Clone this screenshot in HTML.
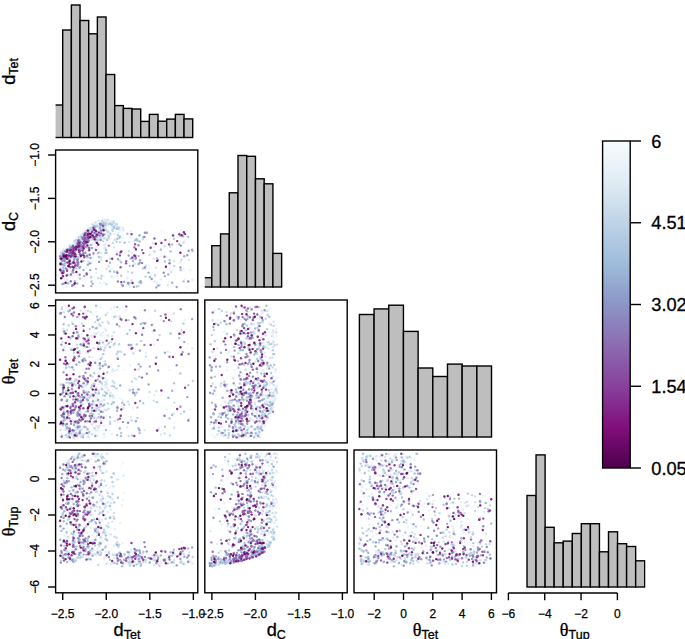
<!DOCTYPE html>
<html><head><meta charset="utf-8"><title>corner plot</title>
<style>html,body{margin:0;padding:0;background:#fff;}svg{display:block;}</style></head>
<body>
<svg width="685" height="639" viewBox="0 0 685 639" font-family="Liberation Sans, sans-serif">
<defs>
<linearGradient id="cb" x1="0" y1="1" x2="0" y2="0">
<stop offset="0.0000" stop-color="#4d004b"/>
<stop offset="0.1250" stop-color="#810f7c"/>
<stop offset="0.2500" stop-color="#88419d"/>
<stop offset="0.3750" stop-color="#8c6bb1"/>
<stop offset="0.5000" stop-color="#8c96c6"/>
<stop offset="0.6250" stop-color="#9ebcda"/>
<stop offset="0.7500" stop-color="#bfd3e6"/>
<stop offset="0.8750" stop-color="#e0ecf4"/>
<stop offset="1.0000" stop-color="#f7fcfd"/>
</linearGradient>
<clipPath id="c00"><rect x="55.60" y="0.00" width="142.20" height="142.90"/></clipPath>
<clipPath id="c10"><rect x="55.60" y="150.00" width="142.20" height="142.90"/></clipPath>
<clipPath id="c20"><rect x="55.60" y="300.00" width="142.20" height="142.90"/></clipPath>
<clipPath id="c30"><rect x="55.60" y="450.00" width="142.20" height="142.80"/></clipPath>
<clipPath id="c01"><rect x="204.80" y="0.00" width="142.40" height="142.90"/></clipPath>
<clipPath id="c11"><rect x="204.80" y="150.00" width="142.40" height="142.90"/></clipPath>
<clipPath id="c21"><rect x="204.80" y="300.00" width="142.40" height="142.90"/></clipPath>
<clipPath id="c31"><rect x="204.80" y="450.00" width="142.40" height="142.80"/></clipPath>
<clipPath id="c02"><rect x="354.00" y="0.00" width="142.50" height="142.90"/></clipPath>
<clipPath id="c12"><rect x="354.00" y="150.00" width="142.50" height="142.90"/></clipPath>
<clipPath id="c22"><rect x="354.00" y="300.00" width="142.50" height="142.90"/></clipPath>
<clipPath id="c32"><rect x="354.00" y="450.00" width="142.50" height="142.80"/></clipPath>
<clipPath id="c03"><rect x="503.20" y="0.00" width="142.40" height="142.90"/></clipPath>
<clipPath id="c13"><rect x="503.20" y="150.00" width="142.40" height="142.90"/></clipPath>
<clipPath id="c23"><rect x="503.20" y="300.00" width="142.40" height="142.90"/></clipPath>
<clipPath id="c33"><rect x="503.20" y="450.00" width="142.40" height="142.80"/></clipPath>
</defs>
<rect width="685" height="639" fill="#fff"/>
<g clip-path="url(#c00)" fill="#bebebe" stroke="#000" stroke-width="1.40" stroke-linejoin="miter">
<rect x="54.03" y="105.00" width="8.67" height="32.50"/>
<rect x="62.70" y="30.00" width="8.67" height="107.50"/>
<rect x="71.37" y="5.00" width="8.67" height="132.50"/>
<rect x="80.03" y="20.50" width="8.67" height="117.00"/>
<rect x="88.70" y="33.80" width="8.67" height="103.70"/>
<rect x="97.37" y="17.00" width="8.67" height="120.50"/>
<rect x="106.03" y="74.50" width="8.67" height="63.00"/>
<rect x="114.70" y="105.60" width="8.67" height="31.90"/>
<rect x="123.37" y="108.40" width="8.67" height="29.10"/>
<rect x="132.04" y="109.00" width="8.67" height="28.50"/>
<rect x="140.70" y="121.40" width="8.67" height="16.10"/>
<rect x="149.37" y="114.40" width="8.67" height="23.10"/>
<rect x="158.04" y="121.20" width="8.67" height="16.30"/>
<rect x="166.70" y="119.10" width="8.67" height="18.40"/>
<rect x="175.37" y="114.40" width="8.67" height="23.10"/>
<rect x="184.04" y="118.90" width="8.67" height="18.60"/>
</g>
<g clip-path="url(#c11)" fill="#bebebe" stroke="#000" stroke-width="1.40" stroke-linejoin="miter">
<rect x="203.07" y="277.70" width="8.73" height="9.30"/>
<rect x="211.80" y="245.70" width="8.73" height="41.30"/>
<rect x="220.53" y="233.90" width="8.73" height="53.10"/>
<rect x="229.26" y="192.80" width="8.73" height="94.20"/>
<rect x="237.99" y="155.50" width="8.73" height="131.50"/>
<rect x="246.72" y="156.30" width="8.73" height="130.70"/>
<rect x="255.45" y="178.80" width="8.73" height="108.20"/>
<rect x="264.18" y="183.80" width="8.73" height="103.20"/>
<rect x="272.91" y="253.40" width="8.73" height="33.60"/>
</g>
<g clip-path="url(#c22)" fill="#bebebe" stroke="#000" stroke-width="1.40" stroke-linejoin="miter">
<rect x="359.40" y="314.50" width="14.68" height="122.50"/>
<rect x="374.08" y="308.90" width="14.68" height="128.10"/>
<rect x="388.76" y="305.20" width="14.68" height="131.80"/>
<rect x="403.44" y="331.40" width="14.68" height="105.60"/>
<rect x="418.12" y="368.00" width="14.68" height="69.00"/>
<rect x="432.80" y="376.50" width="14.68" height="60.50"/>
<rect x="447.48" y="364.10" width="14.68" height="72.90"/>
<rect x="462.16" y="366.00" width="14.68" height="71.00"/>
<rect x="476.84" y="366.00" width="14.68" height="71.00"/>
</g>
<g clip-path="url(#c33)" fill="#bebebe" stroke="#000" stroke-width="1.40" stroke-linejoin="miter">
<rect x="527.00" y="495.50" width="9.05" height="91.50"/>
<rect x="536.05" y="454.90" width="9.06" height="132.10"/>
<rect x="545.11" y="527.30" width="9.05" height="59.70"/>
<rect x="554.16" y="542.80" width="9.06" height="44.20"/>
<rect x="563.22" y="541.10" width="9.05" height="45.90"/>
<rect x="572.27" y="533.50" width="9.06" height="53.50"/>
<rect x="581.33" y="523.70" width="9.05" height="63.30"/>
<rect x="590.38" y="523.70" width="9.06" height="63.30"/>
<rect x="599.44" y="551.80" width="9.05" height="35.20"/>
<rect x="608.50" y="531.80" width="9.05" height="55.20"/>
<rect x="617.55" y="543.70" width="9.06" height="43.30"/>
<rect x="626.61" y="546.50" width="9.05" height="40.50"/>
<rect x="635.66" y="560.80" width="9.06" height="26.20"/>
</g>
<g clip-path="url(#c10)" fill-opacity="0.92">
<circle cx="103.3" cy="253.0" r="1.18" fill="#f2f9fb"/>
<circle cx="77.1" cy="269.5" r="1.18" fill="#e8f1f7"/>
<circle cx="81.4" cy="236.4" r="1.18" fill="#eef6f9"/>
<circle cx="104.3" cy="226.3" r="1.18" fill="#f4fafc"/>
<circle cx="123.0" cy="231.2" r="1.18" fill="#eef6f9"/>
<circle cx="75.7" cy="242.2" r="1.18" fill="#edf5f9"/>
<circle cx="145.5" cy="276.6" r="1.18" fill="#bacfe4"/>
<circle cx="67.6" cy="249.0" r="1.18" fill="#f2f8fb"/>
<circle cx="92.8" cy="229.9" r="1.18" fill="#ecf4f9"/>
<circle cx="114.5" cy="222.4" r="1.18" fill="#f1f8fb"/>
<circle cx="71.9" cy="262.1" r="1.18" fill="#e9f2f7"/>
<circle cx="111.6" cy="225.8" r="1.18" fill="#f2f9fb"/>
<circle cx="106.9" cy="221.6" r="1.18" fill="#f4fafc"/>
<circle cx="189.3" cy="268.7" r="1.18" fill="#f5fafc"/>
<circle cx="87.1" cy="237.5" r="1.18" fill="#edf5f9"/>
<circle cx="102.5" cy="222.7" r="1.18" fill="#e5eff6"/>
<circle cx="93.7" cy="223.4" r="1.18" fill="#f1f8fb"/>
<circle cx="96.3" cy="231.2" r="1.18" fill="#d6e4f0"/>
<circle cx="93.0" cy="234.7" r="1.18" fill="#e9f3f8"/>
<circle cx="102.7" cy="222.1" r="1.18" fill="#eaf3f8"/>
<circle cx="76.6" cy="254.4" r="1.18" fill="#f0f7fa"/>
<circle cx="169.6" cy="270.0" r="1.18" fill="#eaf3f8"/>
<circle cx="121.6" cy="231.9" r="1.18" fill="#f6fbfd"/>
<circle cx="60.3" cy="255.9" r="1.18" fill="#f4fafc"/>
<circle cx="93.7" cy="275.7" r="1.18" fill="#f1f8fb"/>
<circle cx="107.2" cy="220.2" r="1.18" fill="#dae8f1"/>
<circle cx="108.7" cy="224.1" r="1.18" fill="#f1f8fb"/>
<circle cx="187.5" cy="287.8" r="1.18" fill="#edf5f9"/>
<circle cx="99.4" cy="260.7" r="1.18" fill="#f0f7fa"/>
<circle cx="108.4" cy="222.8" r="1.18" fill="#d8e6f1"/>
<circle cx="115.9" cy="228.7" r="1.18" fill="#cedeec"/>
<circle cx="101.3" cy="285.1" r="1.18" fill="#f6fbfd"/>
<circle cx="68.0" cy="258.3" r="1.18" fill="#e3eef5"/>
<circle cx="75.0" cy="259.6" r="1.18" fill="#d7e5f0"/>
<circle cx="74.2" cy="249.4" r="1.18" fill="#e6f0f6"/>
<circle cx="89.0" cy="231.1" r="1.18" fill="#cedeec"/>
<circle cx="104.0" cy="276.5" r="1.18" fill="#edf5f9"/>
<circle cx="76.9" cy="240.7" r="1.18" fill="#d0e0ed"/>
<circle cx="96.8" cy="225.4" r="1.18" fill="#e1edf5"/>
<circle cx="130.9" cy="231.6" r="1.18" fill="#e5eff6"/>
<circle cx="76.4" cy="240.2" r="1.18" fill="#e1edf4"/>
<circle cx="86.1" cy="268.1" r="1.18" fill="#e7f1f7"/>
<circle cx="122.5" cy="238.0" r="1.18" fill="#e4eff6"/>
<circle cx="74.1" cy="269.1" r="1.18" fill="#c2d5e7"/>
<circle cx="93.6" cy="224.6" r="1.18" fill="#f0f7fa"/>
<circle cx="99.9" cy="230.6" r="1.18" fill="#e9f3f8"/>
<circle cx="79.1" cy="236.2" r="1.18" fill="#f1f8fb"/>
<circle cx="96.7" cy="233.3" r="1.18" fill="#e7f1f7"/>
<circle cx="91.8" cy="233.6" r="1.18" fill="#e2edf5"/>
<circle cx="65.5" cy="262.8" r="1.18" fill="#e8f2f7"/>
<circle cx="122.0" cy="227.8" r="1.18" fill="#e6f0f7"/>
<circle cx="71.4" cy="247.6" r="1.18" fill="#e5f0f6"/>
<circle cx="66.7" cy="248.5" r="1.18" fill="#e3eef5"/>
<circle cx="107.5" cy="232.7" r="1.18" fill="#e5f0f6"/>
<circle cx="174.0" cy="285.9" r="1.18" fill="#edf5f9"/>
<circle cx="80.0" cy="236.7" r="1.18" fill="#f3fafc"/>
<circle cx="69.9" cy="275.3" r="1.18" fill="#e3eef5"/>
<circle cx="101.9" cy="236.4" r="1.18" fill="#f3f9fb"/>
<circle cx="160.8" cy="256.1" r="1.18" fill="#e8f1f7"/>
<circle cx="84.1" cy="239.6" r="1.18" fill="#dae7f1"/>
<circle cx="74.1" cy="241.2" r="1.18" fill="#c3d6e8"/>
<circle cx="100.9" cy="259.0" r="1.18" fill="#e8f1f7"/>
<circle cx="60.6" cy="252.8" r="1.18" fill="#f0f7fa"/>
<circle cx="118.1" cy="232.6" r="1.18" fill="#e6f0f6"/>
<circle cx="97.6" cy="254.2" r="1.18" fill="#e1edf4"/>
<circle cx="93.9" cy="235.1" r="1.18" fill="#e7f1f7"/>
<circle cx="88.1" cy="246.6" r="1.18" fill="#cedeec"/>
<circle cx="101.3" cy="231.4" r="1.18" fill="#f4fafc"/>
<circle cx="97.7" cy="224.0" r="1.18" fill="#e0ecf4"/>
<circle cx="77.0" cy="240.2" r="1.18" fill="#eef6f9"/>
<circle cx="111.6" cy="221.3" r="1.18" fill="#f1f8fb"/>
<circle cx="114.1" cy="234.0" r="1.18" fill="#dce9f2"/>
<circle cx="98.6" cy="228.4" r="1.18" fill="#eaf3f8"/>
<circle cx="108.8" cy="236.7" r="1.18" fill="#f2f8fb"/>
<circle cx="114.8" cy="277.3" r="1.18" fill="#f0f7fa"/>
<circle cx="73.4" cy="253.9" r="1.18" fill="#d2e1ee"/>
<circle cx="183.7" cy="269.0" r="1.18" fill="#edf5f9"/>
<circle cx="69.3" cy="247.0" r="1.18" fill="#f0f7fa"/>
<circle cx="62.6" cy="255.8" r="1.18" fill="#f0f7fa"/>
<circle cx="79.0" cy="237.4" r="1.18" fill="#eaf3f8"/>
<circle cx="100.2" cy="226.6" r="1.18" fill="#f7fcfd"/>
<circle cx="69.5" cy="245.5" r="1.18" fill="#e7f1f7"/>
<circle cx="106.1" cy="252.0" r="1.18" fill="#e7f1f7"/>
<circle cx="92.6" cy="257.9" r="1.18" fill="#ecf5f9"/>
<circle cx="104.1" cy="233.7" r="1.18" fill="#f0f7fa"/>
<circle cx="100.7" cy="232.8" r="1.18" fill="#f6fbfd"/>
<circle cx="81.9" cy="235.8" r="1.18" fill="#d1e1ee"/>
<circle cx="69.6" cy="254.7" r="1.18" fill="#f5fbfc"/>
<circle cx="122.5" cy="239.3" r="1.18" fill="#f6fcfd"/>
<circle cx="76.4" cy="253.8" r="1.18" fill="#f7fcfd"/>
<circle cx="71.8" cy="254.2" r="1.18" fill="#d5e4ef"/>
<circle cx="69.2" cy="262.5" r="1.18" fill="#e3eef5"/>
<circle cx="72.4" cy="246.0" r="1.18" fill="#e7f1f7"/>
<circle cx="88.7" cy="246.5" r="1.18" fill="#ddeaf3"/>
<circle cx="108.0" cy="221.7" r="1.18" fill="#f3f9fb"/>
<circle cx="71.4" cy="275.9" r="1.18" fill="#d9e7f1"/>
<circle cx="79.8" cy="236.6" r="1.18" fill="#f5fafc"/>
<circle cx="107.7" cy="220.0" r="1.18" fill="#c9daea"/>
<circle cx="150.2" cy="274.6" r="1.18" fill="#f0f7fa"/>
<circle cx="91.8" cy="226.7" r="1.18" fill="#f0f7fa"/>
<circle cx="92.4" cy="231.4" r="1.18" fill="#e3eef5"/>
<circle cx="105.2" cy="247.9" r="1.18" fill="#d4e3ef"/>
<circle cx="94.2" cy="225.5" r="1.18" fill="#e4eff6"/>
<circle cx="110.8" cy="221.6" r="1.18" fill="#ebf3f8"/>
<circle cx="82.6" cy="237.4" r="1.18" fill="#dde9f3"/>
<circle cx="73.3" cy="244.6" r="1.18" fill="#ebf4f8"/>
<circle cx="96.1" cy="232.0" r="1.18" fill="#e6f0f6"/>
<circle cx="100.4" cy="286.5" r="1.18" fill="#f5fbfc"/>
<circle cx="105.9" cy="235.7" r="1.18" fill="#e5f0f6"/>
<circle cx="113.3" cy="277.8" r="1.18" fill="#f4fafc"/>
<circle cx="88.6" cy="228.6" r="1.18" fill="#dae7f1"/>
<circle cx="127.3" cy="278.2" r="1.18" fill="#deeaf3"/>
<circle cx="72.4" cy="257.4" r="1.18" fill="#e5f0f6"/>
<circle cx="80.3" cy="238.6" r="1.18" fill="#dce9f2"/>
<circle cx="85.4" cy="233.7" r="1.18" fill="#cfdfed"/>
<circle cx="100.8" cy="225.3" r="1.18" fill="#cbdceb"/>
<circle cx="94.8" cy="232.0" r="1.18" fill="#deeaf3"/>
<circle cx="92.3" cy="261.2" r="1.18" fill="#f6fcfd"/>
<circle cx="103.0" cy="231.1" r="1.18" fill="#f7fcfd"/>
<circle cx="78.3" cy="251.6" r="1.18" fill="#e8f1f7"/>
<circle cx="90.8" cy="256.2" r="1.18" fill="#f0f7fa"/>
<circle cx="173.8" cy="266.1" r="1.18" fill="#c6d8e9"/>
<circle cx="112.2" cy="225.3" r="1.18" fill="#d5e3ef"/>
<circle cx="91.7" cy="286.5" r="1.18" fill="#f7fcfd"/>
<circle cx="130.1" cy="286.9" r="1.18" fill="#e6f0f6"/>
<circle cx="91.2" cy="231.5" r="1.18" fill="#e3eef5"/>
<circle cx="98.9" cy="223.1" r="1.18" fill="#f4fafc"/>
<circle cx="105.7" cy="220.9" r="1.18" fill="#f7fcfd"/>
<circle cx="79.4" cy="241.6" r="1.18" fill="#b4cbe2"/>
<circle cx="60.8" cy="259.4" r="1.18" fill="#f2f8fb"/>
<circle cx="70.7" cy="256.1" r="1.18" fill="#eff6fa"/>
<circle cx="114.8" cy="222.0" r="1.18" fill="#f5fbfc"/>
<circle cx="107.2" cy="238.2" r="1.18" fill="#e3eef5"/>
<circle cx="95.0" cy="224.4" r="1.18" fill="#e2edf5"/>
<circle cx="88.4" cy="241.9" r="1.18" fill="#e3eef5"/>
<circle cx="191.0" cy="269.9" r="1.18" fill="#f7fcfd"/>
<circle cx="99.2" cy="232.5" r="1.18" fill="#b7cde3"/>
<circle cx="81.0" cy="241.5" r="1.18" fill="#c5d7e8"/>
<circle cx="75.8" cy="249.3" r="1.18" fill="#dbe8f2"/>
<circle cx="64.7" cy="262.5" r="1.18" fill="#d8e6f0"/>
<circle cx="106.1" cy="250.2" r="1.18" fill="#e9f2f8"/>
<circle cx="94.4" cy="227.2" r="1.18" fill="#eff6fa"/>
<circle cx="73.3" cy="260.7" r="1.18" fill="#d7e5f0"/>
<circle cx="94.9" cy="247.7" r="1.18" fill="#cadbeb"/>
<circle cx="73.6" cy="272.9" r="1.18" fill="#e2edf5"/>
<circle cx="109.0" cy="231.1" r="1.18" fill="#e8f2f7"/>
<circle cx="101.9" cy="225.6" r="1.18" fill="#e3eef5"/>
<circle cx="78.1" cy="275.9" r="1.18" fill="#f0f7fa"/>
<circle cx="107.8" cy="223.6" r="1.18" fill="#d4e3ef"/>
<circle cx="100.7" cy="224.6" r="1.18" fill="#e4eff5"/>
<circle cx="113.7" cy="230.9" r="1.18" fill="#f7fcfd"/>
<circle cx="190.2" cy="270.2" r="1.18" fill="#e8f2f7"/>
<circle cx="103.6" cy="221.2" r="1.18" fill="#e3eef5"/>
<circle cx="119.4" cy="238.1" r="1.18" fill="#b3cae1"/>
<circle cx="98.8" cy="230.2" r="1.18" fill="#e4eff5"/>
<circle cx="67.1" cy="284.5" r="1.18" fill="#f7fcfd"/>
<circle cx="189.1" cy="260.0" r="1.18" fill="#d6e5f0"/>
<circle cx="99.2" cy="249.4" r="1.18" fill="#edf5f9"/>
<circle cx="67.2" cy="280.0" r="1.18" fill="#dfecf4"/>
<circle cx="111.9" cy="221.9" r="1.18" fill="#e6f0f6"/>
<circle cx="105.9" cy="242.2" r="1.18" fill="#ebf4f8"/>
<circle cx="92.9" cy="233.1" r="1.18" fill="#f5fafc"/>
<circle cx="92.7" cy="262.1" r="1.18" fill="#ebf3f8"/>
<circle cx="166.8" cy="257.3" r="1.18" fill="#e4eff5"/>
<circle cx="97.3" cy="236.9" r="1.18" fill="#e7f1f7"/>
<circle cx="73.3" cy="251.7" r="1.18" fill="#d8e6f1"/>
<circle cx="95.1" cy="247.2" r="1.18" fill="#f2f9fb"/>
<circle cx="69.2" cy="261.7" r="1.18" fill="#abc5df"/>
<circle cx="123.6" cy="238.4" r="1.18" fill="#eff6fa"/>
<circle cx="100.1" cy="225.2" r="1.18" fill="#cfdfed"/>
<circle cx="110.0" cy="221.2" r="1.18" fill="#e8f2f7"/>
<circle cx="81.6" cy="234.8" r="1.18" fill="#e6f0f6"/>
<circle cx="128.8" cy="284.6" r="1.18" fill="#bbd0e5"/>
<circle cx="102.7" cy="220.0" r="1.18" fill="#e7f1f7"/>
<circle cx="81.2" cy="247.2" r="1.18" fill="#e1edf5"/>
<circle cx="70.1" cy="245.6" r="1.18" fill="#f3f9fb"/>
<circle cx="111.3" cy="229.4" r="1.18" fill="#f0f7fa"/>
<circle cx="102.4" cy="277.5" r="1.18" fill="#f3fafc"/>
<circle cx="77.4" cy="272.2" r="1.18" fill="#e0ecf4"/>
<circle cx="104.7" cy="244.5" r="1.18" fill="#d0e0ed"/>
<circle cx="97.7" cy="222.7" r="1.18" fill="#eef5f9"/>
<circle cx="93.6" cy="223.8" r="1.18" fill="#f3f9fb"/>
<circle cx="108.3" cy="224.4" r="1.18" fill="#c6d8e9"/>
<circle cx="94.0" cy="225.1" r="1.18" fill="#e5eff6"/>
<circle cx="93.0" cy="232.5" r="1.18" fill="#e1edf5"/>
<circle cx="98.2" cy="228.1" r="1.18" fill="#e3eef5"/>
<circle cx="156.0" cy="267.7" r="1.18" fill="#d3e2ee"/>
<circle cx="156.5" cy="282.5" r="1.18" fill="#dbe9f2"/>
<circle cx="66.3" cy="286.6" r="1.18" fill="#deeaf3"/>
<circle cx="83.2" cy="232.7" r="1.18" fill="#eef6f9"/>
<circle cx="80.6" cy="237.8" r="1.18" fill="#e6f0f6"/>
<circle cx="94.7" cy="241.3" r="1.18" fill="#e2edf5"/>
<circle cx="105.4" cy="220.5" r="1.18" fill="#f3fafc"/>
<circle cx="93.7" cy="229.2" r="1.18" fill="#f5fbfc"/>
<circle cx="64.4" cy="249.8" r="1.18" fill="#f5fafc"/>
<circle cx="98.7" cy="221.1" r="1.18" fill="#c3d6e8"/>
<circle cx="100.3" cy="244.8" r="1.18" fill="#f5fbfc"/>
<circle cx="67.4" cy="268.6" r="1.18" fill="#ccddec"/>
<circle cx="89.6" cy="228.8" r="1.18" fill="#f7fcfd"/>
<circle cx="79.0" cy="277.4" r="1.18" fill="#e5f0f6"/>
<circle cx="92.3" cy="244.9" r="1.18" fill="#e8f1f7"/>
<circle cx="181.8" cy="234.4" r="1.18" fill="#eff6fa"/>
<circle cx="97.4" cy="222.0" r="1.18" fill="#eef5f9"/>
<circle cx="104.3" cy="282.5" r="1.18" fill="#e8f2f7"/>
<circle cx="67.2" cy="251.1" r="1.18" fill="#d1e1ee"/>
<circle cx="96.8" cy="222.3" r="1.18" fill="#e5eff6"/>
<circle cx="184.6" cy="279.1" r="1.18" fill="#e8f1f7"/>
<circle cx="72.5" cy="247.2" r="1.18" fill="#f0f7fa"/>
<circle cx="105.6" cy="228.3" r="1.18" fill="#e5f0f6"/>
<circle cx="78.7" cy="239.8" r="1.18" fill="#c9daea"/>
<circle cx="110.7" cy="223.8" r="1.18" fill="#d5e4ef"/>
<circle cx="63.7" cy="253.0" r="1.18" fill="#ecf4f9"/>
<circle cx="148.8" cy="269.0" r="1.18" fill="#f2f9fb"/>
<circle cx="61.0" cy="252.4" r="1.18" fill="#d7e5f0"/>
<circle cx="76.0" cy="281.1" r="1.18" fill="#f1f8fb"/>
<circle cx="101.1" cy="252.6" r="1.18" fill="#d7e6f0"/>
<circle cx="133.1" cy="234.5" r="1.18" fill="#e5f0f6"/>
<circle cx="184.7" cy="240.7" r="1.18" fill="#eef6fa"/>
<circle cx="101.6" cy="238.1" r="1.18" fill="#eaf3f8"/>
<circle cx="138.8" cy="285.8" r="1.18" fill="#cdddec"/>
<circle cx="154.3" cy="281.5" r="1.18" fill="#dfebf4"/>
<circle cx="110.6" cy="234.9" r="1.18" fill="#dbe8f2"/>
<circle cx="105.6" cy="222.5" r="1.18" fill="#e1edf4"/>
<circle cx="96.6" cy="234.2" r="1.18" fill="#f4fafc"/>
<circle cx="97.8" cy="234.8" r="1.18" fill="#cfdfed"/>
<circle cx="121.3" cy="284.2" r="1.18" fill="#d1e0ee"/>
<circle cx="100.6" cy="240.0" r="1.18" fill="#a4c0dc"/>
<circle cx="107.6" cy="234.9" r="1.18" fill="#dae8f2"/>
<circle cx="73.6" cy="251.7" r="1.18" fill="#b3cbe2"/>
<circle cx="95.7" cy="223.4" r="1.18" fill="#f5fbfc"/>
<circle cx="152.9" cy="243.1" r="1.18" fill="#dbe8f2"/>
<circle cx="117.3" cy="275.7" r="1.18" fill="#e0ecf4"/>
<circle cx="82.9" cy="234.7" r="1.18" fill="#ebf4f8"/>
<circle cx="76.3" cy="261.6" r="1.18" fill="#d8e6f1"/>
<circle cx="106.1" cy="264.6" r="1.18" fill="#f1f8fb"/>
<circle cx="61.1" cy="253.8" r="1.18" fill="#c8daea"/>
<circle cx="64.3" cy="264.1" r="1.18" fill="#99b1d4"/>
<circle cx="83.3" cy="241.7" r="1.18" fill="#d3e2ef"/>
<circle cx="161.2" cy="231.8" r="1.18" fill="#f1f8fb"/>
<circle cx="84.9" cy="231.8" r="1.18" fill="#edf5f9"/>
<circle cx="69.2" cy="258.2" r="1.18" fill="#c5d8e9"/>
<circle cx="74.4" cy="251.5" r="1.18" fill="#bfd3e6"/>
<circle cx="114.7" cy="223.5" r="1.18" fill="#e2edf5"/>
<circle cx="62.1" cy="275.8" r="1.18" fill="#e7f1f7"/>
<circle cx="110.2" cy="233.5" r="1.18" fill="#aec7e0"/>
<circle cx="100.6" cy="230.6" r="1.18" fill="#e0ecf4"/>
<circle cx="83.3" cy="238.5" r="1.18" fill="#d5e3ef"/>
<circle cx="82.4" cy="244.0" r="1.18" fill="#cadbeb"/>
<circle cx="117.9" cy="235.1" r="1.18" fill="#aec7e0"/>
<circle cx="99.1" cy="235.0" r="1.18" fill="#c8daea"/>
<circle cx="99.2" cy="227.7" r="1.18" fill="#dce9f2"/>
<circle cx="102.7" cy="238.2" r="1.18" fill="#deeaf3"/>
<circle cx="60.6" cy="274.4" r="1.18" fill="#edf5f9"/>
<circle cx="75.4" cy="241.3" r="1.18" fill="#e1ecf4"/>
<circle cx="112.5" cy="229.5" r="1.18" fill="#b6cde3"/>
<circle cx="96.2" cy="225.0" r="1.18" fill="#e1edf4"/>
<circle cx="99.6" cy="226.0" r="1.18" fill="#bfd3e6"/>
<circle cx="131.7" cy="280.5" r="1.18" fill="#c0d4e7"/>
<circle cx="97.8" cy="249.2" r="1.18" fill="#f6fbfd"/>
<circle cx="84.2" cy="237.6" r="1.18" fill="#ccddec"/>
<circle cx="66.1" cy="258.8" r="1.18" fill="#a4c0dc"/>
<circle cx="128.0" cy="271.7" r="1.18" fill="#d0e0ed"/>
<circle cx="92.5" cy="244.1" r="1.18" fill="#ddeaf3"/>
<circle cx="79.3" cy="267.9" r="1.18" fill="#cfdfed"/>
<circle cx="131.9" cy="252.9" r="1.18" fill="#e1ecf4"/>
<circle cx="117.6" cy="226.6" r="1.18" fill="#cadceb"/>
<circle cx="98.5" cy="222.2" r="1.18" fill="#f5fafc"/>
<circle cx="87.4" cy="228.9" r="1.18" fill="#e8f2f7"/>
<circle cx="63.5" cy="251.3" r="1.18" fill="#bed2e6"/>
<circle cx="82.6" cy="234.3" r="1.18" fill="#bdd1e5"/>
<circle cx="68.6" cy="246.4" r="1.18" fill="#eef6fa"/>
<circle cx="103.3" cy="228.3" r="1.18" fill="#e7f1f7"/>
<circle cx="99.6" cy="226.5" r="1.18" fill="#e0ecf4"/>
<circle cx="113.8" cy="221.1" r="1.18" fill="#ccddeb"/>
<circle cx="63.2" cy="255.1" r="1.18" fill="#cadbeb"/>
<circle cx="173.3" cy="235.9" r="1.18" fill="#eaf3f8"/>
<circle cx="78.0" cy="257.0" r="1.18" fill="#afc8e0"/>
<circle cx="91.7" cy="244.8" r="1.18" fill="#cedeec"/>
<circle cx="67.3" cy="249.8" r="1.18" fill="#c0d4e7"/>
<circle cx="105.0" cy="233.9" r="1.18" fill="#d0e0ed"/>
<circle cx="112.8" cy="243.1" r="1.18" fill="#bbd0e5"/>
<circle cx="105.0" cy="219.6" r="1.18" fill="#e9f2f7"/>
<circle cx="164.6" cy="246.0" r="1.18" fill="#c8daea"/>
<circle cx="106.8" cy="225.7" r="1.18" fill="#f0f7fa"/>
<circle cx="111.7" cy="268.8" r="1.18" fill="#e8f1f7"/>
<circle cx="98.2" cy="278.3" r="1.18" fill="#c6d8e9"/>
<circle cx="81.7" cy="238.8" r="1.18" fill="#cadbeb"/>
<circle cx="103.3" cy="232.3" r="1.18" fill="#edf5f9"/>
<circle cx="88.3" cy="261.3" r="1.18" fill="#cadbea"/>
<circle cx="104.0" cy="224.3" r="1.18" fill="#b7cee3"/>
<circle cx="106.1" cy="225.6" r="1.18" fill="#d2e1ee"/>
<circle cx="107.9" cy="231.6" r="1.18" fill="#d3e2ee"/>
<circle cx="102.6" cy="225.7" r="1.18" fill="#f2f9fb"/>
<circle cx="103.5" cy="244.3" r="1.18" fill="#eaf3f8"/>
<circle cx="120.2" cy="230.2" r="1.18" fill="#e5f0f6"/>
<circle cx="74.8" cy="243.4" r="1.18" fill="#ddeaf3"/>
<circle cx="105.4" cy="237.2" r="1.18" fill="#f5fafc"/>
<circle cx="102.5" cy="235.7" r="1.18" fill="#d0e0ed"/>
<circle cx="62.0" cy="272.9" r="1.18" fill="#c7d9e9"/>
<circle cx="64.4" cy="254.3" r="1.18" fill="#adc7e0"/>
<circle cx="101.4" cy="230.7" r="1.18" fill="#dbe8f2"/>
<circle cx="95.4" cy="222.6" r="1.18" fill="#c9daea"/>
<circle cx="77.3" cy="238.2" r="1.18" fill="#dfebf4"/>
<circle cx="106.5" cy="284.3" r="1.18" fill="#c8daea"/>
<circle cx="114.2" cy="247.4" r="1.18" fill="#dae7f1"/>
<circle cx="68.3" cy="258.1" r="1.18" fill="#adc7e0"/>
<circle cx="77.9" cy="241.7" r="1.18" fill="#b7cde3"/>
<circle cx="66.0" cy="249.5" r="1.18" fill="#cfdfed"/>
<circle cx="106.1" cy="230.7" r="1.18" fill="#f4fafc"/>
<circle cx="79.0" cy="268.8" r="1.18" fill="#eff6fa"/>
<circle cx="111.5" cy="276.5" r="1.18" fill="#d6e4f0"/>
<circle cx="167.8" cy="285.2" r="1.18" fill="#d6e4f0"/>
<circle cx="102.9" cy="228.8" r="1.18" fill="#a9c3de"/>
<circle cx="88.5" cy="254.9" r="1.18" fill="#bbd0e4"/>
<circle cx="125.5" cy="282.3" r="1.18" fill="#e5f0f6"/>
<circle cx="87.4" cy="232.4" r="1.18" fill="#eaf3f8"/>
<circle cx="77.2" cy="242.6" r="1.18" fill="#d9e7f1"/>
<circle cx="153.7" cy="258.4" r="1.18" fill="#cddeec"/>
<circle cx="142.8" cy="239.2" r="1.18" fill="#c9daea"/>
<circle cx="154.4" cy="251.5" r="1.18" fill="#b4cce2"/>
<circle cx="92.1" cy="232.3" r="1.18" fill="#aec7e0"/>
<circle cx="92.5" cy="232.6" r="1.18" fill="#b2cae1"/>
<circle cx="90.8" cy="239.6" r="1.18" fill="#dce9f2"/>
<circle cx="65.9" cy="268.2" r="1.18" fill="#abc5df"/>
<circle cx="180.6" cy="262.4" r="1.18" fill="#d9e7f1"/>
<circle cx="114.2" cy="227.9" r="1.18" fill="#abc5df"/>
<circle cx="111.1" cy="223.9" r="1.18" fill="#ccddeb"/>
<circle cx="67.8" cy="274.8" r="1.18" fill="#b0c8e0"/>
<circle cx="110.1" cy="258.6" r="1.18" fill="#bfd3e6"/>
<circle cx="74.2" cy="247.1" r="1.18" fill="#e3eef5"/>
<circle cx="127.4" cy="233.8" r="1.18" fill="#9fbdda"/>
<circle cx="76.7" cy="244.3" r="1.18" fill="#aec7e0"/>
<circle cx="117.1" cy="228.5" r="1.18" fill="#97add2"/>
<circle cx="100.1" cy="229.2" r="1.18" fill="#b8cee3"/>
<circle cx="112.8" cy="223.2" r="1.18" fill="#e3eef5"/>
<circle cx="77.9" cy="239.3" r="1.18" fill="#cadceb"/>
<circle cx="96.6" cy="233.4" r="1.18" fill="#d3e2ee"/>
<circle cx="118.5" cy="229.0" r="1.18" fill="#b6cde3"/>
<circle cx="108.7" cy="238.3" r="1.18" fill="#bcd1e5"/>
<circle cx="92.3" cy="234.8" r="1.18" fill="#d1e1ee"/>
<circle cx="144.7" cy="268.2" r="1.18" fill="#d9e7f1"/>
<circle cx="106.2" cy="236.8" r="1.18" fill="#f3f9fb"/>
<circle cx="117.3" cy="227.2" r="1.18" fill="#c8daea"/>
<circle cx="96.1" cy="230.8" r="1.18" fill="#9cb7d8"/>
<circle cx="158.8" cy="285.0" r="1.18" fill="#d7e5f0"/>
<circle cx="82.5" cy="239.3" r="1.18" fill="#b4cce2"/>
<circle cx="89.2" cy="231.8" r="1.18" fill="#b7cde3"/>
<circle cx="67.0" cy="261.7" r="1.18" fill="#eff7fa"/>
<circle cx="88.9" cy="229.9" r="1.18" fill="#e3eef5"/>
<circle cx="83.1" cy="245.4" r="1.18" fill="#c0d4e6"/>
<circle cx="114.3" cy="225.9" r="1.18" fill="#aac4de"/>
<circle cx="85.5" cy="231.4" r="1.18" fill="#dae7f1"/>
<circle cx="159.4" cy="240.7" r="1.18" fill="#f0f7fa"/>
<circle cx="67.0" cy="278.8" r="1.18" fill="#ecf4f9"/>
<circle cx="62.1" cy="261.2" r="1.18" fill="#a7c3dd"/>
<circle cx="100.2" cy="256.6" r="1.18" fill="#d5e4ef"/>
<circle cx="85.2" cy="235.0" r="1.18" fill="#9ab5d6"/>
<circle cx="164.9" cy="276.1" r="1.18" fill="#93a5ce"/>
<circle cx="111.3" cy="227.8" r="1.18" fill="#e6f0f6"/>
<circle cx="81.9" cy="238.6" r="1.18" fill="#dbe8f2"/>
<circle cx="105.8" cy="229.6" r="1.18" fill="#b9cfe4"/>
<circle cx="86.7" cy="245.2" r="1.18" fill="#b0c8e0"/>
<circle cx="183.5" cy="242.5" r="1.18" fill="#c7d9e9"/>
<circle cx="104.5" cy="226.7" r="1.18" fill="#dae7f1"/>
<circle cx="87.8" cy="233.2" r="1.18" fill="#d2e2ee"/>
<circle cx="101.1" cy="237.8" r="1.18" fill="#d6e4f0"/>
<circle cx="87.4" cy="232.5" r="1.18" fill="#dce9f2"/>
<circle cx="104.9" cy="220.8" r="1.18" fill="#e7f1f7"/>
<circle cx="89.4" cy="237.7" r="1.18" fill="#d0e0ed"/>
<circle cx="192.3" cy="279.8" r="1.18" fill="#dae8f1"/>
<circle cx="137.5" cy="240.6" r="1.18" fill="#a4c0dc"/>
<circle cx="129.8" cy="283.0" r="1.18" fill="#b7cde3"/>
<circle cx="133.4" cy="258.7" r="1.18" fill="#c2d5e7"/>
<circle cx="192.8" cy="251.2" r="1.18" fill="#b8cee3"/>
<circle cx="113.3" cy="224.0" r="1.18" fill="#c4d7e8"/>
<circle cx="102.0" cy="226.8" r="1.18" fill="#e2eef5"/>
<circle cx="64.4" cy="251.7" r="1.18" fill="#dbe9f2"/>
<circle cx="63.8" cy="270.7" r="1.18" fill="#c6d8e9"/>
<circle cx="62.4" cy="253.7" r="1.18" fill="#d3e2ee"/>
<circle cx="98.0" cy="232.4" r="1.18" fill="#ccddeb"/>
<circle cx="61.3" cy="253.2" r="1.18" fill="#bed2e5"/>
<circle cx="159.6" cy="285.1" r="1.18" fill="#b8cee3"/>
<circle cx="114.8" cy="239.8" r="1.18" fill="#cbdceb"/>
<circle cx="171.2" cy="272.0" r="1.18" fill="#c7d9e9"/>
<circle cx="104.1" cy="229.6" r="1.18" fill="#9bb6d7"/>
<circle cx="79.3" cy="251.8" r="1.18" fill="#9ebcda"/>
<circle cx="95.0" cy="228.4" r="1.18" fill="#b0c9e1"/>
<circle cx="93.6" cy="227.2" r="1.18" fill="#c1d5e7"/>
<circle cx="154.0" cy="247.2" r="1.18" fill="#e1edf4"/>
<circle cx="77.5" cy="248.9" r="1.18" fill="#abc5df"/>
<circle cx="81.1" cy="246.6" r="1.18" fill="#d9e6f1"/>
<circle cx="103.9" cy="238.4" r="1.18" fill="#d6e5f0"/>
<circle cx="96.5" cy="272.8" r="1.18" fill="#dce9f2"/>
<circle cx="181.5" cy="259.9" r="1.18" fill="#c5d7e8"/>
<circle cx="131.1" cy="236.1" r="1.18" fill="#e1edf4"/>
<circle cx="82.5" cy="246.7" r="1.18" fill="#d5e4ef"/>
<circle cx="69.1" cy="253.8" r="1.18" fill="#f1f8fa"/>
<circle cx="108.5" cy="266.3" r="1.18" fill="#c6d8e9"/>
<circle cx="145.9" cy="269.0" r="1.18" fill="#e2eef5"/>
<circle cx="62.9" cy="251.4" r="1.18" fill="#c2d5e7"/>
<circle cx="87.8" cy="228.5" r="1.18" fill="#ebf3f8"/>
<circle cx="174.1" cy="261.1" r="1.18" fill="#ccddeb"/>
<circle cx="105.4" cy="223.6" r="1.18" fill="#cadceb"/>
<circle cx="116.7" cy="224.2" r="1.18" fill="#bbd0e5"/>
<circle cx="114.4" cy="225.6" r="1.18" fill="#c5d8e9"/>
<circle cx="117.1" cy="251.5" r="1.18" fill="#deebf3"/>
<circle cx="81.9" cy="239.5" r="1.18" fill="#cedfed"/>
<circle cx="168.3" cy="274.5" r="1.18" fill="#97add2"/>
<circle cx="76.2" cy="239.9" r="1.18" fill="#bbd0e4"/>
<circle cx="101.4" cy="257.9" r="1.18" fill="#d2e1ee"/>
<circle cx="85.9" cy="256.4" r="1.18" fill="#c2d5e7"/>
<circle cx="87.9" cy="230.0" r="1.18" fill="#c7d9ea"/>
<circle cx="90.6" cy="245.0" r="1.18" fill="#99b0d4"/>
<circle cx="73.1" cy="244.5" r="1.18" fill="#d5e4ef"/>
<circle cx="94.1" cy="225.6" r="1.18" fill="#d9e7f1"/>
<circle cx="67.0" cy="250.3" r="1.18" fill="#b4cbe2"/>
<circle cx="101.0" cy="260.7" r="1.18" fill="#e6f0f6"/>
<circle cx="78.5" cy="262.2" r="1.18" fill="#e3eef5"/>
<circle cx="136.3" cy="239.1" r="1.18" fill="#d4e3ef"/>
<circle cx="96.8" cy="246.5" r="1.18" fill="#d5e4ef"/>
<circle cx="91.5" cy="258.0" r="1.18" fill="#e3eef5"/>
<circle cx="86.6" cy="232.8" r="1.18" fill="#e5eff6"/>
<circle cx="77.2" cy="264.4" r="1.18" fill="#b3cbe2"/>
<circle cx="168.9" cy="282.0" r="1.18" fill="#f1f8fb"/>
<circle cx="89.4" cy="229.5" r="1.18" fill="#bacfe4"/>
<circle cx="75.7" cy="241.4" r="1.18" fill="#c4d7e8"/>
<circle cx="68.8" cy="249.3" r="1.18" fill="#ccdceb"/>
<circle cx="129.2" cy="242.1" r="1.18" fill="#d1e0ee"/>
<circle cx="104.8" cy="230.4" r="1.18" fill="#bcd1e5"/>
<circle cx="130.4" cy="237.6" r="1.18" fill="#e2edf5"/>
<circle cx="102.1" cy="226.4" r="1.18" fill="#d5e4ef"/>
<circle cx="96.3" cy="243.0" r="1.18" fill="#cfdfed"/>
<circle cx="149.5" cy="255.0" r="1.18" fill="#c6d8e9"/>
<circle cx="61.8" cy="278.1" r="1.18" fill="#b0c9e1"/>
<circle cx="173.5" cy="235.2" r="1.18" fill="#c9dbea"/>
<circle cx="86.0" cy="235.5" r="1.18" fill="#aec7e0"/>
<circle cx="80.9" cy="236.4" r="1.18" fill="#d9e7f1"/>
<circle cx="170.0" cy="246.5" r="1.18" fill="#c2d5e7"/>
<circle cx="81.0" cy="237.8" r="1.18" fill="#cedeec"/>
<circle cx="90.7" cy="228.0" r="1.18" fill="#bacfe4"/>
<circle cx="93.6" cy="225.5" r="1.18" fill="#d0e0ed"/>
<circle cx="70.4" cy="255.9" r="1.18" fill="#b6cde3"/>
<circle cx="153.0" cy="243.4" r="1.18" fill="#dbe8f2"/>
<circle cx="94.0" cy="228.9" r="1.18" fill="#cfdfed"/>
<circle cx="80.8" cy="235.7" r="1.18" fill="#cfdfed"/>
<circle cx="101.2" cy="278.5" r="1.18" fill="#b9cfe4"/>
<circle cx="160.8" cy="279.4" r="1.18" fill="#dde9f3"/>
<circle cx="90.8" cy="263.1" r="1.18" fill="#bcd1e5"/>
<circle cx="69.5" cy="245.4" r="1.18" fill="#bbd0e5"/>
<circle cx="128.8" cy="251.0" r="1.18" fill="#c8daea"/>
<circle cx="113.7" cy="224.4" r="1.18" fill="#ddeaf3"/>
<circle cx="89.7" cy="230.1" r="1.18" fill="#abc5df"/>
<circle cx="180.7" cy="269.1" r="1.18" fill="#cfdfed"/>
<circle cx="64.7" cy="265.7" r="1.18" fill="#a5c1dd"/>
<circle cx="68.7" cy="268.7" r="1.18" fill="#eaf3f8"/>
<circle cx="63.4" cy="257.2" r="1.18" fill="#dae7f1"/>
<circle cx="137.5" cy="240.1" r="1.18" fill="#a8c3dd"/>
<circle cx="104.9" cy="238.2" r="1.18" fill="#c7d9e9"/>
<circle cx="113.6" cy="227.1" r="1.18" fill="#a1bedb"/>
<circle cx="103.3" cy="223.2" r="1.18" fill="#a3bfdc"/>
<circle cx="65.9" cy="259.3" r="1.18" fill="#c8daea"/>
<circle cx="73.6" cy="257.7" r="1.18" fill="#c8daea"/>
<circle cx="62.1" cy="255.7" r="1.18" fill="#b0c8e0"/>
<circle cx="116.6" cy="241.8" r="1.18" fill="#b4cce2"/>
<circle cx="106.5" cy="268.9" r="1.18" fill="#cddeec"/>
<circle cx="68.1" cy="249.0" r="1.18" fill="#b6cde3"/>
<circle cx="123.5" cy="229.7" r="1.18" fill="#d9e7f1"/>
<circle cx="69.7" cy="255.1" r="1.18" fill="#ebf3f8"/>
<circle cx="75.7" cy="246.9" r="1.18" fill="#9dbad9"/>
<circle cx="112.6" cy="221.5" r="1.18" fill="#d6e5f0"/>
<circle cx="106.7" cy="220.7" r="1.18" fill="#dfebf4"/>
<circle cx="86.6" cy="247.6" r="1.18" fill="#eaf3f8"/>
<circle cx="105.9" cy="230.1" r="1.18" fill="#c0d4e6"/>
<circle cx="129.8" cy="266.0" r="1.18" fill="#afc8e0"/>
<circle cx="73.8" cy="257.5" r="1.18" fill="#adc7df"/>
<circle cx="102.1" cy="224.7" r="1.18" fill="#ccddec"/>
<circle cx="100.2" cy="282.9" r="1.18" fill="#deeaf3"/>
<circle cx="75.5" cy="240.4" r="1.18" fill="#c1d4e7"/>
<circle cx="91.5" cy="281.5" r="1.18" fill="#a1bedb"/>
<circle cx="70.5" cy="249.1" r="1.18" fill="#dbe8f2"/>
<circle cx="70.3" cy="247.4" r="1.18" fill="#9bb6d7"/>
<circle cx="74.7" cy="281.3" r="1.18" fill="#9dbad9"/>
<circle cx="180.8" cy="270.2" r="1.18" fill="#b2cae1"/>
<circle cx="183.5" cy="281.5" r="1.18" fill="#a6c2dd"/>
<circle cx="63.1" cy="260.6" r="1.18" fill="#8c90c3"/>
<circle cx="70.9" cy="249.3" r="1.18" fill="#a8c3de"/>
<circle cx="106.4" cy="224.0" r="1.18" fill="#d0e0ed"/>
<circle cx="104.8" cy="220.2" r="1.18" fill="#c3d6e8"/>
<circle cx="104.5" cy="247.8" r="1.18" fill="#d9e7f1"/>
<circle cx="76.3" cy="248.0" r="1.18" fill="#dae7f1"/>
<circle cx="100.6" cy="223.6" r="1.18" fill="#c2d5e7"/>
<circle cx="69.4" cy="250.0" r="1.18" fill="#b7cde3"/>
<circle cx="100.2" cy="228.1" r="1.18" fill="#92a3cd"/>
<circle cx="121.2" cy="275.8" r="1.18" fill="#acc6df"/>
<circle cx="65.1" cy="250.7" r="1.18" fill="#b9cfe4"/>
<circle cx="97.1" cy="239.6" r="1.18" fill="#b1cae1"/>
<circle cx="87.7" cy="257.3" r="1.18" fill="#a8c3de"/>
<circle cx="62.0" cy="255.0" r="1.18" fill="#c6d9e9"/>
<circle cx="92.4" cy="224.4" r="1.18" fill="#c3d6e8"/>
<circle cx="79.1" cy="237.2" r="1.18" fill="#bcd1e5"/>
<circle cx="120.7" cy="227.4" r="1.18" fill="#f2f9fb"/>
<circle cx="89.3" cy="237.9" r="1.18" fill="#a3c0dc"/>
<circle cx="71.6" cy="246.8" r="1.18" fill="#b4cbe2"/>
<circle cx="78.2" cy="239.6" r="1.18" fill="#f0f7fa"/>
<circle cx="76.9" cy="247.5" r="1.18" fill="#c3d6e8"/>
<circle cx="74.8" cy="246.9" r="1.18" fill="#cadbea"/>
<circle cx="92.3" cy="235.9" r="1.18" fill="#9dbad9"/>
<circle cx="80.1" cy="278.6" r="1.18" fill="#a8c3de"/>
<circle cx="107.2" cy="240.0" r="1.18" fill="#adc6df"/>
<circle cx="140.1" cy="260.3" r="1.18" fill="#91a0cb"/>
<circle cx="99.1" cy="237.5" r="1.18" fill="#c1d5e7"/>
<circle cx="95.8" cy="246.3" r="1.18" fill="#e9f2f7"/>
<circle cx="130.8" cy="258.6" r="1.18" fill="#94a7cf"/>
<circle cx="100.5" cy="224.2" r="1.18" fill="#d0e0ed"/>
<circle cx="80.6" cy="242.0" r="1.18" fill="#94a7cf"/>
<circle cx="67.3" cy="258.5" r="1.18" fill="#a4c0dc"/>
<circle cx="102.0" cy="221.2" r="1.18" fill="#b2cae1"/>
<circle cx="60.6" cy="268.8" r="1.18" fill="#cadceb"/>
<circle cx="80.0" cy="257.8" r="1.18" fill="#d4e3ef"/>
<circle cx="169.6" cy="260.2" r="1.18" fill="#a2bfdb"/>
<circle cx="66.3" cy="268.0" r="1.18" fill="#eef5f9"/>
<circle cx="83.0" cy="243.0" r="1.18" fill="#9ebbda"/>
<circle cx="69.9" cy="266.8" r="1.18" fill="#cadceb"/>
<circle cx="139.3" cy="282.2" r="1.18" fill="#abc5df"/>
<circle cx="68.8" cy="255.1" r="1.18" fill="#a7c2dd"/>
<circle cx="98.8" cy="257.1" r="1.18" fill="#9fbcda"/>
<circle cx="100.1" cy="239.5" r="1.18" fill="#d7e5f0"/>
<circle cx="155.1" cy="275.3" r="1.18" fill="#b9cfe4"/>
<circle cx="68.7" cy="250.1" r="1.18" fill="#b6cde3"/>
<circle cx="84.6" cy="239.5" r="1.18" fill="#91a1cc"/>
<circle cx="72.2" cy="272.0" r="1.18" fill="#a9c4de"/>
<circle cx="96.1" cy="226.3" r="1.18" fill="#b6cde3"/>
<circle cx="117.3" cy="238.8" r="1.18" fill="#9ebbda"/>
<circle cx="63.6" cy="283.7" r="1.18" fill="#8c8fc3"/>
<circle cx="77.3" cy="283.5" r="1.18" fill="#9ebcda"/>
<circle cx="91.2" cy="234.7" r="1.18" fill="#ccddec"/>
<circle cx="95.8" cy="238.1" r="1.18" fill="#d2e2ee"/>
<circle cx="119.7" cy="260.4" r="1.18" fill="#c5d7e8"/>
<circle cx="107.7" cy="231.8" r="1.18" fill="#bbd0e5"/>
<circle cx="76.0" cy="268.2" r="1.18" fill="#b4cbe2"/>
<circle cx="103.0" cy="241.1" r="1.18" fill="#bcd1e5"/>
<circle cx="91.1" cy="277.2" r="1.18" fill="#b0c9e1"/>
<circle cx="63.0" cy="258.3" r="1.18" fill="#8c80bb"/>
<circle cx="184.3" cy="256.3" r="1.18" fill="#94a7cf"/>
<circle cx="83.9" cy="233.6" r="1.18" fill="#eff7fa"/>
<circle cx="119.9" cy="242.3" r="1.18" fill="#c3d6e8"/>
<circle cx="187.3" cy="255.2" r="1.18" fill="#8c96c6"/>
<circle cx="63.4" cy="249.6" r="1.18" fill="#d1e0ed"/>
<circle cx="99.9" cy="223.7" r="1.18" fill="#8c96c6"/>
<circle cx="75.5" cy="258.6" r="1.18" fill="#c2d5e7"/>
<circle cx="71.5" cy="263.5" r="1.18" fill="#909eca"/>
<circle cx="106.0" cy="224.0" r="1.18" fill="#cfdfed"/>
<circle cx="76.8" cy="245.2" r="1.18" fill="#c3d6e8"/>
<circle cx="113.6" cy="222.7" r="1.18" fill="#c3d6e8"/>
<circle cx="90.2" cy="229.4" r="1.18" fill="#c1d5e7"/>
<circle cx="103.0" cy="227.6" r="1.18" fill="#9dbad9"/>
<circle cx="140.8" cy="282.9" r="1.18" fill="#99b1d4"/>
<circle cx="66.4" cy="252.3" r="1.18" fill="#b0c8e0"/>
<circle cx="101.7" cy="275.8" r="1.18" fill="#b8cee3"/>
<circle cx="86.7" cy="233.3" r="1.18" fill="#a3c0dc"/>
<circle cx="146.1" cy="265.8" r="1.18" fill="#c6d9e9"/>
<circle cx="120.2" cy="252.7" r="1.18" fill="#93a4ce"/>
<circle cx="96.9" cy="226.0" r="1.18" fill="#b8cee3"/>
<circle cx="86.4" cy="240.1" r="1.18" fill="#99b2d5"/>
<circle cx="98.5" cy="236.2" r="1.18" fill="#d2e2ee"/>
<circle cx="174.0" cy="238.7" r="1.18" fill="#a9c4de"/>
<circle cx="105.0" cy="225.3" r="1.18" fill="#abc5df"/>
<circle cx="80.4" cy="250.1" r="1.18" fill="#9cb8d8"/>
<circle cx="109.9" cy="223.8" r="1.18" fill="#a5c1dd"/>
<circle cx="123.1" cy="227.7" r="1.18" fill="#e4eff5"/>
<circle cx="164.9" cy="261.5" r="1.18" fill="#a5c1dc"/>
<circle cx="68.2" cy="250.9" r="1.18" fill="#c6d8e9"/>
<circle cx="65.3" cy="262.5" r="1.18" fill="#a1bedb"/>
<circle cx="74.5" cy="258.4" r="1.18" fill="#aec7e0"/>
<circle cx="148.6" cy="272.6" r="1.18" fill="#8f9cc9"/>
<circle cx="180.3" cy="235.9" r="1.18" fill="#a8c3dd"/>
<circle cx="160.8" cy="249.6" r="1.18" fill="#96abd1"/>
<circle cx="86.4" cy="231.0" r="1.18" fill="#b6cde3"/>
<circle cx="119.1" cy="227.7" r="1.18" fill="#b6cde3"/>
<circle cx="85.9" cy="235.8" r="1.18" fill="#afc8e0"/>
<circle cx="105.4" cy="252.9" r="1.18" fill="#b2cae1"/>
<circle cx="66.5" cy="249.7" r="1.18" fill="#c1d4e7"/>
<circle cx="121.0" cy="262.3" r="1.18" fill="#a0bedb"/>
<circle cx="87.6" cy="237.7" r="1.18" fill="#95a9d0"/>
<circle cx="91.9" cy="239.7" r="1.18" fill="#cedeec"/>
<circle cx="136.4" cy="239.2" r="1.18" fill="#9cb8d8"/>
<circle cx="105.9" cy="249.9" r="1.18" fill="#a0bddb"/>
<circle cx="90.4" cy="258.0" r="1.18" fill="#909fcb"/>
<circle cx="146.8" cy="232.7" r="1.18" fill="#8c90c3"/>
<circle cx="72.6" cy="252.6" r="1.18" fill="#a4c0dc"/>
<circle cx="132.0" cy="272.7" r="1.18" fill="#b6cde3"/>
<circle cx="80.3" cy="241.7" r="1.18" fill="#d6e5f0"/>
<circle cx="87.5" cy="242.5" r="1.18" fill="#9bb6d7"/>
<circle cx="143.2" cy="268.4" r="1.18" fill="#b0c8e0"/>
<circle cx="98.6" cy="252.4" r="1.18" fill="#b0c8e0"/>
<circle cx="73.3" cy="245.6" r="1.18" fill="#aec7e0"/>
<circle cx="111.6" cy="224.7" r="1.18" fill="#a8c3de"/>
<circle cx="61.7" cy="255.7" r="1.18" fill="#acc6df"/>
<circle cx="143.3" cy="237.2" r="1.18" fill="#a9c4de"/>
<circle cx="79.5" cy="240.5" r="1.18" fill="#a8c3de"/>
<circle cx="132.1" cy="258.0" r="1.18" fill="#a8c3de"/>
<circle cx="172.2" cy="282.7" r="1.18" fill="#98afd3"/>
<circle cx="104.9" cy="220.1" r="1.18" fill="#e4eff5"/>
<circle cx="179.2" cy="244.2" r="1.18" fill="#9ebbda"/>
<circle cx="95.2" cy="234.2" r="1.18" fill="#c3d6e8"/>
<circle cx="66.9" cy="250.1" r="1.18" fill="#909eca"/>
<circle cx="101.0" cy="225.1" r="1.18" fill="#909eca"/>
<circle cx="92.4" cy="229.6" r="1.18" fill="#97add2"/>
<circle cx="60.8" cy="270.1" r="1.18" fill="#b9cfe4"/>
<circle cx="73.7" cy="254.4" r="1.18" fill="#9ab4d6"/>
<circle cx="72.2" cy="285.4" r="1.18" fill="#8c93c4"/>
<circle cx="77.9" cy="245.8" r="1.18" fill="#a3c0dc"/>
<circle cx="87.8" cy="264.7" r="1.18" fill="#909eca"/>
<circle cx="188.3" cy="237.0" r="1.18" fill="#9ebbda"/>
<circle cx="108.9" cy="236.4" r="1.18" fill="#b4cbe2"/>
<circle cx="99.1" cy="261.9" r="1.18" fill="#8c88bf"/>
<circle cx="67.2" cy="283.1" r="1.18" fill="#99b2d5"/>
<circle cx="139.7" cy="241.4" r="1.18" fill="#9ebbda"/>
<circle cx="122.2" cy="285.0" r="1.18" fill="#a0bddb"/>
<circle cx="105.6" cy="223.1" r="1.18" fill="#aec7e0"/>
<circle cx="78.3" cy="245.2" r="1.18" fill="#8c82bc"/>
<circle cx="74.0" cy="254.7" r="1.18" fill="#909eca"/>
<circle cx="97.8" cy="234.6" r="1.18" fill="#8d99c8"/>
<circle cx="102.7" cy="234.6" r="1.18" fill="#a7c3dd"/>
<circle cx="97.0" cy="237.0" r="1.18" fill="#a8c3de"/>
<circle cx="71.5" cy="246.8" r="1.18" fill="#9dbbd9"/>
<circle cx="184.2" cy="234.1" r="1.18" fill="#a6c2dd"/>
<circle cx="87.8" cy="231.0" r="1.18" fill="#a4c0dc"/>
<circle cx="84.6" cy="233.7" r="1.18" fill="#9db9d8"/>
<circle cx="144.9" cy="232.7" r="1.18" fill="#8c88bf"/>
<circle cx="83.5" cy="270.0" r="1.18" fill="#95a9d0"/>
<circle cx="80.7" cy="246.2" r="1.18" fill="#8c7eba"/>
<circle cx="96.2" cy="242.1" r="1.18" fill="#9bb6d7"/>
<circle cx="69.9" cy="251.0" r="1.18" fill="#96abd1"/>
<circle cx="170.6" cy="251.4" r="1.18" fill="#9ebcda"/>
<circle cx="84.3" cy="236.3" r="1.18" fill="#91a0cb"/>
<circle cx="110.0" cy="262.8" r="1.18" fill="#9db9d8"/>
<circle cx="88.6" cy="250.6" r="1.18" fill="#acc6df"/>
<circle cx="156.9" cy="257.9" r="1.18" fill="#b0c9e1"/>
<circle cx="84.2" cy="276.0" r="1.18" fill="#96acd2"/>
<circle cx="63.6" cy="270.7" r="1.18" fill="#9fbcda"/>
<circle cx="134.7" cy="263.8" r="1.18" fill="#d2e1ee"/>
<circle cx="92.2" cy="237.1" r="1.18" fill="#8c8bc1"/>
<circle cx="80.9" cy="248.4" r="1.18" fill="#8c94c5"/>
<circle cx="99.9" cy="231.5" r="1.18" fill="#c0d4e7"/>
<circle cx="135.9" cy="258.0" r="1.18" fill="#8c8ec2"/>
<circle cx="78.9" cy="249.9" r="1.18" fill="#8c89c0"/>
<circle cx="119.8" cy="236.6" r="1.18" fill="#94a7cf"/>
<circle cx="62.3" cy="284.1" r="1.18" fill="#91a0cb"/>
<circle cx="91.1" cy="234.7" r="1.18" fill="#d0e0ed"/>
<circle cx="141.2" cy="282.3" r="1.18" fill="#a8c3de"/>
<circle cx="124.1" cy="281.8" r="1.18" fill="#94a7cf"/>
<circle cx="135.6" cy="258.8" r="1.18" fill="#8c93c4"/>
<circle cx="102.7" cy="235.7" r="1.18" fill="#8c95c6"/>
<circle cx="99.7" cy="226.6" r="1.18" fill="#9cb7d8"/>
<circle cx="136.8" cy="286.5" r="1.18" fill="#a8c3dd"/>
<circle cx="88.6" cy="235.3" r="1.18" fill="#98aed3"/>
<circle cx="73.2" cy="272.5" r="1.18" fill="#93a4ce"/>
<circle cx="98.4" cy="253.1" r="1.18" fill="#a5c1dc"/>
<circle cx="77.4" cy="259.1" r="1.18" fill="#bcd1e5"/>
<circle cx="114.3" cy="271.7" r="1.18" fill="#a2bfdc"/>
<circle cx="149.8" cy="277.1" r="1.18" fill="#95a8d0"/>
<circle cx="77.6" cy="246.5" r="1.18" fill="#abc5df"/>
<circle cx="106.5" cy="252.8" r="1.18" fill="#9db9d8"/>
<circle cx="94.1" cy="237.1" r="1.18" fill="#b2cae1"/>
<circle cx="92.7" cy="283.8" r="1.18" fill="#96abd1"/>
<circle cx="156.3" cy="287.4" r="1.18" fill="#91a0cb"/>
<circle cx="68.9" cy="249.7" r="1.18" fill="#8e9ac8"/>
<circle cx="112.6" cy="231.1" r="1.18" fill="#bbd0e5"/>
<circle cx="94.6" cy="239.0" r="1.18" fill="#b4cbe2"/>
<circle cx="65.7" cy="259.2" r="1.18" fill="#aec7e0"/>
<circle cx="63.0" cy="268.0" r="1.18" fill="#abc5df"/>
<circle cx="77.6" cy="248.4" r="1.18" fill="#93a5ce"/>
<circle cx="63.5" cy="256.7" r="1.18" fill="#92a3cd"/>
<circle cx="135.1" cy="240.2" r="1.18" fill="#a5c1dd"/>
<circle cx="138.7" cy="256.1" r="1.18" fill="#9db9d9"/>
<circle cx="63.6" cy="254.5" r="1.18" fill="#8e99c8"/>
<circle cx="83.4" cy="260.9" r="1.18" fill="#a1bedb"/>
<circle cx="68.4" cy="283.4" r="1.18" fill="#9ab4d6"/>
<circle cx="67.0" cy="251.4" r="1.18" fill="#93a4cd"/>
<circle cx="68.6" cy="250.1" r="1.18" fill="#97add2"/>
<circle cx="132.9" cy="261.1" r="1.18" fill="#94a7cf"/>
<circle cx="67.2" cy="256.8" r="1.18" fill="#95a9d0"/>
<circle cx="80.3" cy="266.9" r="1.18" fill="#98b0d4"/>
<circle cx="66.8" cy="269.1" r="1.18" fill="#98afd3"/>
<circle cx="96.0" cy="268.9" r="1.18" fill="#acc6df"/>
<circle cx="68.2" cy="251.7" r="1.18" fill="#92a3cd"/>
<circle cx="85.4" cy="234.9" r="1.18" fill="#8f9cc9"/>
<circle cx="70.3" cy="258.4" r="1.18" fill="#b1c9e1"/>
<circle cx="73.3" cy="254.1" r="1.18" fill="#93a5ce"/>
<circle cx="94.3" cy="230.4" r="1.18" fill="#9fbdda"/>
<circle cx="135.9" cy="250.1" r="1.18" fill="#a0bedb"/>
<circle cx="85.5" cy="247.0" r="1.18" fill="#8c91c4"/>
<circle cx="138.5" cy="245.3" r="1.18" fill="#8c87bf"/>
<circle cx="110.0" cy="271.3" r="1.18" fill="#9db9d8"/>
<circle cx="188.3" cy="281.4" r="1.18" fill="#8c70b4"/>
<circle cx="128.7" cy="255.6" r="1.18" fill="#8c96c6"/>
<circle cx="77.7" cy="259.3" r="1.18" fill="#8c7fbb"/>
<circle cx="94.2" cy="226.1" r="1.18" fill="#a5c1dd"/>
<circle cx="182.7" cy="236.3" r="1.18" fill="#8e9bc9"/>
<circle cx="84.2" cy="240.6" r="1.18" fill="#aac5df"/>
<circle cx="133.0" cy="265.8" r="1.18" fill="#8c8bc0"/>
<circle cx="71.2" cy="256.6" r="1.18" fill="#98b0d4"/>
<circle cx="66.9" cy="254.9" r="1.18" fill="#8c78b7"/>
<circle cx="79.3" cy="241.7" r="1.18" fill="#91a1cc"/>
<circle cx="82.7" cy="239.0" r="1.18" fill="#8c73b5"/>
<circle cx="133.9" cy="286.9" r="1.18" fill="#8c90c3"/>
<circle cx="117.2" cy="271.7" r="1.18" fill="#9bb5d6"/>
<circle cx="77.7" cy="246.2" r="1.18" fill="#909eca"/>
<circle cx="86.8" cy="274.5" r="1.18" fill="#8c6db2"/>
<circle cx="89.7" cy="254.7" r="1.18" fill="#8b63ad"/>
<circle cx="78.5" cy="245.3" r="1.18" fill="#8c8fc2"/>
<circle cx="87.3" cy="247.2" r="1.18" fill="#a0bddb"/>
<circle cx="138.6" cy="264.0" r="1.18" fill="#8e9bc8"/>
<circle cx="64.4" cy="256.8" r="1.18" fill="#8c82bc"/>
<circle cx="139.9" cy="262.6" r="1.18" fill="#8c96c6"/>
<circle cx="72.3" cy="285.8" r="1.18" fill="#8c84bd"/>
<circle cx="100.6" cy="239.8" r="1.18" fill="#8c89c0"/>
<circle cx="101.2" cy="230.6" r="1.18" fill="#8c76b6"/>
<circle cx="98.1" cy="234.9" r="1.18" fill="#8d98c7"/>
<circle cx="83.5" cy="248.1" r="1.18" fill="#8c7fbb"/>
<circle cx="77.3" cy="243.3" r="1.18" fill="#8c93c4"/>
<circle cx="95.2" cy="229.9" r="1.18" fill="#8c83bd"/>
<circle cx="75.9" cy="249.6" r="1.18" fill="#8c7dba"/>
<circle cx="174.4" cy="265.9" r="1.18" fill="#cadbeb"/>
<circle cx="95.3" cy="239.2" r="1.18" fill="#8f9dc9"/>
<circle cx="79.2" cy="248.0" r="1.18" fill="#94a7cf"/>
<circle cx="128.1" cy="283.0" r="1.18" fill="#8c7dba"/>
<circle cx="93.0" cy="238.4" r="1.18" fill="#93a6ce"/>
<circle cx="92.0" cy="248.0" r="1.18" fill="#8d98c7"/>
<circle cx="80.6" cy="242.0" r="1.18" fill="#8c80bb"/>
<circle cx="82.6" cy="247.6" r="1.18" fill="#8c74b6"/>
<circle cx="84.1" cy="238.5" r="1.18" fill="#8a59a9"/>
<circle cx="77.6" cy="259.9" r="1.18" fill="#8c96c6"/>
<circle cx="60.2" cy="258.3" r="1.18" fill="#99b2d5"/>
<circle cx="74.0" cy="259.8" r="1.18" fill="#8c92c4"/>
<circle cx="83.7" cy="242.6" r="1.18" fill="#8c85be"/>
<circle cx="60.2" cy="256.2" r="1.18" fill="#8c76b6"/>
<circle cx="76.4" cy="246.2" r="1.18" fill="#8c91c4"/>
<circle cx="72.6" cy="249.2" r="1.18" fill="#8b62ad"/>
<circle cx="71.9" cy="248.1" r="1.18" fill="#8c90c3"/>
<circle cx="126.3" cy="261.1" r="1.18" fill="#8a56a7"/>
<circle cx="79.9" cy="254.2" r="1.18" fill="#8a5aa9"/>
<circle cx="73.3" cy="248.5" r="1.18" fill="#93a5ce"/>
<circle cx="142.1" cy="263.1" r="1.18" fill="#8c6db2"/>
<circle cx="79.6" cy="267.8" r="1.18" fill="#909fcb"/>
<circle cx="89.7" cy="263.4" r="1.18" fill="#8c8bc1"/>
<circle cx="122.9" cy="285.8" r="1.18" fill="#8c8cc1"/>
<circle cx="154.4" cy="238.5" r="1.18" fill="#894ea3"/>
<circle cx="70.4" cy="267.3" r="1.18" fill="#8a58a8"/>
<circle cx="163.7" cy="272.7" r="1.18" fill="#8c79b8"/>
<circle cx="69.8" cy="260.4" r="1.18" fill="#883f9c"/>
<circle cx="63.7" cy="255.0" r="1.18" fill="#9ab3d5"/>
<circle cx="66.6" cy="250.9" r="1.18" fill="#a1bedb"/>
<circle cx="172.1" cy="244.5" r="1.18" fill="#9fbcda"/>
<circle cx="176.7" cy="287.1" r="1.18" fill="#8c8dc2"/>
<circle cx="68.0" cy="249.4" r="1.18" fill="#92a3cd"/>
<circle cx="97.6" cy="240.1" r="1.18" fill="#9dbbd9"/>
<circle cx="85.4" cy="252.7" r="1.18" fill="#8c94c5"/>
<circle cx="90.3" cy="236.5" r="1.18" fill="#8c73b5"/>
<circle cx="70.1" cy="248.0" r="1.18" fill="#91a0cb"/>
<circle cx="81.8" cy="237.1" r="1.18" fill="#8c96c6"/>
<circle cx="63.0" cy="253.8" r="1.18" fill="#8c7bb9"/>
<circle cx="71.1" cy="250.0" r="1.18" fill="#8c8cc1"/>
<circle cx="73.0" cy="270.3" r="1.18" fill="#8b5fab"/>
<circle cx="117.9" cy="259.1" r="1.18" fill="#8c96c6"/>
<circle cx="96.0" cy="250.0" r="1.18" fill="#88459f"/>
<circle cx="169.5" cy="263.2" r="1.18" fill="#8c66af"/>
<circle cx="158.2" cy="285.6" r="1.18" fill="#8d99c7"/>
<circle cx="71.2" cy="251.4" r="1.18" fill="#8c8cc1"/>
<circle cx="140.5" cy="281.1" r="1.18" fill="#91a1cc"/>
<circle cx="157.7" cy="260.0" r="1.18" fill="#8c7bb9"/>
<circle cx="70.9" cy="274.4" r="1.18" fill="#8a5ba9"/>
<circle cx="124.6" cy="242.6" r="1.18" fill="#9ab4d6"/>
<circle cx="64.0" cy="254.8" r="1.18" fill="#894da2"/>
<circle cx="81.9" cy="254.7" r="1.18" fill="#8c70b4"/>
<circle cx="90.2" cy="270.1" r="1.18" fill="#91a0cb"/>
<circle cx="62.1" cy="260.2" r="1.18" fill="#8c95c6"/>
<circle cx="86.9" cy="255.8" r="1.18" fill="#8c79b8"/>
<circle cx="90.8" cy="235.4" r="1.18" fill="#8b66ae"/>
<circle cx="95.5" cy="227.0" r="1.18" fill="#9ebcda"/>
<circle cx="69.4" cy="250.3" r="1.18" fill="#8c77b7"/>
<circle cx="65.4" cy="251.6" r="1.18" fill="#8b5daa"/>
<circle cx="81.3" cy="244.7" r="1.18" fill="#8c7ab8"/>
<circle cx="88.6" cy="234.0" r="1.18" fill="#8947a0"/>
<circle cx="68.1" cy="256.5" r="1.18" fill="#8c89c0"/>
<circle cx="117.4" cy="272.9" r="1.18" fill="#8c69b0"/>
<circle cx="63.3" cy="271.0" r="1.18" fill="#8c68af"/>
<circle cx="144.9" cy="267.4" r="1.18" fill="#8c81bc"/>
<circle cx="87.4" cy="236.4" r="1.18" fill="#8951a4"/>
<circle cx="61.6" cy="257.6" r="1.18" fill="#8c71b4"/>
<circle cx="188.6" cy="250.7" r="1.18" fill="#8c7fbb"/>
<circle cx="64.6" cy="260.9" r="1.18" fill="#8c83bd"/>
<circle cx="73.0" cy="245.9" r="1.18" fill="#894aa1"/>
<circle cx="92.1" cy="231.7" r="1.18" fill="#88409c"/>
<circle cx="75.8" cy="254.8" r="1.18" fill="#8c74b6"/>
<circle cx="84.6" cy="241.9" r="1.18" fill="#8c83bd"/>
<circle cx="79.4" cy="251.8" r="1.18" fill="#8c8ec2"/>
<circle cx="83.3" cy="243.1" r="1.18" fill="#88409c"/>
<circle cx="144.4" cy="236.9" r="1.18" fill="#8c80bb"/>
<circle cx="78.4" cy="246.7" r="1.18" fill="#873897"/>
<circle cx="84.0" cy="243.8" r="1.18" fill="#8a5aa9"/>
<circle cx="77.3" cy="246.5" r="1.18" fill="#8c96c6"/>
<circle cx="85.4" cy="240.7" r="1.18" fill="#883f9c"/>
<circle cx="192.1" cy="249.8" r="1.18" fill="#8e9bc9"/>
<circle cx="134.5" cy="247.4" r="1.18" fill="#8b61ac"/>
<circle cx="79.7" cy="274.7" r="1.18" fill="#8c7cb9"/>
<circle cx="79.8" cy="245.9" r="1.18" fill="#8c74b5"/>
<circle cx="79.5" cy="244.3" r="1.18" fill="#8c6bb1"/>
<circle cx="94.6" cy="232.9" r="1.18" fill="#8c66af"/>
<circle cx="78.4" cy="262.7" r="1.18" fill="#92a4cd"/>
<circle cx="78.1" cy="264.2" r="1.18" fill="#8c7dba"/>
<circle cx="83.6" cy="245.9" r="1.18" fill="#8b66ae"/>
<circle cx="83.6" cy="253.0" r="1.18" fill="#8c7cb9"/>
<circle cx="101.2" cy="233.4" r="1.18" fill="#863394"/>
<circle cx="87.9" cy="239.2" r="1.18" fill="#8c75b6"/>
<circle cx="85.6" cy="238.1" r="1.18" fill="#88429e"/>
<circle cx="63.5" cy="272.5" r="1.18" fill="#8a51a5"/>
<circle cx="83.4" cy="246.0" r="1.18" fill="#873796"/>
<circle cx="78.6" cy="242.0" r="1.18" fill="#883f9c"/>
<circle cx="64.1" cy="257.0" r="1.18" fill="#8c80bb"/>
<circle cx="66.7" cy="256.6" r="1.18" fill="#8b65ae"/>
<circle cx="139.5" cy="235.2" r="1.18" fill="#92a2cc"/>
<circle cx="77.4" cy="247.4" r="1.18" fill="#8a52a5"/>
<circle cx="63.5" cy="258.2" r="1.18" fill="#8c6eb3"/>
<circle cx="88.0" cy="237.0" r="1.18" fill="#8c7eba"/>
<circle cx="91.2" cy="286.1" r="1.18" fill="#94a6ce"/>
<circle cx="69.2" cy="253.1" r="1.18" fill="#8c71b4"/>
<circle cx="117.9" cy="281.5" r="1.18" fill="#8c7bb9"/>
<circle cx="103.1" cy="225.7" r="1.18" fill="#88419d"/>
<circle cx="76.4" cy="246.4" r="1.18" fill="#8b5caa"/>
<circle cx="82.7" cy="246.1" r="1.18" fill="#8d98c7"/>
<circle cx="135.1" cy="244.3" r="1.18" fill="#894ea3"/>
<circle cx="73.9" cy="266.9" r="1.18" fill="#8c71b4"/>
<circle cx="98.9" cy="232.6" r="1.18" fill="#84258b"/>
<circle cx="103.6" cy="234.8" r="1.18" fill="#88419d"/>
<circle cx="151.7" cy="279.0" r="1.18" fill="#8c8dc1"/>
<circle cx="83.8" cy="242.2" r="1.18" fill="#8c78b7"/>
<circle cx="180.4" cy="267.4" r="1.18" fill="#8c97c6"/>
<circle cx="86.6" cy="273.4" r="1.18" fill="#883f9b"/>
<circle cx="165.4" cy="239.9" r="1.18" fill="#8a53a5"/>
<circle cx="177.2" cy="241.1" r="1.18" fill="#821a83"/>
<circle cx="60.4" cy="263.3" r="1.18" fill="#8c7fbb"/>
<circle cx="121.5" cy="251.3" r="1.18" fill="#8c7fbb"/>
<circle cx="116.9" cy="254.3" r="1.18" fill="#8c74b6"/>
<circle cx="65.7" cy="268.4" r="1.18" fill="#8c8ac0"/>
<circle cx="61.0" cy="264.1" r="1.18" fill="#894ea3"/>
<circle cx="83.2" cy="285.7" r="1.18" fill="#8c7fbb"/>
<circle cx="88.1" cy="241.7" r="1.18" fill="#852d8f"/>
<circle cx="143.3" cy="253.1" r="1.18" fill="#852f91"/>
<circle cx="70.8" cy="256.5" r="1.18" fill="#81127e"/>
<circle cx="68.6" cy="266.3" r="1.18" fill="#780c73"/>
<circle cx="93.5" cy="253.5" r="1.18" fill="#8c7ab8"/>
<circle cx="77.5" cy="262.4" r="1.18" fill="#8b61ac"/>
<circle cx="75.5" cy="250.4" r="1.18" fill="#8c6eb2"/>
<circle cx="61.7" cy="270.9" r="1.18" fill="#8c7dba"/>
<circle cx="88.8" cy="240.5" r="1.18" fill="#8c7bb9"/>
<circle cx="61.1" cy="271.1" r="1.18" fill="#8b64ae"/>
<circle cx="73.3" cy="262.9" r="1.18" fill="#8947a0"/>
<circle cx="84.6" cy="241.3" r="1.18" fill="#810f7c"/>
<circle cx="72.7" cy="255.6" r="1.18" fill="#8a59a9"/>
<circle cx="72.4" cy="266.8" r="1.18" fill="#873a99"/>
<circle cx="65.9" cy="257.7" r="1.18" fill="#88469f"/>
<circle cx="84.4" cy="257.3" r="1.18" fill="#8a52a5"/>
<circle cx="121.3" cy="282.1" r="1.18" fill="#852a8e"/>
<circle cx="60.9" cy="263.3" r="1.18" fill="#8c80bb"/>
<circle cx="173.0" cy="235.4" r="1.18" fill="#84268b"/>
<circle cx="69.9" cy="253.2" r="1.18" fill="#8c6fb3"/>
<circle cx="85.2" cy="243.6" r="1.18" fill="#8a59a9"/>
<circle cx="61.7" cy="264.2" r="1.18" fill="#8b65ae"/>
<circle cx="64.8" cy="258.5" r="1.18" fill="#8c75b6"/>
<circle cx="79.8" cy="242.8" r="1.18" fill="#8a52a5"/>
<circle cx="70.8" cy="281.2" r="1.18" fill="#8c68af"/>
<circle cx="77.6" cy="265.7" r="1.18" fill="#8c6cb1"/>
<circle cx="82.9" cy="246.7" r="1.18" fill="#863293"/>
<circle cx="93.4" cy="227.8" r="1.18" fill="#863192"/>
<circle cx="84.9" cy="240.3" r="1.18" fill="#894ea3"/>
<circle cx="77.4" cy="261.0" r="1.18" fill="#8c79b8"/>
<circle cx="85.7" cy="233.0" r="1.18" fill="#8c76b6"/>
<circle cx="67.4" cy="262.6" r="1.18" fill="#832188"/>
<circle cx="108.8" cy="245.6" r="1.18" fill="#8c68b0"/>
<circle cx="70.1" cy="250.6" r="1.18" fill="#832087"/>
<circle cx="126.1" cy="263.3" r="1.18" fill="#894aa1"/>
<circle cx="86.5" cy="240.3" r="1.18" fill="#8c6ab1"/>
<circle cx="142.0" cy="250.1" r="1.18" fill="#8b61ac"/>
<circle cx="73.9" cy="284.4" r="1.18" fill="#8b62ad"/>
<circle cx="88.6" cy="237.3" r="1.18" fill="#88429d"/>
<circle cx="67.1" cy="270.8" r="1.18" fill="#863092"/>
<circle cx="79.4" cy="250.2" r="1.18" fill="#8949a1"/>
<circle cx="83.0" cy="254.7" r="1.18" fill="#8c67af"/>
<circle cx="74.4" cy="249.5" r="1.18" fill="#8c8bc1"/>
<circle cx="135.9" cy="249.1" r="1.18" fill="#821882"/>
<circle cx="72.8" cy="251.1" r="1.18" fill="#85288d"/>
<circle cx="63.5" cy="265.5" r="1.18" fill="#96acd1"/>
<circle cx="74.5" cy="256.2" r="1.18" fill="#863192"/>
<circle cx="74.5" cy="263.3" r="1.18" fill="#88409c"/>
<circle cx="169.1" cy="244.4" r="1.18" fill="#873796"/>
<circle cx="65.6" cy="282.7" r="1.18" fill="#62065f"/>
<circle cx="185.0" cy="233.9" r="1.18" fill="#863293"/>
<circle cx="180.8" cy="245.6" r="1.18" fill="#8c7ab8"/>
<circle cx="101.0" cy="224.2" r="1.18" fill="#8c77b7"/>
<circle cx="77.7" cy="246.6" r="1.18" fill="#7d0e78"/>
<circle cx="60.9" cy="258.8" r="1.18" fill="#84248a"/>
<circle cx="61.4" cy="271.7" r="1.18" fill="#8c88bf"/>
<circle cx="89.2" cy="248.0" r="1.18" fill="#8950a4"/>
<circle cx="81.4" cy="261.5" r="1.18" fill="#650761"/>
<circle cx="65.8" cy="255.8" r="1.18" fill="#84288c"/>
<circle cx="73.6" cy="262.1" r="1.18" fill="#710a6d"/>
<circle cx="179.3" cy="234.2" r="1.18" fill="#85298d"/>
<circle cx="106.7" cy="260.9" r="1.18" fill="#852c8f"/>
<circle cx="120.8" cy="251.9" r="1.18" fill="#84268b"/>
<circle cx="132.5" cy="283.0" r="1.18" fill="#710a6d"/>
<circle cx="78.9" cy="243.5" r="1.18" fill="#831d85"/>
<circle cx="88.3" cy="233.6" r="1.18" fill="#7c0e77"/>
<circle cx="99.8" cy="235.6" r="1.18" fill="#8c78b7"/>
<circle cx="95.7" cy="236.4" r="1.18" fill="#88409c"/>
<circle cx="78.4" cy="240.3" r="1.18" fill="#894ea3"/>
<circle cx="78.0" cy="244.0" r="1.18" fill="#88419d"/>
<circle cx="132.4" cy="257.5" r="1.18" fill="#88439e"/>
<circle cx="131.5" cy="234.1" r="1.18" fill="#85298d"/>
<circle cx="120.6" cy="267.3" r="1.18" fill="#894fa4"/>
<circle cx="73.5" cy="267.5" r="1.18" fill="#770c72"/>
<circle cx="84.6" cy="235.3" r="1.18" fill="#84278c"/>
<circle cx="96.1" cy="231.2" r="1.18" fill="#81117e"/>
<circle cx="119.9" cy="255.4" r="1.18" fill="#8948a0"/>
<circle cx="89.3" cy="250.0" r="1.18" fill="#831b84"/>
<circle cx="80.8" cy="256.0" r="1.18" fill="#61065e"/>
<circle cx="60.4" cy="264.1" r="1.18" fill="#580356"/>
<circle cx="89.8" cy="233.9" r="1.18" fill="#800f7b"/>
<circle cx="76.1" cy="249.1" r="1.18" fill="#7a0d76"/>
<circle cx="87.4" cy="245.4" r="1.18" fill="#7c0e77"/>
<circle cx="82.6" cy="250.5" r="1.18" fill="#7d0e78"/>
<circle cx="63.5" cy="255.5" r="1.18" fill="#852f91"/>
<circle cx="73.5" cy="250.0" r="1.18" fill="#7f0f7b"/>
<circle cx="68.9" cy="255.6" r="1.18" fill="#800f7b"/>
<circle cx="83.6" cy="237.7" r="1.18" fill="#8a59a9"/>
<circle cx="66.9" cy="251.6" r="1.18" fill="#7c0e78"/>
<circle cx="75.4" cy="265.5" r="1.18" fill="#821982"/>
<circle cx="97.1" cy="242.9" r="1.18" fill="#60065d"/>
<circle cx="73.6" cy="253.3" r="1.18" fill="#84288c"/>
<circle cx="161.4" cy="242.9" r="1.18" fill="#831a83"/>
<circle cx="90.2" cy="237.2" r="1.18" fill="#6c0968"/>
<circle cx="73.7" cy="247.6" r="1.18" fill="#5d045a"/>
<circle cx="74.8" cy="253.8" r="1.18" fill="#6e0a6a"/>
<circle cx="150.7" cy="247.7" r="1.18" fill="#831e86"/>
<circle cx="79.1" cy="250.6" r="1.18" fill="#7b0d76"/>
<circle cx="66.7" cy="275.5" r="1.18" fill="#81107d"/>
<circle cx="94.7" cy="239.4" r="1.18" fill="#81107d"/>
<circle cx="72.4" cy="252.8" r="1.18" fill="#821680"/>
<circle cx="157.2" cy="260.9" r="1.18" fill="#670864"/>
<circle cx="79.2" cy="251.8" r="1.18" fill="#750b70"/>
<circle cx="83.7" cy="255.6" r="1.18" fill="#750c71"/>
<circle cx="61.3" cy="258.6" r="1.18" fill="#700a6c"/>
<circle cx="112.2" cy="258.7" r="1.18" fill="#821983"/>
<circle cx="87.7" cy="234.7" r="1.18" fill="#800f7b"/>
<circle cx="66.2" cy="255.5" r="1.18" fill="#50014e"/>
<circle cx="61.1" cy="278.2" r="1.18" fill="#4e004c"/>
<circle cx="69.6" cy="264.0" r="1.18" fill="#5d055a"/>
<circle cx="84.8" cy="233.8" r="1.18" fill="#863696"/>
<circle cx="72.6" cy="249.3" r="1.18" fill="#8a57a8"/>
<circle cx="70.8" cy="252.7" r="1.18" fill="#88409c"/>
<circle cx="164.5" cy="256.7" r="1.18" fill="#8b62ad"/>
<circle cx="63.0" cy="276.2" r="1.18" fill="#821580"/>
<circle cx="134.3" cy="255.5" r="1.18" fill="#852b8e"/>
<circle cx="98.3" cy="244.6" r="1.18" fill="#660762"/>
<circle cx="94.2" cy="229.8" r="1.18" fill="#6d0969"/>
<circle cx="70.6" cy="249.9" r="1.18" fill="#81107d"/>
<circle cx="71.6" cy="255.0" r="1.18" fill="#863494"/>
<circle cx="94.1" cy="237.3" r="1.18" fill="#852b8f"/>
<circle cx="165.9" cy="266.8" r="1.18" fill="#720b6e"/>
<circle cx="68.4" cy="265.7" r="1.18" fill="#5c0459"/>
<circle cx="72.6" cy="247.0" r="1.18" fill="#8b62ad"/>
<circle cx="181.6" cy="235.1" r="1.18" fill="#720b6e"/>
<circle cx="90.8" cy="233.6" r="1.18" fill="#640761"/>
<circle cx="75.0" cy="283.2" r="1.18" fill="#650762"/>
<circle cx="86.6" cy="242.3" r="1.18" fill="#670763"/>
<circle cx="79.1" cy="246.2" r="1.18" fill="#81117e"/>
<circle cx="74.0" cy="252.6" r="1.18" fill="#852c8f"/>
<circle cx="79.6" cy="251.2" r="1.18" fill="#894fa4"/>
<circle cx="75.8" cy="247.1" r="1.18" fill="#690865"/>
<circle cx="69.4" cy="261.5" r="1.18" fill="#540252"/>
<circle cx="83.7" cy="248.5" r="1.18" fill="#7a0d75"/>
<circle cx="75.0" cy="247.9" r="1.18" fill="#852e90"/>
<circle cx="76.3" cy="272.0" r="1.18" fill="#670864"/>
<circle cx="183.9" cy="232.3" r="1.18" fill="#831a83"/>
<circle cx="67.3" cy="250.1" r="1.18" fill="#5d055a"/>
<circle cx="92.8" cy="235.4" r="1.18" fill="#6c0969"/>
<circle cx="67.3" cy="258.7" r="1.18" fill="#62065f"/>
<circle cx="96.8" cy="234.7" r="1.18" fill="#720b6e"/>
<circle cx="87.9" cy="230.6" r="1.18" fill="#50014d"/>
<circle cx="60.1" cy="269.8" r="1.18" fill="#670864"/>
<circle cx="88.4" cy="237.7" r="1.18" fill="#832087"/>
<circle cx="180.4" cy="252.7" r="1.18" fill="#6d0969"/>
<circle cx="135.3" cy="256.0" r="1.18" fill="#831c85"/>
<circle cx="155.8" cy="243.8" r="1.18" fill="#520250"/>
<circle cx="75.7" cy="256.6" r="1.18" fill="#5c0459"/>
<circle cx="62.5" cy="273.3" r="1.18" fill="#740b70"/>
<circle cx="65.7" cy="256.7" r="1.18" fill="#580355"/>
<circle cx="103.5" cy="230.3" r="1.18" fill="#51014f"/>
<circle cx="63.9" cy="256.3" r="1.18" fill="#530251"/>
</g>
<rect x="55.60" y="150.00" width="142.20" height="142.90" fill="none" stroke="#000" stroke-width="1.40"/>
<g clip-path="url(#c20)" fill-opacity="0.92">
<circle cx="103.3" cy="437.3" r="1.18" fill="#f2f9fb"/>
<circle cx="77.1" cy="424.6" r="1.18" fill="#e8f1f7"/>
<circle cx="81.4" cy="375.6" r="1.18" fill="#eef6f9"/>
<circle cx="104.3" cy="347.2" r="1.18" fill="#f4fafc"/>
<circle cx="123.0" cy="408.2" r="1.18" fill="#eef6f9"/>
<circle cx="75.7" cy="399.1" r="1.18" fill="#edf5f9"/>
<circle cx="145.5" cy="322.6" r="1.18" fill="#bacfe4"/>
<circle cx="67.6" cy="360.4" r="1.18" fill="#f2f8fb"/>
<circle cx="92.8" cy="314.4" r="1.18" fill="#ecf4f9"/>
<circle cx="114.5" cy="399.1" r="1.18" fill="#f1f8fb"/>
<circle cx="71.9" cy="321.8" r="1.18" fill="#e9f2f7"/>
<circle cx="111.6" cy="401.3" r="1.18" fill="#f2f9fb"/>
<circle cx="106.9" cy="336.1" r="1.18" fill="#f4fafc"/>
<circle cx="189.3" cy="317.0" r="1.18" fill="#f5fafc"/>
<circle cx="87.1" cy="428.0" r="1.18" fill="#edf5f9"/>
<circle cx="102.5" cy="399.7" r="1.18" fill="#e5eff6"/>
<circle cx="93.7" cy="337.4" r="1.18" fill="#f1f8fb"/>
<circle cx="96.3" cy="420.2" r="1.18" fill="#d6e4f0"/>
<circle cx="93.0" cy="422.9" r="1.18" fill="#e9f3f8"/>
<circle cx="102.7" cy="386.2" r="1.18" fill="#eaf3f8"/>
<circle cx="76.6" cy="436.8" r="1.18" fill="#f0f7fa"/>
<circle cx="169.6" cy="370.3" r="1.18" fill="#eaf3f8"/>
<circle cx="121.6" cy="327.4" r="1.18" fill="#f6fbfd"/>
<circle cx="60.3" cy="433.1" r="1.18" fill="#f4fafc"/>
<circle cx="93.7" cy="432.9" r="1.18" fill="#f1f8fb"/>
<circle cx="107.2" cy="393.3" r="1.18" fill="#dae8f1"/>
<circle cx="108.7" cy="385.6" r="1.18" fill="#f1f8fb"/>
<circle cx="187.5" cy="343.4" r="1.18" fill="#edf5f9"/>
<circle cx="99.4" cy="374.6" r="1.18" fill="#f0f7fa"/>
<circle cx="108.4" cy="390.4" r="1.18" fill="#d8e6f1"/>
<circle cx="115.9" cy="316.6" r="1.18" fill="#cedeec"/>
<circle cx="101.3" cy="435.3" r="1.18" fill="#f6fbfd"/>
<circle cx="68.0" cy="405.7" r="1.18" fill="#e3eef5"/>
<circle cx="75.0" cy="403.2" r="1.18" fill="#d7e5f0"/>
<circle cx="74.2" cy="316.6" r="1.18" fill="#e6f0f6"/>
<circle cx="89.0" cy="346.8" r="1.18" fill="#cedeec"/>
<circle cx="104.0" cy="426.2" r="1.18" fill="#edf5f9"/>
<circle cx="76.9" cy="428.2" r="1.18" fill="#d0e0ed"/>
<circle cx="96.8" cy="397.3" r="1.18" fill="#e1edf5"/>
<circle cx="130.9" cy="346.2" r="1.18" fill="#e5eff6"/>
<circle cx="76.4" cy="413.9" r="1.18" fill="#e1edf4"/>
<circle cx="86.1" cy="352.1" r="1.18" fill="#e7f1f7"/>
<circle cx="122.5" cy="318.5" r="1.18" fill="#e4eff6"/>
<circle cx="74.1" cy="437.6" r="1.18" fill="#c2d5e7"/>
<circle cx="93.6" cy="399.8" r="1.18" fill="#f0f7fa"/>
<circle cx="99.9" cy="344.9" r="1.18" fill="#e9f3f8"/>
<circle cx="79.1" cy="388.8" r="1.18" fill="#f1f8fb"/>
<circle cx="96.7" cy="404.4" r="1.18" fill="#e7f1f7"/>
<circle cx="91.8" cy="418.4" r="1.18" fill="#e2edf5"/>
<circle cx="65.5" cy="369.6" r="1.18" fill="#e8f2f7"/>
<circle cx="122.0" cy="406.7" r="1.18" fill="#e6f0f7"/>
<circle cx="71.4" cy="347.9" r="1.18" fill="#e5f0f6"/>
<circle cx="66.7" cy="437.4" r="1.18" fill="#e3eef5"/>
<circle cx="107.5" cy="388.6" r="1.18" fill="#e5f0f6"/>
<circle cx="174.0" cy="422.4" r="1.18" fill="#edf5f9"/>
<circle cx="80.0" cy="434.8" r="1.18" fill="#f3fafc"/>
<circle cx="69.9" cy="427.2" r="1.18" fill="#e3eef5"/>
<circle cx="101.9" cy="401.9" r="1.18" fill="#f3f9fb"/>
<circle cx="160.8" cy="319.7" r="1.18" fill="#e8f1f7"/>
<circle cx="84.1" cy="434.0" r="1.18" fill="#dae7f1"/>
<circle cx="74.1" cy="352.9" r="1.18" fill="#c3d6e8"/>
<circle cx="100.9" cy="387.4" r="1.18" fill="#e8f1f7"/>
<circle cx="60.6" cy="313.4" r="1.18" fill="#f0f7fa"/>
<circle cx="118.1" cy="356.4" r="1.18" fill="#e6f0f6"/>
<circle cx="97.6" cy="435.7" r="1.18" fill="#e1edf4"/>
<circle cx="93.9" cy="421.9" r="1.18" fill="#e7f1f7"/>
<circle cx="88.1" cy="351.7" r="1.18" fill="#cedeec"/>
<circle cx="101.3" cy="397.2" r="1.18" fill="#f4fafc"/>
<circle cx="97.7" cy="332.4" r="1.18" fill="#e0ecf4"/>
<circle cx="77.0" cy="345.2" r="1.18" fill="#eef6f9"/>
<circle cx="111.6" cy="324.9" r="1.18" fill="#f1f8fb"/>
<circle cx="114.1" cy="370.9" r="1.18" fill="#dce9f2"/>
<circle cx="98.6" cy="384.2" r="1.18" fill="#eaf3f8"/>
<circle cx="108.8" cy="405.2" r="1.18" fill="#f2f8fb"/>
<circle cx="114.8" cy="312.6" r="1.18" fill="#f0f7fa"/>
<circle cx="73.4" cy="437.0" r="1.18" fill="#d2e1ee"/>
<circle cx="183.7" cy="367.1" r="1.18" fill="#edf5f9"/>
<circle cx="69.3" cy="346.8" r="1.18" fill="#f0f7fa"/>
<circle cx="62.6" cy="426.2" r="1.18" fill="#f0f7fa"/>
<circle cx="79.0" cy="427.5" r="1.18" fill="#eaf3f8"/>
<circle cx="100.2" cy="415.9" r="1.18" fill="#f7fcfd"/>
<circle cx="69.5" cy="363.2" r="1.18" fill="#e7f1f7"/>
<circle cx="106.1" cy="345.4" r="1.18" fill="#e7f1f7"/>
<circle cx="92.6" cy="348.0" r="1.18" fill="#ecf5f9"/>
<circle cx="104.1" cy="386.4" r="1.18" fill="#f0f7fa"/>
<circle cx="100.7" cy="398.3" r="1.18" fill="#f6fbfd"/>
<circle cx="81.9" cy="394.9" r="1.18" fill="#d1e1ee"/>
<circle cx="69.6" cy="434.6" r="1.18" fill="#f5fbfc"/>
<circle cx="122.5" cy="418.8" r="1.18" fill="#f6fcfd"/>
<circle cx="76.4" cy="415.7" r="1.18" fill="#f7fcfd"/>
<circle cx="71.8" cy="387.2" r="1.18" fill="#d5e4ef"/>
<circle cx="69.2" cy="435.0" r="1.18" fill="#e3eef5"/>
<circle cx="72.4" cy="382.0" r="1.18" fill="#e7f1f7"/>
<circle cx="88.7" cy="395.3" r="1.18" fill="#ddeaf3"/>
<circle cx="108.0" cy="336.8" r="1.18" fill="#f3f9fb"/>
<circle cx="71.4" cy="434.7" r="1.18" fill="#d9e7f1"/>
<circle cx="79.8" cy="328.3" r="1.18" fill="#f5fafc"/>
<circle cx="107.7" cy="344.5" r="1.18" fill="#c9daea"/>
<circle cx="150.2" cy="319.4" r="1.18" fill="#f0f7fa"/>
<circle cx="91.8" cy="410.3" r="1.18" fill="#f0f7fa"/>
<circle cx="92.4" cy="357.1" r="1.18" fill="#e3eef5"/>
<circle cx="105.2" cy="382.0" r="1.18" fill="#d4e3ef"/>
<circle cx="94.2" cy="333.1" r="1.18" fill="#e4eff6"/>
<circle cx="110.8" cy="396.9" r="1.18" fill="#ebf3f8"/>
<circle cx="82.6" cy="426.6" r="1.18" fill="#dde9f3"/>
<circle cx="73.3" cy="317.6" r="1.18" fill="#ebf4f8"/>
<circle cx="96.1" cy="426.2" r="1.18" fill="#e6f0f6"/>
<circle cx="100.4" cy="377.1" r="1.18" fill="#f5fbfc"/>
<circle cx="105.9" cy="416.1" r="1.18" fill="#e5f0f6"/>
<circle cx="113.3" cy="385.1" r="1.18" fill="#f4fafc"/>
<circle cx="88.6" cy="401.8" r="1.18" fill="#dae7f1"/>
<circle cx="127.3" cy="427.2" r="1.18" fill="#deeaf3"/>
<circle cx="72.4" cy="420.4" r="1.18" fill="#e5f0f6"/>
<circle cx="80.3" cy="396.5" r="1.18" fill="#dce9f2"/>
<circle cx="85.4" cy="385.4" r="1.18" fill="#cfdfed"/>
<circle cx="100.8" cy="406.2" r="1.18" fill="#cbdceb"/>
<circle cx="94.8" cy="416.7" r="1.18" fill="#deeaf3"/>
<circle cx="92.3" cy="320.2" r="1.18" fill="#f6fcfd"/>
<circle cx="103.0" cy="386.5" r="1.18" fill="#f7fcfd"/>
<circle cx="78.3" cy="325.2" r="1.18" fill="#e8f1f7"/>
<circle cx="90.8" cy="390.4" r="1.18" fill="#f0f7fa"/>
<circle cx="173.8" cy="313.5" r="1.18" fill="#c6d8e9"/>
<circle cx="112.2" cy="336.0" r="1.18" fill="#d5e3ef"/>
<circle cx="91.7" cy="436.2" r="1.18" fill="#f7fcfd"/>
<circle cx="130.1" cy="365.2" r="1.18" fill="#e6f0f6"/>
<circle cx="91.2" cy="388.5" r="1.18" fill="#e3eef5"/>
<circle cx="98.9" cy="401.7" r="1.18" fill="#f4fafc"/>
<circle cx="105.7" cy="394.9" r="1.18" fill="#f7fcfd"/>
<circle cx="79.4" cy="351.3" r="1.18" fill="#b4cbe2"/>
<circle cx="60.8" cy="353.6" r="1.18" fill="#f2f8fb"/>
<circle cx="70.7" cy="350.1" r="1.18" fill="#eff6fa"/>
<circle cx="114.8" cy="381.1" r="1.18" fill="#f5fbfc"/>
<circle cx="107.2" cy="380.2" r="1.18" fill="#e3eef5"/>
<circle cx="95.0" cy="408.0" r="1.18" fill="#e2edf5"/>
<circle cx="88.4" cy="401.9" r="1.18" fill="#e3eef5"/>
<circle cx="191.0" cy="319.5" r="1.18" fill="#f7fcfd"/>
<circle cx="99.2" cy="410.3" r="1.18" fill="#b7cde3"/>
<circle cx="81.0" cy="434.8" r="1.18" fill="#c5d7e8"/>
<circle cx="75.8" cy="427.5" r="1.18" fill="#dbe8f2"/>
<circle cx="64.7" cy="419.4" r="1.18" fill="#d8e6f0"/>
<circle cx="106.1" cy="393.5" r="1.18" fill="#e9f2f8"/>
<circle cx="94.4" cy="386.3" r="1.18" fill="#eff6fa"/>
<circle cx="73.3" cy="421.4" r="1.18" fill="#d7e5f0"/>
<circle cx="94.9" cy="328.1" r="1.18" fill="#cadbeb"/>
<circle cx="73.6" cy="331.9" r="1.18" fill="#e2edf5"/>
<circle cx="109.0" cy="342.1" r="1.18" fill="#e8f2f7"/>
<circle cx="101.9" cy="389.4" r="1.18" fill="#e3eef5"/>
<circle cx="78.1" cy="415.8" r="1.18" fill="#f0f7fa"/>
<circle cx="107.8" cy="321.7" r="1.18" fill="#d4e3ef"/>
<circle cx="100.7" cy="333.8" r="1.18" fill="#e4eff5"/>
<circle cx="113.7" cy="403.9" r="1.18" fill="#f7fcfd"/>
<circle cx="190.2" cy="409.5" r="1.18" fill="#e8f2f7"/>
<circle cx="103.6" cy="389.1" r="1.18" fill="#e3eef5"/>
<circle cx="119.4" cy="326.3" r="1.18" fill="#b3cae1"/>
<circle cx="98.8" cy="368.2" r="1.18" fill="#e4eff5"/>
<circle cx="67.1" cy="427.9" r="1.18" fill="#f7fcfd"/>
<circle cx="189.1" cy="419.0" r="1.18" fill="#d6e5f0"/>
<circle cx="99.2" cy="431.3" r="1.18" fill="#edf5f9"/>
<circle cx="67.2" cy="434.3" r="1.18" fill="#dfecf4"/>
<circle cx="111.9" cy="371.8" r="1.18" fill="#e6f0f6"/>
<circle cx="105.9" cy="347.3" r="1.18" fill="#ebf4f8"/>
<circle cx="92.9" cy="344.5" r="1.18" fill="#f5fafc"/>
<circle cx="92.7" cy="394.1" r="1.18" fill="#ebf3f8"/>
<circle cx="166.8" cy="409.4" r="1.18" fill="#e4eff5"/>
<circle cx="97.3" cy="360.0" r="1.18" fill="#e7f1f7"/>
<circle cx="73.3" cy="431.8" r="1.18" fill="#d8e6f1"/>
<circle cx="95.1" cy="421.1" r="1.18" fill="#f2f9fb"/>
<circle cx="69.2" cy="431.0" r="1.18" fill="#abc5df"/>
<circle cx="123.6" cy="369.8" r="1.18" fill="#eff6fa"/>
<circle cx="100.1" cy="404.8" r="1.18" fill="#cfdfed"/>
<circle cx="110.0" cy="398.8" r="1.18" fill="#e8f2f7"/>
<circle cx="81.6" cy="334.5" r="1.18" fill="#e6f0f6"/>
<circle cx="128.8" cy="320.1" r="1.18" fill="#bbd0e5"/>
<circle cx="102.7" cy="335.6" r="1.18" fill="#e7f1f7"/>
<circle cx="81.2" cy="420.0" r="1.18" fill="#e1edf5"/>
<circle cx="70.1" cy="404.5" r="1.18" fill="#f3f9fb"/>
<circle cx="111.3" cy="418.1" r="1.18" fill="#f0f7fa"/>
<circle cx="102.4" cy="430.3" r="1.18" fill="#f3fafc"/>
<circle cx="77.4" cy="432.9" r="1.18" fill="#e0ecf4"/>
<circle cx="104.7" cy="410.0" r="1.18" fill="#d0e0ed"/>
<circle cx="97.7" cy="395.7" r="1.18" fill="#eef5f9"/>
<circle cx="93.6" cy="362.3" r="1.18" fill="#f3f9fb"/>
<circle cx="108.3" cy="367.4" r="1.18" fill="#c6d8e9"/>
<circle cx="94.0" cy="404.4" r="1.18" fill="#e5eff6"/>
<circle cx="93.0" cy="402.0" r="1.18" fill="#e1edf5"/>
<circle cx="98.2" cy="407.8" r="1.18" fill="#e3eef5"/>
<circle cx="156.0" cy="391.3" r="1.18" fill="#d3e2ee"/>
<circle cx="156.5" cy="390.9" r="1.18" fill="#dbe9f2"/>
<circle cx="66.3" cy="424.3" r="1.18" fill="#deeaf3"/>
<circle cx="83.2" cy="387.8" r="1.18" fill="#eef6f9"/>
<circle cx="80.6" cy="434.7" r="1.18" fill="#e6f0f6"/>
<circle cx="94.7" cy="429.3" r="1.18" fill="#e2edf5"/>
<circle cx="105.4" cy="335.2" r="1.18" fill="#f3fafc"/>
<circle cx="93.7" cy="395.9" r="1.18" fill="#f5fbfc"/>
<circle cx="64.4" cy="429.1" r="1.18" fill="#f5fafc"/>
<circle cx="98.7" cy="390.6" r="1.18" fill="#c3d6e8"/>
<circle cx="100.3" cy="343.8" r="1.18" fill="#f5fbfc"/>
<circle cx="67.4" cy="437.2" r="1.18" fill="#ccddec"/>
<circle cx="89.6" cy="389.2" r="1.18" fill="#f7fcfd"/>
<circle cx="79.0" cy="431.2" r="1.18" fill="#e5f0f6"/>
<circle cx="92.3" cy="398.4" r="1.18" fill="#e8f1f7"/>
<circle cx="181.8" cy="341.5" r="1.18" fill="#eff6fa"/>
<circle cx="97.4" cy="393.9" r="1.18" fill="#eef5f9"/>
<circle cx="104.3" cy="437.0" r="1.18" fill="#e8f2f7"/>
<circle cx="67.2" cy="399.3" r="1.18" fill="#d1e1ee"/>
<circle cx="96.8" cy="400.5" r="1.18" fill="#e5eff6"/>
<circle cx="184.6" cy="320.0" r="1.18" fill="#e8f1f7"/>
<circle cx="72.5" cy="391.9" r="1.18" fill="#f0f7fa"/>
<circle cx="105.6" cy="341.6" r="1.18" fill="#e5f0f6"/>
<circle cx="78.7" cy="410.5" r="1.18" fill="#c9daea"/>
<circle cx="110.7" cy="392.7" r="1.18" fill="#d5e4ef"/>
<circle cx="63.7" cy="436.0" r="1.18" fill="#ecf4f9"/>
<circle cx="148.8" cy="397.2" r="1.18" fill="#f2f9fb"/>
<circle cx="61.0" cy="406.9" r="1.18" fill="#d7e5f0"/>
<circle cx="76.0" cy="428.8" r="1.18" fill="#f1f8fb"/>
<circle cx="101.1" cy="347.1" r="1.18" fill="#d7e6f0"/>
<circle cx="133.1" cy="407.7" r="1.18" fill="#e5f0f6"/>
<circle cx="184.7" cy="318.9" r="1.18" fill="#eef6fa"/>
<circle cx="101.6" cy="386.1" r="1.18" fill="#eaf3f8"/>
<circle cx="138.8" cy="369.2" r="1.18" fill="#cdddec"/>
<circle cx="154.3" cy="395.1" r="1.18" fill="#dfebf4"/>
<circle cx="110.6" cy="393.4" r="1.18" fill="#dbe8f2"/>
<circle cx="105.6" cy="345.4" r="1.18" fill="#e1edf4"/>
<circle cx="96.6" cy="318.2" r="1.18" fill="#f4fafc"/>
<circle cx="97.8" cy="343.1" r="1.18" fill="#cfdfed"/>
<circle cx="121.3" cy="351.8" r="1.18" fill="#d1e0ee"/>
<circle cx="100.6" cy="359.0" r="1.18" fill="#a4c0dc"/>
<circle cx="107.6" cy="312.8" r="1.18" fill="#dae8f2"/>
<circle cx="73.6" cy="369.6" r="1.18" fill="#b3cbe2"/>
<circle cx="95.7" cy="343.3" r="1.18" fill="#f5fbfc"/>
<circle cx="152.9" cy="331.3" r="1.18" fill="#dbe8f2"/>
<circle cx="117.3" cy="405.8" r="1.18" fill="#e0ecf4"/>
<circle cx="82.9" cy="369.9" r="1.18" fill="#ebf4f8"/>
<circle cx="76.3" cy="430.0" r="1.18" fill="#d8e6f1"/>
<circle cx="106.1" cy="409.7" r="1.18" fill="#f1f8fb"/>
<circle cx="61.1" cy="424.6" r="1.18" fill="#c8daea"/>
<circle cx="64.3" cy="414.4" r="1.18" fill="#99b1d4"/>
<circle cx="83.3" cy="361.6" r="1.18" fill="#d3e2ef"/>
<circle cx="161.2" cy="395.2" r="1.18" fill="#f1f8fb"/>
<circle cx="84.9" cy="424.0" r="1.18" fill="#edf5f9"/>
<circle cx="69.2" cy="428.0" r="1.18" fill="#c5d8e9"/>
<circle cx="74.4" cy="433.9" r="1.18" fill="#bfd3e6"/>
<circle cx="114.7" cy="343.5" r="1.18" fill="#e2edf5"/>
<circle cx="62.1" cy="435.5" r="1.18" fill="#e7f1f7"/>
<circle cx="110.2" cy="423.7" r="1.18" fill="#aec7e0"/>
<circle cx="100.6" cy="335.1" r="1.18" fill="#e0ecf4"/>
<circle cx="83.3" cy="329.2" r="1.18" fill="#d5e3ef"/>
<circle cx="82.4" cy="408.6" r="1.18" fill="#cadbeb"/>
<circle cx="117.9" cy="351.7" r="1.18" fill="#aec7e0"/>
<circle cx="99.1" cy="414.3" r="1.18" fill="#c8daea"/>
<circle cx="99.2" cy="323.7" r="1.18" fill="#dce9f2"/>
<circle cx="102.7" cy="332.4" r="1.18" fill="#deeaf3"/>
<circle cx="60.6" cy="436.3" r="1.18" fill="#edf5f9"/>
<circle cx="75.4" cy="412.8" r="1.18" fill="#e1ecf4"/>
<circle cx="112.5" cy="395.7" r="1.18" fill="#b6cde3"/>
<circle cx="96.2" cy="400.8" r="1.18" fill="#e1edf4"/>
<circle cx="99.6" cy="324.8" r="1.18" fill="#bfd3e6"/>
<circle cx="131.7" cy="420.4" r="1.18" fill="#c0d4e7"/>
<circle cx="97.8" cy="432.6" r="1.18" fill="#f6fbfd"/>
<circle cx="84.2" cy="307.4" r="1.18" fill="#ccddec"/>
<circle cx="66.1" cy="367.7" r="1.18" fill="#a4c0dc"/>
<circle cx="128.0" cy="401.7" r="1.18" fill="#d0e0ed"/>
<circle cx="92.5" cy="335.5" r="1.18" fill="#ddeaf3"/>
<circle cx="79.3" cy="407.9" r="1.18" fill="#cfdfed"/>
<circle cx="131.9" cy="344.8" r="1.18" fill="#e1ecf4"/>
<circle cx="117.6" cy="408.8" r="1.18" fill="#cadceb"/>
<circle cx="98.5" cy="351.6" r="1.18" fill="#f5fafc"/>
<circle cx="87.4" cy="397.2" r="1.18" fill="#e8f2f7"/>
<circle cx="63.5" cy="409.0" r="1.18" fill="#bed2e6"/>
<circle cx="82.6" cy="404.5" r="1.18" fill="#bdd1e5"/>
<circle cx="68.6" cy="385.0" r="1.18" fill="#eef6fa"/>
<circle cx="103.3" cy="412.2" r="1.18" fill="#e7f1f7"/>
<circle cx="99.6" cy="402.7" r="1.18" fill="#e0ecf4"/>
<circle cx="113.8" cy="332.3" r="1.18" fill="#ccddeb"/>
<circle cx="63.2" cy="331.1" r="1.18" fill="#cadbeb"/>
<circle cx="173.3" cy="356.1" r="1.18" fill="#eaf3f8"/>
<circle cx="78.0" cy="428.5" r="1.18" fill="#afc8e0"/>
<circle cx="91.7" cy="413.4" r="1.18" fill="#cedeec"/>
<circle cx="67.3" cy="330.1" r="1.18" fill="#c0d4e7"/>
<circle cx="105.0" cy="361.3" r="1.18" fill="#d0e0ed"/>
<circle cx="112.8" cy="381.4" r="1.18" fill="#bbd0e5"/>
<circle cx="105.0" cy="378.0" r="1.18" fill="#e9f2f7"/>
<circle cx="164.6" cy="433.5" r="1.18" fill="#c8daea"/>
<circle cx="106.8" cy="382.6" r="1.18" fill="#f0f7fa"/>
<circle cx="111.7" cy="434.2" r="1.18" fill="#e8f1f7"/>
<circle cx="98.2" cy="427.8" r="1.18" fill="#c6d8e9"/>
<circle cx="81.7" cy="429.5" r="1.18" fill="#cadbeb"/>
<circle cx="103.3" cy="399.6" r="1.18" fill="#edf5f9"/>
<circle cx="88.3" cy="437.0" r="1.18" fill="#cadbea"/>
<circle cx="104.0" cy="350.3" r="1.18" fill="#b7cee3"/>
<circle cx="106.1" cy="410.4" r="1.18" fill="#d2e1ee"/>
<circle cx="107.9" cy="335.5" r="1.18" fill="#d3e2ee"/>
<circle cx="102.6" cy="379.8" r="1.18" fill="#f2f9fb"/>
<circle cx="103.5" cy="406.3" r="1.18" fill="#eaf3f8"/>
<circle cx="120.2" cy="398.6" r="1.18" fill="#e5f0f6"/>
<circle cx="74.8" cy="380.7" r="1.18" fill="#ddeaf3"/>
<circle cx="105.4" cy="411.1" r="1.18" fill="#f5fafc"/>
<circle cx="102.5" cy="322.2" r="1.18" fill="#d0e0ed"/>
<circle cx="62.0" cy="435.5" r="1.18" fill="#c7d9e9"/>
<circle cx="64.4" cy="333.2" r="1.18" fill="#adc7e0"/>
<circle cx="101.4" cy="400.9" r="1.18" fill="#dbe8f2"/>
<circle cx="95.4" cy="380.8" r="1.18" fill="#c9daea"/>
<circle cx="77.3" cy="348.0" r="1.18" fill="#dfebf4"/>
<circle cx="106.5" cy="383.6" r="1.18" fill="#c8daea"/>
<circle cx="114.2" cy="307.2" r="1.18" fill="#dae7f1"/>
<circle cx="68.3" cy="394.2" r="1.18" fill="#adc7e0"/>
<circle cx="77.9" cy="416.2" r="1.18" fill="#b7cde3"/>
<circle cx="66.0" cy="382.7" r="1.18" fill="#cfdfed"/>
<circle cx="106.1" cy="375.3" r="1.18" fill="#f4fafc"/>
<circle cx="79.0" cy="429.3" r="1.18" fill="#eff6fa"/>
<circle cx="111.5" cy="386.2" r="1.18" fill="#d6e4f0"/>
<circle cx="167.8" cy="351.7" r="1.18" fill="#d6e4f0"/>
<circle cx="102.9" cy="342.5" r="1.18" fill="#a9c3de"/>
<circle cx="88.5" cy="433.2" r="1.18" fill="#bbd0e4"/>
<circle cx="125.5" cy="310.5" r="1.18" fill="#e5f0f6"/>
<circle cx="87.4" cy="403.4" r="1.18" fill="#eaf3f8"/>
<circle cx="77.2" cy="379.9" r="1.18" fill="#d9e7f1"/>
<circle cx="153.7" cy="400.6" r="1.18" fill="#cddeec"/>
<circle cx="142.8" cy="323.0" r="1.18" fill="#c9daea"/>
<circle cx="154.4" cy="330.3" r="1.18" fill="#b4cce2"/>
<circle cx="92.1" cy="385.4" r="1.18" fill="#aec7e0"/>
<circle cx="92.5" cy="413.9" r="1.18" fill="#b2cae1"/>
<circle cx="90.8" cy="336.2" r="1.18" fill="#dce9f2"/>
<circle cx="65.9" cy="435.1" r="1.18" fill="#abc5df"/>
<circle cx="180.6" cy="406.4" r="1.18" fill="#d9e7f1"/>
<circle cx="114.2" cy="316.7" r="1.18" fill="#abc5df"/>
<circle cx="111.1" cy="341.7" r="1.18" fill="#ccddeb"/>
<circle cx="67.8" cy="413.5" r="1.18" fill="#b0c8e0"/>
<circle cx="110.1" cy="421.8" r="1.18" fill="#bfd3e6"/>
<circle cx="74.2" cy="390.4" r="1.18" fill="#e3eef5"/>
<circle cx="127.4" cy="333.8" r="1.18" fill="#9fbdda"/>
<circle cx="76.7" cy="332.3" r="1.18" fill="#aec7e0"/>
<circle cx="117.1" cy="410.8" r="1.18" fill="#97add2"/>
<circle cx="100.1" cy="417.7" r="1.18" fill="#b8cee3"/>
<circle cx="112.8" cy="397.6" r="1.18" fill="#e3eef5"/>
<circle cx="77.9" cy="406.7" r="1.18" fill="#cadceb"/>
<circle cx="96.6" cy="387.9" r="1.18" fill="#d3e2ee"/>
<circle cx="118.5" cy="366.1" r="1.18" fill="#b6cde3"/>
<circle cx="108.7" cy="323.4" r="1.18" fill="#bcd1e5"/>
<circle cx="92.3" cy="424.6" r="1.18" fill="#d1e1ee"/>
<circle cx="144.7" cy="430.1" r="1.18" fill="#d9e7f1"/>
<circle cx="106.2" cy="430.4" r="1.18" fill="#f3f9fb"/>
<circle cx="117.3" cy="358.0" r="1.18" fill="#c8daea"/>
<circle cx="96.1" cy="305.8" r="1.18" fill="#9cb7d8"/>
<circle cx="158.8" cy="428.8" r="1.18" fill="#d7e5f0"/>
<circle cx="82.5" cy="387.2" r="1.18" fill="#b4cce2"/>
<circle cx="89.2" cy="404.5" r="1.18" fill="#b7cde3"/>
<circle cx="67.0" cy="340.4" r="1.18" fill="#eff7fa"/>
<circle cx="88.9" cy="402.7" r="1.18" fill="#e3eef5"/>
<circle cx="83.1" cy="435.2" r="1.18" fill="#c0d4e6"/>
<circle cx="114.3" cy="343.9" r="1.18" fill="#aac4de"/>
<circle cx="85.5" cy="395.5" r="1.18" fill="#dae7f1"/>
<circle cx="159.4" cy="338.8" r="1.18" fill="#f0f7fa"/>
<circle cx="67.0" cy="416.4" r="1.18" fill="#ecf4f9"/>
<circle cx="62.1" cy="422.6" r="1.18" fill="#a7c3dd"/>
<circle cx="100.2" cy="341.3" r="1.18" fill="#d5e4ef"/>
<circle cx="85.2" cy="415.5" r="1.18" fill="#9ab5d6"/>
<circle cx="164.9" cy="352.8" r="1.18" fill="#93a5ce"/>
<circle cx="111.3" cy="308.7" r="1.18" fill="#e6f0f6"/>
<circle cx="81.9" cy="345.8" r="1.18" fill="#dbe8f2"/>
<circle cx="105.8" cy="315.0" r="1.18" fill="#b9cfe4"/>
<circle cx="86.7" cy="433.1" r="1.18" fill="#b0c8e0"/>
<circle cx="183.5" cy="333.1" r="1.18" fill="#c7d9e9"/>
<circle cx="104.5" cy="404.1" r="1.18" fill="#dae7f1"/>
<circle cx="87.8" cy="382.3" r="1.18" fill="#d2e2ee"/>
<circle cx="101.1" cy="421.0" r="1.18" fill="#d6e4f0"/>
<circle cx="87.4" cy="353.0" r="1.18" fill="#dce9f2"/>
<circle cx="104.9" cy="329.1" r="1.18" fill="#e7f1f7"/>
<circle cx="89.4" cy="357.0" r="1.18" fill="#d0e0ed"/>
<circle cx="192.3" cy="348.4" r="1.18" fill="#dae8f1"/>
<circle cx="137.5" cy="407.5" r="1.18" fill="#a4c0dc"/>
<circle cx="129.8" cy="330.0" r="1.18" fill="#b7cde3"/>
<circle cx="133.4" cy="353.2" r="1.18" fill="#c2d5e7"/>
<circle cx="192.8" cy="381.0" r="1.18" fill="#b8cee3"/>
<circle cx="113.3" cy="402.5" r="1.18" fill="#c4d7e8"/>
<circle cx="102.0" cy="382.5" r="1.18" fill="#e2eef5"/>
<circle cx="64.4" cy="346.8" r="1.18" fill="#dbe9f2"/>
<circle cx="63.8" cy="312.1" r="1.18" fill="#c6d8e9"/>
<circle cx="62.4" cy="342.0" r="1.18" fill="#d3e2ee"/>
<circle cx="98.0" cy="347.5" r="1.18" fill="#ccddeb"/>
<circle cx="61.3" cy="400.2" r="1.18" fill="#bed2e5"/>
<circle cx="159.6" cy="335.1" r="1.18" fill="#b8cee3"/>
<circle cx="114.8" cy="421.0" r="1.18" fill="#cbdceb"/>
<circle cx="171.2" cy="321.4" r="1.18" fill="#c7d9e9"/>
<circle cx="104.1" cy="404.9" r="1.18" fill="#9bb6d7"/>
<circle cx="79.3" cy="433.8" r="1.18" fill="#9ebcda"/>
<circle cx="95.0" cy="390.1" r="1.18" fill="#b0c9e1"/>
<circle cx="93.6" cy="413.9" r="1.18" fill="#c1d5e7"/>
<circle cx="154.0" cy="344.7" r="1.18" fill="#e1edf4"/>
<circle cx="77.5" cy="348.0" r="1.18" fill="#abc5df"/>
<circle cx="81.1" cy="434.1" r="1.18" fill="#d9e6f1"/>
<circle cx="103.9" cy="434.0" r="1.18" fill="#d6e5f0"/>
<circle cx="96.5" cy="430.2" r="1.18" fill="#dce9f2"/>
<circle cx="181.5" cy="330.0" r="1.18" fill="#c5d7e8"/>
<circle cx="131.1" cy="417.2" r="1.18" fill="#e1edf4"/>
<circle cx="82.5" cy="434.0" r="1.18" fill="#d5e4ef"/>
<circle cx="69.1" cy="410.7" r="1.18" fill="#f1f8fa"/>
<circle cx="108.5" cy="408.7" r="1.18" fill="#c6d8e9"/>
<circle cx="145.9" cy="353.0" r="1.18" fill="#e2eef5"/>
<circle cx="62.9" cy="384.2" r="1.18" fill="#c2d5e7"/>
<circle cx="87.8" cy="343.9" r="1.18" fill="#ebf3f8"/>
<circle cx="174.1" cy="427.7" r="1.18" fill="#ccddeb"/>
<circle cx="105.4" cy="384.6" r="1.18" fill="#cadceb"/>
<circle cx="116.7" cy="354.0" r="1.18" fill="#bbd0e5"/>
<circle cx="114.4" cy="382.9" r="1.18" fill="#c5d8e9"/>
<circle cx="117.1" cy="369.9" r="1.18" fill="#deebf3"/>
<circle cx="81.9" cy="323.8" r="1.18" fill="#cedfed"/>
<circle cx="168.3" cy="397.8" r="1.18" fill="#97add2"/>
<circle cx="76.2" cy="380.3" r="1.18" fill="#bbd0e4"/>
<circle cx="101.4" cy="376.7" r="1.18" fill="#d2e1ee"/>
<circle cx="85.9" cy="391.7" r="1.18" fill="#c2d5e7"/>
<circle cx="87.9" cy="310.9" r="1.18" fill="#c7d9ea"/>
<circle cx="90.6" cy="396.0" r="1.18" fill="#99b0d4"/>
<circle cx="73.1" cy="420.4" r="1.18" fill="#d5e4ef"/>
<circle cx="94.1" cy="404.4" r="1.18" fill="#d9e7f1"/>
<circle cx="67.0" cy="393.6" r="1.18" fill="#b4cbe2"/>
<circle cx="101.0" cy="307.4" r="1.18" fill="#e6f0f6"/>
<circle cx="78.5" cy="385.3" r="1.18" fill="#e3eef5"/>
<circle cx="136.3" cy="379.2" r="1.18" fill="#d4e3ef"/>
<circle cx="96.8" cy="418.3" r="1.18" fill="#d5e4ef"/>
<circle cx="91.5" cy="422.7" r="1.18" fill="#e3eef5"/>
<circle cx="86.6" cy="420.7" r="1.18" fill="#e5eff6"/>
<circle cx="77.2" cy="434.9" r="1.18" fill="#b3cbe2"/>
<circle cx="168.9" cy="355.8" r="1.18" fill="#f1f8fb"/>
<circle cx="89.4" cy="397.7" r="1.18" fill="#bacfe4"/>
<circle cx="75.7" cy="385.0" r="1.18" fill="#c4d7e8"/>
<circle cx="68.8" cy="415.4" r="1.18" fill="#ccdceb"/>
<circle cx="129.2" cy="404.3" r="1.18" fill="#d1e0ee"/>
<circle cx="104.8" cy="364.2" r="1.18" fill="#bcd1e5"/>
<circle cx="130.4" cy="420.1" r="1.18" fill="#e2edf5"/>
<circle cx="102.1" cy="411.6" r="1.18" fill="#d5e4ef"/>
<circle cx="96.3" cy="333.9" r="1.18" fill="#cfdfed"/>
<circle cx="149.5" cy="392.0" r="1.18" fill="#c6d8e9"/>
<circle cx="61.8" cy="309.1" r="1.18" fill="#b0c9e1"/>
<circle cx="173.5" cy="413.6" r="1.18" fill="#c9dbea"/>
<circle cx="86.0" cy="380.8" r="1.18" fill="#aec7e0"/>
<circle cx="80.9" cy="412.4" r="1.18" fill="#d9e7f1"/>
<circle cx="170.0" cy="435.5" r="1.18" fill="#c2d5e7"/>
<circle cx="81.0" cy="437.0" r="1.18" fill="#cedeec"/>
<circle cx="90.7" cy="413.4" r="1.18" fill="#bacfe4"/>
<circle cx="93.6" cy="383.3" r="1.18" fill="#d0e0ed"/>
<circle cx="70.4" cy="379.9" r="1.18" fill="#b6cde3"/>
<circle cx="153.0" cy="324.2" r="1.18" fill="#dbe8f2"/>
<circle cx="94.0" cy="348.4" r="1.18" fill="#cfdfed"/>
<circle cx="80.8" cy="310.8" r="1.18" fill="#cfdfed"/>
<circle cx="101.2" cy="416.7" r="1.18" fill="#b9cfe4"/>
<circle cx="160.8" cy="434.5" r="1.18" fill="#dde9f3"/>
<circle cx="90.8" cy="311.9" r="1.18" fill="#bcd1e5"/>
<circle cx="69.5" cy="367.1" r="1.18" fill="#bbd0e5"/>
<circle cx="128.8" cy="435.9" r="1.18" fill="#c8daea"/>
<circle cx="113.7" cy="397.0" r="1.18" fill="#ddeaf3"/>
<circle cx="89.7" cy="329.1" r="1.18" fill="#abc5df"/>
<circle cx="180.7" cy="413.8" r="1.18" fill="#cfdfed"/>
<circle cx="64.7" cy="419.5" r="1.18" fill="#a5c1dd"/>
<circle cx="68.7" cy="425.7" r="1.18" fill="#eaf3f8"/>
<circle cx="63.4" cy="350.9" r="1.18" fill="#dae7f1"/>
<circle cx="137.5" cy="418.1" r="1.18" fill="#a8c3dd"/>
<circle cx="104.9" cy="347.9" r="1.18" fill="#c7d9e9"/>
<circle cx="113.6" cy="402.3" r="1.18" fill="#a1bedb"/>
<circle cx="103.3" cy="354.1" r="1.18" fill="#a3bfdc"/>
<circle cx="65.9" cy="429.8" r="1.18" fill="#c8daea"/>
<circle cx="73.6" cy="437.1" r="1.18" fill="#c8daea"/>
<circle cx="62.1" cy="399.5" r="1.18" fill="#b0c8e0"/>
<circle cx="116.6" cy="388.4" r="1.18" fill="#b4cce2"/>
<circle cx="106.5" cy="410.1" r="1.18" fill="#cddeec"/>
<circle cx="68.1" cy="414.9" r="1.18" fill="#b6cde3"/>
<circle cx="123.5" cy="408.3" r="1.18" fill="#d9e7f1"/>
<circle cx="69.7" cy="430.0" r="1.18" fill="#ebf3f8"/>
<circle cx="75.7" cy="396.9" r="1.18" fill="#9dbad9"/>
<circle cx="112.6" cy="369.4" r="1.18" fill="#d6e5f0"/>
<circle cx="106.7" cy="387.2" r="1.18" fill="#dfebf4"/>
<circle cx="86.6" cy="434.9" r="1.18" fill="#eaf3f8"/>
<circle cx="105.9" cy="364.8" r="1.18" fill="#c0d4e6"/>
<circle cx="129.8" cy="390.2" r="1.18" fill="#afc8e0"/>
<circle cx="73.8" cy="383.6" r="1.18" fill="#adc7df"/>
<circle cx="102.1" cy="357.4" r="1.18" fill="#ccddec"/>
<circle cx="100.2" cy="425.3" r="1.18" fill="#deeaf3"/>
<circle cx="75.5" cy="379.3" r="1.18" fill="#c1d4e7"/>
<circle cx="91.5" cy="387.4" r="1.18" fill="#a1bedb"/>
<circle cx="70.5" cy="339.1" r="1.18" fill="#dbe8f2"/>
<circle cx="70.3" cy="337.8" r="1.18" fill="#9bb6d7"/>
<circle cx="74.7" cy="422.4" r="1.18" fill="#9dbad9"/>
<circle cx="180.8" cy="333.9" r="1.18" fill="#b2cae1"/>
<circle cx="183.5" cy="323.6" r="1.18" fill="#a6c2dd"/>
<circle cx="63.1" cy="392.3" r="1.18" fill="#8c90c3"/>
<circle cx="70.9" cy="378.6" r="1.18" fill="#a8c3de"/>
<circle cx="106.4" cy="392.8" r="1.18" fill="#d0e0ed"/>
<circle cx="104.8" cy="391.9" r="1.18" fill="#c3d6e8"/>
<circle cx="104.5" cy="399.8" r="1.18" fill="#d9e7f1"/>
<circle cx="76.3" cy="428.1" r="1.18" fill="#dae7f1"/>
<circle cx="100.6" cy="326.0" r="1.18" fill="#c2d5e7"/>
<circle cx="69.4" cy="383.2" r="1.18" fill="#b7cde3"/>
<circle cx="100.2" cy="368.5" r="1.18" fill="#92a3cd"/>
<circle cx="121.2" cy="433.0" r="1.18" fill="#acc6df"/>
<circle cx="65.1" cy="412.7" r="1.18" fill="#b9cfe4"/>
<circle cx="97.1" cy="327.7" r="1.18" fill="#b1cae1"/>
<circle cx="87.7" cy="410.1" r="1.18" fill="#a8c3de"/>
<circle cx="62.0" cy="307.1" r="1.18" fill="#c6d9e9"/>
<circle cx="92.4" cy="376.6" r="1.18" fill="#c3d6e8"/>
<circle cx="79.1" cy="395.8" r="1.18" fill="#bcd1e5"/>
<circle cx="120.7" cy="415.1" r="1.18" fill="#f2f9fb"/>
<circle cx="89.3" cy="431.9" r="1.18" fill="#a3c0dc"/>
<circle cx="71.6" cy="433.4" r="1.18" fill="#b4cbe2"/>
<circle cx="78.2" cy="425.2" r="1.18" fill="#f0f7fa"/>
<circle cx="76.9" cy="344.6" r="1.18" fill="#c3d6e8"/>
<circle cx="74.8" cy="381.3" r="1.18" fill="#cadbea"/>
<circle cx="92.3" cy="394.8" r="1.18" fill="#9dbad9"/>
<circle cx="80.1" cy="431.0" r="1.18" fill="#a8c3de"/>
<circle cx="107.2" cy="372.4" r="1.18" fill="#adc6df"/>
<circle cx="140.1" cy="401.0" r="1.18" fill="#91a0cb"/>
<circle cx="99.1" cy="407.3" r="1.18" fill="#c1d5e7"/>
<circle cx="95.8" cy="434.2" r="1.18" fill="#e9f2f7"/>
<circle cx="130.8" cy="344.9" r="1.18" fill="#94a7cf"/>
<circle cx="100.5" cy="347.1" r="1.18" fill="#d0e0ed"/>
<circle cx="80.6" cy="416.3" r="1.18" fill="#94a7cf"/>
<circle cx="67.3" cy="400.1" r="1.18" fill="#a4c0dc"/>
<circle cx="102.0" cy="389.3" r="1.18" fill="#b2cae1"/>
<circle cx="60.6" cy="429.9" r="1.18" fill="#cadceb"/>
<circle cx="80.0" cy="434.9" r="1.18" fill="#d4e3ef"/>
<circle cx="169.6" cy="418.4" r="1.18" fill="#a2bfdb"/>
<circle cx="66.3" cy="423.6" r="1.18" fill="#eef5f9"/>
<circle cx="83.0" cy="437.3" r="1.18" fill="#9ebbda"/>
<circle cx="69.9" cy="395.7" r="1.18" fill="#cadceb"/>
<circle cx="139.3" cy="376.6" r="1.18" fill="#abc5df"/>
<circle cx="68.8" cy="436.0" r="1.18" fill="#a7c2dd"/>
<circle cx="98.8" cy="393.2" r="1.18" fill="#9fbcda"/>
<circle cx="100.1" cy="417.4" r="1.18" fill="#d7e5f0"/>
<circle cx="155.1" cy="310.7" r="1.18" fill="#b9cfe4"/>
<circle cx="68.7" cy="325.5" r="1.18" fill="#b6cde3"/>
<circle cx="84.6" cy="427.0" r="1.18" fill="#91a1cc"/>
<circle cx="72.2" cy="430.4" r="1.18" fill="#a9c4de"/>
<circle cx="96.1" cy="405.1" r="1.18" fill="#b6cde3"/>
<circle cx="117.3" cy="307.1" r="1.18" fill="#9ebbda"/>
<circle cx="63.6" cy="413.4" r="1.18" fill="#8c8fc3"/>
<circle cx="77.3" cy="414.2" r="1.18" fill="#9ebcda"/>
<circle cx="91.2" cy="395.5" r="1.18" fill="#ccddec"/>
<circle cx="95.8" cy="410.5" r="1.18" fill="#d2e2ee"/>
<circle cx="119.7" cy="316.7" r="1.18" fill="#c5d7e8"/>
<circle cx="107.7" cy="403.4" r="1.18" fill="#bbd0e5"/>
<circle cx="76.0" cy="433.0" r="1.18" fill="#b4cbe2"/>
<circle cx="103.0" cy="395.4" r="1.18" fill="#bcd1e5"/>
<circle cx="91.1" cy="413.6" r="1.18" fill="#b0c9e1"/>
<circle cx="63.0" cy="387.9" r="1.18" fill="#8c80bb"/>
<circle cx="184.3" cy="342.0" r="1.18" fill="#94a7cf"/>
<circle cx="83.9" cy="351.3" r="1.18" fill="#eff7fa"/>
<circle cx="119.9" cy="351.6" r="1.18" fill="#c3d6e8"/>
<circle cx="187.3" cy="397.1" r="1.18" fill="#8c96c6"/>
<circle cx="63.4" cy="328.6" r="1.18" fill="#d1e0ed"/>
<circle cx="99.9" cy="381.6" r="1.18" fill="#8c96c6"/>
<circle cx="75.5" cy="406.4" r="1.18" fill="#c2d5e7"/>
<circle cx="71.5" cy="383.2" r="1.18" fill="#909eca"/>
<circle cx="106.0" cy="330.6" r="1.18" fill="#cfdfed"/>
<circle cx="76.8" cy="426.7" r="1.18" fill="#c3d6e8"/>
<circle cx="113.6" cy="345.1" r="1.18" fill="#c3d6e8"/>
<circle cx="90.2" cy="414.5" r="1.18" fill="#c1d5e7"/>
<circle cx="103.0" cy="405.8" r="1.18" fill="#9dbad9"/>
<circle cx="140.8" cy="323.9" r="1.18" fill="#99b1d4"/>
<circle cx="66.4" cy="426.5" r="1.18" fill="#b0c8e0"/>
<circle cx="101.7" cy="383.5" r="1.18" fill="#b8cee3"/>
<circle cx="86.7" cy="398.9" r="1.18" fill="#a3c0dc"/>
<circle cx="146.1" cy="356.4" r="1.18" fill="#c6d9e9"/>
<circle cx="120.2" cy="385.4" r="1.18" fill="#93a4ce"/>
<circle cx="96.9" cy="408.5" r="1.18" fill="#b8cee3"/>
<circle cx="86.4" cy="393.0" r="1.18" fill="#99b2d5"/>
<circle cx="98.5" cy="426.2" r="1.18" fill="#d2e2ee"/>
<circle cx="174.0" cy="383.3" r="1.18" fill="#a9c4de"/>
<circle cx="105.0" cy="395.8" r="1.18" fill="#abc5df"/>
<circle cx="80.4" cy="397.3" r="1.18" fill="#9cb8d8"/>
<circle cx="109.9" cy="395.7" r="1.18" fill="#a5c1dd"/>
<circle cx="123.1" cy="400.1" r="1.18" fill="#e4eff5"/>
<circle cx="164.9" cy="426.7" r="1.18" fill="#a5c1dc"/>
<circle cx="68.2" cy="382.8" r="1.18" fill="#c6d8e9"/>
<circle cx="65.3" cy="424.8" r="1.18" fill="#a1bedb"/>
<circle cx="74.5" cy="423.4" r="1.18" fill="#aec7e0"/>
<circle cx="148.6" cy="384.4" r="1.18" fill="#8f9cc9"/>
<circle cx="180.3" cy="373.5" r="1.18" fill="#a8c3dd"/>
<circle cx="160.8" cy="316.0" r="1.18" fill="#96abd1"/>
<circle cx="86.4" cy="411.6" r="1.18" fill="#b6cde3"/>
<circle cx="119.1" cy="344.2" r="1.18" fill="#b6cde3"/>
<circle cx="85.9" cy="427.1" r="1.18" fill="#afc8e0"/>
<circle cx="105.4" cy="364.8" r="1.18" fill="#b2cae1"/>
<circle cx="66.5" cy="401.1" r="1.18" fill="#c1d4e7"/>
<circle cx="121.0" cy="436.0" r="1.18" fill="#a0bedb"/>
<circle cx="87.6" cy="421.3" r="1.18" fill="#95a9d0"/>
<circle cx="91.9" cy="434.2" r="1.18" fill="#cedeec"/>
<circle cx="136.4" cy="392.7" r="1.18" fill="#9cb8d8"/>
<circle cx="105.9" cy="430.0" r="1.18" fill="#a0bddb"/>
<circle cx="90.4" cy="375.5" r="1.18" fill="#909fcb"/>
<circle cx="146.8" cy="373.7" r="1.18" fill="#8c90c3"/>
<circle cx="72.6" cy="323.7" r="1.18" fill="#a4c0dc"/>
<circle cx="132.0" cy="381.6" r="1.18" fill="#b6cde3"/>
<circle cx="80.3" cy="428.9" r="1.18" fill="#d6e5f0"/>
<circle cx="87.5" cy="429.2" r="1.18" fill="#9bb6d7"/>
<circle cx="143.2" cy="403.2" r="1.18" fill="#b0c8e0"/>
<circle cx="98.6" cy="343.4" r="1.18" fill="#b0c8e0"/>
<circle cx="73.3" cy="324.1" r="1.18" fill="#aec7e0"/>
<circle cx="111.6" cy="404.0" r="1.18" fill="#a8c3de"/>
<circle cx="61.7" cy="416.4" r="1.18" fill="#acc6df"/>
<circle cx="143.3" cy="322.9" r="1.18" fill="#a9c4de"/>
<circle cx="79.5" cy="353.3" r="1.18" fill="#a8c3de"/>
<circle cx="132.1" cy="435.4" r="1.18" fill="#a8c3de"/>
<circle cx="172.2" cy="390.8" r="1.18" fill="#98afd3"/>
<circle cx="104.9" cy="385.7" r="1.18" fill="#e4eff5"/>
<circle cx="179.2" cy="338.1" r="1.18" fill="#9ebbda"/>
<circle cx="95.2" cy="322.0" r="1.18" fill="#c3d6e8"/>
<circle cx="66.9" cy="400.8" r="1.18" fill="#909eca"/>
<circle cx="101.0" cy="404.3" r="1.18" fill="#909eca"/>
<circle cx="92.4" cy="410.6" r="1.18" fill="#97add2"/>
<circle cx="60.8" cy="384.5" r="1.18" fill="#b9cfe4"/>
<circle cx="73.7" cy="350.3" r="1.18" fill="#9ab4d6"/>
<circle cx="72.2" cy="367.2" r="1.18" fill="#8c93c4"/>
<circle cx="77.9" cy="426.5" r="1.18" fill="#a3c0dc"/>
<circle cx="87.8" cy="400.3" r="1.18" fill="#909eca"/>
<circle cx="188.3" cy="385.1" r="1.18" fill="#9ebbda"/>
<circle cx="108.9" cy="343.1" r="1.18" fill="#b4cbe2"/>
<circle cx="99.1" cy="343.2" r="1.18" fill="#8c88bf"/>
<circle cx="67.2" cy="428.0" r="1.18" fill="#99b2d5"/>
<circle cx="139.7" cy="433.1" r="1.18" fill="#9ebbda"/>
<circle cx="122.2" cy="402.8" r="1.18" fill="#a0bddb"/>
<circle cx="105.6" cy="364.7" r="1.18" fill="#aec7e0"/>
<circle cx="78.3" cy="414.0" r="1.18" fill="#8c82bc"/>
<circle cx="74.0" cy="425.1" r="1.18" fill="#909eca"/>
<circle cx="97.8" cy="320.0" r="1.18" fill="#8d99c8"/>
<circle cx="102.7" cy="411.9" r="1.18" fill="#a7c3dd"/>
<circle cx="97.0" cy="316.7" r="1.18" fill="#a8c3de"/>
<circle cx="71.5" cy="393.3" r="1.18" fill="#9dbbd9"/>
<circle cx="184.2" cy="411.5" r="1.18" fill="#a6c2dd"/>
<circle cx="87.8" cy="382.2" r="1.18" fill="#a4c0dc"/>
<circle cx="84.6" cy="346.4" r="1.18" fill="#9db9d8"/>
<circle cx="144.9" cy="310.2" r="1.18" fill="#8c88bf"/>
<circle cx="83.5" cy="390.7" r="1.18" fill="#95a9d0"/>
<circle cx="80.7" cy="402.2" r="1.18" fill="#8c7eba"/>
<circle cx="96.2" cy="328.5" r="1.18" fill="#9bb6d7"/>
<circle cx="69.9" cy="310.3" r="1.18" fill="#96abd1"/>
<circle cx="170.6" cy="333.5" r="1.18" fill="#9ebcda"/>
<circle cx="84.3" cy="358.6" r="1.18" fill="#91a0cb"/>
<circle cx="110.0" cy="346.9" r="1.18" fill="#9db9d8"/>
<circle cx="88.6" cy="338.2" r="1.18" fill="#acc6df"/>
<circle cx="156.9" cy="402.0" r="1.18" fill="#b0c9e1"/>
<circle cx="84.2" cy="417.4" r="1.18" fill="#96acd2"/>
<circle cx="63.6" cy="324.2" r="1.18" fill="#9fbcda"/>
<circle cx="134.7" cy="378.3" r="1.18" fill="#d2e1ee"/>
<circle cx="92.2" cy="407.8" r="1.18" fill="#8c8bc1"/>
<circle cx="80.9" cy="420.9" r="1.18" fill="#8c94c5"/>
<circle cx="99.9" cy="318.7" r="1.18" fill="#c0d4e7"/>
<circle cx="135.9" cy="421.3" r="1.18" fill="#8c8ec2"/>
<circle cx="78.9" cy="356.2" r="1.18" fill="#8c89c0"/>
<circle cx="119.8" cy="428.5" r="1.18" fill="#94a7cf"/>
<circle cx="62.3" cy="393.6" r="1.18" fill="#91a0cb"/>
<circle cx="91.1" cy="416.8" r="1.18" fill="#d0e0ed"/>
<circle cx="141.2" cy="341.1" r="1.18" fill="#a8c3de"/>
<circle cx="124.1" cy="404.7" r="1.18" fill="#94a7cf"/>
<circle cx="135.6" cy="318.5" r="1.18" fill="#8c93c4"/>
<circle cx="102.7" cy="366.0" r="1.18" fill="#8c95c6"/>
<circle cx="99.7" cy="365.4" r="1.18" fill="#9cb7d8"/>
<circle cx="136.8" cy="344.4" r="1.18" fill="#a8c3dd"/>
<circle cx="88.6" cy="391.9" r="1.18" fill="#98aed3"/>
<circle cx="73.2" cy="412.7" r="1.18" fill="#93a4ce"/>
<circle cx="98.4" cy="417.1" r="1.18" fill="#a5c1dc"/>
<circle cx="77.4" cy="434.4" r="1.18" fill="#bcd1e5"/>
<circle cx="114.3" cy="386.6" r="1.18" fill="#a2bfdc"/>
<circle cx="149.8" cy="366.5" r="1.18" fill="#95a8d0"/>
<circle cx="77.6" cy="394.6" r="1.18" fill="#abc5df"/>
<circle cx="106.5" cy="393.4" r="1.18" fill="#9db9d8"/>
<circle cx="94.1" cy="417.9" r="1.18" fill="#b2cae1"/>
<circle cx="92.7" cy="327.0" r="1.18" fill="#96abd1"/>
<circle cx="156.3" cy="357.5" r="1.18" fill="#91a0cb"/>
<circle cx="68.9" cy="432.9" r="1.18" fill="#8e9ac8"/>
<circle cx="112.6" cy="385.9" r="1.18" fill="#bbd0e5"/>
<circle cx="94.6" cy="428.1" r="1.18" fill="#b4cbe2"/>
<circle cx="65.7" cy="360.9" r="1.18" fill="#aec7e0"/>
<circle cx="63.0" cy="425.4" r="1.18" fill="#abc5df"/>
<circle cx="77.6" cy="393.7" r="1.18" fill="#93a5ce"/>
<circle cx="63.5" cy="372.3" r="1.18" fill="#92a3cd"/>
<circle cx="135.1" cy="395.2" r="1.18" fill="#a5c1dd"/>
<circle cx="138.7" cy="364.3" r="1.18" fill="#9db9d9"/>
<circle cx="63.6" cy="420.8" r="1.18" fill="#8e99c8"/>
<circle cx="83.4" cy="397.1" r="1.18" fill="#a1bedb"/>
<circle cx="68.4" cy="428.6" r="1.18" fill="#9ab4d6"/>
<circle cx="67.0" cy="378.9" r="1.18" fill="#93a4cd"/>
<circle cx="68.6" cy="311.3" r="1.18" fill="#97add2"/>
<circle cx="132.9" cy="389.6" r="1.18" fill="#94a7cf"/>
<circle cx="67.2" cy="427.4" r="1.18" fill="#95a9d0"/>
<circle cx="80.3" cy="400.6" r="1.18" fill="#98b0d4"/>
<circle cx="66.8" cy="418.6" r="1.18" fill="#98afd3"/>
<circle cx="96.0" cy="410.8" r="1.18" fill="#acc6df"/>
<circle cx="68.2" cy="413.0" r="1.18" fill="#92a3cd"/>
<circle cx="85.4" cy="360.4" r="1.18" fill="#8f9cc9"/>
<circle cx="70.3" cy="393.4" r="1.18" fill="#b1c9e1"/>
<circle cx="73.3" cy="399.4" r="1.18" fill="#93a5ce"/>
<circle cx="94.3" cy="384.1" r="1.18" fill="#9fbdda"/>
<circle cx="135.9" cy="421.0" r="1.18" fill="#a0bedb"/>
<circle cx="85.5" cy="372.7" r="1.18" fill="#8c91c4"/>
<circle cx="138.5" cy="389.4" r="1.18" fill="#8c87bf"/>
<circle cx="110.0" cy="417.1" r="1.18" fill="#9db9d8"/>
<circle cx="188.3" cy="420.5" r="1.18" fill="#8c70b4"/>
<circle cx="128.7" cy="344.9" r="1.18" fill="#8c96c6"/>
<circle cx="77.7" cy="412.4" r="1.18" fill="#8c7fbb"/>
<circle cx="94.2" cy="373.1" r="1.18" fill="#a5c1dd"/>
<circle cx="182.7" cy="352.1" r="1.18" fill="#8e9bc9"/>
<circle cx="84.2" cy="397.9" r="1.18" fill="#aac5df"/>
<circle cx="133.0" cy="392.5" r="1.18" fill="#8c8bc0"/>
<circle cx="71.2" cy="349.8" r="1.18" fill="#98b0d4"/>
<circle cx="66.9" cy="423.9" r="1.18" fill="#8c78b7"/>
<circle cx="79.3" cy="385.3" r="1.18" fill="#91a1cc"/>
<circle cx="82.7" cy="361.0" r="1.18" fill="#8c73b5"/>
<circle cx="133.9" cy="393.0" r="1.18" fill="#8c90c3"/>
<circle cx="117.2" cy="435.1" r="1.18" fill="#9bb5d6"/>
<circle cx="77.7" cy="400.8" r="1.18" fill="#909eca"/>
<circle cx="86.8" cy="432.9" r="1.18" fill="#8c6db2"/>
<circle cx="89.7" cy="416.1" r="1.18" fill="#8b63ad"/>
<circle cx="78.5" cy="336.7" r="1.18" fill="#8c8fc2"/>
<circle cx="87.3" cy="383.8" r="1.18" fill="#a0bddb"/>
<circle cx="138.6" cy="428.4" r="1.18" fill="#8e9bc8"/>
<circle cx="64.4" cy="331.5" r="1.18" fill="#8c82bc"/>
<circle cx="139.9" cy="350.6" r="1.18" fill="#8c96c6"/>
<circle cx="72.3" cy="386.1" r="1.18" fill="#8c84bd"/>
<circle cx="100.6" cy="349.3" r="1.18" fill="#8c89c0"/>
<circle cx="101.2" cy="417.0" r="1.18" fill="#8c76b6"/>
<circle cx="98.1" cy="400.0" r="1.18" fill="#8d98c7"/>
<circle cx="83.5" cy="375.9" r="1.18" fill="#8c7fbb"/>
<circle cx="77.3" cy="317.0" r="1.18" fill="#8c93c4"/>
<circle cx="95.2" cy="362.8" r="1.18" fill="#8c83bd"/>
<circle cx="75.9" cy="406.1" r="1.18" fill="#8c7dba"/>
<circle cx="174.4" cy="402.8" r="1.18" fill="#cadbeb"/>
<circle cx="95.3" cy="436.0" r="1.18" fill="#8f9dc9"/>
<circle cx="79.2" cy="362.2" r="1.18" fill="#94a7cf"/>
<circle cx="128.1" cy="422.7" r="1.18" fill="#8c7dba"/>
<circle cx="93.0" cy="401.3" r="1.18" fill="#93a6ce"/>
<circle cx="92.0" cy="404.4" r="1.18" fill="#8d98c7"/>
<circle cx="80.6" cy="344.5" r="1.18" fill="#8c80bb"/>
<circle cx="82.6" cy="360.0" r="1.18" fill="#8c74b6"/>
<circle cx="84.1" cy="397.5" r="1.18" fill="#8a59a9"/>
<circle cx="77.6" cy="415.5" r="1.18" fill="#8c96c6"/>
<circle cx="60.2" cy="408.7" r="1.18" fill="#99b2d5"/>
<circle cx="74.0" cy="430.6" r="1.18" fill="#8c92c4"/>
<circle cx="83.7" cy="343.7" r="1.18" fill="#8c85be"/>
<circle cx="60.2" cy="423.9" r="1.18" fill="#8c76b6"/>
<circle cx="76.4" cy="364.6" r="1.18" fill="#8c91c4"/>
<circle cx="72.6" cy="308.5" r="1.18" fill="#8b62ad"/>
<circle cx="71.9" cy="389.2" r="1.18" fill="#8c90c3"/>
<circle cx="126.3" cy="306.5" r="1.18" fill="#8a56a7"/>
<circle cx="79.9" cy="408.8" r="1.18" fill="#8a5aa9"/>
<circle cx="73.3" cy="404.3" r="1.18" fill="#93a5ce"/>
<circle cx="142.1" cy="334.8" r="1.18" fill="#8c6db2"/>
<circle cx="79.6" cy="426.5" r="1.18" fill="#909fcb"/>
<circle cx="89.7" cy="405.5" r="1.18" fill="#8c8bc1"/>
<circle cx="122.9" cy="422.1" r="1.18" fill="#8c8cc1"/>
<circle cx="154.4" cy="330.4" r="1.18" fill="#894ea3"/>
<circle cx="70.4" cy="407.9" r="1.18" fill="#8a58a8"/>
<circle cx="163.7" cy="321.1" r="1.18" fill="#8c79b8"/>
<circle cx="69.8" cy="437.4" r="1.18" fill="#883f9c"/>
<circle cx="63.7" cy="411.8" r="1.18" fill="#9ab3d5"/>
<circle cx="66.6" cy="391.4" r="1.18" fill="#a1bedb"/>
<circle cx="172.1" cy="414.9" r="1.18" fill="#9fbcda"/>
<circle cx="176.7" cy="365.2" r="1.18" fill="#8c8dc2"/>
<circle cx="68.0" cy="364.0" r="1.18" fill="#92a3cd"/>
<circle cx="97.6" cy="379.6" r="1.18" fill="#9dbbd9"/>
<circle cx="85.4" cy="318.8" r="1.18" fill="#8c94c5"/>
<circle cx="90.3" cy="350.2" r="1.18" fill="#8c73b5"/>
<circle cx="70.1" cy="397.0" r="1.18" fill="#91a0cb"/>
<circle cx="81.8" cy="401.0" r="1.18" fill="#8c96c6"/>
<circle cx="63.0" cy="389.7" r="1.18" fill="#8c7bb9"/>
<circle cx="71.1" cy="423.8" r="1.18" fill="#8c8cc1"/>
<circle cx="73.0" cy="315.6" r="1.18" fill="#8b5fab"/>
<circle cx="117.9" cy="419.6" r="1.18" fill="#8c96c6"/>
<circle cx="96.0" cy="421.4" r="1.18" fill="#88459f"/>
<circle cx="169.5" cy="356.8" r="1.18" fill="#8c66af"/>
<circle cx="158.2" cy="370.5" r="1.18" fill="#8d99c7"/>
<circle cx="71.2" cy="410.1" r="1.18" fill="#8c8cc1"/>
<circle cx="140.5" cy="366.6" r="1.18" fill="#91a1cc"/>
<circle cx="157.7" cy="340.0" r="1.18" fill="#8c7bb9"/>
<circle cx="70.9" cy="413.4" r="1.18" fill="#8a5ba9"/>
<circle cx="124.6" cy="354.5" r="1.18" fill="#9ab4d6"/>
<circle cx="64.0" cy="363.6" r="1.18" fill="#894da2"/>
<circle cx="81.9" cy="394.7" r="1.18" fill="#8c70b4"/>
<circle cx="90.2" cy="362.3" r="1.18" fill="#91a0cb"/>
<circle cx="62.1" cy="415.6" r="1.18" fill="#8c95c6"/>
<circle cx="86.9" cy="346.9" r="1.18" fill="#8c79b8"/>
<circle cx="90.8" cy="418.6" r="1.18" fill="#8b66ae"/>
<circle cx="95.5" cy="392.8" r="1.18" fill="#9ebcda"/>
<circle cx="69.4" cy="418.4" r="1.18" fill="#8c77b7"/>
<circle cx="65.4" cy="357.2" r="1.18" fill="#8b5daa"/>
<circle cx="81.3" cy="386.0" r="1.18" fill="#8c7ab8"/>
<circle cx="88.6" cy="364.2" r="1.18" fill="#8947a0"/>
<circle cx="68.1" cy="387.8" r="1.18" fill="#8c89c0"/>
<circle cx="117.4" cy="407.5" r="1.18" fill="#8c69b0"/>
<circle cx="63.3" cy="349.9" r="1.18" fill="#8c68af"/>
<circle cx="144.9" cy="323.6" r="1.18" fill="#8c81bc"/>
<circle cx="87.4" cy="394.5" r="1.18" fill="#8951a4"/>
<circle cx="61.6" cy="400.0" r="1.18" fill="#8c71b4"/>
<circle cx="188.6" cy="354.0" r="1.18" fill="#8c7fbb"/>
<circle cx="64.6" cy="396.3" r="1.18" fill="#8c83bd"/>
<circle cx="73.0" cy="406.0" r="1.18" fill="#894aa1"/>
<circle cx="92.1" cy="415.9" r="1.18" fill="#88409c"/>
<circle cx="75.8" cy="326.3" r="1.18" fill="#8c74b6"/>
<circle cx="84.6" cy="307.0" r="1.18" fill="#8c83bd"/>
<circle cx="79.4" cy="410.4" r="1.18" fill="#8c8ec2"/>
<circle cx="83.3" cy="313.6" r="1.18" fill="#88409c"/>
<circle cx="144.4" cy="345.0" r="1.18" fill="#8c80bb"/>
<circle cx="78.4" cy="395.6" r="1.18" fill="#873897"/>
<circle cx="84.0" cy="392.6" r="1.18" fill="#8a5aa9"/>
<circle cx="77.3" cy="332.4" r="1.18" fill="#8c96c6"/>
<circle cx="85.4" cy="421.4" r="1.18" fill="#883f9c"/>
<circle cx="192.1" cy="319.1" r="1.18" fill="#8e9bc9"/>
<circle cx="134.5" cy="317.2" r="1.18" fill="#8b61ac"/>
<circle cx="79.7" cy="414.6" r="1.18" fill="#8c7cb9"/>
<circle cx="79.8" cy="432.7" r="1.18" fill="#8c74b5"/>
<circle cx="79.5" cy="376.6" r="1.18" fill="#8c6bb1"/>
<circle cx="94.6" cy="421.6" r="1.18" fill="#8c66af"/>
<circle cx="78.4" cy="335.5" r="1.18" fill="#92a4cd"/>
<circle cx="78.1" cy="427.3" r="1.18" fill="#8c7dba"/>
<circle cx="83.6" cy="338.3" r="1.18" fill="#8b66ae"/>
<circle cx="83.6" cy="383.3" r="1.18" fill="#8c7cb9"/>
<circle cx="101.2" cy="422.9" r="1.18" fill="#863394"/>
<circle cx="87.9" cy="378.2" r="1.18" fill="#8c75b6"/>
<circle cx="85.6" cy="415.7" r="1.18" fill="#88429e"/>
<circle cx="63.5" cy="385.3" r="1.18" fill="#8a51a5"/>
<circle cx="83.4" cy="408.2" r="1.18" fill="#873796"/>
<circle cx="78.6" cy="422.5" r="1.18" fill="#883f9c"/>
<circle cx="64.1" cy="417.5" r="1.18" fill="#8c80bb"/>
<circle cx="66.7" cy="379.2" r="1.18" fill="#8b65ae"/>
<circle cx="139.5" cy="430.2" r="1.18" fill="#92a2cc"/>
<circle cx="77.4" cy="338.5" r="1.18" fill="#8a52a5"/>
<circle cx="63.5" cy="416.7" r="1.18" fill="#8c6eb3"/>
<circle cx="88.0" cy="411.3" r="1.18" fill="#8c7eba"/>
<circle cx="91.2" cy="417.3" r="1.18" fill="#94a6ce"/>
<circle cx="69.2" cy="379.4" r="1.18" fill="#8c71b4"/>
<circle cx="117.9" cy="358.9" r="1.18" fill="#8c7bb9"/>
<circle cx="103.1" cy="378.3" r="1.18" fill="#88419d"/>
<circle cx="76.4" cy="435.9" r="1.18" fill="#8b5caa"/>
<circle cx="82.7" cy="397.4" r="1.18" fill="#8d98c7"/>
<circle cx="135.1" cy="369.6" r="1.18" fill="#894ea3"/>
<circle cx="73.9" cy="410.2" r="1.18" fill="#8c71b4"/>
<circle cx="98.9" cy="376.3" r="1.18" fill="#84258b"/>
<circle cx="103.6" cy="417.8" r="1.18" fill="#88419d"/>
<circle cx="151.7" cy="325.0" r="1.18" fill="#8c8dc1"/>
<circle cx="83.8" cy="416.1" r="1.18" fill="#8c78b7"/>
<circle cx="180.4" cy="406.8" r="1.18" fill="#8c97c6"/>
<circle cx="86.6" cy="341.4" r="1.18" fill="#883f9b"/>
<circle cx="165.4" cy="314.5" r="1.18" fill="#8a53a5"/>
<circle cx="177.2" cy="409.0" r="1.18" fill="#821a83"/>
<circle cx="60.4" cy="313.6" r="1.18" fill="#8c7fbb"/>
<circle cx="121.5" cy="320.0" r="1.18" fill="#8c7fbb"/>
<circle cx="116.9" cy="324.5" r="1.18" fill="#8c74b6"/>
<circle cx="65.7" cy="406.2" r="1.18" fill="#8c8ac0"/>
<circle cx="61.0" cy="409.0" r="1.18" fill="#894ea3"/>
<circle cx="83.2" cy="377.6" r="1.18" fill="#8c7fbb"/>
<circle cx="88.1" cy="351.3" r="1.18" fill="#852d8f"/>
<circle cx="143.3" cy="328.1" r="1.18" fill="#852f91"/>
<circle cx="70.8" cy="421.3" r="1.18" fill="#81127e"/>
<circle cx="68.6" cy="337.1" r="1.18" fill="#780c73"/>
<circle cx="93.5" cy="395.0" r="1.18" fill="#8c7ab8"/>
<circle cx="77.5" cy="399.4" r="1.18" fill="#8b61ac"/>
<circle cx="75.5" cy="407.6" r="1.18" fill="#8c6eb2"/>
<circle cx="61.7" cy="415.3" r="1.18" fill="#8c7dba"/>
<circle cx="88.8" cy="368.7" r="1.18" fill="#8c7bb9"/>
<circle cx="61.1" cy="421.7" r="1.18" fill="#8b64ae"/>
<circle cx="73.3" cy="359.7" r="1.18" fill="#8947a0"/>
<circle cx="84.6" cy="378.8" r="1.18" fill="#810f7c"/>
<circle cx="72.7" cy="430.3" r="1.18" fill="#8a59a9"/>
<circle cx="72.4" cy="410.4" r="1.18" fill="#873a99"/>
<circle cx="65.9" cy="364.4" r="1.18" fill="#88469f"/>
<circle cx="84.4" cy="414.7" r="1.18" fill="#8a52a5"/>
<circle cx="121.3" cy="409.5" r="1.18" fill="#852a8e"/>
<circle cx="60.9" cy="313.0" r="1.18" fill="#8c80bb"/>
<circle cx="173.0" cy="356.9" r="1.18" fill="#84268b"/>
<circle cx="69.9" cy="429.0" r="1.18" fill="#8c6fb3"/>
<circle cx="85.2" cy="317.8" r="1.18" fill="#8a59a9"/>
<circle cx="61.7" cy="436.8" r="1.18" fill="#8b65ae"/>
<circle cx="64.8" cy="317.0" r="1.18" fill="#8c75b6"/>
<circle cx="79.8" cy="385.9" r="1.18" fill="#8a52a5"/>
<circle cx="70.8" cy="406.6" r="1.18" fill="#8c68af"/>
<circle cx="77.6" cy="423.0" r="1.18" fill="#8c6cb1"/>
<circle cx="82.9" cy="399.9" r="1.18" fill="#863293"/>
<circle cx="93.4" cy="395.5" r="1.18" fill="#863192"/>
<circle cx="84.9" cy="306.7" r="1.18" fill="#894ea3"/>
<circle cx="77.4" cy="421.1" r="1.18" fill="#8c79b8"/>
<circle cx="85.7" cy="380.4" r="1.18" fill="#8c76b6"/>
<circle cx="67.4" cy="411.2" r="1.18" fill="#832188"/>
<circle cx="108.8" cy="366.7" r="1.18" fill="#8c68b0"/>
<circle cx="70.1" cy="378.6" r="1.18" fill="#832087"/>
<circle cx="126.1" cy="320.3" r="1.18" fill="#894aa1"/>
<circle cx="86.5" cy="368.8" r="1.18" fill="#8c6ab1"/>
<circle cx="142.0" cy="377.6" r="1.18" fill="#8b61ac"/>
<circle cx="73.9" cy="312.5" r="1.18" fill="#8b62ad"/>
<circle cx="88.6" cy="343.4" r="1.18" fill="#88429d"/>
<circle cx="67.1" cy="406.4" r="1.18" fill="#863092"/>
<circle cx="79.4" cy="419.8" r="1.18" fill="#8949a1"/>
<circle cx="83.0" cy="317.1" r="1.18" fill="#8c67af"/>
<circle cx="74.4" cy="356.6" r="1.18" fill="#8c8bc1"/>
<circle cx="135.9" cy="333.3" r="1.18" fill="#821882"/>
<circle cx="72.8" cy="392.7" r="1.18" fill="#85288d"/>
<circle cx="63.5" cy="407.5" r="1.18" fill="#96acd1"/>
<circle cx="74.5" cy="358.2" r="1.18" fill="#863192"/>
<circle cx="74.5" cy="409.6" r="1.18" fill="#88409c"/>
<circle cx="169.1" cy="320.0" r="1.18" fill="#873796"/>
<circle cx="65.6" cy="360.7" r="1.18" fill="#62065f"/>
<circle cx="185.0" cy="387.8" r="1.18" fill="#863293"/>
<circle cx="180.8" cy="309.2" r="1.18" fill="#8c7ab8"/>
<circle cx="101.0" cy="411.7" r="1.18" fill="#8c77b7"/>
<circle cx="77.7" cy="352.5" r="1.18" fill="#7d0e78"/>
<circle cx="60.9" cy="409.6" r="1.18" fill="#84248a"/>
<circle cx="61.4" cy="344.6" r="1.18" fill="#8c88bf"/>
<circle cx="89.2" cy="403.9" r="1.18" fill="#8950a4"/>
<circle cx="81.4" cy="417.2" r="1.18" fill="#650761"/>
<circle cx="65.8" cy="343.0" r="1.18" fill="#84288c"/>
<circle cx="73.6" cy="360.6" r="1.18" fill="#710a6d"/>
<circle cx="179.3" cy="333.8" r="1.18" fill="#85298d"/>
<circle cx="106.7" cy="340.6" r="1.18" fill="#852c8f"/>
<circle cx="120.8" cy="415.7" r="1.18" fill="#84268b"/>
<circle cx="132.5" cy="324.1" r="1.18" fill="#710a6d"/>
<circle cx="78.9" cy="387.8" r="1.18" fill="#831d85"/>
<circle cx="88.3" cy="407.1" r="1.18" fill="#7c0e77"/>
<circle cx="99.8" cy="363.3" r="1.18" fill="#8c78b7"/>
<circle cx="95.7" cy="380.7" r="1.18" fill="#88409c"/>
<circle cx="78.4" cy="393.1" r="1.18" fill="#894ea3"/>
<circle cx="78.0" cy="383.1" r="1.18" fill="#88419d"/>
<circle cx="132.4" cy="348.0" r="1.18" fill="#88439e"/>
<circle cx="131.5" cy="348.8" r="1.18" fill="#85298d"/>
<circle cx="120.6" cy="318.9" r="1.18" fill="#894fa4"/>
<circle cx="73.5" cy="396.3" r="1.18" fill="#770c72"/>
<circle cx="84.6" cy="317.7" r="1.18" fill="#84278c"/>
<circle cx="96.1" cy="389.6" r="1.18" fill="#81117e"/>
<circle cx="119.9" cy="418.6" r="1.18" fill="#8948a0"/>
<circle cx="89.3" cy="406.1" r="1.18" fill="#831b84"/>
<circle cx="80.8" cy="405.8" r="1.18" fill="#61065e"/>
<circle cx="60.4" cy="394.5" r="1.18" fill="#580356"/>
<circle cx="89.8" cy="421.4" r="1.18" fill="#800f7b"/>
<circle cx="76.1" cy="328.9" r="1.18" fill="#7a0d76"/>
<circle cx="87.4" cy="335.3" r="1.18" fill="#7c0e77"/>
<circle cx="82.6" cy="419.2" r="1.18" fill="#7d0e78"/>
<circle cx="63.5" cy="413.8" r="1.18" fill="#852f91"/>
<circle cx="73.5" cy="374.2" r="1.18" fill="#7f0f7b"/>
<circle cx="68.9" cy="305.8" r="1.18" fill="#800f7b"/>
<circle cx="83.6" cy="325.9" r="1.18" fill="#8a59a9"/>
<circle cx="66.9" cy="362.9" r="1.18" fill="#7c0e78"/>
<circle cx="75.4" cy="421.6" r="1.18" fill="#821982"/>
<circle cx="97.1" cy="342.7" r="1.18" fill="#60065d"/>
<circle cx="73.6" cy="333.0" r="1.18" fill="#84288c"/>
<circle cx="161.4" cy="390.5" r="1.18" fill="#831a83"/>
<circle cx="90.2" cy="365.3" r="1.18" fill="#6c0968"/>
<circle cx="73.7" cy="349.8" r="1.18" fill="#5d045a"/>
<circle cx="74.8" cy="435.2" r="1.18" fill="#6e0a6a"/>
<circle cx="150.7" cy="344.9" r="1.18" fill="#831e86"/>
<circle cx="79.1" cy="314.2" r="1.18" fill="#7b0d76"/>
<circle cx="66.7" cy="375.0" r="1.18" fill="#81107d"/>
<circle cx="94.7" cy="336.7" r="1.18" fill="#81107d"/>
<circle cx="72.4" cy="384.9" r="1.18" fill="#821680"/>
<circle cx="157.2" cy="430.5" r="1.18" fill="#670864"/>
<circle cx="79.2" cy="407.3" r="1.18" fill="#750b70"/>
<circle cx="83.7" cy="330.9" r="1.18" fill="#750c71"/>
<circle cx="61.3" cy="338.4" r="1.18" fill="#700a6c"/>
<circle cx="112.2" cy="339.1" r="1.18" fill="#821983"/>
<circle cx="87.7" cy="381.5" r="1.18" fill="#800f7b"/>
<circle cx="66.2" cy="393.8" r="1.18" fill="#50014e"/>
<circle cx="61.1" cy="423.0" r="1.18" fill="#4e004c"/>
<circle cx="69.6" cy="431.2" r="1.18" fill="#5d055a"/>
<circle cx="84.8" cy="339.3" r="1.18" fill="#863696"/>
<circle cx="72.6" cy="336.3" r="1.18" fill="#8a57a8"/>
<circle cx="70.8" cy="392.9" r="1.18" fill="#88409c"/>
<circle cx="164.5" cy="415.8" r="1.18" fill="#8b62ad"/>
<circle cx="63.0" cy="423.6" r="1.18" fill="#821580"/>
<circle cx="134.3" cy="436.0" r="1.18" fill="#852b8e"/>
<circle cx="98.3" cy="349.1" r="1.18" fill="#660762"/>
<circle cx="94.2" cy="410.8" r="1.18" fill="#6d0969"/>
<circle cx="70.6" cy="411.8" r="1.18" fill="#81107d"/>
<circle cx="71.6" cy="314.0" r="1.18" fill="#863494"/>
<circle cx="94.1" cy="386.1" r="1.18" fill="#852b8f"/>
<circle cx="165.9" cy="317.7" r="1.18" fill="#720b6e"/>
<circle cx="68.4" cy="390.2" r="1.18" fill="#5c0459"/>
<circle cx="72.6" cy="404.0" r="1.18" fill="#8b62ad"/>
<circle cx="181.6" cy="354.5" r="1.18" fill="#720b6e"/>
<circle cx="90.8" cy="362.9" r="1.18" fill="#640761"/>
<circle cx="75.0" cy="349.1" r="1.18" fill="#650762"/>
<circle cx="86.6" cy="316.8" r="1.18" fill="#670763"/>
<circle cx="79.1" cy="381.3" r="1.18" fill="#81117e"/>
<circle cx="74.0" cy="307.5" r="1.18" fill="#852c8f"/>
<circle cx="79.6" cy="414.7" r="1.18" fill="#894fa4"/>
<circle cx="75.8" cy="399.6" r="1.18" fill="#690865"/>
<circle cx="69.4" cy="343.9" r="1.18" fill="#540252"/>
<circle cx="83.7" cy="345.2" r="1.18" fill="#7a0d75"/>
<circle cx="75.0" cy="402.2" r="1.18" fill="#852e90"/>
<circle cx="76.3" cy="338.2" r="1.18" fill="#670864"/>
<circle cx="183.9" cy="332.3" r="1.18" fill="#831a83"/>
<circle cx="67.3" cy="405.9" r="1.18" fill="#5d055a"/>
<circle cx="92.8" cy="389.6" r="1.18" fill="#6c0969"/>
<circle cx="67.3" cy="417.4" r="1.18" fill="#62065f"/>
<circle cx="96.8" cy="405.5" r="1.18" fill="#720b6e"/>
<circle cx="87.9" cy="408.3" r="1.18" fill="#50014d"/>
<circle cx="60.1" cy="359.7" r="1.18" fill="#670864"/>
<circle cx="88.4" cy="340.3" r="1.18" fill="#832087"/>
<circle cx="180.4" cy="347.3" r="1.18" fill="#6d0969"/>
<circle cx="135.3" cy="403.0" r="1.18" fill="#831c85"/>
<circle cx="155.8" cy="363.8" r="1.18" fill="#520250"/>
<circle cx="75.7" cy="391.6" r="1.18" fill="#5c0459"/>
<circle cx="62.5" cy="407.4" r="1.18" fill="#740b70"/>
<circle cx="65.7" cy="333.6" r="1.18" fill="#580355"/>
<circle cx="103.5" cy="373.7" r="1.18" fill="#51014f"/>
<circle cx="63.9" cy="387.5" r="1.18" fill="#530251"/>
</g>
<rect x="55.60" y="300.00" width="142.20" height="142.90" fill="none" stroke="#000" stroke-width="1.40"/>
<g clip-path="url(#c30)" fill-opacity="0.92">
<circle cx="103.3" cy="528.1" r="1.18" fill="#f2f9fb"/>
<circle cx="77.1" cy="464.2" r="1.18" fill="#e8f1f7"/>
<circle cx="81.4" cy="525.9" r="1.18" fill="#eef6f9"/>
<circle cx="104.3" cy="509.9" r="1.18" fill="#f4fafc"/>
<circle cx="123.0" cy="463.0" r="1.18" fill="#eef6f9"/>
<circle cx="75.7" cy="535.7" r="1.18" fill="#edf5f9"/>
<circle cx="145.5" cy="559.6" r="1.18" fill="#bacfe4"/>
<circle cx="67.6" cy="555.2" r="1.18" fill="#f2f8fb"/>
<circle cx="92.8" cy="540.7" r="1.18" fill="#ecf4f9"/>
<circle cx="114.5" cy="512.6" r="1.18" fill="#f1f8fb"/>
<circle cx="71.9" cy="558.6" r="1.18" fill="#e9f2f7"/>
<circle cx="111.6" cy="482.7" r="1.18" fill="#f2f9fb"/>
<circle cx="106.9" cy="506.0" r="1.18" fill="#f4fafc"/>
<circle cx="189.3" cy="561.5" r="1.18" fill="#f5fafc"/>
<circle cx="87.1" cy="467.3" r="1.18" fill="#edf5f9"/>
<circle cx="102.5" cy="473.2" r="1.18" fill="#e5eff6"/>
<circle cx="93.7" cy="518.6" r="1.18" fill="#f1f8fb"/>
<circle cx="96.3" cy="455.9" r="1.18" fill="#d6e4f0"/>
<circle cx="93.0" cy="466.1" r="1.18" fill="#e9f3f8"/>
<circle cx="102.7" cy="511.9" r="1.18" fill="#eaf3f8"/>
<circle cx="76.6" cy="543.2" r="1.18" fill="#f0f7fa"/>
<circle cx="169.6" cy="563.0" r="1.18" fill="#eaf3f8"/>
<circle cx="121.6" cy="547.1" r="1.18" fill="#f6fbfd"/>
<circle cx="60.3" cy="487.1" r="1.18" fill="#f4fafc"/>
<circle cx="93.7" cy="496.4" r="1.18" fill="#f1f8fb"/>
<circle cx="107.2" cy="454.0" r="1.18" fill="#dae8f1"/>
<circle cx="108.7" cy="517.5" r="1.18" fill="#f1f8fb"/>
<circle cx="187.5" cy="561.7" r="1.18" fill="#edf5f9"/>
<circle cx="99.4" cy="546.9" r="1.18" fill="#f0f7fa"/>
<circle cx="108.4" cy="522.9" r="1.18" fill="#d8e6f1"/>
<circle cx="115.9" cy="543.8" r="1.18" fill="#cedeec"/>
<circle cx="101.3" cy="520.6" r="1.18" fill="#f6fbfd"/>
<circle cx="68.0" cy="475.0" r="1.18" fill="#e3eef5"/>
<circle cx="75.0" cy="562.0" r="1.18" fill="#d7e5f0"/>
<circle cx="74.2" cy="539.5" r="1.18" fill="#e6f0f6"/>
<circle cx="89.0" cy="497.0" r="1.18" fill="#cedeec"/>
<circle cx="104.0" cy="559.6" r="1.18" fill="#edf5f9"/>
<circle cx="76.9" cy="470.8" r="1.18" fill="#d0e0ed"/>
<circle cx="96.8" cy="491.3" r="1.18" fill="#e1edf5"/>
<circle cx="130.9" cy="549.2" r="1.18" fill="#e5eff6"/>
<circle cx="76.4" cy="473.2" r="1.18" fill="#e1edf4"/>
<circle cx="86.1" cy="544.9" r="1.18" fill="#e7f1f7"/>
<circle cx="122.5" cy="543.0" r="1.18" fill="#e4eff6"/>
<circle cx="74.1" cy="543.8" r="1.18" fill="#c2d5e7"/>
<circle cx="93.6" cy="454.4" r="1.18" fill="#f0f7fa"/>
<circle cx="99.9" cy="519.2" r="1.18" fill="#e9f3f8"/>
<circle cx="79.1" cy="547.8" r="1.18" fill="#f1f8fb"/>
<circle cx="96.7" cy="482.3" r="1.18" fill="#e7f1f7"/>
<circle cx="91.8" cy="506.4" r="1.18" fill="#e2edf5"/>
<circle cx="65.5" cy="555.9" r="1.18" fill="#e8f2f7"/>
<circle cx="122.0" cy="505.2" r="1.18" fill="#e6f0f7"/>
<circle cx="71.4" cy="556.3" r="1.18" fill="#e5f0f6"/>
<circle cx="66.7" cy="468.0" r="1.18" fill="#e3eef5"/>
<circle cx="107.5" cy="527.0" r="1.18" fill="#e5f0f6"/>
<circle cx="174.0" cy="566.4" r="1.18" fill="#edf5f9"/>
<circle cx="80.0" cy="537.7" r="1.18" fill="#f3fafc"/>
<circle cx="69.9" cy="524.4" r="1.18" fill="#e3eef5"/>
<circle cx="101.9" cy="459.7" r="1.18" fill="#f3f9fb"/>
<circle cx="160.8" cy="561.0" r="1.18" fill="#e8f1f7"/>
<circle cx="84.1" cy="551.6" r="1.18" fill="#dae7f1"/>
<circle cx="74.1" cy="541.7" r="1.18" fill="#c3d6e8"/>
<circle cx="100.9" cy="498.9" r="1.18" fill="#e8f1f7"/>
<circle cx="60.6" cy="535.0" r="1.18" fill="#f0f7fa"/>
<circle cx="118.1" cy="498.6" r="1.18" fill="#e6f0f6"/>
<circle cx="97.6" cy="549.5" r="1.18" fill="#e1edf4"/>
<circle cx="93.9" cy="469.2" r="1.18" fill="#e7f1f7"/>
<circle cx="88.1" cy="543.7" r="1.18" fill="#cedeec"/>
<circle cx="101.3" cy="498.4" r="1.18" fill="#f4fafc"/>
<circle cx="97.7" cy="529.8" r="1.18" fill="#e0ecf4"/>
<circle cx="77.0" cy="537.7" r="1.18" fill="#eef6f9"/>
<circle cx="111.6" cy="507.5" r="1.18" fill="#f1f8fb"/>
<circle cx="114.1" cy="545.5" r="1.18" fill="#dce9f2"/>
<circle cx="98.6" cy="487.0" r="1.18" fill="#eaf3f8"/>
<circle cx="108.8" cy="544.5" r="1.18" fill="#f2f8fb"/>
<circle cx="114.8" cy="563.6" r="1.18" fill="#f0f7fa"/>
<circle cx="73.4" cy="502.8" r="1.18" fill="#d2e1ee"/>
<circle cx="183.7" cy="563.3" r="1.18" fill="#edf5f9"/>
<circle cx="69.3" cy="515.1" r="1.18" fill="#f0f7fa"/>
<circle cx="62.6" cy="475.6" r="1.18" fill="#f0f7fa"/>
<circle cx="79.0" cy="525.3" r="1.18" fill="#eaf3f8"/>
<circle cx="100.2" cy="458.8" r="1.18" fill="#f7fcfd"/>
<circle cx="69.5" cy="501.0" r="1.18" fill="#e7f1f7"/>
<circle cx="106.1" cy="551.6" r="1.18" fill="#e7f1f7"/>
<circle cx="92.6" cy="515.0" r="1.18" fill="#ecf5f9"/>
<circle cx="104.1" cy="534.0" r="1.18" fill="#f0f7fa"/>
<circle cx="100.7" cy="487.9" r="1.18" fill="#f6fbfd"/>
<circle cx="81.9" cy="544.2" r="1.18" fill="#d1e1ee"/>
<circle cx="69.6" cy="556.3" r="1.18" fill="#f5fbfc"/>
<circle cx="122.5" cy="552.6" r="1.18" fill="#f6fcfd"/>
<circle cx="76.4" cy="490.5" r="1.18" fill="#f7fcfd"/>
<circle cx="71.8" cy="553.5" r="1.18" fill="#d5e4ef"/>
<circle cx="69.2" cy="459.1" r="1.18" fill="#e3eef5"/>
<circle cx="72.4" cy="482.3" r="1.18" fill="#e7f1f7"/>
<circle cx="88.7" cy="461.5" r="1.18" fill="#ddeaf3"/>
<circle cx="108.0" cy="534.2" r="1.18" fill="#f3f9fb"/>
<circle cx="71.4" cy="550.6" r="1.18" fill="#d9e7f1"/>
<circle cx="79.8" cy="535.3" r="1.18" fill="#f5fafc"/>
<circle cx="107.7" cy="526.6" r="1.18" fill="#c9daea"/>
<circle cx="150.2" cy="561.9" r="1.18" fill="#f0f7fa"/>
<circle cx="91.8" cy="509.2" r="1.18" fill="#f0f7fa"/>
<circle cx="92.4" cy="513.7" r="1.18" fill="#e3eef5"/>
<circle cx="105.2" cy="534.1" r="1.18" fill="#d4e3ef"/>
<circle cx="94.2" cy="532.6" r="1.18" fill="#e4eff6"/>
<circle cx="110.8" cy="517.2" r="1.18" fill="#ebf3f8"/>
<circle cx="82.6" cy="456.6" r="1.18" fill="#dde9f3"/>
<circle cx="73.3" cy="549.9" r="1.18" fill="#ebf4f8"/>
<circle cx="96.1" cy="531.0" r="1.18" fill="#e6f0f6"/>
<circle cx="100.4" cy="566.2" r="1.18" fill="#f5fbfc"/>
<circle cx="105.9" cy="454.0" r="1.18" fill="#e5f0f6"/>
<circle cx="113.3" cy="551.0" r="1.18" fill="#f4fafc"/>
<circle cx="88.6" cy="489.6" r="1.18" fill="#dae7f1"/>
<circle cx="127.3" cy="560.9" r="1.18" fill="#deeaf3"/>
<circle cx="72.4" cy="560.3" r="1.18" fill="#e5f0f6"/>
<circle cx="80.3" cy="479.9" r="1.18" fill="#dce9f2"/>
<circle cx="85.4" cy="471.0" r="1.18" fill="#cfdfed"/>
<circle cx="100.8" cy="470.5" r="1.18" fill="#cbdceb"/>
<circle cx="94.8" cy="456.5" r="1.18" fill="#deeaf3"/>
<circle cx="92.3" cy="559.8" r="1.18" fill="#f6fcfd"/>
<circle cx="103.0" cy="462.3" r="1.18" fill="#f7fcfd"/>
<circle cx="78.3" cy="549.9" r="1.18" fill="#e8f1f7"/>
<circle cx="90.8" cy="478.5" r="1.18" fill="#f0f7fa"/>
<circle cx="173.8" cy="562.8" r="1.18" fill="#c6d8e9"/>
<circle cx="112.2" cy="521.6" r="1.18" fill="#d5e3ef"/>
<circle cx="91.7" cy="491.3" r="1.18" fill="#f7fcfd"/>
<circle cx="130.1" cy="565.2" r="1.18" fill="#e6f0f6"/>
<circle cx="91.2" cy="478.4" r="1.18" fill="#e3eef5"/>
<circle cx="98.9" cy="519.2" r="1.18" fill="#f4fafc"/>
<circle cx="105.7" cy="472.8" r="1.18" fill="#f7fcfd"/>
<circle cx="79.4" cy="536.0" r="1.18" fill="#b4cbe2"/>
<circle cx="60.8" cy="542.9" r="1.18" fill="#f2f8fb"/>
<circle cx="70.7" cy="500.9" r="1.18" fill="#eff6fa"/>
<circle cx="114.8" cy="475.5" r="1.18" fill="#f5fbfc"/>
<circle cx="107.2" cy="539.8" r="1.18" fill="#e3eef5"/>
<circle cx="95.0" cy="461.3" r="1.18" fill="#e2edf5"/>
<circle cx="88.4" cy="552.9" r="1.18" fill="#e3eef5"/>
<circle cx="191.0" cy="556.4" r="1.18" fill="#f7fcfd"/>
<circle cx="99.2" cy="486.5" r="1.18" fill="#b7cde3"/>
<circle cx="81.0" cy="486.7" r="1.18" fill="#c5d7e8"/>
<circle cx="75.8" cy="512.6" r="1.18" fill="#dbe8f2"/>
<circle cx="64.7" cy="559.5" r="1.18" fill="#d8e6f0"/>
<circle cx="106.1" cy="556.1" r="1.18" fill="#e9f2f8"/>
<circle cx="94.4" cy="489.5" r="1.18" fill="#eff6fa"/>
<circle cx="73.3" cy="500.3" r="1.18" fill="#d7e5f0"/>
<circle cx="94.9" cy="554.2" r="1.18" fill="#cadbeb"/>
<circle cx="73.6" cy="503.3" r="1.18" fill="#e2edf5"/>
<circle cx="109.0" cy="534.2" r="1.18" fill="#e8f2f7"/>
<circle cx="101.9" cy="520.1" r="1.18" fill="#e3eef5"/>
<circle cx="78.1" cy="497.0" r="1.18" fill="#f0f7fa"/>
<circle cx="107.8" cy="502.2" r="1.18" fill="#d4e3ef"/>
<circle cx="100.7" cy="509.2" r="1.18" fill="#e4eff5"/>
<circle cx="113.7" cy="477.5" r="1.18" fill="#f7fcfd"/>
<circle cx="190.2" cy="562.4" r="1.18" fill="#e8f2f7"/>
<circle cx="103.6" cy="487.1" r="1.18" fill="#e3eef5"/>
<circle cx="119.4" cy="553.2" r="1.18" fill="#b3cae1"/>
<circle cx="98.8" cy="510.4" r="1.18" fill="#e4eff5"/>
<circle cx="67.1" cy="527.5" r="1.18" fill="#f7fcfd"/>
<circle cx="189.1" cy="552.5" r="1.18" fill="#d6e5f0"/>
<circle cx="99.2" cy="460.0" r="1.18" fill="#edf5f9"/>
<circle cx="67.2" cy="544.1" r="1.18" fill="#dfecf4"/>
<circle cx="111.9" cy="503.5" r="1.18" fill="#e6f0f6"/>
<circle cx="105.9" cy="514.6" r="1.18" fill="#ebf4f8"/>
<circle cx="92.9" cy="527.1" r="1.18" fill="#f5fafc"/>
<circle cx="92.7" cy="535.2" r="1.18" fill="#ebf3f8"/>
<circle cx="166.8" cy="559.5" r="1.18" fill="#e4eff5"/>
<circle cx="97.3" cy="551.5" r="1.18" fill="#e7f1f7"/>
<circle cx="73.3" cy="472.1" r="1.18" fill="#d8e6f1"/>
<circle cx="95.1" cy="458.7" r="1.18" fill="#f2f9fb"/>
<circle cx="69.2" cy="465.5" r="1.18" fill="#abc5df"/>
<circle cx="123.6" cy="492.9" r="1.18" fill="#eff6fa"/>
<circle cx="100.1" cy="469.4" r="1.18" fill="#cfdfed"/>
<circle cx="110.0" cy="487.8" r="1.18" fill="#e8f2f7"/>
<circle cx="81.6" cy="530.7" r="1.18" fill="#e6f0f6"/>
<circle cx="128.8" cy="563.3" r="1.18" fill="#bbd0e5"/>
<circle cx="102.7" cy="502.0" r="1.18" fill="#e7f1f7"/>
<circle cx="81.2" cy="460.5" r="1.18" fill="#e1edf5"/>
<circle cx="70.1" cy="483.5" r="1.18" fill="#f3f9fb"/>
<circle cx="111.3" cy="485.7" r="1.18" fill="#f0f7fa"/>
<circle cx="102.4" cy="530.4" r="1.18" fill="#f3fafc"/>
<circle cx="77.4" cy="460.1" r="1.18" fill="#e0ecf4"/>
<circle cx="104.7" cy="480.7" r="1.18" fill="#d0e0ed"/>
<circle cx="97.7" cy="467.7" r="1.18" fill="#eef5f9"/>
<circle cx="93.6" cy="522.0" r="1.18" fill="#f3f9fb"/>
<circle cx="108.3" cy="496.0" r="1.18" fill="#c6d8e9"/>
<circle cx="94.0" cy="476.1" r="1.18" fill="#e5eff6"/>
<circle cx="93.0" cy="550.2" r="1.18" fill="#e1edf5"/>
<circle cx="98.2" cy="532.7" r="1.18" fill="#e3eef5"/>
<circle cx="156.0" cy="561.6" r="1.18" fill="#d3e2ee"/>
<circle cx="156.5" cy="563.2" r="1.18" fill="#dbe9f2"/>
<circle cx="66.3" cy="531.3" r="1.18" fill="#deeaf3"/>
<circle cx="83.2" cy="486.5" r="1.18" fill="#eef6f9"/>
<circle cx="80.6" cy="490.9" r="1.18" fill="#e6f0f6"/>
<circle cx="94.7" cy="455.4" r="1.18" fill="#e2edf5"/>
<circle cx="105.4" cy="518.4" r="1.18" fill="#f3fafc"/>
<circle cx="93.7" cy="486.0" r="1.18" fill="#f5fbfc"/>
<circle cx="64.4" cy="535.7" r="1.18" fill="#f5fafc"/>
<circle cx="98.7" cy="520.0" r="1.18" fill="#c3d6e8"/>
<circle cx="100.3" cy="538.1" r="1.18" fill="#f5fbfc"/>
<circle cx="67.4" cy="543.0" r="1.18" fill="#ccddec"/>
<circle cx="89.6" cy="457.9" r="1.18" fill="#f7fcfd"/>
<circle cx="79.0" cy="484.1" r="1.18" fill="#e5f0f6"/>
<circle cx="92.3" cy="504.9" r="1.18" fill="#e8f1f7"/>
<circle cx="181.8" cy="541.9" r="1.18" fill="#eff6fa"/>
<circle cx="97.4" cy="488.5" r="1.18" fill="#eef5f9"/>
<circle cx="104.3" cy="509.5" r="1.18" fill="#e8f2f7"/>
<circle cx="67.2" cy="475.3" r="1.18" fill="#d1e1ee"/>
<circle cx="96.8" cy="480.9" r="1.18" fill="#e5eff6"/>
<circle cx="184.6" cy="564.3" r="1.18" fill="#e8f1f7"/>
<circle cx="72.5" cy="456.5" r="1.18" fill="#f0f7fa"/>
<circle cx="105.6" cy="545.7" r="1.18" fill="#e5f0f6"/>
<circle cx="78.7" cy="526.9" r="1.18" fill="#c9daea"/>
<circle cx="110.7" cy="503.0" r="1.18" fill="#d5e4ef"/>
<circle cx="63.7" cy="517.4" r="1.18" fill="#ecf4f9"/>
<circle cx="148.8" cy="563.7" r="1.18" fill="#f2f9fb"/>
<circle cx="61.0" cy="488.2" r="1.18" fill="#d7e5f0"/>
<circle cx="76.0" cy="499.8" r="1.18" fill="#f1f8fb"/>
<circle cx="101.1" cy="537.0" r="1.18" fill="#d7e6f0"/>
<circle cx="133.1" cy="552.1" r="1.18" fill="#e5f0f6"/>
<circle cx="184.7" cy="555.2" r="1.18" fill="#eef6fa"/>
<circle cx="101.6" cy="456.9" r="1.18" fill="#eaf3f8"/>
<circle cx="138.8" cy="563.3" r="1.18" fill="#cdddec"/>
<circle cx="154.3" cy="565.0" r="1.18" fill="#dfebf4"/>
<circle cx="110.6" cy="509.6" r="1.18" fill="#dbe8f2"/>
<circle cx="105.6" cy="503.4" r="1.18" fill="#e1edf4"/>
<circle cx="96.6" cy="539.0" r="1.18" fill="#f4fafc"/>
<circle cx="97.8" cy="531.4" r="1.18" fill="#cfdfed"/>
<circle cx="121.3" cy="562.3" r="1.18" fill="#d1e0ee"/>
<circle cx="100.6" cy="554.9" r="1.18" fill="#a4c0dc"/>
<circle cx="107.6" cy="512.1" r="1.18" fill="#dae8f2"/>
<circle cx="73.6" cy="559.3" r="1.18" fill="#b3cbe2"/>
<circle cx="95.7" cy="518.9" r="1.18" fill="#f5fbfc"/>
<circle cx="152.9" cy="556.0" r="1.18" fill="#dbe8f2"/>
<circle cx="117.3" cy="562.3" r="1.18" fill="#e0ecf4"/>
<circle cx="82.9" cy="550.1" r="1.18" fill="#ebf4f8"/>
<circle cx="76.3" cy="463.8" r="1.18" fill="#d8e6f1"/>
<circle cx="106.1" cy="490.9" r="1.18" fill="#f1f8fb"/>
<circle cx="61.1" cy="497.3" r="1.18" fill="#c8daea"/>
<circle cx="64.3" cy="511.2" r="1.18" fill="#99b1d4"/>
<circle cx="83.3" cy="515.2" r="1.18" fill="#d3e2ef"/>
<circle cx="161.2" cy="549.2" r="1.18" fill="#f1f8fb"/>
<circle cx="84.9" cy="536.3" r="1.18" fill="#edf5f9"/>
<circle cx="69.2" cy="518.8" r="1.18" fill="#c5d8e9"/>
<circle cx="74.4" cy="510.4" r="1.18" fill="#bfd3e6"/>
<circle cx="114.7" cy="528.9" r="1.18" fill="#e2edf5"/>
<circle cx="62.1" cy="544.4" r="1.18" fill="#e7f1f7"/>
<circle cx="110.2" cy="497.3" r="1.18" fill="#aec7e0"/>
<circle cx="100.6" cy="525.3" r="1.18" fill="#e0ecf4"/>
<circle cx="83.3" cy="530.5" r="1.18" fill="#d5e3ef"/>
<circle cx="82.4" cy="557.2" r="1.18" fill="#cadbeb"/>
<circle cx="117.9" cy="497.7" r="1.18" fill="#aec7e0"/>
<circle cx="99.1" cy="514.3" r="1.18" fill="#c8daea"/>
<circle cx="99.2" cy="546.2" r="1.18" fill="#dce9f2"/>
<circle cx="102.7" cy="541.9" r="1.18" fill="#deeaf3"/>
<circle cx="60.6" cy="473.4" r="1.18" fill="#edf5f9"/>
<circle cx="75.4" cy="540.2" r="1.18" fill="#e1ecf4"/>
<circle cx="112.5" cy="494.0" r="1.18" fill="#b6cde3"/>
<circle cx="96.2" cy="540.4" r="1.18" fill="#e1edf4"/>
<circle cx="99.6" cy="495.1" r="1.18" fill="#bfd3e6"/>
<circle cx="131.7" cy="563.4" r="1.18" fill="#c0d4e7"/>
<circle cx="97.8" cy="472.5" r="1.18" fill="#f6fbfd"/>
<circle cx="84.2" cy="543.9" r="1.18" fill="#ccddec"/>
<circle cx="66.1" cy="503.5" r="1.18" fill="#a4c0dc"/>
<circle cx="128.0" cy="562.0" r="1.18" fill="#d0e0ed"/>
<circle cx="92.5" cy="540.6" r="1.18" fill="#ddeaf3"/>
<circle cx="79.3" cy="454.1" r="1.18" fill="#cfdfed"/>
<circle cx="131.9" cy="559.3" r="1.18" fill="#e1ecf4"/>
<circle cx="117.6" cy="479.4" r="1.18" fill="#cadceb"/>
<circle cx="98.5" cy="534.5" r="1.18" fill="#f5fafc"/>
<circle cx="87.4" cy="471.4" r="1.18" fill="#e8f2f7"/>
<circle cx="63.5" cy="480.7" r="1.18" fill="#bed2e6"/>
<circle cx="82.6" cy="460.5" r="1.18" fill="#bdd1e5"/>
<circle cx="68.6" cy="493.9" r="1.18" fill="#eef6fa"/>
<circle cx="103.3" cy="465.7" r="1.18" fill="#e7f1f7"/>
<circle cx="99.6" cy="455.8" r="1.18" fill="#e0ecf4"/>
<circle cx="113.8" cy="513.1" r="1.18" fill="#ccddeb"/>
<circle cx="63.2" cy="557.3" r="1.18" fill="#cadbeb"/>
<circle cx="173.3" cy="550.0" r="1.18" fill="#eaf3f8"/>
<circle cx="78.0" cy="557.5" r="1.18" fill="#afc8e0"/>
<circle cx="91.7" cy="554.2" r="1.18" fill="#cedeec"/>
<circle cx="67.3" cy="501.9" r="1.18" fill="#c0d4e7"/>
<circle cx="105.0" cy="547.9" r="1.18" fill="#d0e0ed"/>
<circle cx="112.8" cy="554.6" r="1.18" fill="#bbd0e5"/>
<circle cx="105.0" cy="472.6" r="1.18" fill="#e9f2f7"/>
<circle cx="164.6" cy="550.9" r="1.18" fill="#c8daea"/>
<circle cx="106.8" cy="528.1" r="1.18" fill="#f0f7fa"/>
<circle cx="111.7" cy="563.3" r="1.18" fill="#e8f1f7"/>
<circle cx="98.2" cy="564.8" r="1.18" fill="#c6d8e9"/>
<circle cx="81.7" cy="456.4" r="1.18" fill="#cadbeb"/>
<circle cx="103.3" cy="505.4" r="1.18" fill="#edf5f9"/>
<circle cx="88.3" cy="537.7" r="1.18" fill="#cadbea"/>
<circle cx="104.0" cy="529.7" r="1.18" fill="#b7cee3"/>
<circle cx="106.1" cy="485.4" r="1.18" fill="#d2e1ee"/>
<circle cx="107.9" cy="525.8" r="1.18" fill="#d3e2ee"/>
<circle cx="102.6" cy="503.1" r="1.18" fill="#f2f9fb"/>
<circle cx="103.5" cy="486.8" r="1.18" fill="#eaf3f8"/>
<circle cx="120.2" cy="523.0" r="1.18" fill="#e5f0f6"/>
<circle cx="74.8" cy="538.5" r="1.18" fill="#ddeaf3"/>
<circle cx="105.4" cy="467.0" r="1.18" fill="#f5fafc"/>
<circle cx="102.5" cy="496.4" r="1.18" fill="#d0e0ed"/>
<circle cx="62.0" cy="515.0" r="1.18" fill="#c7d9e9"/>
<circle cx="64.4" cy="546.1" r="1.18" fill="#adc7e0"/>
<circle cx="101.4" cy="454.4" r="1.18" fill="#dbe8f2"/>
<circle cx="95.4" cy="453.8" r="1.18" fill="#c9daea"/>
<circle cx="77.3" cy="549.2" r="1.18" fill="#dfebf4"/>
<circle cx="106.5" cy="563.6" r="1.18" fill="#c8daea"/>
<circle cx="114.2" cy="557.9" r="1.18" fill="#dae7f1"/>
<circle cx="68.3" cy="517.1" r="1.18" fill="#adc7e0"/>
<circle cx="77.9" cy="510.8" r="1.18" fill="#b7cde3"/>
<circle cx="66.0" cy="541.4" r="1.18" fill="#cfdfed"/>
<circle cx="106.1" cy="506.0" r="1.18" fill="#f4fafc"/>
<circle cx="79.0" cy="459.8" r="1.18" fill="#eff6fa"/>
<circle cx="111.5" cy="563.6" r="1.18" fill="#d6e4f0"/>
<circle cx="167.8" cy="564.0" r="1.18" fill="#d6e4f0"/>
<circle cx="102.9" cy="498.6" r="1.18" fill="#a9c3de"/>
<circle cx="88.5" cy="460.5" r="1.18" fill="#bbd0e4"/>
<circle cx="125.5" cy="563.1" r="1.18" fill="#e5f0f6"/>
<circle cx="87.4" cy="538.1" r="1.18" fill="#eaf3f8"/>
<circle cx="77.2" cy="470.6" r="1.18" fill="#d9e7f1"/>
<circle cx="153.7" cy="560.3" r="1.18" fill="#cddeec"/>
<circle cx="142.8" cy="553.7" r="1.18" fill="#c9daea"/>
<circle cx="154.4" cy="557.4" r="1.18" fill="#b4cce2"/>
<circle cx="92.1" cy="483.3" r="1.18" fill="#aec7e0"/>
<circle cx="92.5" cy="475.9" r="1.18" fill="#b2cae1"/>
<circle cx="90.8" cy="527.5" r="1.18" fill="#dce9f2"/>
<circle cx="65.9" cy="550.4" r="1.18" fill="#abc5df"/>
<circle cx="180.6" cy="560.7" r="1.18" fill="#d9e7f1"/>
<circle cx="114.2" cy="518.5" r="1.18" fill="#abc5df"/>
<circle cx="111.1" cy="534.4" r="1.18" fill="#ccddeb"/>
<circle cx="67.8" cy="469.8" r="1.18" fill="#b0c8e0"/>
<circle cx="110.1" cy="517.2" r="1.18" fill="#bfd3e6"/>
<circle cx="74.2" cy="456.8" r="1.18" fill="#e3eef5"/>
<circle cx="127.4" cy="552.0" r="1.18" fill="#9fbdda"/>
<circle cx="76.7" cy="546.6" r="1.18" fill="#aec7e0"/>
<circle cx="117.1" cy="545.0" r="1.18" fill="#97add2"/>
<circle cx="100.1" cy="512.6" r="1.18" fill="#b8cee3"/>
<circle cx="112.8" cy="482.7" r="1.18" fill="#e3eef5"/>
<circle cx="77.9" cy="483.7" r="1.18" fill="#cadceb"/>
<circle cx="96.6" cy="536.1" r="1.18" fill="#d3e2ee"/>
<circle cx="118.5" cy="546.7" r="1.18" fill="#b6cde3"/>
<circle cx="108.7" cy="554.2" r="1.18" fill="#bcd1e5"/>
<circle cx="92.3" cy="485.1" r="1.18" fill="#d1e1ee"/>
<circle cx="144.7" cy="561.5" r="1.18" fill="#d9e7f1"/>
<circle cx="106.2" cy="531.0" r="1.18" fill="#f3f9fb"/>
<circle cx="117.3" cy="542.3" r="1.18" fill="#c8daea"/>
<circle cx="96.1" cy="523.6" r="1.18" fill="#9cb7d8"/>
<circle cx="158.8" cy="564.5" r="1.18" fill="#d7e5f0"/>
<circle cx="82.5" cy="456.8" r="1.18" fill="#b4cce2"/>
<circle cx="89.2" cy="477.8" r="1.18" fill="#b7cde3"/>
<circle cx="67.0" cy="522.6" r="1.18" fill="#eff7fa"/>
<circle cx="88.9" cy="459.7" r="1.18" fill="#e3eef5"/>
<circle cx="83.1" cy="480.3" r="1.18" fill="#c0d4e6"/>
<circle cx="114.3" cy="502.4" r="1.18" fill="#aac4de"/>
<circle cx="85.5" cy="460.5" r="1.18" fill="#dae7f1"/>
<circle cx="159.4" cy="556.0" r="1.18" fill="#f0f7fa"/>
<circle cx="67.0" cy="512.7" r="1.18" fill="#ecf4f9"/>
<circle cx="62.1" cy="555.9" r="1.18" fill="#a7c3dd"/>
<circle cx="100.2" cy="550.9" r="1.18" fill="#d5e4ef"/>
<circle cx="85.2" cy="540.1" r="1.18" fill="#9ab5d6"/>
<circle cx="164.9" cy="559.5" r="1.18" fill="#93a5ce"/>
<circle cx="111.3" cy="492.5" r="1.18" fill="#e6f0f6"/>
<circle cx="81.9" cy="544.8" r="1.18" fill="#dbe8f2"/>
<circle cx="105.8" cy="546.8" r="1.18" fill="#b9cfe4"/>
<circle cx="86.7" cy="461.6" r="1.18" fill="#b0c8e0"/>
<circle cx="183.5" cy="553.7" r="1.18" fill="#c7d9e9"/>
<circle cx="104.5" cy="531.8" r="1.18" fill="#dae7f1"/>
<circle cx="87.8" cy="547.9" r="1.18" fill="#d2e2ee"/>
<circle cx="101.1" cy="456.6" r="1.18" fill="#d6e4f0"/>
<circle cx="87.4" cy="533.1" r="1.18" fill="#dce9f2"/>
<circle cx="104.9" cy="519.1" r="1.18" fill="#e7f1f7"/>
<circle cx="89.4" cy="554.1" r="1.18" fill="#d0e0ed"/>
<circle cx="192.3" cy="563.5" r="1.18" fill="#dae8f1"/>
<circle cx="137.5" cy="556.2" r="1.18" fill="#a4c0dc"/>
<circle cx="129.8" cy="565.8" r="1.18" fill="#b7cde3"/>
<circle cx="133.4" cy="561.3" r="1.18" fill="#c2d5e7"/>
<circle cx="192.8" cy="557.0" r="1.18" fill="#b8cee3"/>
<circle cx="113.3" cy="486.5" r="1.18" fill="#c4d7e8"/>
<circle cx="102.0" cy="459.9" r="1.18" fill="#e2eef5"/>
<circle cx="64.4" cy="535.6" r="1.18" fill="#dbe9f2"/>
<circle cx="63.8" cy="559.9" r="1.18" fill="#c6d8e9"/>
<circle cx="62.4" cy="514.4" r="1.18" fill="#d3e2ee"/>
<circle cx="98.0" cy="532.3" r="1.18" fill="#ccddeb"/>
<circle cx="61.3" cy="507.6" r="1.18" fill="#bed2e5"/>
<circle cx="159.6" cy="566.1" r="1.18" fill="#b8cee3"/>
<circle cx="114.8" cy="554.9" r="1.18" fill="#cbdceb"/>
<circle cx="171.2" cy="562.4" r="1.18" fill="#c7d9e9"/>
<circle cx="104.1" cy="462.3" r="1.18" fill="#9bb6d7"/>
<circle cx="79.3" cy="453.8" r="1.18" fill="#9ebcda"/>
<circle cx="95.0" cy="545.5" r="1.18" fill="#b0c9e1"/>
<circle cx="93.6" cy="506.3" r="1.18" fill="#c1d5e7"/>
<circle cx="154.0" cy="556.1" r="1.18" fill="#e1edf4"/>
<circle cx="77.5" cy="516.3" r="1.18" fill="#abc5df"/>
<circle cx="81.1" cy="556.3" r="1.18" fill="#d9e6f1"/>
<circle cx="103.9" cy="458.2" r="1.18" fill="#d6e5f0"/>
<circle cx="96.5" cy="489.0" r="1.18" fill="#dce9f2"/>
<circle cx="181.5" cy="561.8" r="1.18" fill="#c5d7e8"/>
<circle cx="131.1" cy="551.2" r="1.18" fill="#e1edf4"/>
<circle cx="82.5" cy="532.7" r="1.18" fill="#d5e4ef"/>
<circle cx="69.1" cy="499.7" r="1.18" fill="#f1f8fa"/>
<circle cx="108.5" cy="527.3" r="1.18" fill="#c6d8e9"/>
<circle cx="145.9" cy="562.9" r="1.18" fill="#e2eef5"/>
<circle cx="62.9" cy="514.7" r="1.18" fill="#c2d5e7"/>
<circle cx="87.8" cy="507.5" r="1.18" fill="#ebf3f8"/>
<circle cx="174.1" cy="560.2" r="1.18" fill="#ccddeb"/>
<circle cx="105.4" cy="532.4" r="1.18" fill="#cadceb"/>
<circle cx="116.7" cy="537.6" r="1.18" fill="#bbd0e5"/>
<circle cx="114.4" cy="536.8" r="1.18" fill="#c5d8e9"/>
<circle cx="117.1" cy="558.2" r="1.18" fill="#deebf3"/>
<circle cx="81.9" cy="532.2" r="1.18" fill="#cedfed"/>
<circle cx="168.3" cy="563.0" r="1.18" fill="#97add2"/>
<circle cx="76.2" cy="506.1" r="1.18" fill="#bbd0e4"/>
<circle cx="101.4" cy="501.0" r="1.18" fill="#d2e1ee"/>
<circle cx="85.9" cy="560.1" r="1.18" fill="#c2d5e7"/>
<circle cx="87.9" cy="544.2" r="1.18" fill="#c7d9ea"/>
<circle cx="90.6" cy="550.6" r="1.18" fill="#99b0d4"/>
<circle cx="73.1" cy="534.1" r="1.18" fill="#d5e4ef"/>
<circle cx="94.1" cy="480.3" r="1.18" fill="#d9e7f1"/>
<circle cx="67.0" cy="463.0" r="1.18" fill="#b4cbe2"/>
<circle cx="101.0" cy="540.1" r="1.18" fill="#e6f0f6"/>
<circle cx="78.5" cy="523.8" r="1.18" fill="#e3eef5"/>
<circle cx="136.3" cy="554.9" r="1.18" fill="#d4e3ef"/>
<circle cx="96.8" cy="506.7" r="1.18" fill="#d5e4ef"/>
<circle cx="91.5" cy="459.4" r="1.18" fill="#e3eef5"/>
<circle cx="86.6" cy="551.3" r="1.18" fill="#e5eff6"/>
<circle cx="77.2" cy="466.1" r="1.18" fill="#b3cbe2"/>
<circle cx="168.9" cy="562.3" r="1.18" fill="#f1f8fb"/>
<circle cx="89.4" cy="522.2" r="1.18" fill="#bacfe4"/>
<circle cx="75.7" cy="478.0" r="1.18" fill="#c4d7e8"/>
<circle cx="68.8" cy="460.8" r="1.18" fill="#ccdceb"/>
<circle cx="129.2" cy="555.2" r="1.18" fill="#d1e0ee"/>
<circle cx="104.8" cy="504.1" r="1.18" fill="#bcd1e5"/>
<circle cx="130.4" cy="551.5" r="1.18" fill="#e2edf5"/>
<circle cx="102.1" cy="456.9" r="1.18" fill="#d5e4ef"/>
<circle cx="96.3" cy="554.7" r="1.18" fill="#cfdfed"/>
<circle cx="149.5" cy="558.4" r="1.18" fill="#c6d8e9"/>
<circle cx="61.8" cy="508.7" r="1.18" fill="#b0c9e1"/>
<circle cx="173.5" cy="552.3" r="1.18" fill="#c9dbea"/>
<circle cx="86.0" cy="526.6" r="1.18" fill="#aec7e0"/>
<circle cx="80.9" cy="488.3" r="1.18" fill="#d9e7f1"/>
<circle cx="170.0" cy="556.3" r="1.18" fill="#c2d5e7"/>
<circle cx="81.0" cy="470.6" r="1.18" fill="#cedeec"/>
<circle cx="90.7" cy="514.9" r="1.18" fill="#bacfe4"/>
<circle cx="93.6" cy="479.7" r="1.18" fill="#d0e0ed"/>
<circle cx="70.4" cy="560.6" r="1.18" fill="#b6cde3"/>
<circle cx="153.0" cy="556.1" r="1.18" fill="#dbe8f2"/>
<circle cx="94.0" cy="541.3" r="1.18" fill="#cfdfed"/>
<circle cx="80.8" cy="533.7" r="1.18" fill="#cfdfed"/>
<circle cx="101.2" cy="552.7" r="1.18" fill="#b9cfe4"/>
<circle cx="160.8" cy="562.9" r="1.18" fill="#dde9f3"/>
<circle cx="90.8" cy="508.1" r="1.18" fill="#bcd1e5"/>
<circle cx="69.5" cy="557.5" r="1.18" fill="#bbd0e5"/>
<circle cx="128.8" cy="559.0" r="1.18" fill="#c8daea"/>
<circle cx="113.7" cy="486.3" r="1.18" fill="#ddeaf3"/>
<circle cx="89.7" cy="493.6" r="1.18" fill="#abc5df"/>
<circle cx="180.7" cy="562.4" r="1.18" fill="#cfdfed"/>
<circle cx="64.7" cy="483.1" r="1.18" fill="#a5c1dd"/>
<circle cx="68.7" cy="478.6" r="1.18" fill="#eaf3f8"/>
<circle cx="63.4" cy="557.2" r="1.18" fill="#dae7f1"/>
<circle cx="137.5" cy="550.2" r="1.18" fill="#a8c3dd"/>
<circle cx="104.9" cy="507.8" r="1.18" fill="#c7d9e9"/>
<circle cx="113.6" cy="473.5" r="1.18" fill="#a1bedb"/>
<circle cx="103.3" cy="532.5" r="1.18" fill="#a3bfdc"/>
<circle cx="65.9" cy="508.6" r="1.18" fill="#c8daea"/>
<circle cx="73.6" cy="469.3" r="1.18" fill="#c8daea"/>
<circle cx="62.1" cy="557.1" r="1.18" fill="#b0c8e0"/>
<circle cx="116.6" cy="554.1" r="1.18" fill="#b4cce2"/>
<circle cx="106.5" cy="525.7" r="1.18" fill="#cddeec"/>
<circle cx="68.1" cy="519.8" r="1.18" fill="#b6cde3"/>
<circle cx="123.5" cy="475.5" r="1.18" fill="#d9e7f1"/>
<circle cx="69.7" cy="559.4" r="1.18" fill="#ebf3f8"/>
<circle cx="75.7" cy="492.5" r="1.18" fill="#9dbad9"/>
<circle cx="112.6" cy="499.3" r="1.18" fill="#d6e5f0"/>
<circle cx="106.7" cy="471.2" r="1.18" fill="#dfebf4"/>
<circle cx="86.6" cy="486.9" r="1.18" fill="#eaf3f8"/>
<circle cx="105.9" cy="518.7" r="1.18" fill="#c0d4e6"/>
<circle cx="129.8" cy="561.7" r="1.18" fill="#afc8e0"/>
<circle cx="73.8" cy="561.1" r="1.18" fill="#adc7df"/>
<circle cx="102.1" cy="513.3" r="1.18" fill="#ccddec"/>
<circle cx="100.2" cy="493.9" r="1.18" fill="#deeaf3"/>
<circle cx="75.5" cy="554.3" r="1.18" fill="#c1d4e7"/>
<circle cx="91.5" cy="487.6" r="1.18" fill="#a1bedb"/>
<circle cx="70.5" cy="509.3" r="1.18" fill="#dbe8f2"/>
<circle cx="70.3" cy="498.6" r="1.18" fill="#9bb6d7"/>
<circle cx="74.7" cy="466.7" r="1.18" fill="#9dbad9"/>
<circle cx="180.8" cy="562.4" r="1.18" fill="#b2cae1"/>
<circle cx="183.5" cy="564.0" r="1.18" fill="#a6c2dd"/>
<circle cx="63.1" cy="469.6" r="1.18" fill="#8c90c3"/>
<circle cx="70.9" cy="507.7" r="1.18" fill="#a8c3de"/>
<circle cx="106.4" cy="539.1" r="1.18" fill="#d0e0ed"/>
<circle cx="104.8" cy="462.1" r="1.18" fill="#c3d6e8"/>
<circle cx="104.5" cy="557.8" r="1.18" fill="#d9e7f1"/>
<circle cx="76.3" cy="496.3" r="1.18" fill="#dae7f1"/>
<circle cx="100.6" cy="537.3" r="1.18" fill="#c2d5e7"/>
<circle cx="69.4" cy="490.9" r="1.18" fill="#b7cde3"/>
<circle cx="100.2" cy="527.9" r="1.18" fill="#92a3cd"/>
<circle cx="121.2" cy="561.5" r="1.18" fill="#acc6df"/>
<circle cx="65.1" cy="471.0" r="1.18" fill="#b9cfe4"/>
<circle cx="97.1" cy="532.2" r="1.18" fill="#b1cae1"/>
<circle cx="87.7" cy="538.8" r="1.18" fill="#a8c3de"/>
<circle cx="62.0" cy="505.5" r="1.18" fill="#c6d9e9"/>
<circle cx="92.4" cy="473.0" r="1.18" fill="#c3d6e8"/>
<circle cx="79.1" cy="541.6" r="1.18" fill="#bcd1e5"/>
<circle cx="120.7" cy="466.1" r="1.18" fill="#f2f9fb"/>
<circle cx="89.3" cy="473.3" r="1.18" fill="#a3c0dc"/>
<circle cx="71.6" cy="533.5" r="1.18" fill="#b4cbe2"/>
<circle cx="78.2" cy="483.5" r="1.18" fill="#f0f7fa"/>
<circle cx="76.9" cy="557.9" r="1.18" fill="#c3d6e8"/>
<circle cx="74.8" cy="470.1" r="1.18" fill="#cadbea"/>
<circle cx="92.3" cy="497.4" r="1.18" fill="#9dbad9"/>
<circle cx="80.1" cy="557.5" r="1.18" fill="#a8c3de"/>
<circle cx="107.2" cy="540.4" r="1.18" fill="#adc6df"/>
<circle cx="140.1" cy="553.0" r="1.18" fill="#91a0cb"/>
<circle cx="99.1" cy="554.5" r="1.18" fill="#c1d5e7"/>
<circle cx="95.8" cy="505.0" r="1.18" fill="#e9f2f7"/>
<circle cx="130.8" cy="557.4" r="1.18" fill="#94a7cf"/>
<circle cx="100.5" cy="499.8" r="1.18" fill="#d0e0ed"/>
<circle cx="80.6" cy="482.3" r="1.18" fill="#94a7cf"/>
<circle cx="67.3" cy="478.2" r="1.18" fill="#a4c0dc"/>
<circle cx="102.0" cy="457.8" r="1.18" fill="#b2cae1"/>
<circle cx="60.6" cy="531.0" r="1.18" fill="#cadceb"/>
<circle cx="80.0" cy="458.0" r="1.18" fill="#d4e3ef"/>
<circle cx="169.6" cy="555.6" r="1.18" fill="#a2bfdb"/>
<circle cx="66.3" cy="524.7" r="1.18" fill="#eef5f9"/>
<circle cx="83.0" cy="548.7" r="1.18" fill="#9ebbda"/>
<circle cx="69.9" cy="558.8" r="1.18" fill="#cadceb"/>
<circle cx="139.3" cy="558.8" r="1.18" fill="#abc5df"/>
<circle cx="68.8" cy="463.6" r="1.18" fill="#a7c2dd"/>
<circle cx="98.8" cy="460.4" r="1.18" fill="#9fbcda"/>
<circle cx="100.1" cy="467.3" r="1.18" fill="#d7e5f0"/>
<circle cx="155.1" cy="560.1" r="1.18" fill="#b9cfe4"/>
<circle cx="68.7" cy="552.6" r="1.18" fill="#b6cde3"/>
<circle cx="84.6" cy="482.3" r="1.18" fill="#91a1cc"/>
<circle cx="72.2" cy="457.0" r="1.18" fill="#a9c4de"/>
<circle cx="96.1" cy="491.8" r="1.18" fill="#b6cde3"/>
<circle cx="117.3" cy="554.6" r="1.18" fill="#9ebbda"/>
<circle cx="63.6" cy="517.8" r="1.18" fill="#8c8fc3"/>
<circle cx="77.3" cy="465.4" r="1.18" fill="#9ebcda"/>
<circle cx="91.2" cy="492.6" r="1.18" fill="#ccddec"/>
<circle cx="95.8" cy="474.7" r="1.18" fill="#d2e2ee"/>
<circle cx="119.7" cy="560.3" r="1.18" fill="#c5d7e8"/>
<circle cx="107.7" cy="492.9" r="1.18" fill="#bbd0e5"/>
<circle cx="76.0" cy="560.4" r="1.18" fill="#b4cbe2"/>
<circle cx="103.0" cy="457.2" r="1.18" fill="#bcd1e5"/>
<circle cx="91.1" cy="521.3" r="1.18" fill="#b0c9e1"/>
<circle cx="63.0" cy="500.6" r="1.18" fill="#8c80bb"/>
<circle cx="184.3" cy="556.7" r="1.18" fill="#94a7cf"/>
<circle cx="83.9" cy="497.1" r="1.18" fill="#eff7fa"/>
<circle cx="119.9" cy="554.2" r="1.18" fill="#c3d6e8"/>
<circle cx="187.3" cy="557.5" r="1.18" fill="#8c96c6"/>
<circle cx="63.4" cy="505.4" r="1.18" fill="#d1e0ed"/>
<circle cx="99.9" cy="466.6" r="1.18" fill="#8c96c6"/>
<circle cx="75.5" cy="458.6" r="1.18" fill="#c2d5e7"/>
<circle cx="71.5" cy="524.2" r="1.18" fill="#909eca"/>
<circle cx="106.0" cy="506.3" r="1.18" fill="#cfdfed"/>
<circle cx="76.8" cy="476.7" r="1.18" fill="#c3d6e8"/>
<circle cx="113.6" cy="516.6" r="1.18" fill="#c3d6e8"/>
<circle cx="90.2" cy="480.8" r="1.18" fill="#c1d5e7"/>
<circle cx="103.0" cy="511.2" r="1.18" fill="#9dbad9"/>
<circle cx="140.8" cy="565.6" r="1.18" fill="#99b1d4"/>
<circle cx="66.4" cy="483.2" r="1.18" fill="#b0c8e0"/>
<circle cx="101.7" cy="480.2" r="1.18" fill="#b8cee3"/>
<circle cx="86.7" cy="479.8" r="1.18" fill="#a3c0dc"/>
<circle cx="146.1" cy="560.2" r="1.18" fill="#c6d9e9"/>
<circle cx="120.2" cy="559.9" r="1.18" fill="#93a4ce"/>
<circle cx="96.9" cy="532.3" r="1.18" fill="#b8cee3"/>
<circle cx="86.4" cy="554.6" r="1.18" fill="#99b2d5"/>
<circle cx="98.5" cy="466.2" r="1.18" fill="#d2e2ee"/>
<circle cx="174.0" cy="549.7" r="1.18" fill="#a9c4de"/>
<circle cx="105.0" cy="463.9" r="1.18" fill="#abc5df"/>
<circle cx="80.4" cy="465.1" r="1.18" fill="#9cb8d8"/>
<circle cx="109.9" cy="506.0" r="1.18" fill="#a5c1dd"/>
<circle cx="123.1" cy="500.2" r="1.18" fill="#e4eff5"/>
<circle cx="164.9" cy="561.1" r="1.18" fill="#a5c1dc"/>
<circle cx="68.2" cy="537.1" r="1.18" fill="#c6d8e9"/>
<circle cx="65.3" cy="469.9" r="1.18" fill="#a1bedb"/>
<circle cx="74.5" cy="542.0" r="1.18" fill="#aec7e0"/>
<circle cx="148.6" cy="557.9" r="1.18" fill="#8f9cc9"/>
<circle cx="180.3" cy="553.4" r="1.18" fill="#a8c3dd"/>
<circle cx="160.8" cy="555.4" r="1.18" fill="#96abd1"/>
<circle cx="86.4" cy="512.8" r="1.18" fill="#b6cde3"/>
<circle cx="119.1" cy="544.8" r="1.18" fill="#b6cde3"/>
<circle cx="85.9" cy="479.4" r="1.18" fill="#afc8e0"/>
<circle cx="105.4" cy="547.0" r="1.18" fill="#b2cae1"/>
<circle cx="66.5" cy="551.2" r="1.18" fill="#c1d4e7"/>
<circle cx="121.0" cy="561.1" r="1.18" fill="#a0bedb"/>
<circle cx="87.6" cy="546.4" r="1.18" fill="#95a9d0"/>
<circle cx="91.9" cy="550.2" r="1.18" fill="#cedeec"/>
<circle cx="136.4" cy="550.7" r="1.18" fill="#9cb8d8"/>
<circle cx="105.9" cy="535.6" r="1.18" fill="#a0bddb"/>
<circle cx="90.4" cy="559.2" r="1.18" fill="#909fcb"/>
<circle cx="146.8" cy="551.5" r="1.18" fill="#8c90c3"/>
<circle cx="72.6" cy="543.1" r="1.18" fill="#a4c0dc"/>
<circle cx="132.0" cy="557.1" r="1.18" fill="#b6cde3"/>
<circle cx="80.3" cy="465.5" r="1.18" fill="#d6e5f0"/>
<circle cx="87.5" cy="541.1" r="1.18" fill="#9bb6d7"/>
<circle cx="143.2" cy="561.5" r="1.18" fill="#b0c8e0"/>
<circle cx="98.6" cy="544.8" r="1.18" fill="#b0c8e0"/>
<circle cx="73.3" cy="534.3" r="1.18" fill="#aec7e0"/>
<circle cx="111.6" cy="477.2" r="1.18" fill="#a8c3de"/>
<circle cx="61.7" cy="530.8" r="1.18" fill="#acc6df"/>
<circle cx="143.3" cy="551.7" r="1.18" fill="#a9c4de"/>
<circle cx="79.5" cy="504.9" r="1.18" fill="#a8c3de"/>
<circle cx="132.1" cy="559.4" r="1.18" fill="#a8c3de"/>
<circle cx="172.2" cy="562.2" r="1.18" fill="#98afd3"/>
<circle cx="104.9" cy="458.3" r="1.18" fill="#e4eff5"/>
<circle cx="179.2" cy="555.3" r="1.18" fill="#9ebbda"/>
<circle cx="95.2" cy="511.0" r="1.18" fill="#c3d6e8"/>
<circle cx="66.9" cy="482.1" r="1.18" fill="#909eca"/>
<circle cx="101.0" cy="483.6" r="1.18" fill="#909eca"/>
<circle cx="92.4" cy="453.9" r="1.18" fill="#97add2"/>
<circle cx="60.8" cy="560.7" r="1.18" fill="#b9cfe4"/>
<circle cx="73.7" cy="504.2" r="1.18" fill="#9ab4d6"/>
<circle cx="72.2" cy="559.9" r="1.18" fill="#8c93c4"/>
<circle cx="77.9" cy="455.8" r="1.18" fill="#a3c0dc"/>
<circle cx="87.8" cy="546.5" r="1.18" fill="#909eca"/>
<circle cx="188.3" cy="548.5" r="1.18" fill="#9ebbda"/>
<circle cx="108.9" cy="552.3" r="1.18" fill="#b4cbe2"/>
<circle cx="99.1" cy="533.8" r="1.18" fill="#8c88bf"/>
<circle cx="67.2" cy="562.1" r="1.18" fill="#99b2d5"/>
<circle cx="139.7" cy="551.5" r="1.18" fill="#9ebbda"/>
<circle cx="122.2" cy="566.2" r="1.18" fill="#a0bddb"/>
<circle cx="105.6" cy="539.2" r="1.18" fill="#aec7e0"/>
<circle cx="78.3" cy="538.3" r="1.18" fill="#8c82bc"/>
<circle cx="74.0" cy="486.1" r="1.18" fill="#909eca"/>
<circle cx="97.8" cy="552.5" r="1.18" fill="#8d99c8"/>
<circle cx="102.7" cy="472.9" r="1.18" fill="#a7c3dd"/>
<circle cx="97.0" cy="502.3" r="1.18" fill="#a8c3de"/>
<circle cx="71.5" cy="487.2" r="1.18" fill="#9dbbd9"/>
<circle cx="184.2" cy="549.1" r="1.18" fill="#a6c2dd"/>
<circle cx="87.8" cy="473.5" r="1.18" fill="#a4c0dc"/>
<circle cx="84.6" cy="520.8" r="1.18" fill="#9db9d8"/>
<circle cx="144.9" cy="546.9" r="1.18" fill="#8c88bf"/>
<circle cx="83.5" cy="554.6" r="1.18" fill="#95a9d0"/>
<circle cx="80.7" cy="534.6" r="1.18" fill="#8c7eba"/>
<circle cx="96.2" cy="528.7" r="1.18" fill="#9bb6d7"/>
<circle cx="69.9" cy="557.5" r="1.18" fill="#96abd1"/>
<circle cx="170.6" cy="552.2" r="1.18" fill="#9ebcda"/>
<circle cx="84.3" cy="528.5" r="1.18" fill="#91a0cb"/>
<circle cx="110.0" cy="559.8" r="1.18" fill="#9db9d8"/>
<circle cx="88.6" cy="559.0" r="1.18" fill="#acc6df"/>
<circle cx="156.9" cy="555.4" r="1.18" fill="#b0c9e1"/>
<circle cx="84.2" cy="539.9" r="1.18" fill="#96acd2"/>
<circle cx="63.6" cy="555.0" r="1.18" fill="#9fbcda"/>
<circle cx="134.7" cy="562.4" r="1.18" fill="#d2e1ee"/>
<circle cx="92.2" cy="548.6" r="1.18" fill="#8c8bc1"/>
<circle cx="80.9" cy="542.4" r="1.18" fill="#8c94c5"/>
<circle cx="99.9" cy="507.1" r="1.18" fill="#c0d4e7"/>
<circle cx="135.9" cy="554.9" r="1.18" fill="#8c8ec2"/>
<circle cx="78.9" cy="532.9" r="1.18" fill="#8c89c0"/>
<circle cx="119.8" cy="552.7" r="1.18" fill="#94a7cf"/>
<circle cx="62.3" cy="474.1" r="1.18" fill="#91a0cb"/>
<circle cx="91.1" cy="475.6" r="1.18" fill="#d0e0ed"/>
<circle cx="141.2" cy="563.9" r="1.18" fill="#a8c3de"/>
<circle cx="124.1" cy="560.0" r="1.18" fill="#94a7cf"/>
<circle cx="135.6" cy="550.2" r="1.18" fill="#8c93c4"/>
<circle cx="102.7" cy="549.8" r="1.18" fill="#8c95c6"/>
<circle cx="99.7" cy="542.6" r="1.18" fill="#9cb7d8"/>
<circle cx="136.8" cy="564.4" r="1.18" fill="#a8c3dd"/>
<circle cx="88.6" cy="546.5" r="1.18" fill="#98aed3"/>
<circle cx="73.2" cy="561.7" r="1.18" fill="#93a4ce"/>
<circle cx="98.4" cy="526.8" r="1.18" fill="#a5c1dc"/>
<circle cx="77.4" cy="528.1" r="1.18" fill="#bcd1e5"/>
<circle cx="114.3" cy="562.9" r="1.18" fill="#a2bfdc"/>
<circle cx="149.8" cy="562.5" r="1.18" fill="#95a8d0"/>
<circle cx="77.6" cy="457.6" r="1.18" fill="#abc5df"/>
<circle cx="106.5" cy="461.2" r="1.18" fill="#9db9d8"/>
<circle cx="94.1" cy="542.4" r="1.18" fill="#b2cae1"/>
<circle cx="92.7" cy="555.7" r="1.18" fill="#96abd1"/>
<circle cx="156.3" cy="563.3" r="1.18" fill="#91a0cb"/>
<circle cx="68.9" cy="481.1" r="1.18" fill="#8e9ac8"/>
<circle cx="112.6" cy="481.9" r="1.18" fill="#bbd0e5"/>
<circle cx="94.6" cy="529.1" r="1.18" fill="#b4cbe2"/>
<circle cx="65.7" cy="508.1" r="1.18" fill="#aec7e0"/>
<circle cx="63.0" cy="513.1" r="1.18" fill="#abc5df"/>
<circle cx="77.6" cy="479.1" r="1.18" fill="#93a5ce"/>
<circle cx="63.5" cy="541.8" r="1.18" fill="#92a3cd"/>
<circle cx="135.1" cy="551.5" r="1.18" fill="#a5c1dd"/>
<circle cx="138.7" cy="561.1" r="1.18" fill="#9db9d9"/>
<circle cx="63.6" cy="528.6" r="1.18" fill="#8e99c8"/>
<circle cx="83.4" cy="530.8" r="1.18" fill="#a1bedb"/>
<circle cx="68.4" cy="557.2" r="1.18" fill="#9ab4d6"/>
<circle cx="67.0" cy="473.6" r="1.18" fill="#93a4cd"/>
<circle cx="68.6" cy="502.9" r="1.18" fill="#97add2"/>
<circle cx="132.9" cy="557.1" r="1.18" fill="#94a7cf"/>
<circle cx="67.2" cy="467.2" r="1.18" fill="#95a9d0"/>
<circle cx="80.3" cy="471.0" r="1.18" fill="#98b0d4"/>
<circle cx="66.8" cy="523.6" r="1.18" fill="#98afd3"/>
<circle cx="96.0" cy="461.4" r="1.18" fill="#acc6df"/>
<circle cx="68.2" cy="554.4" r="1.18" fill="#92a3cd"/>
<circle cx="85.4" cy="550.8" r="1.18" fill="#8f9cc9"/>
<circle cx="70.3" cy="509.1" r="1.18" fill="#b1c9e1"/>
<circle cx="73.3" cy="536.9" r="1.18" fill="#93a5ce"/>
<circle cx="94.3" cy="505.4" r="1.18" fill="#9fbdda"/>
<circle cx="135.9" cy="556.9" r="1.18" fill="#a0bedb"/>
<circle cx="85.5" cy="538.5" r="1.18" fill="#8c91c4"/>
<circle cx="138.5" cy="555.2" r="1.18" fill="#8c87bf"/>
<circle cx="110.0" cy="518.0" r="1.18" fill="#9db9d8"/>
<circle cx="188.3" cy="561.7" r="1.18" fill="#8c70b4"/>
<circle cx="128.7" cy="552.4" r="1.18" fill="#8c96c6"/>
<circle cx="77.7" cy="492.0" r="1.18" fill="#8c7fbb"/>
<circle cx="94.2" cy="519.4" r="1.18" fill="#a5c1dd"/>
<circle cx="182.7" cy="551.1" r="1.18" fill="#8e9bc9"/>
<circle cx="84.2" cy="472.4" r="1.18" fill="#aac5df"/>
<circle cx="133.0" cy="561.2" r="1.18" fill="#8c8bc0"/>
<circle cx="71.2" cy="523.9" r="1.18" fill="#98b0d4"/>
<circle cx="66.9" cy="497.9" r="1.18" fill="#8c78b7"/>
<circle cx="79.3" cy="554.9" r="1.18" fill="#91a1cc"/>
<circle cx="82.7" cy="547.9" r="1.18" fill="#8c73b5"/>
<circle cx="133.9" cy="565.8" r="1.18" fill="#8c90c3"/>
<circle cx="117.2" cy="563.7" r="1.18" fill="#9bb5d6"/>
<circle cx="77.7" cy="457.5" r="1.18" fill="#909eca"/>
<circle cx="86.8" cy="493.2" r="1.18" fill="#8c6db2"/>
<circle cx="89.7" cy="512.1" r="1.18" fill="#8b63ad"/>
<circle cx="78.5" cy="541.4" r="1.18" fill="#8c8fc2"/>
<circle cx="87.3" cy="541.7" r="1.18" fill="#a0bddb"/>
<circle cx="138.6" cy="558.9" r="1.18" fill="#8e9bc8"/>
<circle cx="64.4" cy="550.0" r="1.18" fill="#8c82bc"/>
<circle cx="139.9" cy="561.6" r="1.18" fill="#8c96c6"/>
<circle cx="72.3" cy="467.7" r="1.18" fill="#8c84bd"/>
<circle cx="100.6" cy="543.6" r="1.18" fill="#8c89c0"/>
<circle cx="101.2" cy="491.6" r="1.18" fill="#8c76b6"/>
<circle cx="98.1" cy="460.1" r="1.18" fill="#8d98c7"/>
<circle cx="83.5" cy="516.8" r="1.18" fill="#8c7fbb"/>
<circle cx="77.3" cy="501.1" r="1.18" fill="#8c93c4"/>
<circle cx="95.2" cy="530.7" r="1.18" fill="#8c83bd"/>
<circle cx="75.9" cy="468.3" r="1.18" fill="#8c7dba"/>
<circle cx="174.4" cy="554.4" r="1.18" fill="#cadbeb"/>
<circle cx="95.3" cy="539.7" r="1.18" fill="#8f9dc9"/>
<circle cx="79.2" cy="541.7" r="1.18" fill="#94a7cf"/>
<circle cx="128.1" cy="557.2" r="1.18" fill="#8c7dba"/>
<circle cx="93.0" cy="497.7" r="1.18" fill="#93a6ce"/>
<circle cx="92.0" cy="520.3" r="1.18" fill="#8d98c7"/>
<circle cx="80.6" cy="552.6" r="1.18" fill="#8c80bb"/>
<circle cx="82.6" cy="535.8" r="1.18" fill="#8c74b6"/>
<circle cx="84.1" cy="491.0" r="1.18" fill="#8a59a9"/>
<circle cx="77.6" cy="485.1" r="1.18" fill="#8c96c6"/>
<circle cx="60.2" cy="539.7" r="1.18" fill="#99b2d5"/>
<circle cx="74.0" cy="459.8" r="1.18" fill="#8c92c4"/>
<circle cx="83.7" cy="546.9" r="1.18" fill="#8c85be"/>
<circle cx="60.2" cy="467.8" r="1.18" fill="#8c76b6"/>
<circle cx="76.4" cy="521.0" r="1.18" fill="#8c91c4"/>
<circle cx="72.6" cy="511.4" r="1.18" fill="#8b62ad"/>
<circle cx="71.9" cy="512.5" r="1.18" fill="#8c90c3"/>
<circle cx="126.3" cy="558.5" r="1.18" fill="#8a56a7"/>
<circle cx="79.9" cy="511.1" r="1.18" fill="#8a5aa9"/>
<circle cx="73.3" cy="490.2" r="1.18" fill="#93a5ce"/>
<circle cx="142.1" cy="558.2" r="1.18" fill="#8c6db2"/>
<circle cx="79.6" cy="539.6" r="1.18" fill="#909fcb"/>
<circle cx="89.7" cy="552.9" r="1.18" fill="#8c8bc1"/>
<circle cx="122.9" cy="563.2" r="1.18" fill="#8c8cc1"/>
<circle cx="154.4" cy="555.0" r="1.18" fill="#894ea3"/>
<circle cx="70.4" cy="470.7" r="1.18" fill="#8a58a8"/>
<circle cx="163.7" cy="560.0" r="1.18" fill="#8c79b8"/>
<circle cx="69.8" cy="509.0" r="1.18" fill="#883f9c"/>
<circle cx="63.7" cy="521.3" r="1.18" fill="#9ab3d5"/>
<circle cx="66.6" cy="532.6" r="1.18" fill="#a1bedb"/>
<circle cx="172.1" cy="555.5" r="1.18" fill="#9fbcda"/>
<circle cx="176.7" cy="565.4" r="1.18" fill="#8c8dc2"/>
<circle cx="68.0" cy="494.9" r="1.18" fill="#92a3cd"/>
<circle cx="97.6" cy="453.9" r="1.18" fill="#9dbbd9"/>
<circle cx="85.4" cy="549.0" r="1.18" fill="#8c94c5"/>
<circle cx="90.3" cy="503.5" r="1.18" fill="#8c73b5"/>
<circle cx="70.1" cy="466.9" r="1.18" fill="#91a0cb"/>
<circle cx="81.8" cy="492.1" r="1.18" fill="#8c96c6"/>
<circle cx="63.0" cy="485.8" r="1.18" fill="#8c7bb9"/>
<circle cx="71.1" cy="458.7" r="1.18" fill="#8c8cc1"/>
<circle cx="73.0" cy="540.5" r="1.18" fill="#8b5fab"/>
<circle cx="117.9" cy="560.9" r="1.18" fill="#8c96c6"/>
<circle cx="96.0" cy="482.8" r="1.18" fill="#88459f"/>
<circle cx="169.5" cy="559.5" r="1.18" fill="#8c66af"/>
<circle cx="158.2" cy="557.8" r="1.18" fill="#8d99c7"/>
<circle cx="71.2" cy="466.0" r="1.18" fill="#8c8cc1"/>
<circle cx="140.5" cy="556.5" r="1.18" fill="#91a1cc"/>
<circle cx="157.7" cy="559.6" r="1.18" fill="#8c7bb9"/>
<circle cx="70.9" cy="475.9" r="1.18" fill="#8a5ba9"/>
<circle cx="124.6" cy="554.5" r="1.18" fill="#9ab4d6"/>
<circle cx="64.0" cy="560.6" r="1.18" fill="#894da2"/>
<circle cx="81.9" cy="467.0" r="1.18" fill="#8c70b4"/>
<circle cx="90.2" cy="511.5" r="1.18" fill="#91a0cb"/>
<circle cx="62.1" cy="508.5" r="1.18" fill="#8c95c6"/>
<circle cx="86.9" cy="498.8" r="1.18" fill="#8c79b8"/>
<circle cx="90.8" cy="488.6" r="1.18" fill="#8b66ae"/>
<circle cx="95.5" cy="522.1" r="1.18" fill="#9ebcda"/>
<circle cx="69.4" cy="558.1" r="1.18" fill="#8c77b7"/>
<circle cx="65.4" cy="554.3" r="1.18" fill="#8b5daa"/>
<circle cx="81.3" cy="464.3" r="1.18" fill="#8c7ab8"/>
<circle cx="88.6" cy="552.3" r="1.18" fill="#8947a0"/>
<circle cx="68.1" cy="503.8" r="1.18" fill="#8c89c0"/>
<circle cx="117.4" cy="558.3" r="1.18" fill="#8c69b0"/>
<circle cx="63.3" cy="558.1" r="1.18" fill="#8c68af"/>
<circle cx="144.9" cy="556.9" r="1.18" fill="#8c81bc"/>
<circle cx="87.4" cy="473.9" r="1.18" fill="#8951a4"/>
<circle cx="61.6" cy="478.0" r="1.18" fill="#8c71b4"/>
<circle cx="188.6" cy="555.5" r="1.18" fill="#8c7fbb"/>
<circle cx="64.6" cy="482.8" r="1.18" fill="#8c83bd"/>
<circle cx="73.0" cy="546.5" r="1.18" fill="#894aa1"/>
<circle cx="92.1" cy="485.8" r="1.18" fill="#88409c"/>
<circle cx="75.8" cy="549.2" r="1.18" fill="#8c74b6"/>
<circle cx="84.6" cy="510.4" r="1.18" fill="#8c83bd"/>
<circle cx="79.4" cy="553.1" r="1.18" fill="#8c8ec2"/>
<circle cx="83.3" cy="518.6" r="1.18" fill="#88409c"/>
<circle cx="144.4" cy="542.2" r="1.18" fill="#8c80bb"/>
<circle cx="78.4" cy="474.0" r="1.18" fill="#873897"/>
<circle cx="84.0" cy="540.2" r="1.18" fill="#8a5aa9"/>
<circle cx="77.3" cy="529.6" r="1.18" fill="#8c96c6"/>
<circle cx="85.4" cy="467.4" r="1.18" fill="#883f9c"/>
<circle cx="192.1" cy="547.4" r="1.18" fill="#8e9bc9"/>
<circle cx="134.5" cy="548.9" r="1.18" fill="#8b61ac"/>
<circle cx="79.7" cy="488.8" r="1.18" fill="#8c7cb9"/>
<circle cx="79.8" cy="545.8" r="1.18" fill="#8c74b5"/>
<circle cx="79.5" cy="473.7" r="1.18" fill="#8c6bb1"/>
<circle cx="94.6" cy="488.5" r="1.18" fill="#8c66af"/>
<circle cx="78.4" cy="538.3" r="1.18" fill="#92a4cd"/>
<circle cx="78.1" cy="514.5" r="1.18" fill="#8c7dba"/>
<circle cx="83.6" cy="512.2" r="1.18" fill="#8b66ae"/>
<circle cx="83.6" cy="484.1" r="1.18" fill="#8c7cb9"/>
<circle cx="101.2" cy="528.0" r="1.18" fill="#863394"/>
<circle cx="87.9" cy="511.7" r="1.18" fill="#8c75b6"/>
<circle cx="85.6" cy="514.4" r="1.18" fill="#88429e"/>
<circle cx="63.5" cy="491.5" r="1.18" fill="#8a51a5"/>
<circle cx="83.4" cy="495.5" r="1.18" fill="#873796"/>
<circle cx="78.6" cy="469.7" r="1.18" fill="#883f9c"/>
<circle cx="64.1" cy="486.4" r="1.18" fill="#8c80bb"/>
<circle cx="66.7" cy="481.1" r="1.18" fill="#8b65ae"/>
<circle cx="139.5" cy="550.5" r="1.18" fill="#92a2cc"/>
<circle cx="77.4" cy="510.9" r="1.18" fill="#8a52a5"/>
<circle cx="63.5" cy="464.5" r="1.18" fill="#8c6eb3"/>
<circle cx="88.0" cy="460.5" r="1.18" fill="#8c7eba"/>
<circle cx="91.2" cy="492.3" r="1.18" fill="#94a6ce"/>
<circle cx="69.2" cy="470.3" r="1.18" fill="#8c71b4"/>
<circle cx="117.9" cy="559.7" r="1.18" fill="#8c7bb9"/>
<circle cx="103.1" cy="503.7" r="1.18" fill="#88419d"/>
<circle cx="76.4" cy="501.7" r="1.18" fill="#8b5caa"/>
<circle cx="82.7" cy="488.6" r="1.18" fill="#8d98c7"/>
<circle cx="135.1" cy="552.9" r="1.18" fill="#894ea3"/>
<circle cx="73.9" cy="531.7" r="1.18" fill="#8c71b4"/>
<circle cx="98.9" cy="534.9" r="1.18" fill="#84258b"/>
<circle cx="103.6" cy="463.6" r="1.18" fill="#88419d"/>
<circle cx="151.7" cy="559.0" r="1.18" fill="#8c8dc1"/>
<circle cx="83.8" cy="481.2" r="1.18" fill="#8c78b7"/>
<circle cx="180.4" cy="558.9" r="1.18" fill="#8c97c6"/>
<circle cx="86.6" cy="559.4" r="1.18" fill="#883f9b"/>
<circle cx="165.4" cy="551.7" r="1.18" fill="#8a53a5"/>
<circle cx="177.2" cy="556.4" r="1.18" fill="#821a83"/>
<circle cx="60.4" cy="526.2" r="1.18" fill="#8c7fbb"/>
<circle cx="121.5" cy="556.3" r="1.18" fill="#8c7fbb"/>
<circle cx="116.9" cy="555.6" r="1.18" fill="#8c74b6"/>
<circle cx="65.7" cy="554.3" r="1.18" fill="#8c8ac0"/>
<circle cx="61.0" cy="545.4" r="1.18" fill="#894ea3"/>
<circle cx="83.2" cy="542.4" r="1.18" fill="#8c7fbb"/>
<circle cx="88.1" cy="544.1" r="1.18" fill="#852d8f"/>
<circle cx="143.3" cy="559.8" r="1.18" fill="#852f91"/>
<circle cx="70.8" cy="473.3" r="1.18" fill="#81127e"/>
<circle cx="68.6" cy="554.2" r="1.18" fill="#780c73"/>
<circle cx="93.5" cy="504.6" r="1.18" fill="#8c7ab8"/>
<circle cx="77.5" cy="519.6" r="1.18" fill="#8b61ac"/>
<circle cx="75.5" cy="524.7" r="1.18" fill="#8c6eb2"/>
<circle cx="61.7" cy="552.8" r="1.18" fill="#8c7dba"/>
<circle cx="88.8" cy="536.6" r="1.18" fill="#8c7bb9"/>
<circle cx="61.1" cy="516.9" r="1.18" fill="#8b64ae"/>
<circle cx="73.3" cy="545.1" r="1.18" fill="#8947a0"/>
<circle cx="84.6" cy="506.7" r="1.18" fill="#810f7c"/>
<circle cx="72.7" cy="461.9" r="1.18" fill="#8a59a9"/>
<circle cx="72.4" cy="498.9" r="1.18" fill="#873a99"/>
<circle cx="65.9" cy="507.1" r="1.18" fill="#88469f"/>
<circle cx="84.4" cy="455.3" r="1.18" fill="#8a52a5"/>
<circle cx="121.3" cy="562.6" r="1.18" fill="#852a8e"/>
<circle cx="60.9" cy="562.6" r="1.18" fill="#8c80bb"/>
<circle cx="173.0" cy="552.8" r="1.18" fill="#84268b"/>
<circle cx="69.9" cy="513.3" r="1.18" fill="#8c6fb3"/>
<circle cx="85.2" cy="519.5" r="1.18" fill="#8a59a9"/>
<circle cx="61.7" cy="484.3" r="1.18" fill="#8b65ae"/>
<circle cx="64.8" cy="542.1" r="1.18" fill="#8c75b6"/>
<circle cx="79.8" cy="536.0" r="1.18" fill="#8a52a5"/>
<circle cx="70.8" cy="493.9" r="1.18" fill="#8c68af"/>
<circle cx="77.6" cy="513.6" r="1.18" fill="#8c6cb1"/>
<circle cx="82.9" cy="531.2" r="1.18" fill="#863293"/>
<circle cx="93.4" cy="453.8" r="1.18" fill="#863192"/>
<circle cx="84.9" cy="541.3" r="1.18" fill="#894ea3"/>
<circle cx="77.4" cy="504.2" r="1.18" fill="#8c79b8"/>
<circle cx="85.7" cy="477.8" r="1.18" fill="#8c76b6"/>
<circle cx="67.4" cy="509.7" r="1.18" fill="#832188"/>
<circle cx="108.8" cy="557.1" r="1.18" fill="#8c68b0"/>
<circle cx="70.1" cy="558.7" r="1.18" fill="#832087"/>
<circle cx="126.1" cy="560.7" r="1.18" fill="#894aa1"/>
<circle cx="86.5" cy="504.0" r="1.18" fill="#8c6ab1"/>
<circle cx="142.0" cy="557.1" r="1.18" fill="#8b61ac"/>
<circle cx="73.9" cy="551.8" r="1.18" fill="#8b62ad"/>
<circle cx="88.6" cy="512.9" r="1.18" fill="#88429d"/>
<circle cx="67.1" cy="540.9" r="1.18" fill="#863092"/>
<circle cx="79.4" cy="485.8" r="1.18" fill="#8949a1"/>
<circle cx="83.0" cy="493.9" r="1.18" fill="#8c67af"/>
<circle cx="74.4" cy="546.8" r="1.18" fill="#8c8bc1"/>
<circle cx="135.9" cy="554.0" r="1.18" fill="#821882"/>
<circle cx="72.8" cy="477.3" r="1.18" fill="#85288d"/>
<circle cx="63.5" cy="494.6" r="1.18" fill="#96acd1"/>
<circle cx="74.5" cy="519.1" r="1.18" fill="#863192"/>
<circle cx="74.5" cy="553.9" r="1.18" fill="#88409c"/>
<circle cx="169.1" cy="557.3" r="1.18" fill="#873796"/>
<circle cx="65.6" cy="559.1" r="1.18" fill="#62065f"/>
<circle cx="185.0" cy="548.3" r="1.18" fill="#863293"/>
<circle cx="180.8" cy="552.2" r="1.18" fill="#8c7ab8"/>
<circle cx="101.0" cy="484.9" r="1.18" fill="#8c77b7"/>
<circle cx="77.7" cy="496.5" r="1.18" fill="#7d0e78"/>
<circle cx="60.9" cy="507.2" r="1.18" fill="#84248a"/>
<circle cx="61.4" cy="551.2" r="1.18" fill="#8c88bf"/>
<circle cx="89.2" cy="500.7" r="1.18" fill="#8950a4"/>
<circle cx="81.4" cy="533.0" r="1.18" fill="#650761"/>
<circle cx="65.8" cy="548.2" r="1.18" fill="#84288c"/>
<circle cx="73.6" cy="525.0" r="1.18" fill="#710a6d"/>
<circle cx="179.3" cy="549.1" r="1.18" fill="#85298d"/>
<circle cx="106.7" cy="555.2" r="1.18" fill="#852c8f"/>
<circle cx="120.8" cy="554.1" r="1.18" fill="#84268b"/>
<circle cx="132.5" cy="561.7" r="1.18" fill="#710a6d"/>
<circle cx="78.9" cy="498.9" r="1.18" fill="#831d85"/>
<circle cx="88.3" cy="476.9" r="1.18" fill="#7c0e77"/>
<circle cx="99.8" cy="522.6" r="1.18" fill="#8c78b7"/>
<circle cx="95.7" cy="489.0" r="1.18" fill="#88409c"/>
<circle cx="78.4" cy="501.4" r="1.18" fill="#894ea3"/>
<circle cx="78.0" cy="506.0" r="1.18" fill="#88419d"/>
<circle cx="132.4" cy="557.3" r="1.18" fill="#88439e"/>
<circle cx="131.5" cy="543.0" r="1.18" fill="#85298d"/>
<circle cx="120.6" cy="556.0" r="1.18" fill="#894fa4"/>
<circle cx="73.5" cy="515.0" r="1.18" fill="#770c72"/>
<circle cx="84.6" cy="519.8" r="1.18" fill="#84278c"/>
<circle cx="96.1" cy="473.0" r="1.18" fill="#81117e"/>
<circle cx="119.9" cy="556.1" r="1.18" fill="#8948a0"/>
<circle cx="89.3" cy="487.9" r="1.18" fill="#831b84"/>
<circle cx="80.8" cy="547.6" r="1.18" fill="#61065e"/>
<circle cx="60.4" cy="555.7" r="1.18" fill="#580356"/>
<circle cx="89.8" cy="503.4" r="1.18" fill="#800f7b"/>
<circle cx="76.1" cy="527.1" r="1.18" fill="#7a0d76"/>
<circle cx="87.4" cy="514.6" r="1.18" fill="#7c0e77"/>
<circle cx="82.6" cy="500.1" r="1.18" fill="#7d0e78"/>
<circle cx="63.5" cy="505.3" r="1.18" fill="#852f91"/>
<circle cx="73.5" cy="553.1" r="1.18" fill="#7f0f7b"/>
<circle cx="68.9" cy="499.3" r="1.18" fill="#800f7b"/>
<circle cx="83.6" cy="539.6" r="1.18" fill="#8a59a9"/>
<circle cx="66.9" cy="545.5" r="1.18" fill="#7c0e78"/>
<circle cx="75.4" cy="472.4" r="1.18" fill="#821982"/>
<circle cx="97.1" cy="518.9" r="1.18" fill="#60065d"/>
<circle cx="73.6" cy="538.2" r="1.18" fill="#84288c"/>
<circle cx="161.4" cy="551.2" r="1.18" fill="#831a83"/>
<circle cx="90.2" cy="542.9" r="1.18" fill="#6c0968"/>
<circle cx="73.7" cy="508.2" r="1.18" fill="#5d045a"/>
<circle cx="74.8" cy="514.3" r="1.18" fill="#6e0a6a"/>
<circle cx="150.7" cy="558.5" r="1.18" fill="#831e86"/>
<circle cx="79.1" cy="530.0" r="1.18" fill="#7b0d76"/>
<circle cx="66.7" cy="543.4" r="1.18" fill="#81107d"/>
<circle cx="94.7" cy="543.1" r="1.18" fill="#81107d"/>
<circle cx="72.4" cy="552.2" r="1.18" fill="#821680"/>
<circle cx="157.2" cy="561.2" r="1.18" fill="#670864"/>
<circle cx="79.2" cy="464.4" r="1.18" fill="#750b70"/>
<circle cx="83.7" cy="529.9" r="1.18" fill="#750c71"/>
<circle cx="61.3" cy="494.8" r="1.18" fill="#700a6c"/>
<circle cx="112.2" cy="561.0" r="1.18" fill="#821983"/>
<circle cx="87.7" cy="479.8" r="1.18" fill="#800f7b"/>
<circle cx="66.2" cy="465.1" r="1.18" fill="#50014e"/>
<circle cx="61.1" cy="488.1" r="1.18" fill="#4e004c"/>
<circle cx="69.6" cy="544.4" r="1.18" fill="#5d055a"/>
<circle cx="84.8" cy="507.3" r="1.18" fill="#863696"/>
<circle cx="72.6" cy="512.9" r="1.18" fill="#8a57a8"/>
<circle cx="70.8" cy="514.0" r="1.18" fill="#88409c"/>
<circle cx="164.5" cy="560.4" r="1.18" fill="#8b62ad"/>
<circle cx="63.0" cy="499.8" r="1.18" fill="#821580"/>
<circle cx="134.3" cy="556.1" r="1.18" fill="#852b8e"/>
<circle cx="98.3" cy="527.1" r="1.18" fill="#660762"/>
<circle cx="94.2" cy="489.6" r="1.18" fill="#6d0969"/>
<circle cx="70.6" cy="522.2" r="1.18" fill="#81107d"/>
<circle cx="71.6" cy="555.3" r="1.18" fill="#863494"/>
<circle cx="94.1" cy="467.4" r="1.18" fill="#852b8f"/>
<circle cx="165.9" cy="563.2" r="1.18" fill="#720b6e"/>
<circle cx="68.4" cy="473.5" r="1.18" fill="#5c0459"/>
<circle cx="72.6" cy="495.6" r="1.18" fill="#8b62ad"/>
<circle cx="181.6" cy="548.5" r="1.18" fill="#720b6e"/>
<circle cx="90.8" cy="542.9" r="1.18" fill="#640761"/>
<circle cx="75.0" cy="496.0" r="1.18" fill="#650762"/>
<circle cx="86.6" cy="505.4" r="1.18" fill="#670763"/>
<circle cx="79.1" cy="542.9" r="1.18" fill="#81117e"/>
<circle cx="74.0" cy="510.6" r="1.18" fill="#852c8f"/>
<circle cx="79.6" cy="525.0" r="1.18" fill="#894fa4"/>
<circle cx="75.8" cy="485.9" r="1.18" fill="#690865"/>
<circle cx="69.4" cy="516.4" r="1.18" fill="#540252"/>
<circle cx="83.7" cy="550.4" r="1.18" fill="#7a0d75"/>
<circle cx="75.0" cy="465.3" r="1.18" fill="#852e90"/>
<circle cx="76.3" cy="515.7" r="1.18" fill="#670864"/>
<circle cx="183.9" cy="547.7" r="1.18" fill="#831a83"/>
<circle cx="67.3" cy="499.3" r="1.18" fill="#5d055a"/>
<circle cx="92.8" cy="543.4" r="1.18" fill="#6c0969"/>
<circle cx="67.3" cy="496.3" r="1.18" fill="#62065f"/>
<circle cx="96.8" cy="481.4" r="1.18" fill="#720b6e"/>
<circle cx="87.9" cy="524.3" r="1.18" fill="#50014d"/>
<circle cx="60.1" cy="520.7" r="1.18" fill="#670864"/>
<circle cx="88.4" cy="554.3" r="1.18" fill="#832087"/>
<circle cx="180.4" cy="554.0" r="1.18" fill="#6d0969"/>
<circle cx="135.3" cy="558.8" r="1.18" fill="#831c85"/>
<circle cx="155.8" cy="552.5" r="1.18" fill="#520250"/>
<circle cx="75.7" cy="486.4" r="1.18" fill="#5c0459"/>
<circle cx="62.5" cy="489.2" r="1.18" fill="#740b70"/>
<circle cx="65.7" cy="515.8" r="1.18" fill="#580355"/>
<circle cx="103.5" cy="515.1" r="1.18" fill="#51014f"/>
<circle cx="63.9" cy="540.7" r="1.18" fill="#530251"/>
</g>
<rect x="55.60" y="450.00" width="142.20" height="142.80" fill="none" stroke="#000" stroke-width="1.40"/>
<g clip-path="url(#c21)" fill-opacity="0.92">
<circle cx="244.2" cy="437.3" r="1.18" fill="#f2f9fb"/>
<circle cx="227.7" cy="424.6" r="1.18" fill="#e8f1f7"/>
<circle cx="260.9" cy="375.6" r="1.18" fill="#eef6f9"/>
<circle cx="270.9" cy="347.2" r="1.18" fill="#f4fafc"/>
<circle cx="266.0" cy="408.2" r="1.18" fill="#eef6f9"/>
<circle cx="255.0" cy="399.1" r="1.18" fill="#edf5f9"/>
<circle cx="220.5" cy="322.6" r="1.18" fill="#bacfe4"/>
<circle cx="248.2" cy="360.4" r="1.18" fill="#f2f8fb"/>
<circle cx="267.3" cy="314.4" r="1.18" fill="#ecf4f9"/>
<circle cx="274.8" cy="399.1" r="1.18" fill="#f1f8fb"/>
<circle cx="235.1" cy="321.8" r="1.18" fill="#e9f2f7"/>
<circle cx="271.4" cy="401.3" r="1.18" fill="#f2f9fb"/>
<circle cx="275.6" cy="336.1" r="1.18" fill="#f4fafc"/>
<circle cx="228.4" cy="317.0" r="1.18" fill="#f5fafc"/>
<circle cx="259.7" cy="428.0" r="1.18" fill="#edf5f9"/>
<circle cx="274.5" cy="399.7" r="1.18" fill="#e5eff6"/>
<circle cx="273.9" cy="337.4" r="1.18" fill="#f1f8fb"/>
<circle cx="266.0" cy="420.2" r="1.18" fill="#d6e4f0"/>
<circle cx="262.5" cy="422.9" r="1.18" fill="#e9f3f8"/>
<circle cx="275.2" cy="386.2" r="1.18" fill="#eaf3f8"/>
<circle cx="242.8" cy="436.8" r="1.18" fill="#f0f7fa"/>
<circle cx="227.1" cy="370.3" r="1.18" fill="#eaf3f8"/>
<circle cx="265.4" cy="327.4" r="1.18" fill="#f6fbfd"/>
<circle cx="241.2" cy="433.1" r="1.18" fill="#f4fafc"/>
<circle cx="221.4" cy="432.9" r="1.18" fill="#f1f8fb"/>
<circle cx="277.1" cy="393.3" r="1.18" fill="#dae8f1"/>
<circle cx="273.1" cy="385.6" r="1.18" fill="#f1f8fb"/>
<circle cx="209.3" cy="343.4" r="1.18" fill="#edf5f9"/>
<circle cx="236.4" cy="374.6" r="1.18" fill="#f0f7fa"/>
<circle cx="274.5" cy="390.4" r="1.18" fill="#d8e6f1"/>
<circle cx="268.5" cy="316.6" r="1.18" fill="#cedeec"/>
<circle cx="212.0" cy="435.3" r="1.18" fill="#f6fbfd"/>
<circle cx="238.9" cy="405.7" r="1.18" fill="#e3eef5"/>
<circle cx="237.5" cy="403.2" r="1.18" fill="#d7e5f0"/>
<circle cx="247.8" cy="316.6" r="1.18" fill="#e6f0f6"/>
<circle cx="266.1" cy="346.8" r="1.18" fill="#cedeec"/>
<circle cx="220.6" cy="426.2" r="1.18" fill="#edf5f9"/>
<circle cx="256.5" cy="428.2" r="1.18" fill="#d0e0ed"/>
<circle cx="271.9" cy="397.3" r="1.18" fill="#e1edf5"/>
<circle cx="265.6" cy="346.2" r="1.18" fill="#e5eff6"/>
<circle cx="257.0" cy="413.9" r="1.18" fill="#e1edf4"/>
<circle cx="229.1" cy="352.1" r="1.18" fill="#e7f1f7"/>
<circle cx="259.2" cy="318.5" r="1.18" fill="#e4eff6"/>
<circle cx="228.0" cy="437.6" r="1.18" fill="#c2d5e7"/>
<circle cx="272.7" cy="399.8" r="1.18" fill="#f0f7fa"/>
<circle cx="266.6" cy="344.9" r="1.18" fill="#e9f3f8"/>
<circle cx="261.0" cy="388.8" r="1.18" fill="#f1f8fb"/>
<circle cx="263.9" cy="404.4" r="1.18" fill="#e7f1f7"/>
<circle cx="263.6" cy="418.4" r="1.18" fill="#e2edf5"/>
<circle cx="234.4" cy="369.6" r="1.18" fill="#e8f2f7"/>
<circle cx="269.5" cy="406.7" r="1.18" fill="#e6f0f7"/>
<circle cx="249.6" cy="347.9" r="1.18" fill="#e5f0f6"/>
<circle cx="248.7" cy="437.4" r="1.18" fill="#e3eef5"/>
<circle cx="264.5" cy="388.6" r="1.18" fill="#e5f0f6"/>
<circle cx="211.2" cy="422.4" r="1.18" fill="#edf5f9"/>
<circle cx="260.5" cy="434.8" r="1.18" fill="#f3fafc"/>
<circle cx="221.8" cy="427.2" r="1.18" fill="#e3eef5"/>
<circle cx="260.8" cy="401.9" r="1.18" fill="#f3f9fb"/>
<circle cx="241.1" cy="319.7" r="1.18" fill="#e8f1f7"/>
<circle cx="257.6" cy="434.0" r="1.18" fill="#dae7f1"/>
<circle cx="256.0" cy="352.9" r="1.18" fill="#c3d6e8"/>
<circle cx="238.1" cy="387.4" r="1.18" fill="#e8f1f7"/>
<circle cx="244.3" cy="313.4" r="1.18" fill="#f0f7fa"/>
<circle cx="264.6" cy="356.4" r="1.18" fill="#e6f0f6"/>
<circle cx="242.9" cy="435.7" r="1.18" fill="#e1edf4"/>
<circle cx="262.1" cy="421.9" r="1.18" fill="#e7f1f7"/>
<circle cx="250.6" cy="351.7" r="1.18" fill="#cedeec"/>
<circle cx="265.8" cy="397.2" r="1.18" fill="#f4fafc"/>
<circle cx="273.2" cy="332.4" r="1.18" fill="#e0ecf4"/>
<circle cx="257.0" cy="345.2" r="1.18" fill="#eef6f9"/>
<circle cx="275.9" cy="324.9" r="1.18" fill="#f1f8fb"/>
<circle cx="263.3" cy="370.9" r="1.18" fill="#dce9f2"/>
<circle cx="268.8" cy="384.2" r="1.18" fill="#eaf3f8"/>
<circle cx="260.5" cy="405.2" r="1.18" fill="#f2f8fb"/>
<circle cx="219.8" cy="312.6" r="1.18" fill="#f0f7fa"/>
<circle cx="243.2" cy="437.0" r="1.18" fill="#d2e1ee"/>
<circle cx="228.1" cy="367.1" r="1.18" fill="#edf5f9"/>
<circle cx="250.2" cy="346.8" r="1.18" fill="#f0f7fa"/>
<circle cx="241.3" cy="426.2" r="1.18" fill="#f0f7fa"/>
<circle cx="259.8" cy="427.5" r="1.18" fill="#eaf3f8"/>
<circle cx="270.6" cy="415.9" r="1.18" fill="#f7fcfd"/>
<circle cx="251.7" cy="363.2" r="1.18" fill="#e7f1f7"/>
<circle cx="245.1" cy="345.4" r="1.18" fill="#e7f1f7"/>
<circle cx="239.2" cy="348.0" r="1.18" fill="#ecf5f9"/>
<circle cx="263.6" cy="386.4" r="1.18" fill="#f0f7fa"/>
<circle cx="264.4" cy="398.3" r="1.18" fill="#f6fbfd"/>
<circle cx="261.4" cy="394.9" r="1.18" fill="#d1e1ee"/>
<circle cx="242.4" cy="434.6" r="1.18" fill="#f5fbfc"/>
<circle cx="257.9" cy="418.8" r="1.18" fill="#f6fcfd"/>
<circle cx="243.4" cy="415.7" r="1.18" fill="#f7fcfd"/>
<circle cx="243.0" cy="387.2" r="1.18" fill="#d5e4ef"/>
<circle cx="234.7" cy="435.0" r="1.18" fill="#e3eef5"/>
<circle cx="251.2" cy="382.0" r="1.18" fill="#e7f1f7"/>
<circle cx="250.7" cy="395.3" r="1.18" fill="#ddeaf3"/>
<circle cx="275.5" cy="336.8" r="1.18" fill="#f3f9fb"/>
<circle cx="221.2" cy="434.7" r="1.18" fill="#d9e7f1"/>
<circle cx="260.6" cy="328.3" r="1.18" fill="#f5fafc"/>
<circle cx="277.2" cy="344.5" r="1.18" fill="#c9daea"/>
<circle cx="222.5" cy="319.4" r="1.18" fill="#f0f7fa"/>
<circle cx="270.6" cy="410.3" r="1.18" fill="#f0f7fa"/>
<circle cx="265.8" cy="357.1" r="1.18" fill="#e3eef5"/>
<circle cx="249.3" cy="382.0" r="1.18" fill="#d4e3ef"/>
<circle cx="271.7" cy="333.1" r="1.18" fill="#e4eff6"/>
<circle cx="275.6" cy="396.9" r="1.18" fill="#ebf3f8"/>
<circle cx="259.8" cy="426.6" r="1.18" fill="#dde9f3"/>
<circle cx="252.6" cy="317.6" r="1.18" fill="#ebf4f8"/>
<circle cx="265.2" cy="426.2" r="1.18" fill="#e6f0f6"/>
<circle cx="210.6" cy="377.1" r="1.18" fill="#f5fbfc"/>
<circle cx="261.6" cy="416.1" r="1.18" fill="#e5f0f6"/>
<circle cx="219.3" cy="385.1" r="1.18" fill="#f4fafc"/>
<circle cx="268.6" cy="401.8" r="1.18" fill="#dae7f1"/>
<circle cx="218.9" cy="427.2" r="1.18" fill="#deeaf3"/>
<circle cx="239.8" cy="420.4" r="1.18" fill="#e5f0f6"/>
<circle cx="258.6" cy="396.5" r="1.18" fill="#dce9f2"/>
<circle cx="263.5" cy="385.4" r="1.18" fill="#cfdfed"/>
<circle cx="272.0" cy="406.2" r="1.18" fill="#cbdceb"/>
<circle cx="265.2" cy="416.7" r="1.18" fill="#deeaf3"/>
<circle cx="236.0" cy="320.2" r="1.18" fill="#f6fcfd"/>
<circle cx="266.1" cy="386.5" r="1.18" fill="#f7fcfd"/>
<circle cx="245.6" cy="325.2" r="1.18" fill="#e8f1f7"/>
<circle cx="241.0" cy="390.4" r="1.18" fill="#f0f7fa"/>
<circle cx="231.1" cy="313.5" r="1.18" fill="#c6d8e9"/>
<circle cx="272.0" cy="336.0" r="1.18" fill="#d5e3ef"/>
<circle cx="210.6" cy="436.2" r="1.18" fill="#f7fcfd"/>
<circle cx="210.2" cy="365.2" r="1.18" fill="#e6f0f6"/>
<circle cx="265.7" cy="388.5" r="1.18" fill="#e3eef5"/>
<circle cx="274.2" cy="401.7" r="1.18" fill="#f4fafc"/>
<circle cx="276.4" cy="394.9" r="1.18" fill="#f7fcfd"/>
<circle cx="255.6" cy="351.3" r="1.18" fill="#b4cbe2"/>
<circle cx="237.7" cy="353.6" r="1.18" fill="#f2f8fb"/>
<circle cx="241.1" cy="350.1" r="1.18" fill="#eff6fa"/>
<circle cx="275.2" cy="381.1" r="1.18" fill="#f5fbfc"/>
<circle cx="259.0" cy="380.2" r="1.18" fill="#e3eef5"/>
<circle cx="272.9" cy="408.0" r="1.18" fill="#e2edf5"/>
<circle cx="255.3" cy="401.9" r="1.18" fill="#e3eef5"/>
<circle cx="227.2" cy="319.5" r="1.18" fill="#f7fcfd"/>
<circle cx="264.7" cy="410.3" r="1.18" fill="#b7cde3"/>
<circle cx="255.7" cy="434.8" r="1.18" fill="#c5d7e8"/>
<circle cx="247.9" cy="427.5" r="1.18" fill="#dbe8f2"/>
<circle cx="234.6" cy="419.4" r="1.18" fill="#d8e6f0"/>
<circle cx="247.0" cy="393.5" r="1.18" fill="#e9f2f8"/>
<circle cx="270.0" cy="386.3" r="1.18" fill="#eff6fa"/>
<circle cx="236.5" cy="421.4" r="1.18" fill="#d7e5f0"/>
<circle cx="249.5" cy="328.1" r="1.18" fill="#cadbeb"/>
<circle cx="224.2" cy="331.9" r="1.18" fill="#e2edf5"/>
<circle cx="266.1" cy="342.1" r="1.18" fill="#e8f2f7"/>
<circle cx="271.6" cy="389.4" r="1.18" fill="#e3eef5"/>
<circle cx="221.2" cy="415.8" r="1.18" fill="#f0f7fa"/>
<circle cx="273.6" cy="321.7" r="1.18" fill="#d4e3ef"/>
<circle cx="272.6" cy="333.8" r="1.18" fill="#e4eff5"/>
<circle cx="266.3" cy="403.9" r="1.18" fill="#f7fcfd"/>
<circle cx="226.9" cy="409.5" r="1.18" fill="#e8f2f7"/>
<circle cx="276.0" cy="389.1" r="1.18" fill="#e3eef5"/>
<circle cx="259.1" cy="326.3" r="1.18" fill="#b3cae1"/>
<circle cx="267.0" cy="368.2" r="1.18" fill="#e4eff5"/>
<circle cx="212.6" cy="427.9" r="1.18" fill="#f7fcfd"/>
<circle cx="237.1" cy="419.0" r="1.18" fill="#d6e5f0"/>
<circle cx="247.8" cy="431.3" r="1.18" fill="#edf5f9"/>
<circle cx="217.1" cy="434.3" r="1.18" fill="#dfecf4"/>
<circle cx="275.4" cy="371.8" r="1.18" fill="#e6f0f6"/>
<circle cx="255.0" cy="347.3" r="1.18" fill="#ebf4f8"/>
<circle cx="264.2" cy="344.5" r="1.18" fill="#f5fafc"/>
<circle cx="235.1" cy="394.1" r="1.18" fill="#ebf3f8"/>
<circle cx="239.8" cy="409.4" r="1.18" fill="#e4eff5"/>
<circle cx="260.3" cy="360.0" r="1.18" fill="#e7f1f7"/>
<circle cx="245.5" cy="431.8" r="1.18" fill="#d8e6f1"/>
<circle cx="250.0" cy="421.1" r="1.18" fill="#f2f9fb"/>
<circle cx="235.5" cy="431.0" r="1.18" fill="#abc5df"/>
<circle cx="258.8" cy="369.8" r="1.18" fill="#eff6fa"/>
<circle cx="272.1" cy="404.8" r="1.18" fill="#cfdfed"/>
<circle cx="276.1" cy="398.8" r="1.18" fill="#e8f2f7"/>
<circle cx="262.4" cy="334.5" r="1.18" fill="#e6f0f6"/>
<circle cx="212.5" cy="320.1" r="1.18" fill="#bbd0e5"/>
<circle cx="277.2" cy="335.6" r="1.18" fill="#e7f1f7"/>
<circle cx="250.0" cy="420.0" r="1.18" fill="#e1edf5"/>
<circle cx="251.6" cy="404.5" r="1.18" fill="#f3f9fb"/>
<circle cx="267.8" cy="418.1" r="1.18" fill="#f0f7fa"/>
<circle cx="219.6" cy="430.3" r="1.18" fill="#f3fafc"/>
<circle cx="225.0" cy="432.9" r="1.18" fill="#e0ecf4"/>
<circle cx="252.7" cy="410.0" r="1.18" fill="#d0e0ed"/>
<circle cx="274.6" cy="395.7" r="1.18" fill="#eef5f9"/>
<circle cx="273.5" cy="362.3" r="1.18" fill="#f3f9fb"/>
<circle cx="272.8" cy="367.4" r="1.18" fill="#c6d8e9"/>
<circle cx="272.1" cy="404.4" r="1.18" fill="#e5eff6"/>
<circle cx="264.7" cy="402.0" r="1.18" fill="#e1edf5"/>
<circle cx="269.1" cy="407.8" r="1.18" fill="#e3eef5"/>
<circle cx="229.4" cy="391.3" r="1.18" fill="#d3e2ee"/>
<circle cx="214.6" cy="390.9" r="1.18" fill="#dbe9f2"/>
<circle cx="210.5" cy="424.3" r="1.18" fill="#deeaf3"/>
<circle cx="264.5" cy="387.8" r="1.18" fill="#eef6f9"/>
<circle cx="259.4" cy="434.7" r="1.18" fill="#e6f0f6"/>
<circle cx="255.9" cy="429.3" r="1.18" fill="#e2edf5"/>
<circle cx="276.7" cy="335.2" r="1.18" fill="#f3fafc"/>
<circle cx="268.1" cy="395.9" r="1.18" fill="#f5fbfc"/>
<circle cx="247.4" cy="429.1" r="1.18" fill="#f5fafc"/>
<circle cx="276.1" cy="390.6" r="1.18" fill="#c3d6e8"/>
<circle cx="252.4" cy="343.8" r="1.18" fill="#f5fbfc"/>
<circle cx="228.5" cy="437.2" r="1.18" fill="#ccddec"/>
<circle cx="268.5" cy="389.2" r="1.18" fill="#f7fcfd"/>
<circle cx="219.8" cy="431.2" r="1.18" fill="#e5f0f6"/>
<circle cx="252.3" cy="398.4" r="1.18" fill="#e8f1f7"/>
<circle cx="262.8" cy="341.5" r="1.18" fill="#eff6fa"/>
<circle cx="275.2" cy="393.9" r="1.18" fill="#eef5f9"/>
<circle cx="214.6" cy="437.0" r="1.18" fill="#e8f2f7"/>
<circle cx="246.1" cy="399.3" r="1.18" fill="#d1e1ee"/>
<circle cx="274.9" cy="400.5" r="1.18" fill="#e5eff6"/>
<circle cx="218.0" cy="320.0" r="1.18" fill="#e8f1f7"/>
<circle cx="250.0" cy="391.9" r="1.18" fill="#f0f7fa"/>
<circle cx="268.9" cy="341.6" r="1.18" fill="#e5f0f6"/>
<circle cx="257.4" cy="410.5" r="1.18" fill="#c9daea"/>
<circle cx="273.4" cy="392.7" r="1.18" fill="#d5e4ef"/>
<circle cx="244.2" cy="436.0" r="1.18" fill="#ecf4f9"/>
<circle cx="228.2" cy="397.2" r="1.18" fill="#f2f9fb"/>
<circle cx="244.8" cy="406.9" r="1.18" fill="#d7e5f0"/>
<circle cx="216.0" cy="428.8" r="1.18" fill="#f1f8fb"/>
<circle cx="244.5" cy="347.1" r="1.18" fill="#d7e6f0"/>
<circle cx="262.7" cy="407.7" r="1.18" fill="#e5f0f6"/>
<circle cx="256.5" cy="318.9" r="1.18" fill="#eef6fa"/>
<circle cx="259.1" cy="386.1" r="1.18" fill="#eaf3f8"/>
<circle cx="211.3" cy="369.2" r="1.18" fill="#cdddec"/>
<circle cx="215.6" cy="395.1" r="1.18" fill="#dfebf4"/>
<circle cx="262.3" cy="393.4" r="1.18" fill="#dbe8f2"/>
<circle cx="274.7" cy="345.4" r="1.18" fill="#e1edf4"/>
<circle cx="263.0" cy="318.2" r="1.18" fill="#f4fafc"/>
<circle cx="262.4" cy="343.1" r="1.18" fill="#cfdfed"/>
<circle cx="212.9" cy="351.8" r="1.18" fill="#d1e0ee"/>
<circle cx="257.2" cy="359.0" r="1.18" fill="#a4c0dc"/>
<circle cx="262.3" cy="312.8" r="1.18" fill="#dae8f2"/>
<circle cx="245.5" cy="369.6" r="1.18" fill="#b3cbe2"/>
<circle cx="273.9" cy="343.3" r="1.18" fill="#f5fbfc"/>
<circle cx="254.1" cy="331.3" r="1.18" fill="#dbe8f2"/>
<circle cx="221.4" cy="405.8" r="1.18" fill="#e0ecf4"/>
<circle cx="262.5" cy="369.9" r="1.18" fill="#ebf4f8"/>
<circle cx="235.5" cy="430.0" r="1.18" fill="#d8e6f1"/>
<circle cx="232.6" cy="409.7" r="1.18" fill="#f1f8fb"/>
<circle cx="243.4" cy="424.6" r="1.18" fill="#c8daea"/>
<circle cx="233.1" cy="414.4" r="1.18" fill="#99b1d4"/>
<circle cx="255.5" cy="361.6" r="1.18" fill="#d3e2ef"/>
<circle cx="265.4" cy="395.2" r="1.18" fill="#f1f8fb"/>
<circle cx="265.5" cy="424.0" r="1.18" fill="#edf5f9"/>
<circle cx="239.0" cy="428.0" r="1.18" fill="#c5d8e9"/>
<circle cx="245.6" cy="433.9" r="1.18" fill="#bfd3e6"/>
<circle cx="273.8" cy="343.5" r="1.18" fill="#e2edf5"/>
<circle cx="221.3" cy="435.5" r="1.18" fill="#e7f1f7"/>
<circle cx="263.7" cy="423.7" r="1.18" fill="#aec7e0"/>
<circle cx="266.6" cy="335.1" r="1.18" fill="#e0ecf4"/>
<circle cx="258.7" cy="329.2" r="1.18" fill="#d5e3ef"/>
<circle cx="253.2" cy="408.6" r="1.18" fill="#cadbeb"/>
<circle cx="262.1" cy="351.7" r="1.18" fill="#aec7e0"/>
<circle cx="262.2" cy="414.3" r="1.18" fill="#c8daea"/>
<circle cx="269.5" cy="323.7" r="1.18" fill="#dce9f2"/>
<circle cx="259.0" cy="332.4" r="1.18" fill="#deeaf3"/>
<circle cx="222.7" cy="436.3" r="1.18" fill="#edf5f9"/>
<circle cx="255.9" cy="412.8" r="1.18" fill="#e1ecf4"/>
<circle cx="267.7" cy="395.7" r="1.18" fill="#b6cde3"/>
<circle cx="272.2" cy="400.8" r="1.18" fill="#e1edf4"/>
<circle cx="271.2" cy="324.8" r="1.18" fill="#bfd3e6"/>
<circle cx="216.6" cy="420.4" r="1.18" fill="#c0d4e7"/>
<circle cx="248.0" cy="432.6" r="1.18" fill="#f6fbfd"/>
<circle cx="259.6" cy="307.4" r="1.18" fill="#ccddec"/>
<circle cx="238.4" cy="367.7" r="1.18" fill="#a4c0dc"/>
<circle cx="225.4" cy="401.7" r="1.18" fill="#d0e0ed"/>
<circle cx="253.1" cy="335.5" r="1.18" fill="#ddeaf3"/>
<circle cx="229.3" cy="407.9" r="1.18" fill="#cfdfed"/>
<circle cx="244.3" cy="344.8" r="1.18" fill="#e1ecf4"/>
<circle cx="270.6" cy="408.8" r="1.18" fill="#cadceb"/>
<circle cx="275.0" cy="351.6" r="1.18" fill="#f5fafc"/>
<circle cx="268.3" cy="397.2" r="1.18" fill="#e8f2f7"/>
<circle cx="245.8" cy="409.0" r="1.18" fill="#bed2e6"/>
<circle cx="263.0" cy="404.5" r="1.18" fill="#bdd1e5"/>
<circle cx="250.7" cy="385.0" r="1.18" fill="#eef6fa"/>
<circle cx="268.9" cy="412.2" r="1.18" fill="#e7f1f7"/>
<circle cx="270.8" cy="402.7" r="1.18" fill="#e0ecf4"/>
<circle cx="276.1" cy="332.3" r="1.18" fill="#ccddeb"/>
<circle cx="242.1" cy="331.1" r="1.18" fill="#cadbeb"/>
<circle cx="261.3" cy="356.1" r="1.18" fill="#eaf3f8"/>
<circle cx="240.2" cy="428.5" r="1.18" fill="#afc8e0"/>
<circle cx="252.4" cy="413.4" r="1.18" fill="#cedeec"/>
<circle cx="247.4" cy="330.1" r="1.18" fill="#c0d4e7"/>
<circle cx="263.3" cy="361.3" r="1.18" fill="#d0e0ed"/>
<circle cx="254.1" cy="381.4" r="1.18" fill="#bbd0e5"/>
<circle cx="277.7" cy="378.0" r="1.18" fill="#e9f2f7"/>
<circle cx="251.2" cy="433.5" r="1.18" fill="#c8daea"/>
<circle cx="271.5" cy="382.6" r="1.18" fill="#f0f7fa"/>
<circle cx="228.4" cy="434.2" r="1.18" fill="#e8f1f7"/>
<circle cx="218.8" cy="427.8" r="1.18" fill="#c6d8e9"/>
<circle cx="258.4" cy="429.5" r="1.18" fill="#cadbeb"/>
<circle cx="265.0" cy="399.6" r="1.18" fill="#edf5f9"/>
<circle cx="235.8" cy="437.0" r="1.18" fill="#cadbea"/>
<circle cx="272.9" cy="350.3" r="1.18" fill="#b7cee3"/>
<circle cx="271.6" cy="410.4" r="1.18" fill="#d2e1ee"/>
<circle cx="265.6" cy="335.5" r="1.18" fill="#d3e2ee"/>
<circle cx="271.5" cy="379.8" r="1.18" fill="#f2f9fb"/>
<circle cx="252.9" cy="406.3" r="1.18" fill="#eaf3f8"/>
<circle cx="267.0" cy="398.6" r="1.18" fill="#e5f0f6"/>
<circle cx="253.8" cy="380.7" r="1.18" fill="#ddeaf3"/>
<circle cx="260.1" cy="411.1" r="1.18" fill="#f5fafc"/>
<circle cx="261.5" cy="322.2" r="1.18" fill="#d0e0ed"/>
<circle cx="224.2" cy="435.5" r="1.18" fill="#c7d9e9"/>
<circle cx="242.9" cy="333.2" r="1.18" fill="#adc7e0"/>
<circle cx="266.5" cy="400.9" r="1.18" fill="#dbe8f2"/>
<circle cx="274.6" cy="380.8" r="1.18" fill="#c9daea"/>
<circle cx="259.0" cy="348.0" r="1.18" fill="#dfebf4"/>
<circle cx="212.8" cy="383.6" r="1.18" fill="#c8daea"/>
<circle cx="249.8" cy="307.2" r="1.18" fill="#dae7f1"/>
<circle cx="239.1" cy="394.2" r="1.18" fill="#adc7e0"/>
<circle cx="255.5" cy="416.2" r="1.18" fill="#b7cde3"/>
<circle cx="247.7" cy="382.7" r="1.18" fill="#cfdfed"/>
<circle cx="266.5" cy="375.3" r="1.18" fill="#f4fafc"/>
<circle cx="228.3" cy="429.3" r="1.18" fill="#eff6fa"/>
<circle cx="220.6" cy="386.2" r="1.18" fill="#d6e4f0"/>
<circle cx="211.9" cy="351.7" r="1.18" fill="#d6e4f0"/>
<circle cx="268.4" cy="342.5" r="1.18" fill="#a9c3de"/>
<circle cx="242.3" cy="433.2" r="1.18" fill="#bbd0e4"/>
<circle cx="214.8" cy="310.5" r="1.18" fill="#e5f0f6"/>
<circle cx="264.8" cy="403.4" r="1.18" fill="#eaf3f8"/>
<circle cx="254.6" cy="379.9" r="1.18" fill="#d9e7f1"/>
<circle cx="238.8" cy="400.6" r="1.18" fill="#cddeec"/>
<circle cx="258.0" cy="323.0" r="1.18" fill="#c9daea"/>
<circle cx="245.7" cy="330.3" r="1.18" fill="#b4cce2"/>
<circle cx="264.9" cy="385.4" r="1.18" fill="#aec7e0"/>
<circle cx="264.7" cy="413.9" r="1.18" fill="#b2cae1"/>
<circle cx="257.6" cy="336.2" r="1.18" fill="#dce9f2"/>
<circle cx="228.9" cy="435.1" r="1.18" fill="#abc5df"/>
<circle cx="234.8" cy="406.4" r="1.18" fill="#d9e7f1"/>
<circle cx="269.4" cy="316.7" r="1.18" fill="#abc5df"/>
<circle cx="273.3" cy="341.7" r="1.18" fill="#ccddeb"/>
<circle cx="222.3" cy="413.5" r="1.18" fill="#b0c8e0"/>
<circle cx="238.6" cy="421.8" r="1.18" fill="#bfd3e6"/>
<circle cx="250.1" cy="390.4" r="1.18" fill="#e3eef5"/>
<circle cx="263.4" cy="333.8" r="1.18" fill="#9fbdda"/>
<circle cx="252.8" cy="332.3" r="1.18" fill="#aec7e0"/>
<circle cx="268.7" cy="410.8" r="1.18" fill="#97add2"/>
<circle cx="268.0" cy="417.7" r="1.18" fill="#b8cee3"/>
<circle cx="274.0" cy="397.6" r="1.18" fill="#e3eef5"/>
<circle cx="257.9" cy="406.7" r="1.18" fill="#cadceb"/>
<circle cx="263.8" cy="387.9" r="1.18" fill="#d3e2ee"/>
<circle cx="268.3" cy="366.1" r="1.18" fill="#b6cde3"/>
<circle cx="259.0" cy="323.4" r="1.18" fill="#bcd1e5"/>
<circle cx="262.4" cy="424.6" r="1.18" fill="#d1e1ee"/>
<circle cx="228.9" cy="430.1" r="1.18" fill="#d9e7f1"/>
<circle cx="260.4" cy="430.4" r="1.18" fill="#f3f9fb"/>
<circle cx="270.0" cy="358.0" r="1.18" fill="#c8daea"/>
<circle cx="266.4" cy="305.8" r="1.18" fill="#9cb7d8"/>
<circle cx="212.1" cy="428.8" r="1.18" fill="#d7e5f0"/>
<circle cx="257.9" cy="387.2" r="1.18" fill="#b4cce2"/>
<circle cx="265.4" cy="404.5" r="1.18" fill="#b7cde3"/>
<circle cx="235.4" cy="340.4" r="1.18" fill="#eff7fa"/>
<circle cx="267.3" cy="402.7" r="1.18" fill="#e3eef5"/>
<circle cx="251.8" cy="435.2" r="1.18" fill="#c0d4e6"/>
<circle cx="271.3" cy="343.9" r="1.18" fill="#aac4de"/>
<circle cx="265.8" cy="395.5" r="1.18" fill="#dae7f1"/>
<circle cx="256.5" cy="338.8" r="1.18" fill="#f0f7fa"/>
<circle cx="218.4" cy="416.4" r="1.18" fill="#ecf4f9"/>
<circle cx="235.9" cy="422.6" r="1.18" fill="#a7c3dd"/>
<circle cx="240.6" cy="341.3" r="1.18" fill="#d5e4ef"/>
<circle cx="262.3" cy="415.5" r="1.18" fill="#9ab5d6"/>
<circle cx="221.0" cy="352.8" r="1.18" fill="#93a5ce"/>
<circle cx="269.5" cy="308.7" r="1.18" fill="#e6f0f6"/>
<circle cx="258.6" cy="345.8" r="1.18" fill="#dbe8f2"/>
<circle cx="267.6" cy="315.0" r="1.18" fill="#b9cfe4"/>
<circle cx="252.0" cy="433.1" r="1.18" fill="#b0c8e0"/>
<circle cx="254.7" cy="333.1" r="1.18" fill="#c7d9e9"/>
<circle cx="270.5" cy="404.1" r="1.18" fill="#dae7f1"/>
<circle cx="264.0" cy="382.3" r="1.18" fill="#d2e2ee"/>
<circle cx="259.4" cy="421.0" r="1.18" fill="#d6e4f0"/>
<circle cx="264.8" cy="353.0" r="1.18" fill="#dce9f2"/>
<circle cx="276.4" cy="329.1" r="1.18" fill="#e7f1f7"/>
<circle cx="259.6" cy="357.0" r="1.18" fill="#d0e0ed"/>
<circle cx="217.3" cy="348.4" r="1.18" fill="#dae8f1"/>
<circle cx="256.6" cy="407.5" r="1.18" fill="#a4c0dc"/>
<circle cx="214.1" cy="330.0" r="1.18" fill="#b7cde3"/>
<circle cx="238.4" cy="353.2" r="1.18" fill="#c2d5e7"/>
<circle cx="246.0" cy="381.0" r="1.18" fill="#b8cee3"/>
<circle cx="273.3" cy="402.5" r="1.18" fill="#c4d7e8"/>
<circle cx="270.4" cy="382.5" r="1.18" fill="#e2eef5"/>
<circle cx="245.5" cy="346.8" r="1.18" fill="#dbe9f2"/>
<circle cx="226.5" cy="312.1" r="1.18" fill="#c6d8e9"/>
<circle cx="243.5" cy="342.0" r="1.18" fill="#d3e2ee"/>
<circle cx="264.8" cy="347.5" r="1.18" fill="#ccddeb"/>
<circle cx="244.0" cy="400.2" r="1.18" fill="#bed2e5"/>
<circle cx="212.0" cy="335.1" r="1.18" fill="#b8cee3"/>
<circle cx="257.4" cy="421.0" r="1.18" fill="#cbdceb"/>
<circle cx="225.1" cy="321.4" r="1.18" fill="#c7d9e9"/>
<circle cx="267.7" cy="404.9" r="1.18" fill="#9bb6d7"/>
<circle cx="245.4" cy="433.8" r="1.18" fill="#9ebcda"/>
<circle cx="268.9" cy="390.1" r="1.18" fill="#b0c9e1"/>
<circle cx="270.1" cy="413.9" r="1.18" fill="#c1d5e7"/>
<circle cx="250.0" cy="344.7" r="1.18" fill="#e1edf4"/>
<circle cx="248.3" cy="348.0" r="1.18" fill="#abc5df"/>
<circle cx="250.6" cy="434.1" r="1.18" fill="#d9e6f1"/>
<circle cx="258.8" cy="434.0" r="1.18" fill="#d6e5f0"/>
<circle cx="224.4" cy="430.2" r="1.18" fill="#dce9f2"/>
<circle cx="237.3" cy="330.0" r="1.18" fill="#c5d7e8"/>
<circle cx="261.1" cy="417.2" r="1.18" fill="#e1edf4"/>
<circle cx="250.4" cy="434.0" r="1.18" fill="#d5e4ef"/>
<circle cx="243.4" cy="410.7" r="1.18" fill="#f1f8fa"/>
<circle cx="230.9" cy="408.7" r="1.18" fill="#c6d8e9"/>
<circle cx="228.2" cy="353.0" r="1.18" fill="#e2eef5"/>
<circle cx="245.8" cy="384.2" r="1.18" fill="#c2d5e7"/>
<circle cx="268.8" cy="343.9" r="1.18" fill="#ebf3f8"/>
<circle cx="236.1" cy="427.7" r="1.18" fill="#ccddeb"/>
<circle cx="273.7" cy="384.6" r="1.18" fill="#cadceb"/>
<circle cx="273.0" cy="354.0" r="1.18" fill="#bbd0e5"/>
<circle cx="271.7" cy="382.9" r="1.18" fill="#c5d8e9"/>
<circle cx="245.7" cy="369.9" r="1.18" fill="#deebf3"/>
<circle cx="257.7" cy="323.8" r="1.18" fill="#cedfed"/>
<circle cx="222.6" cy="397.8" r="1.18" fill="#97add2"/>
<circle cx="257.3" cy="380.3" r="1.18" fill="#bbd0e4"/>
<circle cx="239.3" cy="376.7" r="1.18" fill="#d2e1ee"/>
<circle cx="240.8" cy="391.7" r="1.18" fill="#c2d5e7"/>
<circle cx="267.2" cy="310.9" r="1.18" fill="#c7d9ea"/>
<circle cx="252.2" cy="396.0" r="1.18" fill="#99b0d4"/>
<circle cx="252.7" cy="420.4" r="1.18" fill="#d5e4ef"/>
<circle cx="271.6" cy="404.4" r="1.18" fill="#d9e7f1"/>
<circle cx="246.9" cy="393.6" r="1.18" fill="#b4cbe2"/>
<circle cx="236.4" cy="307.4" r="1.18" fill="#e6f0f6"/>
<circle cx="235.0" cy="385.3" r="1.18" fill="#e3eef5"/>
<circle cx="258.1" cy="379.2" r="1.18" fill="#d4e3ef"/>
<circle cx="250.7" cy="418.3" r="1.18" fill="#d5e4ef"/>
<circle cx="239.2" cy="422.7" r="1.18" fill="#e3eef5"/>
<circle cx="264.4" cy="420.7" r="1.18" fill="#e5eff6"/>
<circle cx="232.7" cy="434.9" r="1.18" fill="#b3cbe2"/>
<circle cx="215.1" cy="355.8" r="1.18" fill="#f1f8fb"/>
<circle cx="267.7" cy="397.7" r="1.18" fill="#bacfe4"/>
<circle cx="255.8" cy="385.0" r="1.18" fill="#c4d7e8"/>
<circle cx="247.9" cy="415.4" r="1.18" fill="#ccdceb"/>
<circle cx="255.1" cy="404.3" r="1.18" fill="#d1e0ee"/>
<circle cx="266.8" cy="364.2" r="1.18" fill="#bcd1e5"/>
<circle cx="259.6" cy="420.1" r="1.18" fill="#e2edf5"/>
<circle cx="270.8" cy="411.6" r="1.18" fill="#d5e4ef"/>
<circle cx="254.2" cy="333.9" r="1.18" fill="#cfdfed"/>
<circle cx="242.2" cy="392.0" r="1.18" fill="#c6d8e9"/>
<circle cx="219.0" cy="309.1" r="1.18" fill="#b0c9e1"/>
<circle cx="262.1" cy="413.6" r="1.18" fill="#c9dbea"/>
<circle cx="261.7" cy="380.8" r="1.18" fill="#aec7e0"/>
<circle cx="260.8" cy="412.4" r="1.18" fill="#d9e7f1"/>
<circle cx="250.7" cy="435.5" r="1.18" fill="#c2d5e7"/>
<circle cx="259.4" cy="437.0" r="1.18" fill="#cedeec"/>
<circle cx="269.3" cy="413.4" r="1.18" fill="#bacfe4"/>
<circle cx="271.7" cy="383.3" r="1.18" fill="#d0e0ed"/>
<circle cx="241.3" cy="379.9" r="1.18" fill="#b6cde3"/>
<circle cx="253.7" cy="324.2" r="1.18" fill="#dbe8f2"/>
<circle cx="268.3" cy="348.4" r="1.18" fill="#cfdfed"/>
<circle cx="261.5" cy="310.8" r="1.18" fill="#cfdfed"/>
<circle cx="218.6" cy="416.7" r="1.18" fill="#b9cfe4"/>
<circle cx="217.8" cy="434.5" r="1.18" fill="#dde9f3"/>
<circle cx="234.1" cy="311.9" r="1.18" fill="#bcd1e5"/>
<circle cx="251.8" cy="367.1" r="1.18" fill="#bbd0e5"/>
<circle cx="246.2" cy="435.9" r="1.18" fill="#c8daea"/>
<circle cx="272.8" cy="397.0" r="1.18" fill="#ddeaf3"/>
<circle cx="267.1" cy="329.1" r="1.18" fill="#abc5df"/>
<circle cx="228.0" cy="413.8" r="1.18" fill="#cfdfed"/>
<circle cx="231.5" cy="419.5" r="1.18" fill="#a5c1dd"/>
<circle cx="228.5" cy="425.7" r="1.18" fill="#eaf3f8"/>
<circle cx="240.0" cy="350.9" r="1.18" fill="#dae7f1"/>
<circle cx="257.1" cy="418.1" r="1.18" fill="#a8c3dd"/>
<circle cx="259.0" cy="347.9" r="1.18" fill="#c7d9e9"/>
<circle cx="270.1" cy="402.3" r="1.18" fill="#a1bedb"/>
<circle cx="274.1" cy="354.1" r="1.18" fill="#a3bfdc"/>
<circle cx="237.9" cy="429.8" r="1.18" fill="#c8daea"/>
<circle cx="239.4" cy="437.1" r="1.18" fill="#c8daea"/>
<circle cx="241.5" cy="399.5" r="1.18" fill="#b0c8e0"/>
<circle cx="255.4" cy="388.4" r="1.18" fill="#b4cce2"/>
<circle cx="228.2" cy="410.1" r="1.18" fill="#cddeec"/>
<circle cx="248.2" cy="414.9" r="1.18" fill="#b6cde3"/>
<circle cx="267.5" cy="408.3" r="1.18" fill="#d9e7f1"/>
<circle cx="242.0" cy="430.0" r="1.18" fill="#ebf3f8"/>
<circle cx="250.3" cy="396.9" r="1.18" fill="#9dbad9"/>
<circle cx="275.7" cy="369.4" r="1.18" fill="#d6e5f0"/>
<circle cx="276.5" cy="387.2" r="1.18" fill="#dfebf4"/>
<circle cx="249.6" cy="434.9" r="1.18" fill="#eaf3f8"/>
<circle cx="267.1" cy="364.8" r="1.18" fill="#c0d4e6"/>
<circle cx="231.1" cy="390.2" r="1.18" fill="#afc8e0"/>
<circle cx="239.7" cy="383.6" r="1.18" fill="#adc7df"/>
<circle cx="272.5" cy="357.4" r="1.18" fill="#ccddec"/>
<circle cx="214.2" cy="425.3" r="1.18" fill="#deeaf3"/>
<circle cx="256.8" cy="379.3" r="1.18" fill="#c1d4e7"/>
<circle cx="215.6" cy="387.4" r="1.18" fill="#a1bedb"/>
<circle cx="248.1" cy="339.1" r="1.18" fill="#dbe8f2"/>
<circle cx="249.7" cy="337.8" r="1.18" fill="#9bb6d7"/>
<circle cx="215.8" cy="422.4" r="1.18" fill="#9dbad9"/>
<circle cx="226.9" cy="333.9" r="1.18" fill="#b2cae1"/>
<circle cx="215.6" cy="323.6" r="1.18" fill="#a6c2dd"/>
<circle cx="236.6" cy="392.3" r="1.18" fill="#8c90c3"/>
<circle cx="247.9" cy="378.6" r="1.18" fill="#a8c3de"/>
<circle cx="273.2" cy="392.8" r="1.18" fill="#d0e0ed"/>
<circle cx="277.0" cy="391.9" r="1.18" fill="#c3d6e8"/>
<circle cx="249.4" cy="399.8" r="1.18" fill="#d9e7f1"/>
<circle cx="249.2" cy="428.1" r="1.18" fill="#dae7f1"/>
<circle cx="273.7" cy="326.0" r="1.18" fill="#c2d5e7"/>
<circle cx="247.2" cy="383.2" r="1.18" fill="#b7cde3"/>
<circle cx="269.2" cy="368.5" r="1.18" fill="#92a3cd"/>
<circle cx="221.3" cy="433.0" r="1.18" fill="#acc6df"/>
<circle cx="246.5" cy="412.7" r="1.18" fill="#b9cfe4"/>
<circle cx="257.6" cy="327.7" r="1.18" fill="#b1cae1"/>
<circle cx="239.9" cy="410.1" r="1.18" fill="#a8c3de"/>
<circle cx="242.2" cy="307.1" r="1.18" fill="#c6d9e9"/>
<circle cx="272.8" cy="376.6" r="1.18" fill="#c3d6e8"/>
<circle cx="260.0" cy="395.8" r="1.18" fill="#bcd1e5"/>
<circle cx="269.9" cy="415.1" r="1.18" fill="#f2f9fb"/>
<circle cx="259.3" cy="431.9" r="1.18" fill="#a3c0dc"/>
<circle cx="250.4" cy="433.4" r="1.18" fill="#b4cbe2"/>
<circle cx="257.6" cy="425.2" r="1.18" fill="#f0f7fa"/>
<circle cx="249.7" cy="344.6" r="1.18" fill="#c3d6e8"/>
<circle cx="250.3" cy="381.3" r="1.18" fill="#cadbea"/>
<circle cx="261.3" cy="394.8" r="1.18" fill="#9dbad9"/>
<circle cx="218.5" cy="431.0" r="1.18" fill="#a8c3de"/>
<circle cx="257.2" cy="372.4" r="1.18" fill="#adc6df"/>
<circle cx="236.8" cy="401.0" r="1.18" fill="#91a0cb"/>
<circle cx="259.7" cy="407.3" r="1.18" fill="#c1d5e7"/>
<circle cx="250.9" cy="434.2" r="1.18" fill="#e9f2f7"/>
<circle cx="238.5" cy="344.9" r="1.18" fill="#94a7cf"/>
<circle cx="273.0" cy="347.1" r="1.18" fill="#d0e0ed"/>
<circle cx="255.2" cy="416.3" r="1.18" fill="#94a7cf"/>
<circle cx="238.7" cy="400.1" r="1.18" fill="#a4c0dc"/>
<circle cx="276.0" cy="389.3" r="1.18" fill="#b2cae1"/>
<circle cx="228.3" cy="429.9" r="1.18" fill="#cadceb"/>
<circle cx="239.3" cy="434.9" r="1.18" fill="#d4e3ef"/>
<circle cx="237.0" cy="418.4" r="1.18" fill="#a2bfdb"/>
<circle cx="229.1" cy="423.6" r="1.18" fill="#eef5f9"/>
<circle cx="254.2" cy="437.3" r="1.18" fill="#9ebbda"/>
<circle cx="230.4" cy="395.7" r="1.18" fill="#cadceb"/>
<circle cx="214.9" cy="376.6" r="1.18" fill="#abc5df"/>
<circle cx="242.0" cy="436.0" r="1.18" fill="#a7c2dd"/>
<circle cx="240.0" cy="393.2" r="1.18" fill="#9fbcda"/>
<circle cx="257.7" cy="417.4" r="1.18" fill="#d7e5f0"/>
<circle cx="221.8" cy="310.7" r="1.18" fill="#b9cfe4"/>
<circle cx="247.1" cy="325.5" r="1.18" fill="#b6cde3"/>
<circle cx="257.7" cy="427.0" r="1.18" fill="#91a1cc"/>
<circle cx="225.1" cy="430.4" r="1.18" fill="#a9c4de"/>
<circle cx="270.9" cy="405.1" r="1.18" fill="#b6cde3"/>
<circle cx="258.4" cy="307.1" r="1.18" fill="#9ebbda"/>
<circle cx="213.4" cy="413.4" r="1.18" fill="#8c8fc3"/>
<circle cx="213.6" cy="414.2" r="1.18" fill="#9ebcda"/>
<circle cx="262.5" cy="395.5" r="1.18" fill="#ccddec"/>
<circle cx="259.1" cy="410.5" r="1.18" fill="#d2e2ee"/>
<circle cx="236.7" cy="316.7" r="1.18" fill="#c5d7e8"/>
<circle cx="265.4" cy="403.4" r="1.18" fill="#bbd0e5"/>
<circle cx="229.0" cy="433.0" r="1.18" fill="#b4cbe2"/>
<circle cx="256.1" cy="395.4" r="1.18" fill="#bcd1e5"/>
<circle cx="219.9" cy="413.6" r="1.18" fill="#b0c9e1"/>
<circle cx="238.9" cy="387.9" r="1.18" fill="#8c80bb"/>
<circle cx="240.8" cy="342.0" r="1.18" fill="#94a7cf"/>
<circle cx="263.6" cy="351.3" r="1.18" fill="#eff7fa"/>
<circle cx="254.9" cy="351.6" r="1.18" fill="#c3d6e8"/>
<circle cx="242.0" cy="397.1" r="1.18" fill="#8c96c6"/>
<circle cx="247.6" cy="328.6" r="1.18" fill="#d1e0ed"/>
<circle cx="273.5" cy="381.6" r="1.18" fill="#8c96c6"/>
<circle cx="238.5" cy="406.4" r="1.18" fill="#c2d5e7"/>
<circle cx="233.7" cy="383.2" r="1.18" fill="#909eca"/>
<circle cx="273.2" cy="330.6" r="1.18" fill="#cfdfed"/>
<circle cx="252.0" cy="426.7" r="1.18" fill="#c3d6e8"/>
<circle cx="274.5" cy="345.1" r="1.18" fill="#c3d6e8"/>
<circle cx="267.8" cy="414.5" r="1.18" fill="#c1d5e7"/>
<circle cx="269.6" cy="405.8" r="1.18" fill="#9dbad9"/>
<circle cx="214.2" cy="323.9" r="1.18" fill="#99b1d4"/>
<circle cx="244.9" cy="426.5" r="1.18" fill="#b0c8e0"/>
<circle cx="221.3" cy="383.5" r="1.18" fill="#b8cee3"/>
<circle cx="263.9" cy="398.9" r="1.18" fill="#a3c0dc"/>
<circle cx="231.3" cy="356.4" r="1.18" fill="#c6d9e9"/>
<circle cx="244.4" cy="385.4" r="1.18" fill="#93a4ce"/>
<circle cx="271.2" cy="408.5" r="1.18" fill="#b8cee3"/>
<circle cx="257.1" cy="393.0" r="1.18" fill="#99b2d5"/>
<circle cx="261.0" cy="426.2" r="1.18" fill="#d2e2ee"/>
<circle cx="258.5" cy="383.3" r="1.18" fill="#a9c4de"/>
<circle cx="271.9" cy="395.8" r="1.18" fill="#abc5df"/>
<circle cx="247.1" cy="397.3" r="1.18" fill="#9cb8d8"/>
<circle cx="273.5" cy="395.7" r="1.18" fill="#a5c1dd"/>
<circle cx="269.6" cy="400.1" r="1.18" fill="#e4eff5"/>
<circle cx="235.6" cy="426.7" r="1.18" fill="#a5c1dc"/>
<circle cx="246.3" cy="382.8" r="1.18" fill="#c6d8e9"/>
<circle cx="234.7" cy="424.8" r="1.18" fill="#a1bedb"/>
<circle cx="238.8" cy="423.4" r="1.18" fill="#aec7e0"/>
<circle cx="224.5" cy="384.4" r="1.18" fill="#8f9cc9"/>
<circle cx="261.3" cy="373.5" r="1.18" fill="#a8c3dd"/>
<circle cx="247.5" cy="316.0" r="1.18" fill="#96abd1"/>
<circle cx="266.2" cy="411.6" r="1.18" fill="#b6cde3"/>
<circle cx="269.6" cy="344.2" r="1.18" fill="#b6cde3"/>
<circle cx="261.4" cy="427.1" r="1.18" fill="#afc8e0"/>
<circle cx="244.2" cy="364.8" r="1.18" fill="#b2cae1"/>
<circle cx="247.4" cy="401.1" r="1.18" fill="#c1d4e7"/>
<circle cx="234.9" cy="436.0" r="1.18" fill="#a0bedb"/>
<circle cx="259.5" cy="421.3" r="1.18" fill="#95a9d0"/>
<circle cx="257.6" cy="434.2" r="1.18" fill="#cedeec"/>
<circle cx="258.0" cy="392.7" r="1.18" fill="#9cb8d8"/>
<circle cx="247.3" cy="430.0" r="1.18" fill="#a0bddb"/>
<circle cx="239.2" cy="375.5" r="1.18" fill="#909fcb"/>
<circle cx="264.5" cy="373.7" r="1.18" fill="#8c90c3"/>
<circle cx="244.6" cy="323.7" r="1.18" fill="#a4c0dc"/>
<circle cx="224.4" cy="381.6" r="1.18" fill="#b6cde3"/>
<circle cx="255.5" cy="428.9" r="1.18" fill="#d6e5f0"/>
<circle cx="254.7" cy="429.2" r="1.18" fill="#9bb6d7"/>
<circle cx="228.7" cy="403.2" r="1.18" fill="#b0c8e0"/>
<circle cx="244.8" cy="343.4" r="1.18" fill="#b0c8e0"/>
<circle cx="251.5" cy="324.1" r="1.18" fill="#aec7e0"/>
<circle cx="272.6" cy="404.0" r="1.18" fill="#a8c3de"/>
<circle cx="241.5" cy="416.4" r="1.18" fill="#acc6df"/>
<circle cx="260.0" cy="322.9" r="1.18" fill="#a9c4de"/>
<circle cx="256.7" cy="353.3" r="1.18" fill="#a8c3de"/>
<circle cx="239.2" cy="435.4" r="1.18" fill="#a8c3de"/>
<circle cx="214.4" cy="390.8" r="1.18" fill="#98afd3"/>
<circle cx="277.1" cy="385.7" r="1.18" fill="#e4eff5"/>
<circle cx="253.0" cy="338.1" r="1.18" fill="#9ebbda"/>
<circle cx="263.0" cy="322.0" r="1.18" fill="#c3d6e8"/>
<circle cx="247.1" cy="400.8" r="1.18" fill="#909eca"/>
<circle cx="272.1" cy="404.3" r="1.18" fill="#909eca"/>
<circle cx="267.6" cy="410.6" r="1.18" fill="#97add2"/>
<circle cx="227.0" cy="384.5" r="1.18" fill="#b9cfe4"/>
<circle cx="242.8" cy="350.3" r="1.18" fill="#9ab4d6"/>
<circle cx="211.7" cy="367.2" r="1.18" fill="#8c93c4"/>
<circle cx="251.3" cy="426.5" r="1.18" fill="#a3c0dc"/>
<circle cx="232.4" cy="400.3" r="1.18" fill="#909eca"/>
<circle cx="260.2" cy="385.1" r="1.18" fill="#9ebbda"/>
<circle cx="260.8" cy="343.1" r="1.18" fill="#b4cbe2"/>
<circle cx="235.3" cy="343.2" r="1.18" fill="#8c88bf"/>
<circle cx="214.0" cy="428.0" r="1.18" fill="#99b2d5"/>
<circle cx="255.8" cy="433.1" r="1.18" fill="#9ebbda"/>
<circle cx="212.1" cy="402.8" r="1.18" fill="#a0bddb"/>
<circle cx="274.2" cy="364.7" r="1.18" fill="#aec7e0"/>
<circle cx="252.0" cy="414.0" r="1.18" fill="#8c82bc"/>
<circle cx="242.5" cy="425.1" r="1.18" fill="#909eca"/>
<circle cx="262.6" cy="320.0" r="1.18" fill="#8d99c8"/>
<circle cx="262.7" cy="411.9" r="1.18" fill="#a7c3dd"/>
<circle cx="260.2" cy="316.7" r="1.18" fill="#a8c3de"/>
<circle cx="250.4" cy="393.3" r="1.18" fill="#9dbbd9"/>
<circle cx="263.1" cy="411.5" r="1.18" fill="#a6c2dd"/>
<circle cx="266.2" cy="382.2" r="1.18" fill="#a4c0dc"/>
<circle cx="263.5" cy="346.4" r="1.18" fill="#9db9d8"/>
<circle cx="264.6" cy="310.2" r="1.18" fill="#8c88bf"/>
<circle cx="227.1" cy="390.7" r="1.18" fill="#95a9d0"/>
<circle cx="251.0" cy="402.2" r="1.18" fill="#8c7eba"/>
<circle cx="255.1" cy="328.5" r="1.18" fill="#9bb6d7"/>
<circle cx="246.2" cy="310.3" r="1.18" fill="#96abd1"/>
<circle cx="245.7" cy="333.5" r="1.18" fill="#9ebcda"/>
<circle cx="260.9" cy="358.6" r="1.18" fill="#91a0cb"/>
<circle cx="234.3" cy="346.9" r="1.18" fill="#9db9d8"/>
<circle cx="246.6" cy="338.2" r="1.18" fill="#acc6df"/>
<circle cx="239.3" cy="402.0" r="1.18" fill="#b0c9e1"/>
<circle cx="221.1" cy="417.4" r="1.18" fill="#96acd2"/>
<circle cx="226.4" cy="324.2" r="1.18" fill="#9fbcda"/>
<circle cx="233.3" cy="378.3" r="1.18" fill="#d2e1ee"/>
<circle cx="260.1" cy="407.8" r="1.18" fill="#8c8bc1"/>
<circle cx="248.7" cy="420.9" r="1.18" fill="#8c94c5"/>
<circle cx="265.8" cy="318.7" r="1.18" fill="#c0d4e7"/>
<circle cx="239.2" cy="421.3" r="1.18" fill="#8c8ec2"/>
<circle cx="247.3" cy="356.2" r="1.18" fill="#8c89c0"/>
<circle cx="260.6" cy="428.5" r="1.18" fill="#94a7cf"/>
<circle cx="213.0" cy="393.6" r="1.18" fill="#91a0cb"/>
<circle cx="262.5" cy="416.8" r="1.18" fill="#d0e0ed"/>
<circle cx="214.8" cy="341.1" r="1.18" fill="#a8c3de"/>
<circle cx="215.4" cy="404.7" r="1.18" fill="#94a7cf"/>
<circle cx="238.4" cy="318.5" r="1.18" fill="#8c93c4"/>
<circle cx="261.5" cy="366.0" r="1.18" fill="#8c95c6"/>
<circle cx="270.7" cy="365.4" r="1.18" fill="#9cb7d8"/>
<circle cx="210.6" cy="344.4" r="1.18" fill="#a8c3dd"/>
<circle cx="261.9" cy="391.9" r="1.18" fill="#98aed3"/>
<circle cx="224.6" cy="412.7" r="1.18" fill="#93a4ce"/>
<circle cx="244.1" cy="417.1" r="1.18" fill="#a5c1dc"/>
<circle cx="238.1" cy="434.4" r="1.18" fill="#bcd1e5"/>
<circle cx="225.5" cy="386.6" r="1.18" fill="#a2bfdc"/>
<circle cx="220.0" cy="366.5" r="1.18" fill="#95a8d0"/>
<circle cx="250.7" cy="394.6" r="1.18" fill="#abc5df"/>
<circle cx="244.4" cy="393.4" r="1.18" fill="#9db9d8"/>
<circle cx="260.1" cy="417.9" r="1.18" fill="#b2cae1"/>
<circle cx="213.3" cy="327.0" r="1.18" fill="#96abd1"/>
<circle cx="209.7" cy="357.5" r="1.18" fill="#91a0cb"/>
<circle cx="247.5" cy="432.9" r="1.18" fill="#8e9ac8"/>
<circle cx="266.1" cy="385.9" r="1.18" fill="#bbd0e5"/>
<circle cx="258.2" cy="428.1" r="1.18" fill="#b4cbe2"/>
<circle cx="238.0" cy="360.9" r="1.18" fill="#aec7e0"/>
<circle cx="229.2" cy="425.4" r="1.18" fill="#abc5df"/>
<circle cx="248.8" cy="393.7" r="1.18" fill="#93a5ce"/>
<circle cx="240.5" cy="372.3" r="1.18" fill="#92a3cd"/>
<circle cx="257.0" cy="395.2" r="1.18" fill="#a5c1dd"/>
<circle cx="241.1" cy="364.3" r="1.18" fill="#9db9d9"/>
<circle cx="242.7" cy="420.8" r="1.18" fill="#8e99c8"/>
<circle cx="236.3" cy="397.1" r="1.18" fill="#a1bedb"/>
<circle cx="213.7" cy="428.6" r="1.18" fill="#9ab4d6"/>
<circle cx="245.8" cy="378.9" r="1.18" fill="#93a4cd"/>
<circle cx="247.1" cy="311.3" r="1.18" fill="#97add2"/>
<circle cx="236.1" cy="389.6" r="1.18" fill="#94a7cf"/>
<circle cx="240.4" cy="427.4" r="1.18" fill="#95a9d0"/>
<circle cx="230.3" cy="400.6" r="1.18" fill="#98b0d4"/>
<circle cx="228.0" cy="418.6" r="1.18" fill="#98afd3"/>
<circle cx="228.2" cy="410.8" r="1.18" fill="#acc6df"/>
<circle cx="245.4" cy="413.0" r="1.18" fill="#92a3cd"/>
<circle cx="262.3" cy="360.4" r="1.18" fill="#8f9cc9"/>
<circle cx="238.8" cy="393.4" r="1.18" fill="#b1c9e1"/>
<circle cx="243.1" cy="399.4" r="1.18" fill="#93a5ce"/>
<circle cx="266.9" cy="384.1" r="1.18" fill="#9fbdda"/>
<circle cx="247.0" cy="421.0" r="1.18" fill="#a0bedb"/>
<circle cx="250.2" cy="372.7" r="1.18" fill="#8c91c4"/>
<circle cx="251.9" cy="389.4" r="1.18" fill="#8c87bf"/>
<circle cx="225.8" cy="417.1" r="1.18" fill="#9db9d8"/>
<circle cx="215.7" cy="420.5" r="1.18" fill="#8c70b4"/>
<circle cx="241.6" cy="344.9" r="1.18" fill="#8c96c6"/>
<circle cx="237.8" cy="412.4" r="1.18" fill="#8c7fbb"/>
<circle cx="271.1" cy="373.1" r="1.18" fill="#a5c1dd"/>
<circle cx="260.9" cy="352.1" r="1.18" fill="#8e9bc9"/>
<circle cx="256.6" cy="397.9" r="1.18" fill="#aac5df"/>
<circle cx="231.3" cy="392.5" r="1.18" fill="#8c8bc0"/>
<circle cx="240.6" cy="349.8" r="1.18" fill="#98b0d4"/>
<circle cx="242.2" cy="423.9" r="1.18" fill="#8c78b7"/>
<circle cx="255.5" cy="385.3" r="1.18" fill="#91a1cc"/>
<circle cx="258.2" cy="361.0" r="1.18" fill="#8c73b5"/>
<circle cx="210.2" cy="393.0" r="1.18" fill="#8c90c3"/>
<circle cx="225.4" cy="435.1" r="1.18" fill="#9bb5d6"/>
<circle cx="251.0" cy="400.8" r="1.18" fill="#909eca"/>
<circle cx="222.6" cy="432.9" r="1.18" fill="#8c6db2"/>
<circle cx="242.5" cy="416.1" r="1.18" fill="#8b63ad"/>
<circle cx="251.9" cy="336.7" r="1.18" fill="#8c8fc2"/>
<circle cx="250.0" cy="383.8" r="1.18" fill="#a0bddb"/>
<circle cx="233.1" cy="428.4" r="1.18" fill="#8e9bc8"/>
<circle cx="240.4" cy="331.5" r="1.18" fill="#8c82bc"/>
<circle cx="234.6" cy="350.6" r="1.18" fill="#8c96c6"/>
<circle cx="211.2" cy="386.1" r="1.18" fill="#8c84bd"/>
<circle cx="257.4" cy="349.3" r="1.18" fill="#8c89c0"/>
<circle cx="266.6" cy="417.0" r="1.18" fill="#8c76b6"/>
<circle cx="262.3" cy="400.0" r="1.18" fill="#8d98c7"/>
<circle cx="249.1" cy="375.9" r="1.18" fill="#8c7fbb"/>
<circle cx="253.9" cy="317.0" r="1.18" fill="#8c93c4"/>
<circle cx="267.3" cy="362.8" r="1.18" fill="#8c83bd"/>
<circle cx="247.6" cy="406.1" r="1.18" fill="#8c7dba"/>
<circle cx="231.3" cy="402.8" r="1.18" fill="#cadbeb"/>
<circle cx="258.0" cy="436.0" r="1.18" fill="#8f9dc9"/>
<circle cx="249.2" cy="362.2" r="1.18" fill="#94a7cf"/>
<circle cx="214.1" cy="422.7" r="1.18" fill="#8c7dba"/>
<circle cx="258.8" cy="401.3" r="1.18" fill="#93a6ce"/>
<circle cx="249.2" cy="404.4" r="1.18" fill="#8d98c7"/>
<circle cx="255.2" cy="344.5" r="1.18" fill="#8c80bb"/>
<circle cx="249.6" cy="360.0" r="1.18" fill="#8c74b6"/>
<circle cx="258.7" cy="397.5" r="1.18" fill="#8a59a9"/>
<circle cx="237.3" cy="415.5" r="1.18" fill="#8c96c6"/>
<circle cx="238.9" cy="408.7" r="1.18" fill="#99b2d5"/>
<circle cx="237.3" cy="430.6" r="1.18" fill="#8c92c4"/>
<circle cx="254.6" cy="343.7" r="1.18" fill="#8c85be"/>
<circle cx="240.9" cy="423.9" r="1.18" fill="#8c76b6"/>
<circle cx="251.0" cy="364.6" r="1.18" fill="#8c91c4"/>
<circle cx="247.9" cy="308.5" r="1.18" fill="#8b62ad"/>
<circle cx="249.1" cy="389.2" r="1.18" fill="#8c90c3"/>
<circle cx="236.0" cy="306.5" r="1.18" fill="#8a56a7"/>
<circle cx="242.9" cy="408.8" r="1.18" fill="#8a5aa9"/>
<circle cx="248.7" cy="404.3" r="1.18" fill="#93a5ce"/>
<circle cx="234.1" cy="334.8" r="1.18" fill="#8c6db2"/>
<circle cx="229.4" cy="426.5" r="1.18" fill="#909fcb"/>
<circle cx="233.7" cy="405.5" r="1.18" fill="#8c8bc1"/>
<circle cx="211.3" cy="422.1" r="1.18" fill="#8c8cc1"/>
<circle cx="258.7" cy="330.4" r="1.18" fill="#894ea3"/>
<circle cx="229.8" cy="407.9" r="1.18" fill="#8a58a8"/>
<circle cx="224.4" cy="321.1" r="1.18" fill="#8c79b8"/>
<circle cx="236.8" cy="437.4" r="1.18" fill="#883f9c"/>
<circle cx="242.1" cy="411.8" r="1.18" fill="#9ab3d5"/>
<circle cx="246.3" cy="391.4" r="1.18" fill="#a1bedb"/>
<circle cx="252.7" cy="414.9" r="1.18" fill="#9fbcda"/>
<circle cx="210.0" cy="365.2" r="1.18" fill="#8c8dc2"/>
<circle cx="247.8" cy="364.0" r="1.18" fill="#92a3cd"/>
<circle cx="257.1" cy="379.6" r="1.18" fill="#9dbbd9"/>
<circle cx="244.5" cy="318.8" r="1.18" fill="#8c94c5"/>
<circle cx="260.7" cy="350.2" r="1.18" fill="#8c73b5"/>
<circle cx="249.1" cy="397.0" r="1.18" fill="#91a0cb"/>
<circle cx="260.1" cy="401.0" r="1.18" fill="#8c96c6"/>
<circle cx="243.4" cy="389.7" r="1.18" fill="#8c7bb9"/>
<circle cx="247.2" cy="423.8" r="1.18" fill="#8c8cc1"/>
<circle cx="226.8" cy="315.6" r="1.18" fill="#8b5fab"/>
<circle cx="238.0" cy="419.6" r="1.18" fill="#8c96c6"/>
<circle cx="247.2" cy="421.4" r="1.18" fill="#88459f"/>
<circle cx="233.9" cy="356.8" r="1.18" fill="#8c66af"/>
<circle cx="211.5" cy="370.5" r="1.18" fill="#8d99c7"/>
<circle cx="245.7" cy="410.1" r="1.18" fill="#8c8cc1"/>
<circle cx="216.0" cy="366.6" r="1.18" fill="#91a1cc"/>
<circle cx="237.2" cy="340.0" r="1.18" fill="#8c7bb9"/>
<circle cx="222.7" cy="413.4" r="1.18" fill="#8a5ba9"/>
<circle cx="254.5" cy="354.5" r="1.18" fill="#9ab4d6"/>
<circle cx="242.3" cy="363.6" r="1.18" fill="#894da2"/>
<circle cx="242.5" cy="394.7" r="1.18" fill="#8c70b4"/>
<circle cx="227.1" cy="362.3" r="1.18" fill="#91a0cb"/>
<circle cx="236.9" cy="415.6" r="1.18" fill="#8c95c6"/>
<circle cx="241.4" cy="346.9" r="1.18" fill="#8c79b8"/>
<circle cx="261.8" cy="418.6" r="1.18" fill="#8b66ae"/>
<circle cx="270.2" cy="392.8" r="1.18" fill="#9ebcda"/>
<circle cx="246.9" cy="418.4" r="1.18" fill="#8c77b7"/>
<circle cx="245.6" cy="357.2" r="1.18" fill="#8b5daa"/>
<circle cx="252.5" cy="386.0" r="1.18" fill="#8c7ab8"/>
<circle cx="263.2" cy="364.2" r="1.18" fill="#8947a0"/>
<circle cx="240.7" cy="387.8" r="1.18" fill="#8c89c0"/>
<circle cx="224.2" cy="407.5" r="1.18" fill="#8c69b0"/>
<circle cx="226.1" cy="349.9" r="1.18" fill="#8c68af"/>
<circle cx="229.8" cy="323.6" r="1.18" fill="#8c81bc"/>
<circle cx="260.8" cy="394.5" r="1.18" fill="#8951a4"/>
<circle cx="239.5" cy="400.0" r="1.18" fill="#8c71b4"/>
<circle cx="246.5" cy="354.0" r="1.18" fill="#8c7fbb"/>
<circle cx="236.3" cy="396.3" r="1.18" fill="#8c83bd"/>
<circle cx="251.3" cy="406.0" r="1.18" fill="#894aa1"/>
<circle cx="265.5" cy="415.9" r="1.18" fill="#88409c"/>
<circle cx="242.4" cy="326.3" r="1.18" fill="#8c74b6"/>
<circle cx="255.3" cy="307.0" r="1.18" fill="#8c83bd"/>
<circle cx="245.4" cy="410.4" r="1.18" fill="#8c8ec2"/>
<circle cx="254.1" cy="313.6" r="1.18" fill="#88409c"/>
<circle cx="260.3" cy="345.0" r="1.18" fill="#8c80bb"/>
<circle cx="250.5" cy="395.6" r="1.18" fill="#873897"/>
<circle cx="253.3" cy="392.6" r="1.18" fill="#8a5aa9"/>
<circle cx="250.7" cy="332.4" r="1.18" fill="#8c96c6"/>
<circle cx="256.5" cy="421.4" r="1.18" fill="#883f9c"/>
<circle cx="247.4" cy="319.1" r="1.18" fill="#8e9bc9"/>
<circle cx="249.8" cy="317.2" r="1.18" fill="#8b61ac"/>
<circle cx="222.4" cy="414.6" r="1.18" fill="#8c7cb9"/>
<circle cx="251.3" cy="432.7" r="1.18" fill="#8c74b5"/>
<circle cx="252.9" cy="376.6" r="1.18" fill="#8c6bb1"/>
<circle cx="264.3" cy="421.6" r="1.18" fill="#8c66af"/>
<circle cx="234.4" cy="335.5" r="1.18" fill="#92a4cd"/>
<circle cx="232.9" cy="427.3" r="1.18" fill="#8c7dba"/>
<circle cx="251.2" cy="338.3" r="1.18" fill="#8b66ae"/>
<circle cx="244.2" cy="383.3" r="1.18" fill="#8c7cb9"/>
<circle cx="263.8" cy="422.9" r="1.18" fill="#863394"/>
<circle cx="258.0" cy="378.2" r="1.18" fill="#8c75b6"/>
<circle cx="259.1" cy="415.7" r="1.18" fill="#88429e"/>
<circle cx="224.6" cy="385.3" r="1.18" fill="#8a51a5"/>
<circle cx="251.2" cy="408.2" r="1.18" fill="#873796"/>
<circle cx="255.2" cy="422.5" r="1.18" fill="#883f9c"/>
<circle cx="240.2" cy="417.5" r="1.18" fill="#8c80bb"/>
<circle cx="240.6" cy="379.2" r="1.18" fill="#8b65ae"/>
<circle cx="262.1" cy="430.2" r="1.18" fill="#92a2cc"/>
<circle cx="249.8" cy="338.5" r="1.18" fill="#8a52a5"/>
<circle cx="238.9" cy="416.7" r="1.18" fill="#8c6eb3"/>
<circle cx="260.2" cy="411.3" r="1.18" fill="#8c7eba"/>
<circle cx="211.0" cy="417.3" r="1.18" fill="#94a6ce"/>
<circle cx="244.0" cy="379.4" r="1.18" fill="#8c71b4"/>
<circle cx="215.6" cy="358.9" r="1.18" fill="#8c7bb9"/>
<circle cx="271.5" cy="378.3" r="1.18" fill="#88419d"/>
<circle cx="250.8" cy="435.9" r="1.18" fill="#8b5caa"/>
<circle cx="251.1" cy="397.4" r="1.18" fill="#8d98c7"/>
<circle cx="252.9" cy="369.6" r="1.18" fill="#894ea3"/>
<circle cx="230.2" cy="410.2" r="1.18" fill="#8c71b4"/>
<circle cx="264.6" cy="376.3" r="1.18" fill="#84258b"/>
<circle cx="262.4" cy="417.8" r="1.18" fill="#88419d"/>
<circle cx="218.2" cy="325.0" r="1.18" fill="#8c8dc1"/>
<circle cx="255.0" cy="416.1" r="1.18" fill="#8c78b7"/>
<circle cx="229.7" cy="406.8" r="1.18" fill="#8c97c6"/>
<circle cx="223.8" cy="341.4" r="1.18" fill="#883f9b"/>
<circle cx="257.3" cy="314.5" r="1.18" fill="#8a53a5"/>
<circle cx="256.1" cy="409.0" r="1.18" fill="#821a83"/>
<circle cx="233.9" cy="313.6" r="1.18" fill="#8c7fbb"/>
<circle cx="245.9" cy="320.0" r="1.18" fill="#8c7fbb"/>
<circle cx="242.9" cy="324.5" r="1.18" fill="#8c74b6"/>
<circle cx="228.8" cy="406.2" r="1.18" fill="#8c8ac0"/>
<circle cx="233.0" cy="409.0" r="1.18" fill="#894ea3"/>
<circle cx="211.4" cy="377.6" r="1.18" fill="#8c7fbb"/>
<circle cx="255.5" cy="351.3" r="1.18" fill="#852d8f"/>
<circle cx="244.1" cy="328.1" r="1.18" fill="#852f91"/>
<circle cx="240.7" cy="421.3" r="1.18" fill="#81127e"/>
<circle cx="230.9" cy="337.1" r="1.18" fill="#780c73"/>
<circle cx="243.7" cy="395.0" r="1.18" fill="#8c7ab8"/>
<circle cx="234.8" cy="399.4" r="1.18" fill="#8b61ac"/>
<circle cx="246.8" cy="407.6" r="1.18" fill="#8c6eb2"/>
<circle cx="226.3" cy="415.3" r="1.18" fill="#8c7dba"/>
<circle cx="256.7" cy="368.7" r="1.18" fill="#8c7bb9"/>
<circle cx="226.0" cy="421.7" r="1.18" fill="#8b64ae"/>
<circle cx="234.3" cy="359.7" r="1.18" fill="#8947a0"/>
<circle cx="255.9" cy="378.8" r="1.18" fill="#810f7c"/>
<circle cx="241.6" cy="430.3" r="1.18" fill="#8a59a9"/>
<circle cx="230.4" cy="410.4" r="1.18" fill="#873a99"/>
<circle cx="239.5" cy="364.4" r="1.18" fill="#88469f"/>
<circle cx="239.9" cy="414.7" r="1.18" fill="#8a52a5"/>
<circle cx="215.0" cy="409.5" r="1.18" fill="#852a8e"/>
<circle cx="233.9" cy="313.0" r="1.18" fill="#8c80bb"/>
<circle cx="261.8" cy="356.9" r="1.18" fill="#84268b"/>
<circle cx="244.0" cy="429.0" r="1.18" fill="#8c6fb3"/>
<circle cx="253.6" cy="317.8" r="1.18" fill="#8a59a9"/>
<circle cx="233.0" cy="436.8" r="1.18" fill="#8b65ae"/>
<circle cx="238.7" cy="317.0" r="1.18" fill="#8c75b6"/>
<circle cx="254.4" cy="385.9" r="1.18" fill="#8a52a5"/>
<circle cx="215.9" cy="406.6" r="1.18" fill="#8c68af"/>
<circle cx="231.4" cy="423.0" r="1.18" fill="#8c6cb1"/>
<circle cx="250.5" cy="399.9" r="1.18" fill="#863293"/>
<circle cx="269.4" cy="395.5" r="1.18" fill="#863192"/>
<circle cx="257.0" cy="306.7" r="1.18" fill="#894ea3"/>
<circle cx="236.1" cy="421.1" r="1.18" fill="#8c79b8"/>
<circle cx="264.2" cy="380.4" r="1.18" fill="#8c76b6"/>
<circle cx="234.5" cy="411.2" r="1.18" fill="#832188"/>
<circle cx="251.6" cy="366.7" r="1.18" fill="#8c68b0"/>
<circle cx="246.5" cy="378.6" r="1.18" fill="#832087"/>
<circle cx="233.8" cy="320.3" r="1.18" fill="#894aa1"/>
<circle cx="256.9" cy="368.8" r="1.18" fill="#8c6ab1"/>
<circle cx="247.1" cy="377.6" r="1.18" fill="#8b61ac"/>
<circle cx="212.7" cy="312.5" r="1.18" fill="#8b62ad"/>
<circle cx="259.9" cy="343.4" r="1.18" fill="#88429d"/>
<circle cx="226.3" cy="406.4" r="1.18" fill="#863092"/>
<circle cx="247.0" cy="419.8" r="1.18" fill="#8949a1"/>
<circle cx="242.5" cy="317.1" r="1.18" fill="#8c67af"/>
<circle cx="247.6" cy="356.6" r="1.18" fill="#8c8bc1"/>
<circle cx="248.1" cy="333.3" r="1.18" fill="#821882"/>
<circle cx="246.1" cy="392.7" r="1.18" fill="#85288d"/>
<circle cx="231.6" cy="407.5" r="1.18" fill="#96acd1"/>
<circle cx="241.0" cy="358.2" r="1.18" fill="#863192"/>
<circle cx="233.8" cy="409.6" r="1.18" fill="#88409c"/>
<circle cx="252.8" cy="320.0" r="1.18" fill="#873796"/>
<circle cx="214.4" cy="360.7" r="1.18" fill="#62065f"/>
<circle cx="263.3" cy="387.8" r="1.18" fill="#863293"/>
<circle cx="251.6" cy="309.2" r="1.18" fill="#8c7ab8"/>
<circle cx="273.0" cy="411.7" r="1.18" fill="#8c77b7"/>
<circle cx="250.6" cy="352.5" r="1.18" fill="#7d0e78"/>
<circle cx="238.4" cy="409.6" r="1.18" fill="#84248a"/>
<circle cx="225.4" cy="344.6" r="1.18" fill="#8c88bf"/>
<circle cx="249.2" cy="403.9" r="1.18" fill="#8950a4"/>
<circle cx="235.6" cy="417.2" r="1.18" fill="#650761"/>
<circle cx="241.3" cy="343.0" r="1.18" fill="#84288c"/>
<circle cx="235.0" cy="360.6" r="1.18" fill="#710a6d"/>
<circle cx="263.0" cy="333.8" r="1.18" fill="#85298d"/>
<circle cx="236.2" cy="340.6" r="1.18" fill="#852c8f"/>
<circle cx="245.3" cy="415.7" r="1.18" fill="#84268b"/>
<circle cx="214.1" cy="324.1" r="1.18" fill="#710a6d"/>
<circle cx="253.7" cy="387.8" r="1.18" fill="#831d85"/>
<circle cx="263.6" cy="407.1" r="1.18" fill="#7c0e77"/>
<circle cx="261.7" cy="363.3" r="1.18" fill="#8c78b7"/>
<circle cx="260.8" cy="380.7" r="1.18" fill="#88409c"/>
<circle cx="256.9" cy="393.1" r="1.18" fill="#894ea3"/>
<circle cx="253.2" cy="383.1" r="1.18" fill="#88419d"/>
<circle cx="239.7" cy="348.0" r="1.18" fill="#88439e"/>
<circle cx="263.1" cy="348.8" r="1.18" fill="#85298d"/>
<circle cx="229.9" cy="318.9" r="1.18" fill="#894fa4"/>
<circle cx="229.7" cy="396.3" r="1.18" fill="#770c72"/>
<circle cx="261.9" cy="317.7" r="1.18" fill="#84278c"/>
<circle cx="266.1" cy="389.6" r="1.18" fill="#81117e"/>
<circle cx="241.8" cy="418.6" r="1.18" fill="#8948a0"/>
<circle cx="247.2" cy="406.1" r="1.18" fill="#831b84"/>
<circle cx="241.2" cy="405.8" r="1.18" fill="#61065e"/>
<circle cx="233.0" cy="394.5" r="1.18" fill="#580356"/>
<circle cx="263.3" cy="421.4" r="1.18" fill="#800f7b"/>
<circle cx="248.1" cy="328.9" r="1.18" fill="#7a0d76"/>
<circle cx="251.7" cy="335.3" r="1.18" fill="#7c0e77"/>
<circle cx="246.7" cy="419.2" r="1.18" fill="#7d0e78"/>
<circle cx="241.6" cy="413.8" r="1.18" fill="#852f91"/>
<circle cx="247.1" cy="374.2" r="1.18" fill="#7f0f7b"/>
<circle cx="241.6" cy="305.8" r="1.18" fill="#800f7b"/>
<circle cx="259.5" cy="325.9" r="1.18" fill="#8a59a9"/>
<circle cx="245.5" cy="362.9" r="1.18" fill="#7c0e78"/>
<circle cx="231.6" cy="421.6" r="1.18" fill="#821982"/>
<circle cx="254.3" cy="342.7" r="1.18" fill="#60065d"/>
<circle cx="243.8" cy="333.0" r="1.18" fill="#84288c"/>
<circle cx="254.3" cy="390.5" r="1.18" fill="#831a83"/>
<circle cx="260.0" cy="365.3" r="1.18" fill="#6c0968"/>
<circle cx="249.6" cy="349.8" r="1.18" fill="#5d045a"/>
<circle cx="243.4" cy="435.2" r="1.18" fill="#6e0a6a"/>
<circle cx="249.5" cy="344.9" r="1.18" fill="#831e86"/>
<circle cx="246.5" cy="314.2" r="1.18" fill="#7b0d76"/>
<circle cx="221.7" cy="375.0" r="1.18" fill="#81107d"/>
<circle cx="257.8" cy="336.7" r="1.18" fill="#81107d"/>
<circle cx="244.3" cy="384.9" r="1.18" fill="#821680"/>
<circle cx="236.2" cy="430.5" r="1.18" fill="#670864"/>
<circle cx="245.4" cy="407.3" r="1.18" fill="#750b70"/>
<circle cx="241.6" cy="330.9" r="1.18" fill="#750c71"/>
<circle cx="238.5" cy="338.4" r="1.18" fill="#700a6c"/>
<circle cx="238.4" cy="339.1" r="1.18" fill="#821983"/>
<circle cx="262.5" cy="381.5" r="1.18" fill="#800f7b"/>
<circle cx="241.7" cy="393.8" r="1.18" fill="#50014e"/>
<circle cx="218.9" cy="423.0" r="1.18" fill="#4e004c"/>
<circle cx="233.1" cy="431.2" r="1.18" fill="#5d055a"/>
<circle cx="263.4" cy="339.3" r="1.18" fill="#863696"/>
<circle cx="247.9" cy="336.3" r="1.18" fill="#8a57a8"/>
<circle cx="244.5" cy="392.9" r="1.18" fill="#88409c"/>
<circle cx="240.5" cy="415.8" r="1.18" fill="#8b62ad"/>
<circle cx="220.9" cy="423.6" r="1.18" fill="#821580"/>
<circle cx="241.6" cy="436.0" r="1.18" fill="#852b8e"/>
<circle cx="252.6" cy="349.1" r="1.18" fill="#660762"/>
<circle cx="267.4" cy="410.8" r="1.18" fill="#6d0969"/>
<circle cx="247.3" cy="411.8" r="1.18" fill="#81107d"/>
<circle cx="242.1" cy="314.0" r="1.18" fill="#863494"/>
<circle cx="259.9" cy="386.1" r="1.18" fill="#852b8f"/>
<circle cx="230.3" cy="317.7" r="1.18" fill="#720b6e"/>
<circle cx="231.5" cy="390.2" r="1.18" fill="#5c0459"/>
<circle cx="250.2" cy="404.0" r="1.18" fill="#8b62ad"/>
<circle cx="262.1" cy="354.5" r="1.18" fill="#720b6e"/>
<circle cx="263.6" cy="362.9" r="1.18" fill="#640761"/>
<circle cx="213.9" cy="349.1" r="1.18" fill="#650762"/>
<circle cx="254.9" cy="316.8" r="1.18" fill="#670763"/>
<circle cx="251.0" cy="381.3" r="1.18" fill="#81117e"/>
<circle cx="244.6" cy="307.5" r="1.18" fill="#852c8f"/>
<circle cx="246.0" cy="414.7" r="1.18" fill="#894fa4"/>
<circle cx="250.1" cy="399.6" r="1.18" fill="#690865"/>
<circle cx="235.6" cy="343.9" r="1.18" fill="#540252"/>
<circle cx="248.7" cy="345.2" r="1.18" fill="#7a0d75"/>
<circle cx="249.2" cy="402.2" r="1.18" fill="#852e90"/>
<circle cx="225.1" cy="338.2" r="1.18" fill="#670864"/>
<circle cx="265.0" cy="332.3" r="1.18" fill="#831a83"/>
<circle cx="247.1" cy="405.9" r="1.18" fill="#5d055a"/>
<circle cx="261.8" cy="389.6" r="1.18" fill="#6c0969"/>
<circle cx="238.4" cy="417.4" r="1.18" fill="#62065f"/>
<circle cx="262.5" cy="405.5" r="1.18" fill="#720b6e"/>
<circle cx="266.6" cy="408.3" r="1.18" fill="#50014d"/>
<circle cx="227.3" cy="359.7" r="1.18" fill="#670864"/>
<circle cx="259.5" cy="340.3" r="1.18" fill="#832087"/>
<circle cx="244.4" cy="347.3" r="1.18" fill="#6d0969"/>
<circle cx="241.2" cy="403.0" r="1.18" fill="#831c85"/>
<circle cx="253.4" cy="363.8" r="1.18" fill="#520250"/>
<circle cx="240.6" cy="391.6" r="1.18" fill="#5c0459"/>
<circle cx="223.8" cy="407.4" r="1.18" fill="#740b70"/>
<circle cx="240.4" cy="333.6" r="1.18" fill="#580355"/>
<circle cx="266.9" cy="373.7" r="1.18" fill="#51014f"/>
<circle cx="240.9" cy="387.5" r="1.18" fill="#530251"/>
</g>
<rect x="204.80" y="300.00" width="142.40" height="142.90" fill="none" stroke="#000" stroke-width="1.40"/>
<g clip-path="url(#c31)" fill-opacity="0.92">
<circle cx="244.2" cy="528.1" r="1.18" fill="#f2f9fb"/>
<circle cx="227.7" cy="464.2" r="1.18" fill="#e8f1f7"/>
<circle cx="260.9" cy="525.9" r="1.18" fill="#eef6f9"/>
<circle cx="270.9" cy="509.9" r="1.18" fill="#f4fafc"/>
<circle cx="266.0" cy="463.0" r="1.18" fill="#eef6f9"/>
<circle cx="255.0" cy="535.7" r="1.18" fill="#edf5f9"/>
<circle cx="220.5" cy="559.6" r="1.18" fill="#bacfe4"/>
<circle cx="248.2" cy="555.2" r="1.18" fill="#f2f8fb"/>
<circle cx="267.3" cy="540.7" r="1.18" fill="#ecf4f9"/>
<circle cx="274.8" cy="512.6" r="1.18" fill="#f1f8fb"/>
<circle cx="235.1" cy="558.6" r="1.18" fill="#e9f2f7"/>
<circle cx="271.4" cy="482.7" r="1.18" fill="#f2f9fb"/>
<circle cx="275.6" cy="506.0" r="1.18" fill="#f4fafc"/>
<circle cx="228.4" cy="561.5" r="1.18" fill="#f5fafc"/>
<circle cx="259.7" cy="467.3" r="1.18" fill="#edf5f9"/>
<circle cx="274.5" cy="473.2" r="1.18" fill="#e5eff6"/>
<circle cx="273.9" cy="518.6" r="1.18" fill="#f1f8fb"/>
<circle cx="266.0" cy="455.9" r="1.18" fill="#d6e4f0"/>
<circle cx="262.5" cy="466.1" r="1.18" fill="#e9f3f8"/>
<circle cx="275.2" cy="511.9" r="1.18" fill="#eaf3f8"/>
<circle cx="242.8" cy="543.2" r="1.18" fill="#f0f7fa"/>
<circle cx="227.1" cy="563.0" r="1.18" fill="#eaf3f8"/>
<circle cx="265.4" cy="547.1" r="1.18" fill="#f6fbfd"/>
<circle cx="241.2" cy="487.1" r="1.18" fill="#f4fafc"/>
<circle cx="221.4" cy="496.4" r="1.18" fill="#f1f8fb"/>
<circle cx="277.1" cy="454.0" r="1.18" fill="#dae8f1"/>
<circle cx="273.1" cy="517.5" r="1.18" fill="#f1f8fb"/>
<circle cx="209.3" cy="561.7" r="1.18" fill="#edf5f9"/>
<circle cx="236.4" cy="546.9" r="1.18" fill="#f0f7fa"/>
<circle cx="274.5" cy="522.9" r="1.18" fill="#d8e6f1"/>
<circle cx="268.5" cy="543.8" r="1.18" fill="#cedeec"/>
<circle cx="212.0" cy="520.6" r="1.18" fill="#f6fbfd"/>
<circle cx="238.9" cy="475.0" r="1.18" fill="#e3eef5"/>
<circle cx="237.5" cy="562.0" r="1.18" fill="#d7e5f0"/>
<circle cx="247.8" cy="539.5" r="1.18" fill="#e6f0f6"/>
<circle cx="266.1" cy="497.0" r="1.18" fill="#cedeec"/>
<circle cx="220.6" cy="559.6" r="1.18" fill="#edf5f9"/>
<circle cx="256.5" cy="470.8" r="1.18" fill="#d0e0ed"/>
<circle cx="271.9" cy="491.3" r="1.18" fill="#e1edf5"/>
<circle cx="265.6" cy="549.2" r="1.18" fill="#e5eff6"/>
<circle cx="257.0" cy="473.2" r="1.18" fill="#e1edf4"/>
<circle cx="229.1" cy="544.9" r="1.18" fill="#e7f1f7"/>
<circle cx="259.2" cy="543.0" r="1.18" fill="#e4eff6"/>
<circle cx="228.0" cy="543.8" r="1.18" fill="#c2d5e7"/>
<circle cx="272.7" cy="454.4" r="1.18" fill="#f0f7fa"/>
<circle cx="266.6" cy="519.2" r="1.18" fill="#e9f3f8"/>
<circle cx="261.0" cy="547.8" r="1.18" fill="#f1f8fb"/>
<circle cx="263.9" cy="482.3" r="1.18" fill="#e7f1f7"/>
<circle cx="263.6" cy="506.4" r="1.18" fill="#e2edf5"/>
<circle cx="234.4" cy="555.9" r="1.18" fill="#e8f2f7"/>
<circle cx="269.5" cy="505.2" r="1.18" fill="#e6f0f7"/>
<circle cx="249.6" cy="556.3" r="1.18" fill="#e5f0f6"/>
<circle cx="248.7" cy="468.0" r="1.18" fill="#e3eef5"/>
<circle cx="264.5" cy="527.0" r="1.18" fill="#e5f0f6"/>
<circle cx="211.2" cy="566.4" r="1.18" fill="#edf5f9"/>
<circle cx="260.5" cy="537.7" r="1.18" fill="#f3fafc"/>
<circle cx="221.8" cy="524.4" r="1.18" fill="#e3eef5"/>
<circle cx="260.8" cy="459.7" r="1.18" fill="#f3f9fb"/>
<circle cx="241.1" cy="561.0" r="1.18" fill="#e8f1f7"/>
<circle cx="257.6" cy="551.6" r="1.18" fill="#dae7f1"/>
<circle cx="256.0" cy="541.7" r="1.18" fill="#c3d6e8"/>
<circle cx="238.1" cy="498.9" r="1.18" fill="#e8f1f7"/>
<circle cx="244.3" cy="535.0" r="1.18" fill="#f0f7fa"/>
<circle cx="264.6" cy="498.6" r="1.18" fill="#e6f0f6"/>
<circle cx="242.9" cy="549.5" r="1.18" fill="#e1edf4"/>
<circle cx="262.1" cy="469.2" r="1.18" fill="#e7f1f7"/>
<circle cx="250.6" cy="543.7" r="1.18" fill="#cedeec"/>
<circle cx="265.8" cy="498.4" r="1.18" fill="#f4fafc"/>
<circle cx="273.2" cy="529.8" r="1.18" fill="#e0ecf4"/>
<circle cx="257.0" cy="537.7" r="1.18" fill="#eef6f9"/>
<circle cx="275.9" cy="507.5" r="1.18" fill="#f1f8fb"/>
<circle cx="263.3" cy="545.5" r="1.18" fill="#dce9f2"/>
<circle cx="268.8" cy="487.0" r="1.18" fill="#eaf3f8"/>
<circle cx="260.5" cy="544.5" r="1.18" fill="#f2f8fb"/>
<circle cx="219.8" cy="563.6" r="1.18" fill="#f0f7fa"/>
<circle cx="243.2" cy="502.8" r="1.18" fill="#d2e1ee"/>
<circle cx="228.1" cy="563.3" r="1.18" fill="#edf5f9"/>
<circle cx="250.2" cy="515.1" r="1.18" fill="#f0f7fa"/>
<circle cx="241.3" cy="475.6" r="1.18" fill="#f0f7fa"/>
<circle cx="259.8" cy="525.3" r="1.18" fill="#eaf3f8"/>
<circle cx="270.6" cy="458.8" r="1.18" fill="#f7fcfd"/>
<circle cx="251.7" cy="501.0" r="1.18" fill="#e7f1f7"/>
<circle cx="245.1" cy="551.6" r="1.18" fill="#e7f1f7"/>
<circle cx="239.2" cy="515.0" r="1.18" fill="#ecf5f9"/>
<circle cx="263.6" cy="534.0" r="1.18" fill="#f0f7fa"/>
<circle cx="264.4" cy="487.9" r="1.18" fill="#f6fbfd"/>
<circle cx="261.4" cy="544.2" r="1.18" fill="#d1e1ee"/>
<circle cx="242.4" cy="556.3" r="1.18" fill="#f5fbfc"/>
<circle cx="257.9" cy="552.6" r="1.18" fill="#f6fcfd"/>
<circle cx="243.4" cy="490.5" r="1.18" fill="#f7fcfd"/>
<circle cx="243.0" cy="553.5" r="1.18" fill="#d5e4ef"/>
<circle cx="234.7" cy="459.1" r="1.18" fill="#e3eef5"/>
<circle cx="251.2" cy="482.3" r="1.18" fill="#e7f1f7"/>
<circle cx="250.7" cy="461.5" r="1.18" fill="#ddeaf3"/>
<circle cx="275.5" cy="534.2" r="1.18" fill="#f3f9fb"/>
<circle cx="221.2" cy="550.6" r="1.18" fill="#d9e7f1"/>
<circle cx="260.6" cy="535.3" r="1.18" fill="#f5fafc"/>
<circle cx="277.2" cy="526.6" r="1.18" fill="#c9daea"/>
<circle cx="222.5" cy="561.9" r="1.18" fill="#f0f7fa"/>
<circle cx="270.6" cy="509.2" r="1.18" fill="#f0f7fa"/>
<circle cx="265.8" cy="513.7" r="1.18" fill="#e3eef5"/>
<circle cx="249.3" cy="534.1" r="1.18" fill="#d4e3ef"/>
<circle cx="271.7" cy="532.6" r="1.18" fill="#e4eff6"/>
<circle cx="275.6" cy="517.2" r="1.18" fill="#ebf3f8"/>
<circle cx="259.8" cy="456.6" r="1.18" fill="#dde9f3"/>
<circle cx="252.6" cy="549.9" r="1.18" fill="#ebf4f8"/>
<circle cx="265.2" cy="531.0" r="1.18" fill="#e6f0f6"/>
<circle cx="210.6" cy="566.2" r="1.18" fill="#f5fbfc"/>
<circle cx="261.6" cy="454.0" r="1.18" fill="#e5f0f6"/>
<circle cx="219.3" cy="551.0" r="1.18" fill="#f4fafc"/>
<circle cx="268.6" cy="489.6" r="1.18" fill="#dae7f1"/>
<circle cx="218.9" cy="560.9" r="1.18" fill="#deeaf3"/>
<circle cx="239.8" cy="560.3" r="1.18" fill="#e5f0f6"/>
<circle cx="258.6" cy="479.9" r="1.18" fill="#dce9f2"/>
<circle cx="263.5" cy="471.0" r="1.18" fill="#cfdfed"/>
<circle cx="272.0" cy="470.5" r="1.18" fill="#cbdceb"/>
<circle cx="265.2" cy="456.5" r="1.18" fill="#deeaf3"/>
<circle cx="236.0" cy="559.8" r="1.18" fill="#f6fcfd"/>
<circle cx="266.1" cy="462.3" r="1.18" fill="#f7fcfd"/>
<circle cx="245.6" cy="549.9" r="1.18" fill="#e8f1f7"/>
<circle cx="241.0" cy="478.5" r="1.18" fill="#f0f7fa"/>
<circle cx="231.1" cy="562.8" r="1.18" fill="#c6d8e9"/>
<circle cx="272.0" cy="521.6" r="1.18" fill="#d5e3ef"/>
<circle cx="210.6" cy="491.3" r="1.18" fill="#f7fcfd"/>
<circle cx="210.2" cy="565.2" r="1.18" fill="#e6f0f6"/>
<circle cx="265.7" cy="478.4" r="1.18" fill="#e3eef5"/>
<circle cx="274.2" cy="519.2" r="1.18" fill="#f4fafc"/>
<circle cx="276.4" cy="472.8" r="1.18" fill="#f7fcfd"/>
<circle cx="255.6" cy="536.0" r="1.18" fill="#b4cbe2"/>
<circle cx="237.7" cy="542.9" r="1.18" fill="#f2f8fb"/>
<circle cx="241.1" cy="500.9" r="1.18" fill="#eff6fa"/>
<circle cx="275.2" cy="475.5" r="1.18" fill="#f5fbfc"/>
<circle cx="259.0" cy="539.8" r="1.18" fill="#e3eef5"/>
<circle cx="272.9" cy="461.3" r="1.18" fill="#e2edf5"/>
<circle cx="255.3" cy="552.9" r="1.18" fill="#e3eef5"/>
<circle cx="227.2" cy="556.4" r="1.18" fill="#f7fcfd"/>
<circle cx="264.7" cy="486.5" r="1.18" fill="#b7cde3"/>
<circle cx="255.7" cy="486.7" r="1.18" fill="#c5d7e8"/>
<circle cx="247.9" cy="512.6" r="1.18" fill="#dbe8f2"/>
<circle cx="234.6" cy="559.5" r="1.18" fill="#d8e6f0"/>
<circle cx="247.0" cy="556.1" r="1.18" fill="#e9f2f8"/>
<circle cx="270.0" cy="489.5" r="1.18" fill="#eff6fa"/>
<circle cx="236.5" cy="500.3" r="1.18" fill="#d7e5f0"/>
<circle cx="249.5" cy="554.2" r="1.18" fill="#cadbeb"/>
<circle cx="224.2" cy="503.3" r="1.18" fill="#e2edf5"/>
<circle cx="266.1" cy="534.2" r="1.18" fill="#e8f2f7"/>
<circle cx="271.6" cy="520.1" r="1.18" fill="#e3eef5"/>
<circle cx="221.2" cy="497.0" r="1.18" fill="#f0f7fa"/>
<circle cx="273.6" cy="502.2" r="1.18" fill="#d4e3ef"/>
<circle cx="272.6" cy="509.2" r="1.18" fill="#e4eff5"/>
<circle cx="266.3" cy="477.5" r="1.18" fill="#f7fcfd"/>
<circle cx="226.9" cy="562.4" r="1.18" fill="#e8f2f7"/>
<circle cx="276.0" cy="487.1" r="1.18" fill="#e3eef5"/>
<circle cx="259.1" cy="553.2" r="1.18" fill="#b3cae1"/>
<circle cx="267.0" cy="510.4" r="1.18" fill="#e4eff5"/>
<circle cx="212.6" cy="527.5" r="1.18" fill="#f7fcfd"/>
<circle cx="237.1" cy="552.5" r="1.18" fill="#d6e5f0"/>
<circle cx="247.8" cy="460.0" r="1.18" fill="#edf5f9"/>
<circle cx="217.1" cy="544.1" r="1.18" fill="#dfecf4"/>
<circle cx="275.4" cy="503.5" r="1.18" fill="#e6f0f6"/>
<circle cx="255.0" cy="514.6" r="1.18" fill="#ebf4f8"/>
<circle cx="264.2" cy="527.1" r="1.18" fill="#f5fafc"/>
<circle cx="235.1" cy="535.2" r="1.18" fill="#ebf3f8"/>
<circle cx="239.8" cy="559.5" r="1.18" fill="#e4eff5"/>
<circle cx="260.3" cy="551.5" r="1.18" fill="#e7f1f7"/>
<circle cx="245.5" cy="472.1" r="1.18" fill="#d8e6f1"/>
<circle cx="250.0" cy="458.7" r="1.18" fill="#f2f9fb"/>
<circle cx="235.5" cy="465.5" r="1.18" fill="#abc5df"/>
<circle cx="258.8" cy="492.9" r="1.18" fill="#eff6fa"/>
<circle cx="272.1" cy="469.4" r="1.18" fill="#cfdfed"/>
<circle cx="276.1" cy="487.8" r="1.18" fill="#e8f2f7"/>
<circle cx="262.4" cy="530.7" r="1.18" fill="#e6f0f6"/>
<circle cx="212.5" cy="563.3" r="1.18" fill="#bbd0e5"/>
<circle cx="277.2" cy="502.0" r="1.18" fill="#e7f1f7"/>
<circle cx="250.0" cy="460.5" r="1.18" fill="#e1edf5"/>
<circle cx="251.6" cy="483.5" r="1.18" fill="#f3f9fb"/>
<circle cx="267.8" cy="485.7" r="1.18" fill="#f0f7fa"/>
<circle cx="219.6" cy="530.4" r="1.18" fill="#f3fafc"/>
<circle cx="225.0" cy="460.1" r="1.18" fill="#e0ecf4"/>
<circle cx="252.7" cy="480.7" r="1.18" fill="#d0e0ed"/>
<circle cx="274.6" cy="467.7" r="1.18" fill="#eef5f9"/>
<circle cx="273.5" cy="522.0" r="1.18" fill="#f3f9fb"/>
<circle cx="272.8" cy="496.0" r="1.18" fill="#c6d8e9"/>
<circle cx="272.1" cy="476.1" r="1.18" fill="#e5eff6"/>
<circle cx="264.7" cy="550.2" r="1.18" fill="#e1edf5"/>
<circle cx="269.1" cy="532.7" r="1.18" fill="#e3eef5"/>
<circle cx="229.4" cy="561.6" r="1.18" fill="#d3e2ee"/>
<circle cx="214.6" cy="563.2" r="1.18" fill="#dbe9f2"/>
<circle cx="210.5" cy="531.3" r="1.18" fill="#deeaf3"/>
<circle cx="264.5" cy="486.5" r="1.18" fill="#eef6f9"/>
<circle cx="259.4" cy="490.9" r="1.18" fill="#e6f0f6"/>
<circle cx="255.9" cy="455.4" r="1.18" fill="#e2edf5"/>
<circle cx="276.7" cy="518.4" r="1.18" fill="#f3fafc"/>
<circle cx="268.1" cy="486.0" r="1.18" fill="#f5fbfc"/>
<circle cx="247.4" cy="535.7" r="1.18" fill="#f5fafc"/>
<circle cx="276.1" cy="520.0" r="1.18" fill="#c3d6e8"/>
<circle cx="252.4" cy="538.1" r="1.18" fill="#f5fbfc"/>
<circle cx="228.5" cy="543.0" r="1.18" fill="#ccddec"/>
<circle cx="268.5" cy="457.9" r="1.18" fill="#f7fcfd"/>
<circle cx="219.8" cy="484.1" r="1.18" fill="#e5f0f6"/>
<circle cx="252.3" cy="504.9" r="1.18" fill="#e8f1f7"/>
<circle cx="262.8" cy="541.9" r="1.18" fill="#eff6fa"/>
<circle cx="275.2" cy="488.5" r="1.18" fill="#eef5f9"/>
<circle cx="214.6" cy="509.5" r="1.18" fill="#e8f2f7"/>
<circle cx="246.1" cy="475.3" r="1.18" fill="#d1e1ee"/>
<circle cx="274.9" cy="480.9" r="1.18" fill="#e5eff6"/>
<circle cx="218.0" cy="564.3" r="1.18" fill="#e8f1f7"/>
<circle cx="250.0" cy="456.5" r="1.18" fill="#f0f7fa"/>
<circle cx="268.9" cy="545.7" r="1.18" fill="#e5f0f6"/>
<circle cx="257.4" cy="526.9" r="1.18" fill="#c9daea"/>
<circle cx="273.4" cy="503.0" r="1.18" fill="#d5e4ef"/>
<circle cx="244.2" cy="517.4" r="1.18" fill="#ecf4f9"/>
<circle cx="228.2" cy="563.7" r="1.18" fill="#f2f9fb"/>
<circle cx="244.8" cy="488.2" r="1.18" fill="#d7e5f0"/>
<circle cx="216.0" cy="499.8" r="1.18" fill="#f1f8fb"/>
<circle cx="244.5" cy="537.0" r="1.18" fill="#d7e6f0"/>
<circle cx="262.7" cy="552.1" r="1.18" fill="#e5f0f6"/>
<circle cx="256.5" cy="555.2" r="1.18" fill="#eef6fa"/>
<circle cx="259.1" cy="456.9" r="1.18" fill="#eaf3f8"/>
<circle cx="211.3" cy="563.3" r="1.18" fill="#cdddec"/>
<circle cx="215.6" cy="565.0" r="1.18" fill="#dfebf4"/>
<circle cx="262.3" cy="509.6" r="1.18" fill="#dbe8f2"/>
<circle cx="274.7" cy="503.4" r="1.18" fill="#e1edf4"/>
<circle cx="263.0" cy="539.0" r="1.18" fill="#f4fafc"/>
<circle cx="262.4" cy="531.4" r="1.18" fill="#cfdfed"/>
<circle cx="212.9" cy="562.3" r="1.18" fill="#d1e0ee"/>
<circle cx="257.2" cy="554.9" r="1.18" fill="#a4c0dc"/>
<circle cx="262.3" cy="512.1" r="1.18" fill="#dae8f2"/>
<circle cx="245.5" cy="559.3" r="1.18" fill="#b3cbe2"/>
<circle cx="273.9" cy="518.9" r="1.18" fill="#f5fbfc"/>
<circle cx="254.1" cy="556.0" r="1.18" fill="#dbe8f2"/>
<circle cx="221.4" cy="562.3" r="1.18" fill="#e0ecf4"/>
<circle cx="262.5" cy="550.1" r="1.18" fill="#ebf4f8"/>
<circle cx="235.5" cy="463.8" r="1.18" fill="#d8e6f1"/>
<circle cx="232.6" cy="490.9" r="1.18" fill="#f1f8fb"/>
<circle cx="243.4" cy="497.3" r="1.18" fill="#c8daea"/>
<circle cx="233.1" cy="511.2" r="1.18" fill="#99b1d4"/>
<circle cx="255.5" cy="515.2" r="1.18" fill="#d3e2ef"/>
<circle cx="265.4" cy="549.2" r="1.18" fill="#f1f8fb"/>
<circle cx="265.5" cy="536.3" r="1.18" fill="#edf5f9"/>
<circle cx="239.0" cy="518.8" r="1.18" fill="#c5d8e9"/>
<circle cx="245.6" cy="510.4" r="1.18" fill="#bfd3e6"/>
<circle cx="273.8" cy="528.9" r="1.18" fill="#e2edf5"/>
<circle cx="221.3" cy="544.4" r="1.18" fill="#e7f1f7"/>
<circle cx="263.7" cy="497.3" r="1.18" fill="#aec7e0"/>
<circle cx="266.6" cy="525.3" r="1.18" fill="#e0ecf4"/>
<circle cx="258.7" cy="530.5" r="1.18" fill="#d5e3ef"/>
<circle cx="253.2" cy="557.2" r="1.18" fill="#cadbeb"/>
<circle cx="262.1" cy="497.7" r="1.18" fill="#aec7e0"/>
<circle cx="262.2" cy="514.3" r="1.18" fill="#c8daea"/>
<circle cx="269.5" cy="546.2" r="1.18" fill="#dce9f2"/>
<circle cx="259.0" cy="541.9" r="1.18" fill="#deeaf3"/>
<circle cx="222.7" cy="473.4" r="1.18" fill="#edf5f9"/>
<circle cx="255.9" cy="540.2" r="1.18" fill="#e1ecf4"/>
<circle cx="267.7" cy="494.0" r="1.18" fill="#b6cde3"/>
<circle cx="272.2" cy="540.4" r="1.18" fill="#e1edf4"/>
<circle cx="271.2" cy="495.1" r="1.18" fill="#bfd3e6"/>
<circle cx="216.6" cy="563.4" r="1.18" fill="#c0d4e7"/>
<circle cx="248.0" cy="472.5" r="1.18" fill="#f6fbfd"/>
<circle cx="259.6" cy="543.9" r="1.18" fill="#ccddec"/>
<circle cx="238.4" cy="503.5" r="1.18" fill="#a4c0dc"/>
<circle cx="225.4" cy="562.0" r="1.18" fill="#d0e0ed"/>
<circle cx="253.1" cy="540.6" r="1.18" fill="#ddeaf3"/>
<circle cx="229.3" cy="454.1" r="1.18" fill="#cfdfed"/>
<circle cx="244.3" cy="559.3" r="1.18" fill="#e1ecf4"/>
<circle cx="270.6" cy="479.4" r="1.18" fill="#cadceb"/>
<circle cx="275.0" cy="534.5" r="1.18" fill="#f5fafc"/>
<circle cx="268.3" cy="471.4" r="1.18" fill="#e8f2f7"/>
<circle cx="245.8" cy="480.7" r="1.18" fill="#bed2e6"/>
<circle cx="263.0" cy="460.5" r="1.18" fill="#bdd1e5"/>
<circle cx="250.7" cy="493.9" r="1.18" fill="#eef6fa"/>
<circle cx="268.9" cy="465.7" r="1.18" fill="#e7f1f7"/>
<circle cx="270.8" cy="455.8" r="1.18" fill="#e0ecf4"/>
<circle cx="276.1" cy="513.1" r="1.18" fill="#ccddeb"/>
<circle cx="242.1" cy="557.3" r="1.18" fill="#cadbeb"/>
<circle cx="261.3" cy="550.0" r="1.18" fill="#eaf3f8"/>
<circle cx="240.2" cy="557.5" r="1.18" fill="#afc8e0"/>
<circle cx="252.4" cy="554.2" r="1.18" fill="#cedeec"/>
<circle cx="247.4" cy="501.9" r="1.18" fill="#c0d4e7"/>
<circle cx="263.3" cy="547.9" r="1.18" fill="#d0e0ed"/>
<circle cx="254.1" cy="554.6" r="1.18" fill="#bbd0e5"/>
<circle cx="277.7" cy="472.6" r="1.18" fill="#e9f2f7"/>
<circle cx="251.2" cy="550.9" r="1.18" fill="#c8daea"/>
<circle cx="271.5" cy="528.1" r="1.18" fill="#f0f7fa"/>
<circle cx="228.4" cy="563.3" r="1.18" fill="#e8f1f7"/>
<circle cx="218.8" cy="564.8" r="1.18" fill="#c6d8e9"/>
<circle cx="258.4" cy="456.4" r="1.18" fill="#cadbeb"/>
<circle cx="265.0" cy="505.4" r="1.18" fill="#edf5f9"/>
<circle cx="235.8" cy="537.7" r="1.18" fill="#cadbea"/>
<circle cx="272.9" cy="529.7" r="1.18" fill="#b7cee3"/>
<circle cx="271.6" cy="485.4" r="1.18" fill="#d2e1ee"/>
<circle cx="265.6" cy="525.8" r="1.18" fill="#d3e2ee"/>
<circle cx="271.5" cy="503.1" r="1.18" fill="#f2f9fb"/>
<circle cx="252.9" cy="486.8" r="1.18" fill="#eaf3f8"/>
<circle cx="267.0" cy="523.0" r="1.18" fill="#e5f0f6"/>
<circle cx="253.8" cy="538.5" r="1.18" fill="#ddeaf3"/>
<circle cx="260.1" cy="467.0" r="1.18" fill="#f5fafc"/>
<circle cx="261.5" cy="496.4" r="1.18" fill="#d0e0ed"/>
<circle cx="224.2" cy="515.0" r="1.18" fill="#c7d9e9"/>
<circle cx="242.9" cy="546.1" r="1.18" fill="#adc7e0"/>
<circle cx="266.5" cy="454.4" r="1.18" fill="#dbe8f2"/>
<circle cx="274.6" cy="453.8" r="1.18" fill="#c9daea"/>
<circle cx="259.0" cy="549.2" r="1.18" fill="#dfebf4"/>
<circle cx="212.8" cy="563.6" r="1.18" fill="#c8daea"/>
<circle cx="249.8" cy="557.9" r="1.18" fill="#dae7f1"/>
<circle cx="239.1" cy="517.1" r="1.18" fill="#adc7e0"/>
<circle cx="255.5" cy="510.8" r="1.18" fill="#b7cde3"/>
<circle cx="247.7" cy="541.4" r="1.18" fill="#cfdfed"/>
<circle cx="266.5" cy="506.0" r="1.18" fill="#f4fafc"/>
<circle cx="228.3" cy="459.8" r="1.18" fill="#eff6fa"/>
<circle cx="220.6" cy="563.6" r="1.18" fill="#d6e4f0"/>
<circle cx="211.9" cy="564.0" r="1.18" fill="#d6e4f0"/>
<circle cx="268.4" cy="498.6" r="1.18" fill="#a9c3de"/>
<circle cx="242.3" cy="460.5" r="1.18" fill="#bbd0e4"/>
<circle cx="214.8" cy="563.1" r="1.18" fill="#e5f0f6"/>
<circle cx="264.8" cy="538.1" r="1.18" fill="#eaf3f8"/>
<circle cx="254.6" cy="470.6" r="1.18" fill="#d9e7f1"/>
<circle cx="238.8" cy="560.3" r="1.18" fill="#cddeec"/>
<circle cx="258.0" cy="553.7" r="1.18" fill="#c9daea"/>
<circle cx="245.7" cy="557.4" r="1.18" fill="#b4cce2"/>
<circle cx="264.9" cy="483.3" r="1.18" fill="#aec7e0"/>
<circle cx="264.7" cy="475.9" r="1.18" fill="#b2cae1"/>
<circle cx="257.6" cy="527.5" r="1.18" fill="#dce9f2"/>
<circle cx="228.9" cy="550.4" r="1.18" fill="#abc5df"/>
<circle cx="234.8" cy="560.7" r="1.18" fill="#d9e7f1"/>
<circle cx="269.4" cy="518.5" r="1.18" fill="#abc5df"/>
<circle cx="273.3" cy="534.4" r="1.18" fill="#ccddeb"/>
<circle cx="222.3" cy="469.8" r="1.18" fill="#b0c8e0"/>
<circle cx="238.6" cy="517.2" r="1.18" fill="#bfd3e6"/>
<circle cx="250.1" cy="456.8" r="1.18" fill="#e3eef5"/>
<circle cx="263.4" cy="552.0" r="1.18" fill="#9fbdda"/>
<circle cx="252.8" cy="546.6" r="1.18" fill="#aec7e0"/>
<circle cx="268.7" cy="545.0" r="1.18" fill="#97add2"/>
<circle cx="268.0" cy="512.6" r="1.18" fill="#b8cee3"/>
<circle cx="274.0" cy="482.7" r="1.18" fill="#e3eef5"/>
<circle cx="257.9" cy="483.7" r="1.18" fill="#cadceb"/>
<circle cx="263.8" cy="536.1" r="1.18" fill="#d3e2ee"/>
<circle cx="268.3" cy="546.7" r="1.18" fill="#b6cde3"/>
<circle cx="259.0" cy="554.2" r="1.18" fill="#bcd1e5"/>
<circle cx="262.4" cy="485.1" r="1.18" fill="#d1e1ee"/>
<circle cx="228.9" cy="561.5" r="1.18" fill="#d9e7f1"/>
<circle cx="260.4" cy="531.0" r="1.18" fill="#f3f9fb"/>
<circle cx="270.0" cy="542.3" r="1.18" fill="#c8daea"/>
<circle cx="266.4" cy="523.6" r="1.18" fill="#9cb7d8"/>
<circle cx="212.1" cy="564.5" r="1.18" fill="#d7e5f0"/>
<circle cx="257.9" cy="456.8" r="1.18" fill="#b4cce2"/>
<circle cx="265.4" cy="477.8" r="1.18" fill="#b7cde3"/>
<circle cx="235.4" cy="522.6" r="1.18" fill="#eff7fa"/>
<circle cx="267.3" cy="459.7" r="1.18" fill="#e3eef5"/>
<circle cx="251.8" cy="480.3" r="1.18" fill="#c0d4e6"/>
<circle cx="271.3" cy="502.4" r="1.18" fill="#aac4de"/>
<circle cx="265.8" cy="460.5" r="1.18" fill="#dae7f1"/>
<circle cx="256.5" cy="556.0" r="1.18" fill="#f0f7fa"/>
<circle cx="218.4" cy="512.7" r="1.18" fill="#ecf4f9"/>
<circle cx="235.9" cy="555.9" r="1.18" fill="#a7c3dd"/>
<circle cx="240.6" cy="550.9" r="1.18" fill="#d5e4ef"/>
<circle cx="262.3" cy="540.1" r="1.18" fill="#9ab5d6"/>
<circle cx="221.0" cy="559.5" r="1.18" fill="#93a5ce"/>
<circle cx="269.5" cy="492.5" r="1.18" fill="#e6f0f6"/>
<circle cx="258.6" cy="544.8" r="1.18" fill="#dbe8f2"/>
<circle cx="267.6" cy="546.8" r="1.18" fill="#b9cfe4"/>
<circle cx="252.0" cy="461.6" r="1.18" fill="#b0c8e0"/>
<circle cx="254.7" cy="553.7" r="1.18" fill="#c7d9e9"/>
<circle cx="270.5" cy="531.8" r="1.18" fill="#dae7f1"/>
<circle cx="264.0" cy="547.9" r="1.18" fill="#d2e2ee"/>
<circle cx="259.4" cy="456.6" r="1.18" fill="#d6e4f0"/>
<circle cx="264.8" cy="533.1" r="1.18" fill="#dce9f2"/>
<circle cx="276.4" cy="519.1" r="1.18" fill="#e7f1f7"/>
<circle cx="259.6" cy="554.1" r="1.18" fill="#d0e0ed"/>
<circle cx="217.3" cy="563.5" r="1.18" fill="#dae8f1"/>
<circle cx="256.6" cy="556.2" r="1.18" fill="#a4c0dc"/>
<circle cx="214.1" cy="565.8" r="1.18" fill="#b7cde3"/>
<circle cx="238.4" cy="561.3" r="1.18" fill="#c2d5e7"/>
<circle cx="246.0" cy="557.0" r="1.18" fill="#b8cee3"/>
<circle cx="273.3" cy="486.5" r="1.18" fill="#c4d7e8"/>
<circle cx="270.4" cy="459.9" r="1.18" fill="#e2eef5"/>
<circle cx="245.5" cy="535.6" r="1.18" fill="#dbe9f2"/>
<circle cx="226.5" cy="559.9" r="1.18" fill="#c6d8e9"/>
<circle cx="243.5" cy="514.4" r="1.18" fill="#d3e2ee"/>
<circle cx="264.8" cy="532.3" r="1.18" fill="#ccddeb"/>
<circle cx="244.0" cy="507.6" r="1.18" fill="#bed2e5"/>
<circle cx="212.0" cy="566.1" r="1.18" fill="#b8cee3"/>
<circle cx="257.4" cy="554.9" r="1.18" fill="#cbdceb"/>
<circle cx="225.1" cy="562.4" r="1.18" fill="#c7d9e9"/>
<circle cx="267.7" cy="462.3" r="1.18" fill="#9bb6d7"/>
<circle cx="245.4" cy="453.8" r="1.18" fill="#9ebcda"/>
<circle cx="268.9" cy="545.5" r="1.18" fill="#b0c9e1"/>
<circle cx="270.1" cy="506.3" r="1.18" fill="#c1d5e7"/>
<circle cx="250.0" cy="556.1" r="1.18" fill="#e1edf4"/>
<circle cx="248.3" cy="516.3" r="1.18" fill="#abc5df"/>
<circle cx="250.6" cy="556.3" r="1.18" fill="#d9e6f1"/>
<circle cx="258.8" cy="458.2" r="1.18" fill="#d6e5f0"/>
<circle cx="224.4" cy="489.0" r="1.18" fill="#dce9f2"/>
<circle cx="237.3" cy="561.8" r="1.18" fill="#c5d7e8"/>
<circle cx="261.1" cy="551.2" r="1.18" fill="#e1edf4"/>
<circle cx="250.4" cy="532.7" r="1.18" fill="#d5e4ef"/>
<circle cx="243.4" cy="499.7" r="1.18" fill="#f1f8fa"/>
<circle cx="230.9" cy="527.3" r="1.18" fill="#c6d8e9"/>
<circle cx="228.2" cy="562.9" r="1.18" fill="#e2eef5"/>
<circle cx="245.8" cy="514.7" r="1.18" fill="#c2d5e7"/>
<circle cx="268.8" cy="507.5" r="1.18" fill="#ebf3f8"/>
<circle cx="236.1" cy="560.2" r="1.18" fill="#ccddeb"/>
<circle cx="273.7" cy="532.4" r="1.18" fill="#cadceb"/>
<circle cx="273.0" cy="537.6" r="1.18" fill="#bbd0e5"/>
<circle cx="271.7" cy="536.8" r="1.18" fill="#c5d8e9"/>
<circle cx="245.7" cy="558.2" r="1.18" fill="#deebf3"/>
<circle cx="257.7" cy="532.2" r="1.18" fill="#cedfed"/>
<circle cx="222.6" cy="563.0" r="1.18" fill="#97add2"/>
<circle cx="257.3" cy="506.1" r="1.18" fill="#bbd0e4"/>
<circle cx="239.3" cy="501.0" r="1.18" fill="#d2e1ee"/>
<circle cx="240.8" cy="560.1" r="1.18" fill="#c2d5e7"/>
<circle cx="267.2" cy="544.2" r="1.18" fill="#c7d9ea"/>
<circle cx="252.2" cy="550.6" r="1.18" fill="#99b0d4"/>
<circle cx="252.7" cy="534.1" r="1.18" fill="#d5e4ef"/>
<circle cx="271.6" cy="480.3" r="1.18" fill="#d9e7f1"/>
<circle cx="246.9" cy="463.0" r="1.18" fill="#b4cbe2"/>
<circle cx="236.4" cy="540.1" r="1.18" fill="#e6f0f6"/>
<circle cx="235.0" cy="523.8" r="1.18" fill="#e3eef5"/>
<circle cx="258.1" cy="554.9" r="1.18" fill="#d4e3ef"/>
<circle cx="250.7" cy="506.7" r="1.18" fill="#d5e4ef"/>
<circle cx="239.2" cy="459.4" r="1.18" fill="#e3eef5"/>
<circle cx="264.4" cy="551.3" r="1.18" fill="#e5eff6"/>
<circle cx="232.7" cy="466.1" r="1.18" fill="#b3cbe2"/>
<circle cx="215.1" cy="562.3" r="1.18" fill="#f1f8fb"/>
<circle cx="267.7" cy="522.2" r="1.18" fill="#bacfe4"/>
<circle cx="255.8" cy="478.0" r="1.18" fill="#c4d7e8"/>
<circle cx="247.9" cy="460.8" r="1.18" fill="#ccdceb"/>
<circle cx="255.1" cy="555.2" r="1.18" fill="#d1e0ee"/>
<circle cx="266.8" cy="504.1" r="1.18" fill="#bcd1e5"/>
<circle cx="259.6" cy="551.5" r="1.18" fill="#e2edf5"/>
<circle cx="270.8" cy="456.9" r="1.18" fill="#d5e4ef"/>
<circle cx="254.2" cy="554.7" r="1.18" fill="#cfdfed"/>
<circle cx="242.2" cy="558.4" r="1.18" fill="#c6d8e9"/>
<circle cx="219.0" cy="508.7" r="1.18" fill="#b0c9e1"/>
<circle cx="262.1" cy="552.3" r="1.18" fill="#c9dbea"/>
<circle cx="261.7" cy="526.6" r="1.18" fill="#aec7e0"/>
<circle cx="260.8" cy="488.3" r="1.18" fill="#d9e7f1"/>
<circle cx="250.7" cy="556.3" r="1.18" fill="#c2d5e7"/>
<circle cx="259.4" cy="470.6" r="1.18" fill="#cedeec"/>
<circle cx="269.3" cy="514.9" r="1.18" fill="#bacfe4"/>
<circle cx="271.7" cy="479.7" r="1.18" fill="#d0e0ed"/>
<circle cx="241.3" cy="560.6" r="1.18" fill="#b6cde3"/>
<circle cx="253.7" cy="556.1" r="1.18" fill="#dbe8f2"/>
<circle cx="268.3" cy="541.3" r="1.18" fill="#cfdfed"/>
<circle cx="261.5" cy="533.7" r="1.18" fill="#cfdfed"/>
<circle cx="218.6" cy="552.7" r="1.18" fill="#b9cfe4"/>
<circle cx="217.8" cy="562.9" r="1.18" fill="#dde9f3"/>
<circle cx="234.1" cy="508.1" r="1.18" fill="#bcd1e5"/>
<circle cx="251.8" cy="557.5" r="1.18" fill="#bbd0e5"/>
<circle cx="246.2" cy="559.0" r="1.18" fill="#c8daea"/>
<circle cx="272.8" cy="486.3" r="1.18" fill="#ddeaf3"/>
<circle cx="267.1" cy="493.6" r="1.18" fill="#abc5df"/>
<circle cx="228.0" cy="562.4" r="1.18" fill="#cfdfed"/>
<circle cx="231.5" cy="483.1" r="1.18" fill="#a5c1dd"/>
<circle cx="228.5" cy="478.6" r="1.18" fill="#eaf3f8"/>
<circle cx="240.0" cy="557.2" r="1.18" fill="#dae7f1"/>
<circle cx="257.1" cy="550.2" r="1.18" fill="#a8c3dd"/>
<circle cx="259.0" cy="507.8" r="1.18" fill="#c7d9e9"/>
<circle cx="270.1" cy="473.5" r="1.18" fill="#a1bedb"/>
<circle cx="274.1" cy="532.5" r="1.18" fill="#a3bfdc"/>
<circle cx="237.9" cy="508.6" r="1.18" fill="#c8daea"/>
<circle cx="239.4" cy="469.3" r="1.18" fill="#c8daea"/>
<circle cx="241.5" cy="557.1" r="1.18" fill="#b0c8e0"/>
<circle cx="255.4" cy="554.1" r="1.18" fill="#b4cce2"/>
<circle cx="228.2" cy="525.7" r="1.18" fill="#cddeec"/>
<circle cx="248.2" cy="519.8" r="1.18" fill="#b6cde3"/>
<circle cx="267.5" cy="475.5" r="1.18" fill="#d9e7f1"/>
<circle cx="242.0" cy="559.4" r="1.18" fill="#ebf3f8"/>
<circle cx="250.3" cy="492.5" r="1.18" fill="#9dbad9"/>
<circle cx="275.7" cy="499.3" r="1.18" fill="#d6e5f0"/>
<circle cx="276.5" cy="471.2" r="1.18" fill="#dfebf4"/>
<circle cx="249.6" cy="486.9" r="1.18" fill="#eaf3f8"/>
<circle cx="267.1" cy="518.7" r="1.18" fill="#c0d4e6"/>
<circle cx="231.1" cy="561.7" r="1.18" fill="#afc8e0"/>
<circle cx="239.7" cy="561.1" r="1.18" fill="#adc7df"/>
<circle cx="272.5" cy="513.3" r="1.18" fill="#ccddec"/>
<circle cx="214.2" cy="493.9" r="1.18" fill="#deeaf3"/>
<circle cx="256.8" cy="554.3" r="1.18" fill="#c1d4e7"/>
<circle cx="215.6" cy="487.6" r="1.18" fill="#a1bedb"/>
<circle cx="248.1" cy="509.3" r="1.18" fill="#dbe8f2"/>
<circle cx="249.7" cy="498.6" r="1.18" fill="#9bb6d7"/>
<circle cx="215.8" cy="466.7" r="1.18" fill="#9dbad9"/>
<circle cx="226.9" cy="562.4" r="1.18" fill="#b2cae1"/>
<circle cx="215.6" cy="564.0" r="1.18" fill="#a6c2dd"/>
<circle cx="236.6" cy="469.6" r="1.18" fill="#8c90c3"/>
<circle cx="247.9" cy="507.7" r="1.18" fill="#a8c3de"/>
<circle cx="273.2" cy="539.1" r="1.18" fill="#d0e0ed"/>
<circle cx="277.0" cy="462.1" r="1.18" fill="#c3d6e8"/>
<circle cx="249.4" cy="557.8" r="1.18" fill="#d9e7f1"/>
<circle cx="249.2" cy="496.3" r="1.18" fill="#dae7f1"/>
<circle cx="273.7" cy="537.3" r="1.18" fill="#c2d5e7"/>
<circle cx="247.2" cy="490.9" r="1.18" fill="#b7cde3"/>
<circle cx="269.2" cy="527.9" r="1.18" fill="#92a3cd"/>
<circle cx="221.3" cy="561.5" r="1.18" fill="#acc6df"/>
<circle cx="246.5" cy="471.0" r="1.18" fill="#b9cfe4"/>
<circle cx="257.6" cy="532.2" r="1.18" fill="#b1cae1"/>
<circle cx="239.9" cy="538.8" r="1.18" fill="#a8c3de"/>
<circle cx="242.2" cy="505.5" r="1.18" fill="#c6d9e9"/>
<circle cx="272.8" cy="473.0" r="1.18" fill="#c3d6e8"/>
<circle cx="260.0" cy="541.6" r="1.18" fill="#bcd1e5"/>
<circle cx="269.9" cy="466.1" r="1.18" fill="#f2f9fb"/>
<circle cx="259.3" cy="473.3" r="1.18" fill="#a3c0dc"/>
<circle cx="250.4" cy="533.5" r="1.18" fill="#b4cbe2"/>
<circle cx="257.6" cy="483.5" r="1.18" fill="#f0f7fa"/>
<circle cx="249.7" cy="557.9" r="1.18" fill="#c3d6e8"/>
<circle cx="250.3" cy="470.1" r="1.18" fill="#cadbea"/>
<circle cx="261.3" cy="497.4" r="1.18" fill="#9dbad9"/>
<circle cx="218.5" cy="557.5" r="1.18" fill="#a8c3de"/>
<circle cx="257.2" cy="540.4" r="1.18" fill="#adc6df"/>
<circle cx="236.8" cy="553.0" r="1.18" fill="#91a0cb"/>
<circle cx="259.7" cy="554.5" r="1.18" fill="#c1d5e7"/>
<circle cx="250.9" cy="505.0" r="1.18" fill="#e9f2f7"/>
<circle cx="238.5" cy="557.4" r="1.18" fill="#94a7cf"/>
<circle cx="273.0" cy="499.8" r="1.18" fill="#d0e0ed"/>
<circle cx="255.2" cy="482.3" r="1.18" fill="#94a7cf"/>
<circle cx="238.7" cy="478.2" r="1.18" fill="#a4c0dc"/>
<circle cx="276.0" cy="457.8" r="1.18" fill="#b2cae1"/>
<circle cx="228.3" cy="531.0" r="1.18" fill="#cadceb"/>
<circle cx="239.3" cy="458.0" r="1.18" fill="#d4e3ef"/>
<circle cx="237.0" cy="555.6" r="1.18" fill="#a2bfdb"/>
<circle cx="229.1" cy="524.7" r="1.18" fill="#eef5f9"/>
<circle cx="254.2" cy="548.7" r="1.18" fill="#9ebbda"/>
<circle cx="230.4" cy="558.8" r="1.18" fill="#cadceb"/>
<circle cx="214.9" cy="558.8" r="1.18" fill="#abc5df"/>
<circle cx="242.0" cy="463.6" r="1.18" fill="#a7c2dd"/>
<circle cx="240.0" cy="460.4" r="1.18" fill="#9fbcda"/>
<circle cx="257.7" cy="467.3" r="1.18" fill="#d7e5f0"/>
<circle cx="221.8" cy="560.1" r="1.18" fill="#b9cfe4"/>
<circle cx="247.1" cy="552.6" r="1.18" fill="#b6cde3"/>
<circle cx="257.7" cy="482.3" r="1.18" fill="#91a1cc"/>
<circle cx="225.1" cy="457.0" r="1.18" fill="#a9c4de"/>
<circle cx="270.9" cy="491.8" r="1.18" fill="#b6cde3"/>
<circle cx="258.4" cy="554.6" r="1.18" fill="#9ebbda"/>
<circle cx="213.4" cy="517.8" r="1.18" fill="#8c8fc3"/>
<circle cx="213.6" cy="465.4" r="1.18" fill="#9ebcda"/>
<circle cx="262.5" cy="492.6" r="1.18" fill="#ccddec"/>
<circle cx="259.1" cy="474.7" r="1.18" fill="#d2e2ee"/>
<circle cx="236.7" cy="560.3" r="1.18" fill="#c5d7e8"/>
<circle cx="265.4" cy="492.9" r="1.18" fill="#bbd0e5"/>
<circle cx="229.0" cy="560.4" r="1.18" fill="#b4cbe2"/>
<circle cx="256.1" cy="457.2" r="1.18" fill="#bcd1e5"/>
<circle cx="219.9" cy="521.3" r="1.18" fill="#b0c9e1"/>
<circle cx="238.9" cy="500.6" r="1.18" fill="#8c80bb"/>
<circle cx="240.8" cy="556.7" r="1.18" fill="#94a7cf"/>
<circle cx="263.6" cy="497.1" r="1.18" fill="#eff7fa"/>
<circle cx="254.9" cy="554.2" r="1.18" fill="#c3d6e8"/>
<circle cx="242.0" cy="557.5" r="1.18" fill="#8c96c6"/>
<circle cx="247.6" cy="505.4" r="1.18" fill="#d1e0ed"/>
<circle cx="273.5" cy="466.6" r="1.18" fill="#8c96c6"/>
<circle cx="238.5" cy="458.6" r="1.18" fill="#c2d5e7"/>
<circle cx="233.7" cy="524.2" r="1.18" fill="#909eca"/>
<circle cx="273.2" cy="506.3" r="1.18" fill="#cfdfed"/>
<circle cx="252.0" cy="476.7" r="1.18" fill="#c3d6e8"/>
<circle cx="274.5" cy="516.6" r="1.18" fill="#c3d6e8"/>
<circle cx="267.8" cy="480.8" r="1.18" fill="#c1d5e7"/>
<circle cx="269.6" cy="511.2" r="1.18" fill="#9dbad9"/>
<circle cx="214.2" cy="565.6" r="1.18" fill="#99b1d4"/>
<circle cx="244.9" cy="483.2" r="1.18" fill="#b0c8e0"/>
<circle cx="221.3" cy="480.2" r="1.18" fill="#b8cee3"/>
<circle cx="263.9" cy="479.8" r="1.18" fill="#a3c0dc"/>
<circle cx="231.3" cy="560.2" r="1.18" fill="#c6d9e9"/>
<circle cx="244.4" cy="559.9" r="1.18" fill="#93a4ce"/>
<circle cx="271.2" cy="532.3" r="1.18" fill="#b8cee3"/>
<circle cx="257.1" cy="554.6" r="1.18" fill="#99b2d5"/>
<circle cx="261.0" cy="466.2" r="1.18" fill="#d2e2ee"/>
<circle cx="258.5" cy="549.7" r="1.18" fill="#a9c4de"/>
<circle cx="271.9" cy="463.9" r="1.18" fill="#abc5df"/>
<circle cx="247.1" cy="465.1" r="1.18" fill="#9cb8d8"/>
<circle cx="273.5" cy="506.0" r="1.18" fill="#a5c1dd"/>
<circle cx="269.6" cy="500.2" r="1.18" fill="#e4eff5"/>
<circle cx="235.6" cy="561.1" r="1.18" fill="#a5c1dc"/>
<circle cx="246.3" cy="537.1" r="1.18" fill="#c6d8e9"/>
<circle cx="234.7" cy="469.9" r="1.18" fill="#a1bedb"/>
<circle cx="238.8" cy="542.0" r="1.18" fill="#aec7e0"/>
<circle cx="224.5" cy="557.9" r="1.18" fill="#8f9cc9"/>
<circle cx="261.3" cy="553.4" r="1.18" fill="#a8c3dd"/>
<circle cx="247.5" cy="555.4" r="1.18" fill="#96abd1"/>
<circle cx="266.2" cy="512.8" r="1.18" fill="#b6cde3"/>
<circle cx="269.6" cy="544.8" r="1.18" fill="#b6cde3"/>
<circle cx="261.4" cy="479.4" r="1.18" fill="#afc8e0"/>
<circle cx="244.2" cy="547.0" r="1.18" fill="#b2cae1"/>
<circle cx="247.4" cy="551.2" r="1.18" fill="#c1d4e7"/>
<circle cx="234.9" cy="561.1" r="1.18" fill="#a0bedb"/>
<circle cx="259.5" cy="546.4" r="1.18" fill="#95a9d0"/>
<circle cx="257.6" cy="550.2" r="1.18" fill="#cedeec"/>
<circle cx="258.0" cy="550.7" r="1.18" fill="#9cb8d8"/>
<circle cx="247.3" cy="535.6" r="1.18" fill="#a0bddb"/>
<circle cx="239.2" cy="559.2" r="1.18" fill="#909fcb"/>
<circle cx="264.5" cy="551.5" r="1.18" fill="#8c90c3"/>
<circle cx="244.6" cy="543.1" r="1.18" fill="#a4c0dc"/>
<circle cx="224.4" cy="557.1" r="1.18" fill="#b6cde3"/>
<circle cx="255.5" cy="465.5" r="1.18" fill="#d6e5f0"/>
<circle cx="254.7" cy="541.1" r="1.18" fill="#9bb6d7"/>
<circle cx="228.7" cy="561.5" r="1.18" fill="#b0c8e0"/>
<circle cx="244.8" cy="544.8" r="1.18" fill="#b0c8e0"/>
<circle cx="251.5" cy="534.3" r="1.18" fill="#aec7e0"/>
<circle cx="272.6" cy="477.2" r="1.18" fill="#a8c3de"/>
<circle cx="241.5" cy="530.8" r="1.18" fill="#acc6df"/>
<circle cx="260.0" cy="551.7" r="1.18" fill="#a9c4de"/>
<circle cx="256.7" cy="504.9" r="1.18" fill="#a8c3de"/>
<circle cx="239.2" cy="559.4" r="1.18" fill="#a8c3de"/>
<circle cx="214.4" cy="562.2" r="1.18" fill="#98afd3"/>
<circle cx="277.1" cy="458.3" r="1.18" fill="#e4eff5"/>
<circle cx="253.0" cy="555.3" r="1.18" fill="#9ebbda"/>
<circle cx="263.0" cy="511.0" r="1.18" fill="#c3d6e8"/>
<circle cx="247.1" cy="482.1" r="1.18" fill="#909eca"/>
<circle cx="272.1" cy="483.6" r="1.18" fill="#909eca"/>
<circle cx="267.6" cy="453.9" r="1.18" fill="#97add2"/>
<circle cx="227.0" cy="560.7" r="1.18" fill="#b9cfe4"/>
<circle cx="242.8" cy="504.2" r="1.18" fill="#9ab4d6"/>
<circle cx="211.7" cy="559.9" r="1.18" fill="#8c93c4"/>
<circle cx="251.3" cy="455.8" r="1.18" fill="#a3c0dc"/>
<circle cx="232.4" cy="546.5" r="1.18" fill="#909eca"/>
<circle cx="260.2" cy="548.5" r="1.18" fill="#9ebbda"/>
<circle cx="260.8" cy="552.3" r="1.18" fill="#b4cbe2"/>
<circle cx="235.3" cy="533.8" r="1.18" fill="#8c88bf"/>
<circle cx="214.0" cy="562.1" r="1.18" fill="#99b2d5"/>
<circle cx="255.8" cy="551.5" r="1.18" fill="#9ebbda"/>
<circle cx="212.1" cy="566.2" r="1.18" fill="#a0bddb"/>
<circle cx="274.2" cy="539.2" r="1.18" fill="#aec7e0"/>
<circle cx="252.0" cy="538.3" r="1.18" fill="#8c82bc"/>
<circle cx="242.5" cy="486.1" r="1.18" fill="#909eca"/>
<circle cx="262.6" cy="552.5" r="1.18" fill="#8d99c8"/>
<circle cx="262.7" cy="472.9" r="1.18" fill="#a7c3dd"/>
<circle cx="260.2" cy="502.3" r="1.18" fill="#a8c3de"/>
<circle cx="250.4" cy="487.2" r="1.18" fill="#9dbbd9"/>
<circle cx="263.1" cy="549.1" r="1.18" fill="#a6c2dd"/>
<circle cx="266.2" cy="473.5" r="1.18" fill="#a4c0dc"/>
<circle cx="263.5" cy="520.8" r="1.18" fill="#9db9d8"/>
<circle cx="264.6" cy="546.9" r="1.18" fill="#8c88bf"/>
<circle cx="227.1" cy="554.6" r="1.18" fill="#95a9d0"/>
<circle cx="251.0" cy="534.6" r="1.18" fill="#8c7eba"/>
<circle cx="255.1" cy="528.7" r="1.18" fill="#9bb6d7"/>
<circle cx="246.2" cy="557.5" r="1.18" fill="#96abd1"/>
<circle cx="245.7" cy="552.2" r="1.18" fill="#9ebcda"/>
<circle cx="260.9" cy="528.5" r="1.18" fill="#91a0cb"/>
<circle cx="234.3" cy="559.8" r="1.18" fill="#9db9d8"/>
<circle cx="246.6" cy="559.0" r="1.18" fill="#acc6df"/>
<circle cx="239.3" cy="555.4" r="1.18" fill="#b0c9e1"/>
<circle cx="221.1" cy="539.9" r="1.18" fill="#96acd2"/>
<circle cx="226.4" cy="555.0" r="1.18" fill="#9fbcda"/>
<circle cx="233.3" cy="562.4" r="1.18" fill="#d2e1ee"/>
<circle cx="260.1" cy="548.6" r="1.18" fill="#8c8bc1"/>
<circle cx="248.7" cy="542.4" r="1.18" fill="#8c94c5"/>
<circle cx="265.8" cy="507.1" r="1.18" fill="#c0d4e7"/>
<circle cx="239.2" cy="554.9" r="1.18" fill="#8c8ec2"/>
<circle cx="247.3" cy="532.9" r="1.18" fill="#8c89c0"/>
<circle cx="260.6" cy="552.7" r="1.18" fill="#94a7cf"/>
<circle cx="213.0" cy="474.1" r="1.18" fill="#91a0cb"/>
<circle cx="262.5" cy="475.6" r="1.18" fill="#d0e0ed"/>
<circle cx="214.8" cy="563.9" r="1.18" fill="#a8c3de"/>
<circle cx="215.4" cy="560.0" r="1.18" fill="#94a7cf"/>
<circle cx="238.4" cy="550.2" r="1.18" fill="#8c93c4"/>
<circle cx="261.5" cy="549.8" r="1.18" fill="#8c95c6"/>
<circle cx="270.7" cy="542.6" r="1.18" fill="#9cb7d8"/>
<circle cx="210.6" cy="564.4" r="1.18" fill="#a8c3dd"/>
<circle cx="261.9" cy="546.5" r="1.18" fill="#98aed3"/>
<circle cx="224.6" cy="561.7" r="1.18" fill="#93a4ce"/>
<circle cx="244.1" cy="526.8" r="1.18" fill="#a5c1dc"/>
<circle cx="238.1" cy="528.1" r="1.18" fill="#bcd1e5"/>
<circle cx="225.5" cy="562.9" r="1.18" fill="#a2bfdc"/>
<circle cx="220.0" cy="562.5" r="1.18" fill="#95a8d0"/>
<circle cx="250.7" cy="457.6" r="1.18" fill="#abc5df"/>
<circle cx="244.4" cy="461.2" r="1.18" fill="#9db9d8"/>
<circle cx="260.1" cy="542.4" r="1.18" fill="#b2cae1"/>
<circle cx="213.3" cy="555.7" r="1.18" fill="#96abd1"/>
<circle cx="209.7" cy="563.3" r="1.18" fill="#91a0cb"/>
<circle cx="247.5" cy="481.1" r="1.18" fill="#8e9ac8"/>
<circle cx="266.1" cy="481.9" r="1.18" fill="#bbd0e5"/>
<circle cx="258.2" cy="529.1" r="1.18" fill="#b4cbe2"/>
<circle cx="238.0" cy="508.1" r="1.18" fill="#aec7e0"/>
<circle cx="229.2" cy="513.1" r="1.18" fill="#abc5df"/>
<circle cx="248.8" cy="479.1" r="1.18" fill="#93a5ce"/>
<circle cx="240.5" cy="541.8" r="1.18" fill="#92a3cd"/>
<circle cx="257.0" cy="551.5" r="1.18" fill="#a5c1dd"/>
<circle cx="241.1" cy="561.1" r="1.18" fill="#9db9d9"/>
<circle cx="242.7" cy="528.6" r="1.18" fill="#8e99c8"/>
<circle cx="236.3" cy="530.8" r="1.18" fill="#a1bedb"/>
<circle cx="213.7" cy="557.2" r="1.18" fill="#9ab4d6"/>
<circle cx="245.8" cy="473.6" r="1.18" fill="#93a4cd"/>
<circle cx="247.1" cy="502.9" r="1.18" fill="#97add2"/>
<circle cx="236.1" cy="557.1" r="1.18" fill="#94a7cf"/>
<circle cx="240.4" cy="467.2" r="1.18" fill="#95a9d0"/>
<circle cx="230.3" cy="471.0" r="1.18" fill="#98b0d4"/>
<circle cx="228.0" cy="523.6" r="1.18" fill="#98afd3"/>
<circle cx="228.2" cy="461.4" r="1.18" fill="#acc6df"/>
<circle cx="245.4" cy="554.4" r="1.18" fill="#92a3cd"/>
<circle cx="262.3" cy="550.8" r="1.18" fill="#8f9cc9"/>
<circle cx="238.8" cy="509.1" r="1.18" fill="#b1c9e1"/>
<circle cx="243.1" cy="536.9" r="1.18" fill="#93a5ce"/>
<circle cx="266.9" cy="505.4" r="1.18" fill="#9fbdda"/>
<circle cx="247.0" cy="556.9" r="1.18" fill="#a0bedb"/>
<circle cx="250.2" cy="538.5" r="1.18" fill="#8c91c4"/>
<circle cx="251.9" cy="555.2" r="1.18" fill="#8c87bf"/>
<circle cx="225.8" cy="518.0" r="1.18" fill="#9db9d8"/>
<circle cx="215.7" cy="561.7" r="1.18" fill="#8c70b4"/>
<circle cx="241.6" cy="552.4" r="1.18" fill="#8c96c6"/>
<circle cx="237.8" cy="492.0" r="1.18" fill="#8c7fbb"/>
<circle cx="271.1" cy="519.4" r="1.18" fill="#a5c1dd"/>
<circle cx="260.9" cy="551.1" r="1.18" fill="#8e9bc9"/>
<circle cx="256.6" cy="472.4" r="1.18" fill="#aac5df"/>
<circle cx="231.3" cy="561.2" r="1.18" fill="#8c8bc0"/>
<circle cx="240.6" cy="523.9" r="1.18" fill="#98b0d4"/>
<circle cx="242.2" cy="497.9" r="1.18" fill="#8c78b7"/>
<circle cx="255.5" cy="554.9" r="1.18" fill="#91a1cc"/>
<circle cx="258.2" cy="547.9" r="1.18" fill="#8c73b5"/>
<circle cx="210.2" cy="565.8" r="1.18" fill="#8c90c3"/>
<circle cx="225.4" cy="563.7" r="1.18" fill="#9bb5d6"/>
<circle cx="251.0" cy="457.5" r="1.18" fill="#909eca"/>
<circle cx="222.6" cy="493.2" r="1.18" fill="#8c6db2"/>
<circle cx="242.5" cy="512.1" r="1.18" fill="#8b63ad"/>
<circle cx="251.9" cy="541.4" r="1.18" fill="#8c8fc2"/>
<circle cx="250.0" cy="541.7" r="1.18" fill="#a0bddb"/>
<circle cx="233.1" cy="558.9" r="1.18" fill="#8e9bc8"/>
<circle cx="240.4" cy="550.0" r="1.18" fill="#8c82bc"/>
<circle cx="234.6" cy="561.6" r="1.18" fill="#8c96c6"/>
<circle cx="211.2" cy="467.7" r="1.18" fill="#8c84bd"/>
<circle cx="257.4" cy="543.6" r="1.18" fill="#8c89c0"/>
<circle cx="266.6" cy="491.6" r="1.18" fill="#8c76b6"/>
<circle cx="262.3" cy="460.1" r="1.18" fill="#8d98c7"/>
<circle cx="249.1" cy="516.8" r="1.18" fill="#8c7fbb"/>
<circle cx="253.9" cy="501.1" r="1.18" fill="#8c93c4"/>
<circle cx="267.3" cy="530.7" r="1.18" fill="#8c83bd"/>
<circle cx="247.6" cy="468.3" r="1.18" fill="#8c7dba"/>
<circle cx="231.3" cy="554.4" r="1.18" fill="#cadbeb"/>
<circle cx="258.0" cy="539.7" r="1.18" fill="#8f9dc9"/>
<circle cx="249.2" cy="541.7" r="1.18" fill="#94a7cf"/>
<circle cx="214.1" cy="557.2" r="1.18" fill="#8c7dba"/>
<circle cx="258.8" cy="497.7" r="1.18" fill="#93a6ce"/>
<circle cx="249.2" cy="520.3" r="1.18" fill="#8d98c7"/>
<circle cx="255.2" cy="552.6" r="1.18" fill="#8c80bb"/>
<circle cx="249.6" cy="535.8" r="1.18" fill="#8c74b6"/>
<circle cx="258.7" cy="491.0" r="1.18" fill="#8a59a9"/>
<circle cx="237.3" cy="485.1" r="1.18" fill="#8c96c6"/>
<circle cx="238.9" cy="539.7" r="1.18" fill="#99b2d5"/>
<circle cx="237.3" cy="459.8" r="1.18" fill="#8c92c4"/>
<circle cx="254.6" cy="546.9" r="1.18" fill="#8c85be"/>
<circle cx="240.9" cy="467.8" r="1.18" fill="#8c76b6"/>
<circle cx="251.0" cy="521.0" r="1.18" fill="#8c91c4"/>
<circle cx="247.9" cy="511.4" r="1.18" fill="#8b62ad"/>
<circle cx="249.1" cy="512.5" r="1.18" fill="#8c90c3"/>
<circle cx="236.0" cy="558.5" r="1.18" fill="#8a56a7"/>
<circle cx="242.9" cy="511.1" r="1.18" fill="#8a5aa9"/>
<circle cx="248.7" cy="490.2" r="1.18" fill="#93a5ce"/>
<circle cx="234.1" cy="558.2" r="1.18" fill="#8c6db2"/>
<circle cx="229.4" cy="539.6" r="1.18" fill="#909fcb"/>
<circle cx="233.7" cy="552.9" r="1.18" fill="#8c8bc1"/>
<circle cx="211.3" cy="563.2" r="1.18" fill="#8c8cc1"/>
<circle cx="258.7" cy="555.0" r="1.18" fill="#894ea3"/>
<circle cx="229.8" cy="470.7" r="1.18" fill="#8a58a8"/>
<circle cx="224.4" cy="560.0" r="1.18" fill="#8c79b8"/>
<circle cx="236.8" cy="509.0" r="1.18" fill="#883f9c"/>
<circle cx="242.1" cy="521.3" r="1.18" fill="#9ab3d5"/>
<circle cx="246.3" cy="532.6" r="1.18" fill="#a1bedb"/>
<circle cx="252.7" cy="555.5" r="1.18" fill="#9fbcda"/>
<circle cx="210.0" cy="565.4" r="1.18" fill="#8c8dc2"/>
<circle cx="247.8" cy="494.9" r="1.18" fill="#92a3cd"/>
<circle cx="257.1" cy="453.9" r="1.18" fill="#9dbbd9"/>
<circle cx="244.5" cy="549.0" r="1.18" fill="#8c94c5"/>
<circle cx="260.7" cy="503.5" r="1.18" fill="#8c73b5"/>
<circle cx="249.1" cy="466.9" r="1.18" fill="#91a0cb"/>
<circle cx="260.1" cy="492.1" r="1.18" fill="#8c96c6"/>
<circle cx="243.4" cy="485.8" r="1.18" fill="#8c7bb9"/>
<circle cx="247.2" cy="458.7" r="1.18" fill="#8c8cc1"/>
<circle cx="226.8" cy="540.5" r="1.18" fill="#8b5fab"/>
<circle cx="238.0" cy="560.9" r="1.18" fill="#8c96c6"/>
<circle cx="247.2" cy="482.8" r="1.18" fill="#88459f"/>
<circle cx="233.9" cy="559.5" r="1.18" fill="#8c66af"/>
<circle cx="211.5" cy="557.8" r="1.18" fill="#8d99c7"/>
<circle cx="245.7" cy="466.0" r="1.18" fill="#8c8cc1"/>
<circle cx="216.0" cy="556.5" r="1.18" fill="#91a1cc"/>
<circle cx="237.2" cy="559.6" r="1.18" fill="#8c7bb9"/>
<circle cx="222.7" cy="475.9" r="1.18" fill="#8a5ba9"/>
<circle cx="254.5" cy="554.5" r="1.18" fill="#9ab4d6"/>
<circle cx="242.3" cy="560.6" r="1.18" fill="#894da2"/>
<circle cx="242.5" cy="467.0" r="1.18" fill="#8c70b4"/>
<circle cx="227.1" cy="511.5" r="1.18" fill="#91a0cb"/>
<circle cx="236.9" cy="508.5" r="1.18" fill="#8c95c6"/>
<circle cx="241.4" cy="498.8" r="1.18" fill="#8c79b8"/>
<circle cx="261.8" cy="488.6" r="1.18" fill="#8b66ae"/>
<circle cx="270.2" cy="522.1" r="1.18" fill="#9ebcda"/>
<circle cx="246.9" cy="558.1" r="1.18" fill="#8c77b7"/>
<circle cx="245.6" cy="554.3" r="1.18" fill="#8b5daa"/>
<circle cx="252.5" cy="464.3" r="1.18" fill="#8c7ab8"/>
<circle cx="263.2" cy="552.3" r="1.18" fill="#8947a0"/>
<circle cx="240.7" cy="503.8" r="1.18" fill="#8c89c0"/>
<circle cx="224.2" cy="558.3" r="1.18" fill="#8c69b0"/>
<circle cx="226.1" cy="558.1" r="1.18" fill="#8c68af"/>
<circle cx="229.8" cy="556.9" r="1.18" fill="#8c81bc"/>
<circle cx="260.8" cy="473.9" r="1.18" fill="#8951a4"/>
<circle cx="239.5" cy="478.0" r="1.18" fill="#8c71b4"/>
<circle cx="246.5" cy="555.5" r="1.18" fill="#8c7fbb"/>
<circle cx="236.3" cy="482.8" r="1.18" fill="#8c83bd"/>
<circle cx="251.3" cy="546.5" r="1.18" fill="#894aa1"/>
<circle cx="265.5" cy="485.8" r="1.18" fill="#88409c"/>
<circle cx="242.4" cy="549.2" r="1.18" fill="#8c74b6"/>
<circle cx="255.3" cy="510.4" r="1.18" fill="#8c83bd"/>
<circle cx="245.4" cy="553.1" r="1.18" fill="#8c8ec2"/>
<circle cx="254.1" cy="518.6" r="1.18" fill="#88409c"/>
<circle cx="260.3" cy="542.2" r="1.18" fill="#8c80bb"/>
<circle cx="250.5" cy="474.0" r="1.18" fill="#873897"/>
<circle cx="253.3" cy="540.2" r="1.18" fill="#8a5aa9"/>
<circle cx="250.7" cy="529.6" r="1.18" fill="#8c96c6"/>
<circle cx="256.5" cy="467.4" r="1.18" fill="#883f9c"/>
<circle cx="247.4" cy="547.4" r="1.18" fill="#8e9bc9"/>
<circle cx="249.8" cy="548.9" r="1.18" fill="#8b61ac"/>
<circle cx="222.4" cy="488.8" r="1.18" fill="#8c7cb9"/>
<circle cx="251.3" cy="545.8" r="1.18" fill="#8c74b5"/>
<circle cx="252.9" cy="473.7" r="1.18" fill="#8c6bb1"/>
<circle cx="264.3" cy="488.5" r="1.18" fill="#8c66af"/>
<circle cx="234.4" cy="538.3" r="1.18" fill="#92a4cd"/>
<circle cx="232.9" cy="514.5" r="1.18" fill="#8c7dba"/>
<circle cx="251.2" cy="512.2" r="1.18" fill="#8b66ae"/>
<circle cx="244.2" cy="484.1" r="1.18" fill="#8c7cb9"/>
<circle cx="263.8" cy="528.0" r="1.18" fill="#863394"/>
<circle cx="258.0" cy="511.7" r="1.18" fill="#8c75b6"/>
<circle cx="259.1" cy="514.4" r="1.18" fill="#88429e"/>
<circle cx="224.6" cy="491.5" r="1.18" fill="#8a51a5"/>
<circle cx="251.2" cy="495.5" r="1.18" fill="#873796"/>
<circle cx="255.2" cy="469.7" r="1.18" fill="#883f9c"/>
<circle cx="240.2" cy="486.4" r="1.18" fill="#8c80bb"/>
<circle cx="240.6" cy="481.1" r="1.18" fill="#8b65ae"/>
<circle cx="262.1" cy="550.5" r="1.18" fill="#92a2cc"/>
<circle cx="249.8" cy="510.9" r="1.18" fill="#8a52a5"/>
<circle cx="238.9" cy="464.5" r="1.18" fill="#8c6eb3"/>
<circle cx="260.2" cy="460.5" r="1.18" fill="#8c7eba"/>
<circle cx="211.0" cy="492.3" r="1.18" fill="#94a6ce"/>
<circle cx="244.0" cy="470.3" r="1.18" fill="#8c71b4"/>
<circle cx="215.6" cy="559.7" r="1.18" fill="#8c7bb9"/>
<circle cx="271.5" cy="503.7" r="1.18" fill="#88419d"/>
<circle cx="250.8" cy="501.7" r="1.18" fill="#8b5caa"/>
<circle cx="251.1" cy="488.6" r="1.18" fill="#8d98c7"/>
<circle cx="252.9" cy="552.9" r="1.18" fill="#894ea3"/>
<circle cx="230.2" cy="531.7" r="1.18" fill="#8c71b4"/>
<circle cx="264.6" cy="534.9" r="1.18" fill="#84258b"/>
<circle cx="262.4" cy="463.6" r="1.18" fill="#88419d"/>
<circle cx="218.2" cy="559.0" r="1.18" fill="#8c8dc1"/>
<circle cx="255.0" cy="481.2" r="1.18" fill="#8c78b7"/>
<circle cx="229.7" cy="558.9" r="1.18" fill="#8c97c6"/>
<circle cx="223.8" cy="559.4" r="1.18" fill="#883f9b"/>
<circle cx="257.3" cy="551.7" r="1.18" fill="#8a53a5"/>
<circle cx="256.1" cy="556.4" r="1.18" fill="#821a83"/>
<circle cx="233.9" cy="526.2" r="1.18" fill="#8c7fbb"/>
<circle cx="245.9" cy="556.3" r="1.18" fill="#8c7fbb"/>
<circle cx="242.9" cy="555.6" r="1.18" fill="#8c74b6"/>
<circle cx="228.8" cy="554.3" r="1.18" fill="#8c8ac0"/>
<circle cx="233.0" cy="545.4" r="1.18" fill="#894ea3"/>
<circle cx="211.4" cy="542.4" r="1.18" fill="#8c7fbb"/>
<circle cx="255.5" cy="544.1" r="1.18" fill="#852d8f"/>
<circle cx="244.1" cy="559.8" r="1.18" fill="#852f91"/>
<circle cx="240.7" cy="473.3" r="1.18" fill="#81127e"/>
<circle cx="230.9" cy="554.2" r="1.18" fill="#780c73"/>
<circle cx="243.7" cy="504.6" r="1.18" fill="#8c7ab8"/>
<circle cx="234.8" cy="519.6" r="1.18" fill="#8b61ac"/>
<circle cx="246.8" cy="524.7" r="1.18" fill="#8c6eb2"/>
<circle cx="226.3" cy="552.8" r="1.18" fill="#8c7dba"/>
<circle cx="256.7" cy="536.6" r="1.18" fill="#8c7bb9"/>
<circle cx="226.0" cy="516.9" r="1.18" fill="#8b64ae"/>
<circle cx="234.3" cy="545.1" r="1.18" fill="#8947a0"/>
<circle cx="255.9" cy="506.7" r="1.18" fill="#810f7c"/>
<circle cx="241.6" cy="461.9" r="1.18" fill="#8a59a9"/>
<circle cx="230.4" cy="498.9" r="1.18" fill="#873a99"/>
<circle cx="239.5" cy="507.1" r="1.18" fill="#88469f"/>
<circle cx="239.9" cy="455.3" r="1.18" fill="#8a52a5"/>
<circle cx="215.0" cy="562.6" r="1.18" fill="#852a8e"/>
<circle cx="233.9" cy="562.6" r="1.18" fill="#8c80bb"/>
<circle cx="261.8" cy="552.8" r="1.18" fill="#84268b"/>
<circle cx="244.0" cy="513.3" r="1.18" fill="#8c6fb3"/>
<circle cx="253.6" cy="519.5" r="1.18" fill="#8a59a9"/>
<circle cx="233.0" cy="484.3" r="1.18" fill="#8b65ae"/>
<circle cx="238.7" cy="542.1" r="1.18" fill="#8c75b6"/>
<circle cx="254.4" cy="536.0" r="1.18" fill="#8a52a5"/>
<circle cx="215.9" cy="493.9" r="1.18" fill="#8c68af"/>
<circle cx="231.4" cy="513.6" r="1.18" fill="#8c6cb1"/>
<circle cx="250.5" cy="531.2" r="1.18" fill="#863293"/>
<circle cx="269.4" cy="453.8" r="1.18" fill="#863192"/>
<circle cx="257.0" cy="541.3" r="1.18" fill="#894ea3"/>
<circle cx="236.1" cy="504.2" r="1.18" fill="#8c79b8"/>
<circle cx="264.2" cy="477.8" r="1.18" fill="#8c76b6"/>
<circle cx="234.5" cy="509.7" r="1.18" fill="#832188"/>
<circle cx="251.6" cy="557.1" r="1.18" fill="#8c68b0"/>
<circle cx="246.5" cy="558.7" r="1.18" fill="#832087"/>
<circle cx="233.8" cy="560.7" r="1.18" fill="#894aa1"/>
<circle cx="256.9" cy="504.0" r="1.18" fill="#8c6ab1"/>
<circle cx="247.1" cy="557.1" r="1.18" fill="#8b61ac"/>
<circle cx="212.7" cy="551.8" r="1.18" fill="#8b62ad"/>
<circle cx="259.9" cy="512.9" r="1.18" fill="#88429d"/>
<circle cx="226.3" cy="540.9" r="1.18" fill="#863092"/>
<circle cx="247.0" cy="485.8" r="1.18" fill="#8949a1"/>
<circle cx="242.5" cy="493.9" r="1.18" fill="#8c67af"/>
<circle cx="247.6" cy="546.8" r="1.18" fill="#8c8bc1"/>
<circle cx="248.1" cy="554.0" r="1.18" fill="#821882"/>
<circle cx="246.1" cy="477.3" r="1.18" fill="#85288d"/>
<circle cx="231.6" cy="494.6" r="1.18" fill="#96acd1"/>
<circle cx="241.0" cy="519.1" r="1.18" fill="#863192"/>
<circle cx="233.8" cy="553.9" r="1.18" fill="#88409c"/>
<circle cx="252.8" cy="557.3" r="1.18" fill="#873796"/>
<circle cx="214.4" cy="559.1" r="1.18" fill="#62065f"/>
<circle cx="263.3" cy="548.3" r="1.18" fill="#863293"/>
<circle cx="251.6" cy="552.2" r="1.18" fill="#8c7ab8"/>
<circle cx="273.0" cy="484.9" r="1.18" fill="#8c77b7"/>
<circle cx="250.6" cy="496.5" r="1.18" fill="#7d0e78"/>
<circle cx="238.4" cy="507.2" r="1.18" fill="#84248a"/>
<circle cx="225.4" cy="551.2" r="1.18" fill="#8c88bf"/>
<circle cx="249.2" cy="500.7" r="1.18" fill="#8950a4"/>
<circle cx="235.6" cy="533.0" r="1.18" fill="#650761"/>
<circle cx="241.3" cy="548.2" r="1.18" fill="#84288c"/>
<circle cx="235.0" cy="525.0" r="1.18" fill="#710a6d"/>
<circle cx="263.0" cy="549.1" r="1.18" fill="#85298d"/>
<circle cx="236.2" cy="555.2" r="1.18" fill="#852c8f"/>
<circle cx="245.3" cy="554.1" r="1.18" fill="#84268b"/>
<circle cx="214.1" cy="561.7" r="1.18" fill="#710a6d"/>
<circle cx="253.7" cy="498.9" r="1.18" fill="#831d85"/>
<circle cx="263.6" cy="476.9" r="1.18" fill="#7c0e77"/>
<circle cx="261.7" cy="522.6" r="1.18" fill="#8c78b7"/>
<circle cx="260.8" cy="489.0" r="1.18" fill="#88409c"/>
<circle cx="256.9" cy="501.4" r="1.18" fill="#894ea3"/>
<circle cx="253.2" cy="506.0" r="1.18" fill="#88419d"/>
<circle cx="239.7" cy="557.3" r="1.18" fill="#88439e"/>
<circle cx="263.1" cy="543.0" r="1.18" fill="#85298d"/>
<circle cx="229.9" cy="556.0" r="1.18" fill="#894fa4"/>
<circle cx="229.7" cy="515.0" r="1.18" fill="#770c72"/>
<circle cx="261.9" cy="519.8" r="1.18" fill="#84278c"/>
<circle cx="266.1" cy="473.0" r="1.18" fill="#81117e"/>
<circle cx="241.8" cy="556.1" r="1.18" fill="#8948a0"/>
<circle cx="247.2" cy="487.9" r="1.18" fill="#831b84"/>
<circle cx="241.2" cy="547.6" r="1.18" fill="#61065e"/>
<circle cx="233.0" cy="555.7" r="1.18" fill="#580356"/>
<circle cx="263.3" cy="503.4" r="1.18" fill="#800f7b"/>
<circle cx="248.1" cy="527.1" r="1.18" fill="#7a0d76"/>
<circle cx="251.7" cy="514.6" r="1.18" fill="#7c0e77"/>
<circle cx="246.7" cy="500.1" r="1.18" fill="#7d0e78"/>
<circle cx="241.6" cy="505.3" r="1.18" fill="#852f91"/>
<circle cx="247.1" cy="553.1" r="1.18" fill="#7f0f7b"/>
<circle cx="241.6" cy="499.3" r="1.18" fill="#800f7b"/>
<circle cx="259.5" cy="539.6" r="1.18" fill="#8a59a9"/>
<circle cx="245.5" cy="545.5" r="1.18" fill="#7c0e78"/>
<circle cx="231.6" cy="472.4" r="1.18" fill="#821982"/>
<circle cx="254.3" cy="518.9" r="1.18" fill="#60065d"/>
<circle cx="243.8" cy="538.2" r="1.18" fill="#84288c"/>
<circle cx="254.3" cy="551.2" r="1.18" fill="#831a83"/>
<circle cx="260.0" cy="542.9" r="1.18" fill="#6c0968"/>
<circle cx="249.6" cy="508.2" r="1.18" fill="#5d045a"/>
<circle cx="243.4" cy="514.3" r="1.18" fill="#6e0a6a"/>
<circle cx="249.5" cy="558.5" r="1.18" fill="#831e86"/>
<circle cx="246.5" cy="530.0" r="1.18" fill="#7b0d76"/>
<circle cx="221.7" cy="543.4" r="1.18" fill="#81107d"/>
<circle cx="257.8" cy="543.1" r="1.18" fill="#81107d"/>
<circle cx="244.3" cy="552.2" r="1.18" fill="#821680"/>
<circle cx="236.2" cy="561.2" r="1.18" fill="#670864"/>
<circle cx="245.4" cy="464.4" r="1.18" fill="#750b70"/>
<circle cx="241.6" cy="529.9" r="1.18" fill="#750c71"/>
<circle cx="238.5" cy="494.8" r="1.18" fill="#700a6c"/>
<circle cx="238.4" cy="561.0" r="1.18" fill="#821983"/>
<circle cx="262.5" cy="479.8" r="1.18" fill="#800f7b"/>
<circle cx="241.7" cy="465.1" r="1.18" fill="#50014e"/>
<circle cx="218.9" cy="488.1" r="1.18" fill="#4e004c"/>
<circle cx="233.1" cy="544.4" r="1.18" fill="#5d055a"/>
<circle cx="263.4" cy="507.3" r="1.18" fill="#863696"/>
<circle cx="247.9" cy="512.9" r="1.18" fill="#8a57a8"/>
<circle cx="244.5" cy="514.0" r="1.18" fill="#88409c"/>
<circle cx="240.5" cy="560.4" r="1.18" fill="#8b62ad"/>
<circle cx="220.9" cy="499.8" r="1.18" fill="#821580"/>
<circle cx="241.6" cy="556.1" r="1.18" fill="#852b8e"/>
<circle cx="252.6" cy="527.1" r="1.18" fill="#660762"/>
<circle cx="267.4" cy="489.6" r="1.18" fill="#6d0969"/>
<circle cx="247.3" cy="522.2" r="1.18" fill="#81107d"/>
<circle cx="242.1" cy="555.3" r="1.18" fill="#863494"/>
<circle cx="259.9" cy="467.4" r="1.18" fill="#852b8f"/>
<circle cx="230.3" cy="563.2" r="1.18" fill="#720b6e"/>
<circle cx="231.5" cy="473.5" r="1.18" fill="#5c0459"/>
<circle cx="250.2" cy="495.6" r="1.18" fill="#8b62ad"/>
<circle cx="262.1" cy="548.5" r="1.18" fill="#720b6e"/>
<circle cx="263.6" cy="542.9" r="1.18" fill="#640761"/>
<circle cx="213.9" cy="496.0" r="1.18" fill="#650762"/>
<circle cx="254.9" cy="505.4" r="1.18" fill="#670763"/>
<circle cx="251.0" cy="542.9" r="1.18" fill="#81117e"/>
<circle cx="244.6" cy="510.6" r="1.18" fill="#852c8f"/>
<circle cx="246.0" cy="525.0" r="1.18" fill="#894fa4"/>
<circle cx="250.1" cy="485.9" r="1.18" fill="#690865"/>
<circle cx="235.6" cy="516.4" r="1.18" fill="#540252"/>
<circle cx="248.7" cy="550.4" r="1.18" fill="#7a0d75"/>
<circle cx="249.2" cy="465.3" r="1.18" fill="#852e90"/>
<circle cx="225.1" cy="515.7" r="1.18" fill="#670864"/>
<circle cx="265.0" cy="547.7" r="1.18" fill="#831a83"/>
<circle cx="247.1" cy="499.3" r="1.18" fill="#5d055a"/>
<circle cx="261.8" cy="543.4" r="1.18" fill="#6c0969"/>
<circle cx="238.4" cy="496.3" r="1.18" fill="#62065f"/>
<circle cx="262.5" cy="481.4" r="1.18" fill="#720b6e"/>
<circle cx="266.6" cy="524.3" r="1.18" fill="#50014d"/>
<circle cx="227.3" cy="520.7" r="1.18" fill="#670864"/>
<circle cx="259.5" cy="554.3" r="1.18" fill="#832087"/>
<circle cx="244.4" cy="554.0" r="1.18" fill="#6d0969"/>
<circle cx="241.2" cy="558.8" r="1.18" fill="#831c85"/>
<circle cx="253.4" cy="552.5" r="1.18" fill="#520250"/>
<circle cx="240.6" cy="486.4" r="1.18" fill="#5c0459"/>
<circle cx="223.8" cy="489.2" r="1.18" fill="#740b70"/>
<circle cx="240.4" cy="515.8" r="1.18" fill="#580355"/>
<circle cx="266.9" cy="515.1" r="1.18" fill="#51014f"/>
<circle cx="240.9" cy="540.7" r="1.18" fill="#530251"/>
</g>
<rect x="204.80" y="450.00" width="142.40" height="142.80" fill="none" stroke="#000" stroke-width="1.40"/>
<g clip-path="url(#c32)" fill-opacity="0.92">
<circle cx="359.5" cy="528.1" r="1.18" fill="#f2f9fb"/>
<circle cx="372.2" cy="464.2" r="1.18" fill="#e8f1f7"/>
<circle cx="421.3" cy="525.9" r="1.18" fill="#eef6f9"/>
<circle cx="449.7" cy="509.9" r="1.18" fill="#f4fafc"/>
<circle cx="388.6" cy="463.0" r="1.18" fill="#eef6f9"/>
<circle cx="397.7" cy="535.7" r="1.18" fill="#edf5f9"/>
<circle cx="474.3" cy="559.6" r="1.18" fill="#bacfe4"/>
<circle cx="436.5" cy="555.2" r="1.18" fill="#f2f8fb"/>
<circle cx="482.5" cy="540.7" r="1.18" fill="#ecf4f9"/>
<circle cx="397.7" cy="512.6" r="1.18" fill="#f1f8fb"/>
<circle cx="475.2" cy="558.6" r="1.18" fill="#e9f2f7"/>
<circle cx="395.5" cy="482.7" r="1.18" fill="#f2f9fb"/>
<circle cx="460.8" cy="506.0" r="1.18" fill="#f4fafc"/>
<circle cx="480.0" cy="561.5" r="1.18" fill="#f5fafc"/>
<circle cx="368.7" cy="467.3" r="1.18" fill="#edf5f9"/>
<circle cx="397.1" cy="473.2" r="1.18" fill="#e5eff6"/>
<circle cx="459.5" cy="518.6" r="1.18" fill="#f1f8fb"/>
<circle cx="376.6" cy="455.9" r="1.18" fill="#d6e4f0"/>
<circle cx="373.9" cy="466.1" r="1.18" fill="#e9f3f8"/>
<circle cx="410.7" cy="511.9" r="1.18" fill="#eaf3f8"/>
<circle cx="359.9" cy="543.2" r="1.18" fill="#f0f7fa"/>
<circle cx="426.6" cy="563.0" r="1.18" fill="#eaf3f8"/>
<circle cx="469.5" cy="547.1" r="1.18" fill="#f6fbfd"/>
<circle cx="363.6" cy="487.1" r="1.18" fill="#f4fafc"/>
<circle cx="363.9" cy="496.4" r="1.18" fill="#f1f8fb"/>
<circle cx="403.5" cy="454.0" r="1.18" fill="#dae8f1"/>
<circle cx="411.2" cy="517.5" r="1.18" fill="#f1f8fb"/>
<circle cx="453.5" cy="561.7" r="1.18" fill="#edf5f9"/>
<circle cx="422.2" cy="546.9" r="1.18" fill="#f0f7fa"/>
<circle cx="406.4" cy="522.9" r="1.18" fill="#d8e6f1"/>
<circle cx="480.4" cy="543.8" r="1.18" fill="#cedeec"/>
<circle cx="361.4" cy="520.6" r="1.18" fill="#f6fbfd"/>
<circle cx="391.0" cy="475.0" r="1.18" fill="#e3eef5"/>
<circle cx="393.6" cy="562.0" r="1.18" fill="#d7e5f0"/>
<circle cx="480.4" cy="539.5" r="1.18" fill="#e6f0f6"/>
<circle cx="450.1" cy="497.0" r="1.18" fill="#cedeec"/>
<circle cx="370.6" cy="559.6" r="1.18" fill="#edf5f9"/>
<circle cx="368.6" cy="470.8" r="1.18" fill="#d0e0ed"/>
<circle cx="399.5" cy="491.3" r="1.18" fill="#e1edf5"/>
<circle cx="450.7" cy="549.2" r="1.18" fill="#e5eff6"/>
<circle cx="382.9" cy="473.2" r="1.18" fill="#e1edf4"/>
<circle cx="444.8" cy="544.9" r="1.18" fill="#e7f1f7"/>
<circle cx="478.4" cy="543.0" r="1.18" fill="#e4eff6"/>
<circle cx="359.1" cy="543.8" r="1.18" fill="#c2d5e7"/>
<circle cx="396.9" cy="454.4" r="1.18" fill="#f0f7fa"/>
<circle cx="452.0" cy="519.2" r="1.18" fill="#e9f3f8"/>
<circle cx="408.0" cy="547.8" r="1.18" fill="#f1f8fb"/>
<circle cx="392.4" cy="482.3" r="1.18" fill="#e7f1f7"/>
<circle cx="378.3" cy="506.4" r="1.18" fill="#e2edf5"/>
<circle cx="427.2" cy="555.9" r="1.18" fill="#e8f2f7"/>
<circle cx="390.1" cy="505.2" r="1.18" fill="#e6f0f7"/>
<circle cx="449.0" cy="556.3" r="1.18" fill="#e5f0f6"/>
<circle cx="359.3" cy="468.0" r="1.18" fill="#e3eef5"/>
<circle cx="408.2" cy="527.0" r="1.18" fill="#e5f0f6"/>
<circle cx="374.4" cy="566.4" r="1.18" fill="#edf5f9"/>
<circle cx="361.9" cy="537.7" r="1.18" fill="#f3fafc"/>
<circle cx="369.6" cy="524.4" r="1.18" fill="#e3eef5"/>
<circle cx="394.9" cy="459.7" r="1.18" fill="#f3f9fb"/>
<circle cx="477.3" cy="561.0" r="1.18" fill="#e8f1f7"/>
<circle cx="362.8" cy="551.6" r="1.18" fill="#dae7f1"/>
<circle cx="443.9" cy="541.7" r="1.18" fill="#c3d6e8"/>
<circle cx="409.4" cy="498.9" r="1.18" fill="#e8f1f7"/>
<circle cx="483.6" cy="535.0" r="1.18" fill="#f0f7fa"/>
<circle cx="440.5" cy="498.6" r="1.18" fill="#e6f0f6"/>
<circle cx="361.0" cy="549.5" r="1.18" fill="#e1edf4"/>
<circle cx="374.8" cy="469.2" r="1.18" fill="#e7f1f7"/>
<circle cx="445.2" cy="543.7" r="1.18" fill="#cedeec"/>
<circle cx="399.6" cy="498.4" r="1.18" fill="#f4fafc"/>
<circle cx="464.5" cy="529.8" r="1.18" fill="#e0ecf4"/>
<circle cx="451.7" cy="537.7" r="1.18" fill="#eef6f9"/>
<circle cx="472.1" cy="507.5" r="1.18" fill="#f1f8fb"/>
<circle cx="425.9" cy="545.5" r="1.18" fill="#dce9f2"/>
<circle cx="412.6" cy="487.0" r="1.18" fill="#eaf3f8"/>
<circle cx="391.6" cy="544.5" r="1.18" fill="#f2f8fb"/>
<circle cx="484.4" cy="563.6" r="1.18" fill="#f0f7fa"/>
<circle cx="359.7" cy="502.8" r="1.18" fill="#d2e1ee"/>
<circle cx="429.8" cy="563.3" r="1.18" fill="#edf5f9"/>
<circle cx="450.1" cy="515.1" r="1.18" fill="#f0f7fa"/>
<circle cx="370.5" cy="475.6" r="1.18" fill="#f0f7fa"/>
<circle cx="369.2" cy="525.3" r="1.18" fill="#eaf3f8"/>
<circle cx="380.9" cy="458.8" r="1.18" fill="#f7fcfd"/>
<circle cx="433.6" cy="501.0" r="1.18" fill="#e7f1f7"/>
<circle cx="451.5" cy="551.6" r="1.18" fill="#e7f1f7"/>
<circle cx="448.9" cy="515.0" r="1.18" fill="#ecf5f9"/>
<circle cx="410.4" cy="534.0" r="1.18" fill="#f0f7fa"/>
<circle cx="398.4" cy="487.9" r="1.18" fill="#f6fbfd"/>
<circle cx="401.9" cy="544.2" r="1.18" fill="#d1e1ee"/>
<circle cx="362.1" cy="556.3" r="1.18" fill="#f5fbfc"/>
<circle cx="378.0" cy="552.6" r="1.18" fill="#f6fcfd"/>
<circle cx="381.1" cy="490.5" r="1.18" fill="#f7fcfd"/>
<circle cx="409.6" cy="553.5" r="1.18" fill="#d5e4ef"/>
<circle cx="361.7" cy="459.1" r="1.18" fill="#e3eef5"/>
<circle cx="414.9" cy="482.3" r="1.18" fill="#e7f1f7"/>
<circle cx="401.5" cy="461.5" r="1.18" fill="#ddeaf3"/>
<circle cx="460.2" cy="534.2" r="1.18" fill="#f3f9fb"/>
<circle cx="362.0" cy="550.6" r="1.18" fill="#d9e7f1"/>
<circle cx="468.6" cy="535.3" r="1.18" fill="#f5fafc"/>
<circle cx="452.4" cy="526.6" r="1.18" fill="#c9daea"/>
<circle cx="477.5" cy="561.9" r="1.18" fill="#f0f7fa"/>
<circle cx="386.5" cy="509.2" r="1.18" fill="#f0f7fa"/>
<circle cx="439.8" cy="513.7" r="1.18" fill="#e3eef5"/>
<circle cx="414.8" cy="534.1" r="1.18" fill="#d4e3ef"/>
<circle cx="463.9" cy="532.6" r="1.18" fill="#e4eff6"/>
<circle cx="399.9" cy="517.2" r="1.18" fill="#ebf3f8"/>
<circle cx="370.2" cy="456.6" r="1.18" fill="#dde9f3"/>
<circle cx="479.3" cy="549.9" r="1.18" fill="#ebf4f8"/>
<circle cx="370.5" cy="531.0" r="1.18" fill="#e6f0f6"/>
<circle cx="419.8" cy="566.2" r="1.18" fill="#f5fbfc"/>
<circle cx="380.6" cy="454.0" r="1.18" fill="#e5f0f6"/>
<circle cx="411.7" cy="551.0" r="1.18" fill="#f4fafc"/>
<circle cx="394.9" cy="489.6" r="1.18" fill="#dae7f1"/>
<circle cx="369.5" cy="560.9" r="1.18" fill="#deeaf3"/>
<circle cx="376.3" cy="560.3" r="1.18" fill="#e5f0f6"/>
<circle cx="400.3" cy="479.9" r="1.18" fill="#dce9f2"/>
<circle cx="411.4" cy="471.0" r="1.18" fill="#cfdfed"/>
<circle cx="390.6" cy="470.5" r="1.18" fill="#cbdceb"/>
<circle cx="380.0" cy="456.5" r="1.18" fill="#deeaf3"/>
<circle cx="476.7" cy="559.8" r="1.18" fill="#f6fcfd"/>
<circle cx="410.3" cy="462.3" r="1.18" fill="#f7fcfd"/>
<circle cx="471.7" cy="549.9" r="1.18" fill="#e8f1f7"/>
<circle cx="406.4" cy="478.5" r="1.18" fill="#f0f7fa"/>
<circle cx="483.5" cy="562.8" r="1.18" fill="#c6d8e9"/>
<circle cx="461.0" cy="521.6" r="1.18" fill="#d5e3ef"/>
<circle cx="360.6" cy="491.3" r="1.18" fill="#f7fcfd"/>
<circle cx="431.7" cy="565.2" r="1.18" fill="#e6f0f6"/>
<circle cx="408.3" cy="478.4" r="1.18" fill="#e3eef5"/>
<circle cx="395.1" cy="519.2" r="1.18" fill="#f4fafc"/>
<circle cx="401.9" cy="472.8" r="1.18" fill="#f7fcfd"/>
<circle cx="445.6" cy="536.0" r="1.18" fill="#b4cbe2"/>
<circle cx="443.3" cy="542.9" r="1.18" fill="#f2f8fb"/>
<circle cx="446.8" cy="500.9" r="1.18" fill="#eff6fa"/>
<circle cx="415.8" cy="475.5" r="1.18" fill="#f5fbfc"/>
<circle cx="416.6" cy="539.8" r="1.18" fill="#e3eef5"/>
<circle cx="388.8" cy="461.3" r="1.18" fill="#e2edf5"/>
<circle cx="394.9" cy="552.9" r="1.18" fill="#e3eef5"/>
<circle cx="477.5" cy="556.4" r="1.18" fill="#f7fcfd"/>
<circle cx="386.5" cy="486.5" r="1.18" fill="#b7cde3"/>
<circle cx="362.0" cy="486.7" r="1.18" fill="#c5d7e8"/>
<circle cx="369.3" cy="512.6" r="1.18" fill="#dbe8f2"/>
<circle cx="377.3" cy="559.5" r="1.18" fill="#d8e6f0"/>
<circle cx="403.3" cy="556.1" r="1.18" fill="#e9f2f8"/>
<circle cx="410.5" cy="489.5" r="1.18" fill="#eff6fa"/>
<circle cx="375.3" cy="500.3" r="1.18" fill="#d7e5f0"/>
<circle cx="468.9" cy="554.2" r="1.18" fill="#cadbeb"/>
<circle cx="465.0" cy="503.3" r="1.18" fill="#e2edf5"/>
<circle cx="454.8" cy="534.2" r="1.18" fill="#e8f2f7"/>
<circle cx="407.4" cy="520.1" r="1.18" fill="#e3eef5"/>
<circle cx="380.9" cy="497.0" r="1.18" fill="#f0f7fa"/>
<circle cx="475.2" cy="502.2" r="1.18" fill="#d4e3ef"/>
<circle cx="463.1" cy="509.2" r="1.18" fill="#e4eff5"/>
<circle cx="392.8" cy="477.5" r="1.18" fill="#f7fcfd"/>
<circle cx="387.3" cy="562.4" r="1.18" fill="#e8f2f7"/>
<circle cx="407.7" cy="487.1" r="1.18" fill="#e3eef5"/>
<circle cx="470.7" cy="553.2" r="1.18" fill="#b3cae1"/>
<circle cx="428.7" cy="510.4" r="1.18" fill="#e4eff5"/>
<circle cx="368.8" cy="527.5" r="1.18" fill="#f7fcfd"/>
<circle cx="377.8" cy="552.5" r="1.18" fill="#d6e5f0"/>
<circle cx="365.4" cy="460.0" r="1.18" fill="#edf5f9"/>
<circle cx="362.4" cy="544.1" r="1.18" fill="#dfecf4"/>
<circle cx="425.1" cy="503.5" r="1.18" fill="#e6f0f6"/>
<circle cx="449.6" cy="514.6" r="1.18" fill="#ebf4f8"/>
<circle cx="452.4" cy="527.1" r="1.18" fill="#f5fafc"/>
<circle cx="402.7" cy="535.2" r="1.18" fill="#ebf3f8"/>
<circle cx="387.3" cy="559.5" r="1.18" fill="#e4eff5"/>
<circle cx="436.8" cy="551.5" r="1.18" fill="#e7f1f7"/>
<circle cx="364.9" cy="472.1" r="1.18" fill="#d8e6f1"/>
<circle cx="375.6" cy="458.7" r="1.18" fill="#f2f9fb"/>
<circle cx="365.7" cy="465.5" r="1.18" fill="#abc5df"/>
<circle cx="427.1" cy="492.9" r="1.18" fill="#eff6fa"/>
<circle cx="392.0" cy="469.4" r="1.18" fill="#cfdfed"/>
<circle cx="397.9" cy="487.8" r="1.18" fill="#e8f2f7"/>
<circle cx="462.4" cy="530.7" r="1.18" fill="#e6f0f6"/>
<circle cx="476.9" cy="563.3" r="1.18" fill="#bbd0e5"/>
<circle cx="461.3" cy="502.0" r="1.18" fill="#e7f1f7"/>
<circle cx="376.8" cy="460.5" r="1.18" fill="#e1edf5"/>
<circle cx="392.3" cy="483.5" r="1.18" fill="#f3f9fb"/>
<circle cx="378.7" cy="485.7" r="1.18" fill="#f0f7fa"/>
<circle cx="366.4" cy="530.4" r="1.18" fill="#f3fafc"/>
<circle cx="363.8" cy="460.1" r="1.18" fill="#e0ecf4"/>
<circle cx="386.8" cy="480.7" r="1.18" fill="#d0e0ed"/>
<circle cx="401.0" cy="467.7" r="1.18" fill="#eef5f9"/>
<circle cx="434.5" cy="522.0" r="1.18" fill="#f3f9fb"/>
<circle cx="429.4" cy="496.0" r="1.18" fill="#c6d8e9"/>
<circle cx="392.4" cy="476.1" r="1.18" fill="#e5eff6"/>
<circle cx="394.8" cy="550.2" r="1.18" fill="#e1edf5"/>
<circle cx="389.0" cy="532.7" r="1.18" fill="#e3eef5"/>
<circle cx="405.5" cy="561.6" r="1.18" fill="#d3e2ee"/>
<circle cx="405.9" cy="563.2" r="1.18" fill="#dbe9f2"/>
<circle cx="372.5" cy="531.3" r="1.18" fill="#deeaf3"/>
<circle cx="409.1" cy="486.5" r="1.18" fill="#eef6f9"/>
<circle cx="362.0" cy="490.9" r="1.18" fill="#e6f0f6"/>
<circle cx="367.5" cy="455.4" r="1.18" fill="#e2edf5"/>
<circle cx="461.7" cy="518.4" r="1.18" fill="#f3fafc"/>
<circle cx="400.9" cy="486.0" r="1.18" fill="#f5fbfc"/>
<circle cx="367.6" cy="535.7" r="1.18" fill="#f5fafc"/>
<circle cx="406.2" cy="520.0" r="1.18" fill="#c3d6e8"/>
<circle cx="453.1" cy="538.1" r="1.18" fill="#f5fbfc"/>
<circle cx="359.5" cy="543.0" r="1.18" fill="#ccddec"/>
<circle cx="407.6" cy="457.9" r="1.18" fill="#f7fcfd"/>
<circle cx="365.5" cy="484.1" r="1.18" fill="#e5f0f6"/>
<circle cx="398.4" cy="504.9" r="1.18" fill="#e8f1f7"/>
<circle cx="455.4" cy="541.9" r="1.18" fill="#eff6fa"/>
<circle cx="402.9" cy="488.5" r="1.18" fill="#eef5f9"/>
<circle cx="359.7" cy="509.5" r="1.18" fill="#e8f2f7"/>
<circle cx="397.4" cy="475.3" r="1.18" fill="#d1e1ee"/>
<circle cx="396.3" cy="480.9" r="1.18" fill="#e5eff6"/>
<circle cx="476.9" cy="564.3" r="1.18" fill="#e8f1f7"/>
<circle cx="404.9" cy="456.5" r="1.18" fill="#f0f7fa"/>
<circle cx="455.3" cy="545.7" r="1.18" fill="#e5f0f6"/>
<circle cx="386.3" cy="526.9" r="1.18" fill="#c9daea"/>
<circle cx="404.1" cy="503.0" r="1.18" fill="#d5e4ef"/>
<circle cx="360.7" cy="517.4" r="1.18" fill="#ecf4f9"/>
<circle cx="399.6" cy="563.7" r="1.18" fill="#f2f9fb"/>
<circle cx="389.8" cy="488.2" r="1.18" fill="#d7e5f0"/>
<circle cx="368.0" cy="499.8" r="1.18" fill="#f1f8fb"/>
<circle cx="449.8" cy="537.0" r="1.18" fill="#d7e6f0"/>
<circle cx="389.1" cy="552.1" r="1.18" fill="#e5f0f6"/>
<circle cx="478.1" cy="555.2" r="1.18" fill="#eef6fa"/>
<circle cx="410.8" cy="456.9" r="1.18" fill="#eaf3f8"/>
<circle cx="427.7" cy="563.3" r="1.18" fill="#cdddec"/>
<circle cx="401.7" cy="565.0" r="1.18" fill="#dfebf4"/>
<circle cx="403.4" cy="509.6" r="1.18" fill="#dbe8f2"/>
<circle cx="451.5" cy="503.4" r="1.18" fill="#e1edf4"/>
<circle cx="478.8" cy="539.0" r="1.18" fill="#f4fafc"/>
<circle cx="453.8" cy="531.4" r="1.18" fill="#cfdfed"/>
<circle cx="445.0" cy="562.3" r="1.18" fill="#d1e0ee"/>
<circle cx="437.8" cy="554.9" r="1.18" fill="#a4c0dc"/>
<circle cx="484.2" cy="512.1" r="1.18" fill="#dae8f2"/>
<circle cx="427.2" cy="559.3" r="1.18" fill="#b3cbe2"/>
<circle cx="453.6" cy="518.9" r="1.18" fill="#f5fbfc"/>
<circle cx="465.7" cy="556.0" r="1.18" fill="#dbe8f2"/>
<circle cx="390.9" cy="562.3" r="1.18" fill="#e0ecf4"/>
<circle cx="426.9" cy="550.1" r="1.18" fill="#ebf4f8"/>
<circle cx="366.7" cy="463.8" r="1.18" fill="#d8e6f1"/>
<circle cx="387.1" cy="490.9" r="1.18" fill="#f1f8fb"/>
<circle cx="372.2" cy="497.3" r="1.18" fill="#c8daea"/>
<circle cx="382.4" cy="511.2" r="1.18" fill="#99b1d4"/>
<circle cx="435.3" cy="515.2" r="1.18" fill="#d3e2ef"/>
<circle cx="401.6" cy="549.2" r="1.18" fill="#f1f8fb"/>
<circle cx="372.8" cy="536.3" r="1.18" fill="#edf5f9"/>
<circle cx="368.8" cy="518.8" r="1.18" fill="#c5d8e9"/>
<circle cx="362.8" cy="510.4" r="1.18" fill="#bfd3e6"/>
<circle cx="453.4" cy="528.9" r="1.18" fill="#e2edf5"/>
<circle cx="361.2" cy="544.4" r="1.18" fill="#e7f1f7"/>
<circle cx="373.0" cy="497.3" r="1.18" fill="#aec7e0"/>
<circle cx="461.8" cy="525.3" r="1.18" fill="#e0ecf4"/>
<circle cx="467.7" cy="530.5" r="1.18" fill="#d5e3ef"/>
<circle cx="388.2" cy="557.2" r="1.18" fill="#cadbeb"/>
<circle cx="445.1" cy="497.7" r="1.18" fill="#aec7e0"/>
<circle cx="382.4" cy="514.3" r="1.18" fill="#c8daea"/>
<circle cx="473.3" cy="546.2" r="1.18" fill="#dce9f2"/>
<circle cx="464.5" cy="541.9" r="1.18" fill="#deeaf3"/>
<circle cx="360.4" cy="473.4" r="1.18" fill="#edf5f9"/>
<circle cx="383.9" cy="540.2" r="1.18" fill="#e1ecf4"/>
<circle cx="401.1" cy="494.0" r="1.18" fill="#b6cde3"/>
<circle cx="396.0" cy="540.4" r="1.18" fill="#e1edf4"/>
<circle cx="472.1" cy="495.1" r="1.18" fill="#bfd3e6"/>
<circle cx="376.3" cy="563.4" r="1.18" fill="#c0d4e7"/>
<circle cx="364.1" cy="472.5" r="1.18" fill="#f6fbfd"/>
<circle cx="489.6" cy="543.9" r="1.18" fill="#ccddec"/>
<circle cx="429.2" cy="503.5" r="1.18" fill="#a4c0dc"/>
<circle cx="395.1" cy="562.0" r="1.18" fill="#d0e0ed"/>
<circle cx="461.4" cy="540.6" r="1.18" fill="#ddeaf3"/>
<circle cx="388.9" cy="454.1" r="1.18" fill="#cfdfed"/>
<circle cx="452.1" cy="559.3" r="1.18" fill="#e1ecf4"/>
<circle cx="387.9" cy="479.4" r="1.18" fill="#cadceb"/>
<circle cx="445.3" cy="534.5" r="1.18" fill="#f5fafc"/>
<circle cx="399.6" cy="471.4" r="1.18" fill="#e8f2f7"/>
<circle cx="387.8" cy="480.7" r="1.18" fill="#bed2e6"/>
<circle cx="392.3" cy="460.5" r="1.18" fill="#bdd1e5"/>
<circle cx="411.8" cy="493.9" r="1.18" fill="#eef6fa"/>
<circle cx="384.6" cy="465.7" r="1.18" fill="#e7f1f7"/>
<circle cx="394.1" cy="455.8" r="1.18" fill="#e0ecf4"/>
<circle cx="464.7" cy="513.1" r="1.18" fill="#ccddeb"/>
<circle cx="465.8" cy="557.3" r="1.18" fill="#cadbeb"/>
<circle cx="440.8" cy="550.0" r="1.18" fill="#eaf3f8"/>
<circle cx="368.2" cy="557.5" r="1.18" fill="#afc8e0"/>
<circle cx="383.3" cy="554.2" r="1.18" fill="#cedeec"/>
<circle cx="466.8" cy="501.9" r="1.18" fill="#c0d4e7"/>
<circle cx="435.6" cy="547.9" r="1.18" fill="#d0e0ed"/>
<circle cx="415.4" cy="554.6" r="1.18" fill="#bbd0e5"/>
<circle cx="418.8" cy="472.6" r="1.18" fill="#e9f2f7"/>
<circle cx="363.2" cy="550.9" r="1.18" fill="#c8daea"/>
<circle cx="414.2" cy="528.1" r="1.18" fill="#f0f7fa"/>
<circle cx="362.5" cy="563.3" r="1.18" fill="#e8f1f7"/>
<circle cx="368.9" cy="564.8" r="1.18" fill="#c6d8e9"/>
<circle cx="367.2" cy="456.4" r="1.18" fill="#cadbeb"/>
<circle cx="397.2" cy="505.4" r="1.18" fill="#edf5f9"/>
<circle cx="359.7" cy="537.7" r="1.18" fill="#cadbea"/>
<circle cx="446.6" cy="529.7" r="1.18" fill="#b7cee3"/>
<circle cx="386.3" cy="485.4" r="1.18" fill="#d2e1ee"/>
<circle cx="461.4" cy="525.8" r="1.18" fill="#d3e2ee"/>
<circle cx="417.0" cy="503.1" r="1.18" fill="#f2f9fb"/>
<circle cx="390.5" cy="486.8" r="1.18" fill="#eaf3f8"/>
<circle cx="398.2" cy="523.0" r="1.18" fill="#e5f0f6"/>
<circle cx="416.1" cy="538.5" r="1.18" fill="#ddeaf3"/>
<circle cx="385.6" cy="467.0" r="1.18" fill="#f5fafc"/>
<circle cx="474.8" cy="496.4" r="1.18" fill="#d0e0ed"/>
<circle cx="361.2" cy="515.0" r="1.18" fill="#c7d9e9"/>
<circle cx="463.7" cy="546.1" r="1.18" fill="#adc7e0"/>
<circle cx="395.9" cy="454.4" r="1.18" fill="#dbe8f2"/>
<circle cx="416.1" cy="453.8" r="1.18" fill="#c9daea"/>
<circle cx="448.9" cy="549.2" r="1.18" fill="#dfebf4"/>
<circle cx="413.2" cy="563.6" r="1.18" fill="#c8daea"/>
<circle cx="489.8" cy="557.9" r="1.18" fill="#dae7f1"/>
<circle cx="402.6" cy="517.1" r="1.18" fill="#adc7e0"/>
<circle cx="380.5" cy="510.8" r="1.18" fill="#b7cde3"/>
<circle cx="414.2" cy="541.4" r="1.18" fill="#cfdfed"/>
<circle cx="421.6" cy="506.0" r="1.18" fill="#f4fafc"/>
<circle cx="367.4" cy="459.8" r="1.18" fill="#eff6fa"/>
<circle cx="410.6" cy="563.6" r="1.18" fill="#d6e4f0"/>
<circle cx="445.1" cy="564.0" r="1.18" fill="#d6e4f0"/>
<circle cx="454.4" cy="498.6" r="1.18" fill="#a9c3de"/>
<circle cx="363.5" cy="460.5" r="1.18" fill="#bbd0e4"/>
<circle cx="486.5" cy="563.1" r="1.18" fill="#e5f0f6"/>
<circle cx="393.4" cy="538.1" r="1.18" fill="#eaf3f8"/>
<circle cx="417.0" cy="470.6" r="1.18" fill="#d9e7f1"/>
<circle cx="396.2" cy="560.3" r="1.18" fill="#cddeec"/>
<circle cx="474.0" cy="553.7" r="1.18" fill="#c9daea"/>
<circle cx="466.6" cy="557.4" r="1.18" fill="#b4cce2"/>
<circle cx="411.4" cy="483.3" r="1.18" fill="#aec7e0"/>
<circle cx="382.9" cy="475.9" r="1.18" fill="#b2cae1"/>
<circle cx="460.7" cy="527.5" r="1.18" fill="#dce9f2"/>
<circle cx="361.6" cy="550.4" r="1.18" fill="#abc5df"/>
<circle cx="390.3" cy="560.7" r="1.18" fill="#d9e7f1"/>
<circle cx="480.2" cy="518.5" r="1.18" fill="#abc5df"/>
<circle cx="455.2" cy="534.4" r="1.18" fill="#ccddeb"/>
<circle cx="383.3" cy="469.8" r="1.18" fill="#b0c8e0"/>
<circle cx="374.9" cy="517.2" r="1.18" fill="#bfd3e6"/>
<circle cx="406.5" cy="456.8" r="1.18" fill="#e3eef5"/>
<circle cx="463.1" cy="552.0" r="1.18" fill="#9fbdda"/>
<circle cx="464.7" cy="546.6" r="1.18" fill="#aec7e0"/>
<circle cx="386.0" cy="545.0" r="1.18" fill="#97add2"/>
<circle cx="379.0" cy="512.6" r="1.18" fill="#b8cee3"/>
<circle cx="399.2" cy="482.7" r="1.18" fill="#e3eef5"/>
<circle cx="390.1" cy="483.7" r="1.18" fill="#cadceb"/>
<circle cx="408.9" cy="536.1" r="1.18" fill="#d3e2ee"/>
<circle cx="430.8" cy="546.7" r="1.18" fill="#b6cde3"/>
<circle cx="473.6" cy="554.2" r="1.18" fill="#bcd1e5"/>
<circle cx="372.1" cy="485.1" r="1.18" fill="#d1e1ee"/>
<circle cx="366.6" cy="561.5" r="1.18" fill="#d9e7f1"/>
<circle cx="366.3" cy="531.0" r="1.18" fill="#f3f9fb"/>
<circle cx="438.9" cy="542.3" r="1.18" fill="#c8daea"/>
<circle cx="491.2" cy="523.6" r="1.18" fill="#9cb7d8"/>
<circle cx="367.9" cy="564.5" r="1.18" fill="#d7e5f0"/>
<circle cx="409.6" cy="456.8" r="1.18" fill="#b4cce2"/>
<circle cx="392.2" cy="477.8" r="1.18" fill="#b7cde3"/>
<circle cx="456.5" cy="522.6" r="1.18" fill="#eff7fa"/>
<circle cx="394.1" cy="459.7" r="1.18" fill="#e3eef5"/>
<circle cx="361.5" cy="480.3" r="1.18" fill="#c0d4e6"/>
<circle cx="453.0" cy="502.4" r="1.18" fill="#aac4de"/>
<circle cx="401.3" cy="460.5" r="1.18" fill="#dae7f1"/>
<circle cx="458.1" cy="556.0" r="1.18" fill="#f0f7fa"/>
<circle cx="380.3" cy="512.7" r="1.18" fill="#ecf4f9"/>
<circle cx="374.1" cy="555.9" r="1.18" fill="#a7c3dd"/>
<circle cx="455.6" cy="550.9" r="1.18" fill="#d5e4ef"/>
<circle cx="381.2" cy="540.1" r="1.18" fill="#9ab5d6"/>
<circle cx="444.1" cy="559.5" r="1.18" fill="#93a5ce"/>
<circle cx="488.2" cy="492.5" r="1.18" fill="#e6f0f6"/>
<circle cx="451.1" cy="544.8" r="1.18" fill="#dbe8f2"/>
<circle cx="481.9" cy="546.8" r="1.18" fill="#b9cfe4"/>
<circle cx="363.6" cy="461.6" r="1.18" fill="#b0c8e0"/>
<circle cx="463.8" cy="553.7" r="1.18" fill="#c7d9e9"/>
<circle cx="392.7" cy="531.8" r="1.18" fill="#dae7f1"/>
<circle cx="414.5" cy="547.9" r="1.18" fill="#d2e2ee"/>
<circle cx="375.8" cy="456.6" r="1.18" fill="#d6e4f0"/>
<circle cx="443.9" cy="533.1" r="1.18" fill="#dce9f2"/>
<circle cx="467.8" cy="519.1" r="1.18" fill="#e7f1f7"/>
<circle cx="439.9" cy="554.1" r="1.18" fill="#d0e0ed"/>
<circle cx="448.5" cy="563.5" r="1.18" fill="#dae8f1"/>
<circle cx="389.3" cy="556.2" r="1.18" fill="#a4c0dc"/>
<circle cx="466.9" cy="565.8" r="1.18" fill="#b7cde3"/>
<circle cx="443.7" cy="561.3" r="1.18" fill="#c2d5e7"/>
<circle cx="415.8" cy="557.0" r="1.18" fill="#b8cee3"/>
<circle cx="394.2" cy="486.5" r="1.18" fill="#c4d7e8"/>
<circle cx="414.3" cy="459.9" r="1.18" fill="#e2eef5"/>
<circle cx="450.1" cy="535.6" r="1.18" fill="#dbe9f2"/>
<circle cx="484.9" cy="559.9" r="1.18" fill="#c6d8e9"/>
<circle cx="454.9" cy="514.4" r="1.18" fill="#d3e2ee"/>
<circle cx="449.4" cy="532.3" r="1.18" fill="#ccddeb"/>
<circle cx="396.5" cy="507.6" r="1.18" fill="#bed2e5"/>
<circle cx="461.8" cy="566.1" r="1.18" fill="#b8cee3"/>
<circle cx="375.7" cy="554.9" r="1.18" fill="#cbdceb"/>
<circle cx="475.6" cy="562.4" r="1.18" fill="#c7d9e9"/>
<circle cx="391.9" cy="462.3" r="1.18" fill="#9bb6d7"/>
<circle cx="363.0" cy="453.8" r="1.18" fill="#9ebcda"/>
<circle cx="406.7" cy="545.5" r="1.18" fill="#b0c9e1"/>
<circle cx="382.8" cy="506.3" r="1.18" fill="#c1d5e7"/>
<circle cx="452.2" cy="556.1" r="1.18" fill="#e1edf4"/>
<circle cx="448.9" cy="516.3" r="1.18" fill="#abc5df"/>
<circle cx="362.6" cy="556.3" r="1.18" fill="#d9e6f1"/>
<circle cx="362.7" cy="458.2" r="1.18" fill="#d6e5f0"/>
<circle cx="366.5" cy="489.0" r="1.18" fill="#dce9f2"/>
<circle cx="466.9" cy="561.8" r="1.18" fill="#c5d7e8"/>
<circle cx="379.6" cy="551.2" r="1.18" fill="#e1edf4"/>
<circle cx="362.7" cy="532.7" r="1.18" fill="#d5e4ef"/>
<circle cx="386.0" cy="499.7" r="1.18" fill="#f1f8fa"/>
<circle cx="388.0" cy="527.3" r="1.18" fill="#c6d8e9"/>
<circle cx="443.9" cy="562.9" r="1.18" fill="#e2eef5"/>
<circle cx="412.7" cy="514.7" r="1.18" fill="#c2d5e7"/>
<circle cx="453.0" cy="507.5" r="1.18" fill="#ebf3f8"/>
<circle cx="369.0" cy="560.2" r="1.18" fill="#ccddeb"/>
<circle cx="412.2" cy="532.4" r="1.18" fill="#cadceb"/>
<circle cx="442.8" cy="537.6" r="1.18" fill="#bbd0e5"/>
<circle cx="413.9" cy="536.8" r="1.18" fill="#c5d8e9"/>
<circle cx="427.0" cy="558.2" r="1.18" fill="#deebf3"/>
<circle cx="473.1" cy="532.2" r="1.18" fill="#cedfed"/>
<circle cx="399.0" cy="563.0" r="1.18" fill="#97add2"/>
<circle cx="416.5" cy="506.1" r="1.18" fill="#bbd0e4"/>
<circle cx="420.2" cy="501.0" r="1.18" fill="#d2e1ee"/>
<circle cx="405.1" cy="560.1" r="1.18" fill="#c2d5e7"/>
<circle cx="486.1" cy="544.2" r="1.18" fill="#c7d9ea"/>
<circle cx="400.8" cy="550.6" r="1.18" fill="#99b0d4"/>
<circle cx="376.4" cy="534.1" r="1.18" fill="#d5e4ef"/>
<circle cx="392.4" cy="480.3" r="1.18" fill="#d9e7f1"/>
<circle cx="403.2" cy="463.0" r="1.18" fill="#b4cbe2"/>
<circle cx="489.6" cy="540.1" r="1.18" fill="#e6f0f6"/>
<circle cx="411.5" cy="523.8" r="1.18" fill="#e3eef5"/>
<circle cx="417.6" cy="554.9" r="1.18" fill="#d4e3ef"/>
<circle cx="378.5" cy="506.7" r="1.18" fill="#d5e4ef"/>
<circle cx="374.0" cy="459.4" r="1.18" fill="#e3eef5"/>
<circle cx="376.1" cy="551.3" r="1.18" fill="#e5eff6"/>
<circle cx="361.8" cy="466.1" r="1.18" fill="#b3cbe2"/>
<circle cx="441.1" cy="562.3" r="1.18" fill="#f1f8fb"/>
<circle cx="399.1" cy="522.2" r="1.18" fill="#bacfe4"/>
<circle cx="411.8" cy="478.0" r="1.18" fill="#c4d7e8"/>
<circle cx="381.4" cy="460.8" r="1.18" fill="#ccdceb"/>
<circle cx="392.5" cy="555.2" r="1.18" fill="#d1e0ee"/>
<circle cx="432.6" cy="504.1" r="1.18" fill="#bcd1e5"/>
<circle cx="376.6" cy="551.5" r="1.18" fill="#e2edf5"/>
<circle cx="385.1" cy="456.9" r="1.18" fill="#d5e4ef"/>
<circle cx="463.1" cy="554.7" r="1.18" fill="#cfdfed"/>
<circle cx="404.8" cy="558.4" r="1.18" fill="#c6d8e9"/>
<circle cx="487.9" cy="508.7" r="1.18" fill="#b0c9e1"/>
<circle cx="383.2" cy="552.3" r="1.18" fill="#c9dbea"/>
<circle cx="416.0" cy="526.6" r="1.18" fill="#aec7e0"/>
<circle cx="384.4" cy="488.3" r="1.18" fill="#d9e7f1"/>
<circle cx="361.2" cy="556.3" r="1.18" fill="#c2d5e7"/>
<circle cx="359.7" cy="470.6" r="1.18" fill="#cedeec"/>
<circle cx="383.3" cy="514.9" r="1.18" fill="#bacfe4"/>
<circle cx="413.5" cy="479.7" r="1.18" fill="#d0e0ed"/>
<circle cx="417.0" cy="560.6" r="1.18" fill="#b6cde3"/>
<circle cx="472.7" cy="556.1" r="1.18" fill="#dbe8f2"/>
<circle cx="448.5" cy="541.3" r="1.18" fill="#cfdfed"/>
<circle cx="486.2" cy="533.7" r="1.18" fill="#cfdfed"/>
<circle cx="380.0" cy="552.7" r="1.18" fill="#b9cfe4"/>
<circle cx="362.2" cy="562.9" r="1.18" fill="#dde9f3"/>
<circle cx="485.1" cy="508.1" r="1.18" fill="#bcd1e5"/>
<circle cx="429.8" cy="557.5" r="1.18" fill="#bbd0e5"/>
<circle cx="360.8" cy="559.0" r="1.18" fill="#c8daea"/>
<circle cx="399.8" cy="486.3" r="1.18" fill="#ddeaf3"/>
<circle cx="467.8" cy="493.6" r="1.18" fill="#abc5df"/>
<circle cx="382.9" cy="562.4" r="1.18" fill="#cfdfed"/>
<circle cx="377.2" cy="483.1" r="1.18" fill="#a5c1dd"/>
<circle cx="371.0" cy="478.6" r="1.18" fill="#eaf3f8"/>
<circle cx="446.0" cy="557.2" r="1.18" fill="#dae7f1"/>
<circle cx="378.6" cy="550.2" r="1.18" fill="#a8c3dd"/>
<circle cx="449.0" cy="507.8" r="1.18" fill="#c7d9e9"/>
<circle cx="394.5" cy="473.5" r="1.18" fill="#a1bedb"/>
<circle cx="442.8" cy="532.5" r="1.18" fill="#a3bfdc"/>
<circle cx="367.0" cy="508.6" r="1.18" fill="#c8daea"/>
<circle cx="359.6" cy="469.3" r="1.18" fill="#c8daea"/>
<circle cx="397.3" cy="557.1" r="1.18" fill="#b0c8e0"/>
<circle cx="408.5" cy="554.1" r="1.18" fill="#b4cce2"/>
<circle cx="386.6" cy="525.7" r="1.18" fill="#cddeec"/>
<circle cx="381.9" cy="519.8" r="1.18" fill="#b6cde3"/>
<circle cx="388.5" cy="475.5" r="1.18" fill="#d9e7f1"/>
<circle cx="366.7" cy="559.4" r="1.18" fill="#ebf3f8"/>
<circle cx="399.8" cy="492.5" r="1.18" fill="#9dbad9"/>
<circle cx="427.4" cy="499.3" r="1.18" fill="#d6e5f0"/>
<circle cx="409.6" cy="471.2" r="1.18" fill="#dfebf4"/>
<circle cx="361.8" cy="486.9" r="1.18" fill="#eaf3f8"/>
<circle cx="432.0" cy="518.7" r="1.18" fill="#c0d4e6"/>
<circle cx="406.6" cy="561.7" r="1.18" fill="#afc8e0"/>
<circle cx="413.2" cy="561.1" r="1.18" fill="#adc7df"/>
<circle cx="439.5" cy="513.3" r="1.18" fill="#ccddec"/>
<circle cx="371.5" cy="493.9" r="1.18" fill="#deeaf3"/>
<circle cx="417.6" cy="554.3" r="1.18" fill="#c1d4e7"/>
<circle cx="409.4" cy="487.6" r="1.18" fill="#a1bedb"/>
<circle cx="457.8" cy="509.3" r="1.18" fill="#dbe8f2"/>
<circle cx="459.1" cy="498.6" r="1.18" fill="#9bb6d7"/>
<circle cx="374.3" cy="466.7" r="1.18" fill="#9dbad9"/>
<circle cx="463.0" cy="562.4" r="1.18" fill="#b2cae1"/>
<circle cx="473.3" cy="564.0" r="1.18" fill="#a6c2dd"/>
<circle cx="404.5" cy="469.6" r="1.18" fill="#8c90c3"/>
<circle cx="418.3" cy="507.7" r="1.18" fill="#a8c3de"/>
<circle cx="404.0" cy="539.1" r="1.18" fill="#d0e0ed"/>
<circle cx="404.9" cy="462.1" r="1.18" fill="#c3d6e8"/>
<circle cx="397.0" cy="557.8" r="1.18" fill="#d9e7f1"/>
<circle cx="368.6" cy="496.3" r="1.18" fill="#dae7f1"/>
<circle cx="470.9" cy="537.3" r="1.18" fill="#c2d5e7"/>
<circle cx="413.7" cy="490.9" r="1.18" fill="#b7cde3"/>
<circle cx="428.3" cy="527.9" r="1.18" fill="#92a3cd"/>
<circle cx="363.7" cy="561.5" r="1.18" fill="#acc6df"/>
<circle cx="384.1" cy="471.0" r="1.18" fill="#b9cfe4"/>
<circle cx="469.3" cy="532.2" r="1.18" fill="#b1cae1"/>
<circle cx="386.7" cy="538.8" r="1.18" fill="#a8c3de"/>
<circle cx="489.9" cy="505.5" r="1.18" fill="#c6d9e9"/>
<circle cx="420.2" cy="473.0" r="1.18" fill="#c3d6e8"/>
<circle cx="401.0" cy="541.6" r="1.18" fill="#bcd1e5"/>
<circle cx="381.7" cy="466.1" r="1.18" fill="#f2f9fb"/>
<circle cx="364.8" cy="473.3" r="1.18" fill="#a3c0dc"/>
<circle cx="363.3" cy="533.5" r="1.18" fill="#b4cbe2"/>
<circle cx="371.5" cy="483.5" r="1.18" fill="#f0f7fa"/>
<circle cx="452.3" cy="557.9" r="1.18" fill="#c3d6e8"/>
<circle cx="415.5" cy="470.1" r="1.18" fill="#cadbea"/>
<circle cx="402.0" cy="497.4" r="1.18" fill="#9dbad9"/>
<circle cx="365.7" cy="557.5" r="1.18" fill="#a8c3de"/>
<circle cx="424.5" cy="540.4" r="1.18" fill="#adc6df"/>
<circle cx="395.7" cy="553.0" r="1.18" fill="#91a0cb"/>
<circle cx="389.5" cy="554.5" r="1.18" fill="#c1d5e7"/>
<circle cx="362.5" cy="505.0" r="1.18" fill="#e9f2f7"/>
<circle cx="452.0" cy="557.4" r="1.18" fill="#94a7cf"/>
<circle cx="449.8" cy="499.8" r="1.18" fill="#d0e0ed"/>
<circle cx="380.5" cy="482.3" r="1.18" fill="#94a7cf"/>
<circle cx="396.7" cy="478.2" r="1.18" fill="#a4c0dc"/>
<circle cx="407.5" cy="457.8" r="1.18" fill="#b2cae1"/>
<circle cx="366.8" cy="531.0" r="1.18" fill="#cadceb"/>
<circle cx="361.8" cy="458.0" r="1.18" fill="#d4e3ef"/>
<circle cx="378.4" cy="555.6" r="1.18" fill="#a2bfdb"/>
<circle cx="373.1" cy="524.7" r="1.18" fill="#eef5f9"/>
<circle cx="359.4" cy="548.7" r="1.18" fill="#9ebbda"/>
<circle cx="401.1" cy="558.8" r="1.18" fill="#cadceb"/>
<circle cx="420.2" cy="558.8" r="1.18" fill="#abc5df"/>
<circle cx="360.7" cy="463.6" r="1.18" fill="#a7c2dd"/>
<circle cx="403.6" cy="460.4" r="1.18" fill="#9fbcda"/>
<circle cx="379.4" cy="467.3" r="1.18" fill="#d7e5f0"/>
<circle cx="486.3" cy="560.1" r="1.18" fill="#b9cfe4"/>
<circle cx="471.4" cy="552.6" r="1.18" fill="#b6cde3"/>
<circle cx="369.7" cy="482.3" r="1.18" fill="#91a1cc"/>
<circle cx="366.3" cy="457.0" r="1.18" fill="#a9c4de"/>
<circle cx="391.7" cy="491.8" r="1.18" fill="#b6cde3"/>
<circle cx="489.9" cy="554.6" r="1.18" fill="#9ebbda"/>
<circle cx="383.4" cy="517.8" r="1.18" fill="#8c8fc3"/>
<circle cx="382.5" cy="465.4" r="1.18" fill="#9ebcda"/>
<circle cx="401.3" cy="492.6" r="1.18" fill="#ccddec"/>
<circle cx="386.3" cy="474.7" r="1.18" fill="#d2e2ee"/>
<circle cx="480.3" cy="560.3" r="1.18" fill="#c5d7e8"/>
<circle cx="393.4" cy="492.9" r="1.18" fill="#bbd0e5"/>
<circle cx="363.7" cy="560.4" r="1.18" fill="#b4cbe2"/>
<circle cx="401.4" cy="457.2" r="1.18" fill="#bcd1e5"/>
<circle cx="383.2" cy="521.3" r="1.18" fill="#b0c9e1"/>
<circle cx="408.9" cy="500.6" r="1.18" fill="#8c80bb"/>
<circle cx="454.9" cy="556.7" r="1.18" fill="#94a7cf"/>
<circle cx="445.6" cy="497.1" r="1.18" fill="#eff7fa"/>
<circle cx="445.2" cy="554.2" r="1.18" fill="#c3d6e8"/>
<circle cx="399.7" cy="557.5" r="1.18" fill="#8c96c6"/>
<circle cx="468.3" cy="505.4" r="1.18" fill="#d1e0ed"/>
<circle cx="415.2" cy="466.6" r="1.18" fill="#8c96c6"/>
<circle cx="390.3" cy="458.6" r="1.18" fill="#c2d5e7"/>
<circle cx="413.6" cy="524.2" r="1.18" fill="#909eca"/>
<circle cx="466.4" cy="506.3" r="1.18" fill="#cfdfed"/>
<circle cx="370.0" cy="476.7" r="1.18" fill="#c3d6e8"/>
<circle cx="451.8" cy="516.6" r="1.18" fill="#c3d6e8"/>
<circle cx="382.3" cy="480.8" r="1.18" fill="#c1d5e7"/>
<circle cx="390.9" cy="511.2" r="1.18" fill="#9dbad9"/>
<circle cx="473.1" cy="565.6" r="1.18" fill="#99b1d4"/>
<circle cx="370.2" cy="483.2" r="1.18" fill="#b0c8e0"/>
<circle cx="413.3" cy="480.2" r="1.18" fill="#b8cee3"/>
<circle cx="397.8" cy="479.8" r="1.18" fill="#a3c0dc"/>
<circle cx="440.5" cy="560.2" r="1.18" fill="#c6d9e9"/>
<circle cx="411.5" cy="559.9" r="1.18" fill="#93a4ce"/>
<circle cx="388.3" cy="532.3" r="1.18" fill="#b8cee3"/>
<circle cx="403.8" cy="554.6" r="1.18" fill="#99b2d5"/>
<circle cx="370.5" cy="466.2" r="1.18" fill="#d2e2ee"/>
<circle cx="413.5" cy="549.7" r="1.18" fill="#a9c4de"/>
<circle cx="401.0" cy="463.9" r="1.18" fill="#abc5df"/>
<circle cx="399.5" cy="465.1" r="1.18" fill="#9cb8d8"/>
<circle cx="401.0" cy="506.0" r="1.18" fill="#a5c1dd"/>
<circle cx="396.7" cy="500.2" r="1.18" fill="#e4eff5"/>
<circle cx="370.0" cy="561.1" r="1.18" fill="#a5c1dc"/>
<circle cx="414.0" cy="537.1" r="1.18" fill="#c6d8e9"/>
<circle cx="371.9" cy="469.9" r="1.18" fill="#a1bedb"/>
<circle cx="373.3" cy="542.0" r="1.18" fill="#aec7e0"/>
<circle cx="412.4" cy="557.9" r="1.18" fill="#8f9cc9"/>
<circle cx="423.3" cy="553.4" r="1.18" fill="#a8c3dd"/>
<circle cx="480.9" cy="555.4" r="1.18" fill="#96abd1"/>
<circle cx="385.2" cy="512.8" r="1.18" fill="#b6cde3"/>
<circle cx="452.7" cy="544.8" r="1.18" fill="#b6cde3"/>
<circle cx="369.6" cy="479.4" r="1.18" fill="#afc8e0"/>
<circle cx="432.0" cy="547.0" r="1.18" fill="#b2cae1"/>
<circle cx="395.7" cy="551.2" r="1.18" fill="#c1d4e7"/>
<circle cx="360.8" cy="561.1" r="1.18" fill="#a0bedb"/>
<circle cx="375.5" cy="546.4" r="1.18" fill="#95a9d0"/>
<circle cx="362.5" cy="550.2" r="1.18" fill="#cedeec"/>
<circle cx="404.1" cy="550.7" r="1.18" fill="#9cb8d8"/>
<circle cx="366.7" cy="535.6" r="1.18" fill="#a0bddb"/>
<circle cx="421.4" cy="559.2" r="1.18" fill="#909fcb"/>
<circle cx="423.2" cy="551.5" r="1.18" fill="#8c90c3"/>
<circle cx="473.2" cy="543.1" r="1.18" fill="#a4c0dc"/>
<circle cx="415.2" cy="557.1" r="1.18" fill="#b6cde3"/>
<circle cx="367.8" cy="465.5" r="1.18" fill="#d6e5f0"/>
<circle cx="367.5" cy="541.1" r="1.18" fill="#9bb6d7"/>
<circle cx="393.6" cy="561.5" r="1.18" fill="#b0c8e0"/>
<circle cx="453.5" cy="544.8" r="1.18" fill="#b0c8e0"/>
<circle cx="472.8" cy="534.3" r="1.18" fill="#aec7e0"/>
<circle cx="392.8" cy="477.2" r="1.18" fill="#a8c3de"/>
<circle cx="380.3" cy="530.8" r="1.18" fill="#acc6df"/>
<circle cx="474.0" cy="551.7" r="1.18" fill="#a9c4de"/>
<circle cx="443.6" cy="504.9" r="1.18" fill="#a8c3de"/>
<circle cx="361.3" cy="559.4" r="1.18" fill="#a8c3de"/>
<circle cx="406.0" cy="562.2" r="1.18" fill="#98afd3"/>
<circle cx="411.1" cy="458.3" r="1.18" fill="#e4eff5"/>
<circle cx="458.8" cy="555.3" r="1.18" fill="#9ebbda"/>
<circle cx="475.0" cy="511.0" r="1.18" fill="#c3d6e8"/>
<circle cx="396.0" cy="482.1" r="1.18" fill="#909eca"/>
<circle cx="392.4" cy="483.6" r="1.18" fill="#909eca"/>
<circle cx="386.2" cy="453.9" r="1.18" fill="#97add2"/>
<circle cx="412.3" cy="560.7" r="1.18" fill="#b9cfe4"/>
<circle cx="446.6" cy="504.2" r="1.18" fill="#9ab4d6"/>
<circle cx="429.6" cy="559.9" r="1.18" fill="#8c93c4"/>
<circle cx="370.3" cy="455.8" r="1.18" fill="#a3c0dc"/>
<circle cx="396.5" cy="546.5" r="1.18" fill="#909eca"/>
<circle cx="411.8" cy="548.5" r="1.18" fill="#9ebbda"/>
<circle cx="453.8" cy="552.3" r="1.18" fill="#b4cbe2"/>
<circle cx="453.7" cy="533.8" r="1.18" fill="#8c88bf"/>
<circle cx="368.7" cy="562.1" r="1.18" fill="#99b2d5"/>
<circle cx="363.6" cy="551.5" r="1.18" fill="#9ebbda"/>
<circle cx="393.9" cy="566.2" r="1.18" fill="#a0bddb"/>
<circle cx="432.1" cy="539.2" r="1.18" fill="#aec7e0"/>
<circle cx="382.7" cy="538.3" r="1.18" fill="#8c82bc"/>
<circle cx="371.6" cy="486.1" r="1.18" fill="#909eca"/>
<circle cx="476.9" cy="552.5" r="1.18" fill="#8d99c8"/>
<circle cx="384.9" cy="472.9" r="1.18" fill="#a7c3dd"/>
<circle cx="480.2" cy="502.3" r="1.18" fill="#a8c3de"/>
<circle cx="403.5" cy="487.2" r="1.18" fill="#9dbbd9"/>
<circle cx="385.3" cy="549.1" r="1.18" fill="#a6c2dd"/>
<circle cx="414.6" cy="473.5" r="1.18" fill="#a4c0dc"/>
<circle cx="450.5" cy="520.8" r="1.18" fill="#9db9d8"/>
<circle cx="486.8" cy="546.9" r="1.18" fill="#8c88bf"/>
<circle cx="406.1" cy="554.6" r="1.18" fill="#95a9d0"/>
<circle cx="394.6" cy="534.6" r="1.18" fill="#8c7eba"/>
<circle cx="468.4" cy="528.7" r="1.18" fill="#9bb6d7"/>
<circle cx="486.7" cy="557.5" r="1.18" fill="#96abd1"/>
<circle cx="463.4" cy="552.2" r="1.18" fill="#9ebcda"/>
<circle cx="438.2" cy="528.5" r="1.18" fill="#91a0cb"/>
<circle cx="450.0" cy="559.8" r="1.18" fill="#9db9d8"/>
<circle cx="458.7" cy="559.0" r="1.18" fill="#acc6df"/>
<circle cx="394.8" cy="555.4" r="1.18" fill="#b0c9e1"/>
<circle cx="379.4" cy="539.9" r="1.18" fill="#96acd2"/>
<circle cx="472.8" cy="555.0" r="1.18" fill="#9fbcda"/>
<circle cx="418.6" cy="562.4" r="1.18" fill="#d2e1ee"/>
<circle cx="389.0" cy="548.6" r="1.18" fill="#8c8bc1"/>
<circle cx="375.9" cy="542.4" r="1.18" fill="#8c94c5"/>
<circle cx="478.2" cy="507.1" r="1.18" fill="#c0d4e7"/>
<circle cx="375.4" cy="554.9" r="1.18" fill="#8c8ec2"/>
<circle cx="440.7" cy="532.9" r="1.18" fill="#8c89c0"/>
<circle cx="368.2" cy="552.7" r="1.18" fill="#94a7cf"/>
<circle cx="403.2" cy="474.1" r="1.18" fill="#91a0cb"/>
<circle cx="379.9" cy="475.6" r="1.18" fill="#d0e0ed"/>
<circle cx="455.9" cy="563.9" r="1.18" fill="#a8c3de"/>
<circle cx="392.1" cy="560.0" r="1.18" fill="#94a7cf"/>
<circle cx="478.4" cy="550.2" r="1.18" fill="#8c93c4"/>
<circle cx="430.8" cy="549.8" r="1.18" fill="#8c95c6"/>
<circle cx="431.4" cy="542.6" r="1.18" fill="#9cb7d8"/>
<circle cx="452.5" cy="564.4" r="1.18" fill="#a8c3dd"/>
<circle cx="404.9" cy="546.5" r="1.18" fill="#98aed3"/>
<circle cx="384.0" cy="561.7" r="1.18" fill="#93a4ce"/>
<circle cx="379.7" cy="526.8" r="1.18" fill="#a5c1dc"/>
<circle cx="362.3" cy="528.1" r="1.18" fill="#bcd1e5"/>
<circle cx="410.2" cy="562.9" r="1.18" fill="#a2bfdc"/>
<circle cx="430.4" cy="562.5" r="1.18" fill="#95a8d0"/>
<circle cx="402.2" cy="457.6" r="1.18" fill="#abc5df"/>
<circle cx="403.4" cy="461.2" r="1.18" fill="#9db9d8"/>
<circle cx="378.9" cy="542.4" r="1.18" fill="#b2cae1"/>
<circle cx="469.9" cy="555.7" r="1.18" fill="#96abd1"/>
<circle cx="439.4" cy="563.3" r="1.18" fill="#91a0cb"/>
<circle cx="363.8" cy="481.1" r="1.18" fill="#8e9ac8"/>
<circle cx="410.9" cy="481.9" r="1.18" fill="#bbd0e5"/>
<circle cx="368.6" cy="529.1" r="1.18" fill="#b4cbe2"/>
<circle cx="436.0" cy="508.1" r="1.18" fill="#aec7e0"/>
<circle cx="371.3" cy="513.1" r="1.18" fill="#abc5df"/>
<circle cx="403.1" cy="479.1" r="1.18" fill="#93a5ce"/>
<circle cx="424.6" cy="541.8" r="1.18" fill="#92a3cd"/>
<circle cx="401.6" cy="551.5" r="1.18" fill="#a5c1dd"/>
<circle cx="432.5" cy="561.1" r="1.18" fill="#9db9d9"/>
<circle cx="376.0" cy="528.6" r="1.18" fill="#8e99c8"/>
<circle cx="399.7" cy="530.8" r="1.18" fill="#a1bedb"/>
<circle cx="368.1" cy="557.2" r="1.18" fill="#9ab4d6"/>
<circle cx="418.0" cy="473.6" r="1.18" fill="#93a4cd"/>
<circle cx="485.7" cy="502.9" r="1.18" fill="#97add2"/>
<circle cx="407.2" cy="557.1" r="1.18" fill="#94a7cf"/>
<circle cx="369.3" cy="467.2" r="1.18" fill="#95a9d0"/>
<circle cx="396.2" cy="471.0" r="1.18" fill="#98b0d4"/>
<circle cx="378.2" cy="523.6" r="1.18" fill="#98afd3"/>
<circle cx="386.0" cy="461.4" r="1.18" fill="#acc6df"/>
<circle cx="383.8" cy="554.4" r="1.18" fill="#92a3cd"/>
<circle cx="436.5" cy="550.8" r="1.18" fill="#8f9cc9"/>
<circle cx="403.4" cy="509.1" r="1.18" fill="#b1c9e1"/>
<circle cx="397.4" cy="536.9" r="1.18" fill="#93a5ce"/>
<circle cx="412.7" cy="505.4" r="1.18" fill="#9fbdda"/>
<circle cx="375.7" cy="556.9" r="1.18" fill="#a0bedb"/>
<circle cx="424.1" cy="538.5" r="1.18" fill="#8c91c4"/>
<circle cx="407.4" cy="555.2" r="1.18" fill="#8c87bf"/>
<circle cx="379.7" cy="518.0" r="1.18" fill="#9db9d8"/>
<circle cx="376.2" cy="561.7" r="1.18" fill="#8c70b4"/>
<circle cx="452.0" cy="552.4" r="1.18" fill="#8c96c6"/>
<circle cx="384.3" cy="492.0" r="1.18" fill="#8c7fbb"/>
<circle cx="423.8" cy="519.4" r="1.18" fill="#a5c1dd"/>
<circle cx="444.8" cy="551.1" r="1.18" fill="#8e9bc9"/>
<circle cx="398.9" cy="472.4" r="1.18" fill="#aac5df"/>
<circle cx="404.3" cy="561.2" r="1.18" fill="#8c8bc0"/>
<circle cx="447.1" cy="523.9" r="1.18" fill="#98b0d4"/>
<circle cx="372.9" cy="497.9" r="1.18" fill="#8c78b7"/>
<circle cx="411.5" cy="554.9" r="1.18" fill="#91a1cc"/>
<circle cx="435.8" cy="547.9" r="1.18" fill="#8c73b5"/>
<circle cx="403.8" cy="565.8" r="1.18" fill="#8c90c3"/>
<circle cx="361.6" cy="563.7" r="1.18" fill="#9bb5d6"/>
<circle cx="396.0" cy="457.5" r="1.18" fill="#909eca"/>
<circle cx="363.8" cy="493.2" r="1.18" fill="#8c6db2"/>
<circle cx="380.6" cy="512.1" r="1.18" fill="#8b63ad"/>
<circle cx="460.2" cy="541.4" r="1.18" fill="#8c8fc2"/>
<circle cx="413.0" cy="541.7" r="1.18" fill="#a0bddb"/>
<circle cx="368.4" cy="558.9" r="1.18" fill="#8e9bc8"/>
<circle cx="465.4" cy="550.0" r="1.18" fill="#8c82bc"/>
<circle cx="446.2" cy="561.6" r="1.18" fill="#8c96c6"/>
<circle cx="410.7" cy="467.7" r="1.18" fill="#8c84bd"/>
<circle cx="447.5" cy="543.6" r="1.18" fill="#8c89c0"/>
<circle cx="379.7" cy="491.6" r="1.18" fill="#8c76b6"/>
<circle cx="396.8" cy="460.1" r="1.18" fill="#8d98c7"/>
<circle cx="420.9" cy="516.8" r="1.18" fill="#8c7fbb"/>
<circle cx="480.0" cy="501.1" r="1.18" fill="#8c93c4"/>
<circle cx="434.1" cy="530.7" r="1.18" fill="#8c83bd"/>
<circle cx="390.7" cy="468.3" r="1.18" fill="#8c7dba"/>
<circle cx="394.0" cy="554.4" r="1.18" fill="#cadbeb"/>
<circle cx="360.7" cy="539.7" r="1.18" fill="#8f9dc9"/>
<circle cx="434.6" cy="541.7" r="1.18" fill="#94a7cf"/>
<circle cx="374.0" cy="557.2" r="1.18" fill="#8c7dba"/>
<circle cx="395.5" cy="497.7" r="1.18" fill="#93a6ce"/>
<circle cx="392.3" cy="520.3" r="1.18" fill="#8d98c7"/>
<circle cx="452.4" cy="552.6" r="1.18" fill="#8c80bb"/>
<circle cx="436.8" cy="535.8" r="1.18" fill="#8c74b6"/>
<circle cx="399.3" cy="491.0" r="1.18" fill="#8a59a9"/>
<circle cx="381.2" cy="485.1" r="1.18" fill="#8c96c6"/>
<circle cx="388.1" cy="539.7" r="1.18" fill="#99b2d5"/>
<circle cx="366.1" cy="459.8" r="1.18" fill="#8c92c4"/>
<circle cx="453.2" cy="546.9" r="1.18" fill="#8c85be"/>
<circle cx="372.8" cy="467.8" r="1.18" fill="#8c76b6"/>
<circle cx="432.3" cy="521.0" r="1.18" fill="#8c91c4"/>
<circle cx="488.5" cy="511.4" r="1.18" fill="#8b62ad"/>
<circle cx="407.6" cy="512.5" r="1.18" fill="#8c90c3"/>
<circle cx="490.5" cy="558.5" r="1.18" fill="#8a56a7"/>
<circle cx="388.0" cy="511.1" r="1.18" fill="#8a5aa9"/>
<circle cx="392.5" cy="490.2" r="1.18" fill="#93a5ce"/>
<circle cx="462.1" cy="558.2" r="1.18" fill="#8c6db2"/>
<circle cx="370.2" cy="539.6" r="1.18" fill="#909fcb"/>
<circle cx="391.3" cy="552.9" r="1.18" fill="#8c8bc1"/>
<circle cx="374.6" cy="563.2" r="1.18" fill="#8c8cc1"/>
<circle cx="466.5" cy="555.0" r="1.18" fill="#894ea3"/>
<circle cx="388.8" cy="470.7" r="1.18" fill="#8a58a8"/>
<circle cx="475.9" cy="560.0" r="1.18" fill="#8c79b8"/>
<circle cx="359.3" cy="509.0" r="1.18" fill="#883f9c"/>
<circle cx="384.9" cy="521.3" r="1.18" fill="#9ab3d5"/>
<circle cx="405.4" cy="532.6" r="1.18" fill="#a1bedb"/>
<circle cx="381.9" cy="555.5" r="1.18" fill="#9fbcda"/>
<circle cx="431.7" cy="565.4" r="1.18" fill="#8c8dc2"/>
<circle cx="432.9" cy="494.9" r="1.18" fill="#92a3cd"/>
<circle cx="417.2" cy="453.9" r="1.18" fill="#9dbbd9"/>
<circle cx="478.1" cy="549.0" r="1.18" fill="#8c94c5"/>
<circle cx="446.7" cy="503.5" r="1.18" fill="#8c73b5"/>
<circle cx="399.8" cy="466.9" r="1.18" fill="#91a0cb"/>
<circle cx="395.8" cy="492.1" r="1.18" fill="#8c96c6"/>
<circle cx="407.2" cy="485.8" r="1.18" fill="#8c7bb9"/>
<circle cx="372.9" cy="458.7" r="1.18" fill="#8c8cc1"/>
<circle cx="481.3" cy="540.5" r="1.18" fill="#8b5fab"/>
<circle cx="377.2" cy="560.9" r="1.18" fill="#8c96c6"/>
<circle cx="375.3" cy="482.8" r="1.18" fill="#88459f"/>
<circle cx="440.1" cy="559.5" r="1.18" fill="#8c66af"/>
<circle cx="426.4" cy="557.8" r="1.18" fill="#8d99c7"/>
<circle cx="386.7" cy="466.0" r="1.18" fill="#8c8cc1"/>
<circle cx="430.3" cy="556.5" r="1.18" fill="#91a1cc"/>
<circle cx="456.9" cy="559.6" r="1.18" fill="#8c7bb9"/>
<circle cx="383.3" cy="475.9" r="1.18" fill="#8a5ba9"/>
<circle cx="442.4" cy="554.5" r="1.18" fill="#9ab4d6"/>
<circle cx="433.2" cy="560.6" r="1.18" fill="#894da2"/>
<circle cx="402.1" cy="467.0" r="1.18" fill="#8c70b4"/>
<circle cx="434.6" cy="511.5" r="1.18" fill="#91a0cb"/>
<circle cx="381.1" cy="508.5" r="1.18" fill="#8c95c6"/>
<circle cx="450.0" cy="498.8" r="1.18" fill="#8c79b8"/>
<circle cx="378.1" cy="488.6" r="1.18" fill="#8b66ae"/>
<circle cx="404.0" cy="522.1" r="1.18" fill="#9ebcda"/>
<circle cx="378.4" cy="558.1" r="1.18" fill="#8c77b7"/>
<circle cx="439.7" cy="554.3" r="1.18" fill="#8b5daa"/>
<circle cx="410.8" cy="464.3" r="1.18" fill="#8c7ab8"/>
<circle cx="432.7" cy="552.3" r="1.18" fill="#8947a0"/>
<circle cx="409.0" cy="503.8" r="1.18" fill="#8c89c0"/>
<circle cx="389.2" cy="558.3" r="1.18" fill="#8c69b0"/>
<circle cx="447.0" cy="558.1" r="1.18" fill="#8c68af"/>
<circle cx="473.3" cy="556.9" r="1.18" fill="#8c81bc"/>
<circle cx="402.3" cy="473.9" r="1.18" fill="#8951a4"/>
<circle cx="396.8" cy="478.0" r="1.18" fill="#8c71b4"/>
<circle cx="442.9" cy="555.5" r="1.18" fill="#8c7fbb"/>
<circle cx="400.5" cy="482.8" r="1.18" fill="#8c83bd"/>
<circle cx="390.8" cy="546.5" r="1.18" fill="#894aa1"/>
<circle cx="380.9" cy="485.8" r="1.18" fill="#88409c"/>
<circle cx="470.6" cy="549.2" r="1.18" fill="#8c74b6"/>
<circle cx="490.0" cy="510.4" r="1.18" fill="#8c83bd"/>
<circle cx="386.4" cy="553.1" r="1.18" fill="#8c8ec2"/>
<circle cx="483.3" cy="518.6" r="1.18" fill="#88409c"/>
<circle cx="451.9" cy="542.2" r="1.18" fill="#8c80bb"/>
<circle cx="401.2" cy="474.0" r="1.18" fill="#873897"/>
<circle cx="404.2" cy="540.2" r="1.18" fill="#8a5aa9"/>
<circle cx="464.6" cy="529.6" r="1.18" fill="#8c96c6"/>
<circle cx="375.3" cy="467.4" r="1.18" fill="#883f9c"/>
<circle cx="477.8" cy="547.4" r="1.18" fill="#8e9bc9"/>
<circle cx="479.7" cy="548.9" r="1.18" fill="#8b61ac"/>
<circle cx="382.1" cy="488.8" r="1.18" fill="#8c7cb9"/>
<circle cx="364.0" cy="545.8" r="1.18" fill="#8c74b5"/>
<circle cx="420.2" cy="473.7" r="1.18" fill="#8c6bb1"/>
<circle cx="375.2" cy="488.5" r="1.18" fill="#8c66af"/>
<circle cx="461.4" cy="538.3" r="1.18" fill="#92a4cd"/>
<circle cx="369.4" cy="514.5" r="1.18" fill="#8c7dba"/>
<circle cx="458.6" cy="512.2" r="1.18" fill="#8b66ae"/>
<circle cx="413.6" cy="484.1" r="1.18" fill="#8c7cb9"/>
<circle cx="373.8" cy="528.0" r="1.18" fill="#863394"/>
<circle cx="418.7" cy="511.7" r="1.18" fill="#8c75b6"/>
<circle cx="381.1" cy="514.4" r="1.18" fill="#88429e"/>
<circle cx="411.5" cy="491.5" r="1.18" fill="#8a51a5"/>
<circle cx="388.5" cy="495.5" r="1.18" fill="#873796"/>
<circle cx="374.2" cy="469.7" r="1.18" fill="#883f9c"/>
<circle cx="379.3" cy="486.4" r="1.18" fill="#8c80bb"/>
<circle cx="417.7" cy="481.1" r="1.18" fill="#8b65ae"/>
<circle cx="366.5" cy="550.5" r="1.18" fill="#92a2cc"/>
<circle cx="458.4" cy="510.9" r="1.18" fill="#8a52a5"/>
<circle cx="380.1" cy="464.5" r="1.18" fill="#8c6eb3"/>
<circle cx="385.5" cy="460.5" r="1.18" fill="#8c7eba"/>
<circle cx="379.4" cy="492.3" r="1.18" fill="#94a6ce"/>
<circle cx="417.5" cy="470.3" r="1.18" fill="#8c71b4"/>
<circle cx="438.0" cy="559.7" r="1.18" fill="#8c7bb9"/>
<circle cx="418.6" cy="503.7" r="1.18" fill="#88419d"/>
<circle cx="360.8" cy="501.7" r="1.18" fill="#8b5caa"/>
<circle cx="399.4" cy="488.6" r="1.18" fill="#8d98c7"/>
<circle cx="427.2" cy="552.9" r="1.18" fill="#894ea3"/>
<circle cx="386.5" cy="531.7" r="1.18" fill="#8c71b4"/>
<circle cx="420.5" cy="534.9" r="1.18" fill="#84258b"/>
<circle cx="378.9" cy="463.6" r="1.18" fill="#88419d"/>
<circle cx="472.0" cy="559.0" r="1.18" fill="#8c8dc1"/>
<circle cx="380.7" cy="481.2" r="1.18" fill="#8c78b7"/>
<circle cx="390.0" cy="558.9" r="1.18" fill="#8c97c6"/>
<circle cx="455.5" cy="559.4" r="1.18" fill="#883f9b"/>
<circle cx="482.4" cy="551.7" r="1.18" fill="#8a53a5"/>
<circle cx="387.8" cy="556.4" r="1.18" fill="#821a83"/>
<circle cx="483.3" cy="526.2" r="1.18" fill="#8c7fbb"/>
<circle cx="476.9" cy="556.3" r="1.18" fill="#8c7fbb"/>
<circle cx="472.5" cy="555.6" r="1.18" fill="#8c74b6"/>
<circle cx="390.5" cy="554.3" r="1.18" fill="#8c8ac0"/>
<circle cx="387.7" cy="545.4" r="1.18" fill="#894ea3"/>
<circle cx="419.2" cy="542.4" r="1.18" fill="#8c7fbb"/>
<circle cx="445.6" cy="544.1" r="1.18" fill="#852d8f"/>
<circle cx="468.8" cy="559.8" r="1.18" fill="#852f91"/>
<circle cx="375.4" cy="473.3" r="1.18" fill="#81127e"/>
<circle cx="459.8" cy="554.2" r="1.18" fill="#780c73"/>
<circle cx="401.8" cy="504.6" r="1.18" fill="#8c7ab8"/>
<circle cx="397.4" cy="519.6" r="1.18" fill="#8b61ac"/>
<circle cx="389.2" cy="524.7" r="1.18" fill="#8c6eb2"/>
<circle cx="381.5" cy="552.8" r="1.18" fill="#8c7dba"/>
<circle cx="428.2" cy="536.6" r="1.18" fill="#8c7bb9"/>
<circle cx="375.1" cy="516.9" r="1.18" fill="#8b64ae"/>
<circle cx="437.2" cy="545.1" r="1.18" fill="#8947a0"/>
<circle cx="418.0" cy="506.7" r="1.18" fill="#810f7c"/>
<circle cx="366.4" cy="461.9" r="1.18" fill="#8a59a9"/>
<circle cx="386.4" cy="498.9" r="1.18" fill="#873a99"/>
<circle cx="432.5" cy="507.1" r="1.18" fill="#88469f"/>
<circle cx="382.1" cy="455.3" r="1.18" fill="#8a52a5"/>
<circle cx="387.3" cy="562.6" r="1.18" fill="#852a8e"/>
<circle cx="484.0" cy="562.6" r="1.18" fill="#8c80bb"/>
<circle cx="440.0" cy="552.8" r="1.18" fill="#84268b"/>
<circle cx="367.7" cy="513.3" r="1.18" fill="#8c6fb3"/>
<circle cx="479.2" cy="519.5" r="1.18" fill="#8a59a9"/>
<circle cx="359.9" cy="484.3" r="1.18" fill="#8b65ae"/>
<circle cx="480.0" cy="542.1" r="1.18" fill="#8c75b6"/>
<circle cx="410.9" cy="536.0" r="1.18" fill="#8a52a5"/>
<circle cx="390.2" cy="493.9" r="1.18" fill="#8c68af"/>
<circle cx="373.8" cy="513.6" r="1.18" fill="#8c6cb1"/>
<circle cx="396.9" cy="531.2" r="1.18" fill="#863293"/>
<circle cx="401.3" cy="453.8" r="1.18" fill="#863192"/>
<circle cx="490.3" cy="541.3" r="1.18" fill="#894ea3"/>
<circle cx="375.6" cy="504.2" r="1.18" fill="#8c79b8"/>
<circle cx="416.4" cy="477.8" r="1.18" fill="#8c76b6"/>
<circle cx="385.6" cy="509.7" r="1.18" fill="#832188"/>
<circle cx="430.2" cy="557.1" r="1.18" fill="#8c68b0"/>
<circle cx="418.3" cy="558.7" r="1.18" fill="#832087"/>
<circle cx="476.7" cy="560.7" r="1.18" fill="#894aa1"/>
<circle cx="428.1" cy="504.0" r="1.18" fill="#8c6ab1"/>
<circle cx="419.3" cy="557.1" r="1.18" fill="#8b61ac"/>
<circle cx="484.4" cy="551.8" r="1.18" fill="#8b62ad"/>
<circle cx="453.5" cy="512.9" r="1.18" fill="#88429d"/>
<circle cx="390.4" cy="540.9" r="1.18" fill="#863092"/>
<circle cx="377.0" cy="485.8" r="1.18" fill="#8949a1"/>
<circle cx="479.9" cy="493.9" r="1.18" fill="#8c67af"/>
<circle cx="440.3" cy="546.8" r="1.18" fill="#8c8bc1"/>
<circle cx="463.6" cy="554.0" r="1.18" fill="#821882"/>
<circle cx="404.1" cy="477.3" r="1.18" fill="#85288d"/>
<circle cx="389.3" cy="494.6" r="1.18" fill="#96acd1"/>
<circle cx="438.7" cy="519.1" r="1.18" fill="#863192"/>
<circle cx="387.2" cy="553.9" r="1.18" fill="#88409c"/>
<circle cx="476.9" cy="557.3" r="1.18" fill="#873796"/>
<circle cx="436.2" cy="559.1" r="1.18" fill="#62065f"/>
<circle cx="409.0" cy="548.3" r="1.18" fill="#863293"/>
<circle cx="487.8" cy="552.2" r="1.18" fill="#8c7ab8"/>
<circle cx="385.0" cy="484.9" r="1.18" fill="#8c77b7"/>
<circle cx="444.4" cy="496.5" r="1.18" fill="#7d0e78"/>
<circle cx="387.2" cy="507.2" r="1.18" fill="#84248a"/>
<circle cx="452.3" cy="551.2" r="1.18" fill="#8c88bf"/>
<circle cx="392.9" cy="500.7" r="1.18" fill="#8950a4"/>
<circle cx="379.6" cy="533.0" r="1.18" fill="#650761"/>
<circle cx="453.9" cy="548.2" r="1.18" fill="#84288c"/>
<circle cx="436.3" cy="525.0" r="1.18" fill="#710a6d"/>
<circle cx="463.1" cy="549.1" r="1.18" fill="#85298d"/>
<circle cx="456.3" cy="555.2" r="1.18" fill="#852c8f"/>
<circle cx="381.1" cy="554.1" r="1.18" fill="#84268b"/>
<circle cx="472.9" cy="561.7" r="1.18" fill="#710a6d"/>
<circle cx="409.0" cy="498.9" r="1.18" fill="#831d85"/>
<circle cx="389.7" cy="476.9" r="1.18" fill="#7c0e77"/>
<circle cx="433.5" cy="522.6" r="1.18" fill="#8c78b7"/>
<circle cx="416.1" cy="489.0" r="1.18" fill="#88409c"/>
<circle cx="403.7" cy="501.4" r="1.18" fill="#894ea3"/>
<circle cx="413.7" cy="506.0" r="1.18" fill="#88419d"/>
<circle cx="448.9" cy="557.3" r="1.18" fill="#88439e"/>
<circle cx="448.1" cy="543.0" r="1.18" fill="#85298d"/>
<circle cx="478.1" cy="556.0" r="1.18" fill="#894fa4"/>
<circle cx="400.5" cy="515.0" r="1.18" fill="#770c72"/>
<circle cx="479.3" cy="519.8" r="1.18" fill="#84278c"/>
<circle cx="407.2" cy="473.0" r="1.18" fill="#81117e"/>
<circle cx="378.2" cy="556.1" r="1.18" fill="#8948a0"/>
<circle cx="390.7" cy="487.9" r="1.18" fill="#831b84"/>
<circle cx="390.9" cy="547.6" r="1.18" fill="#61065e"/>
<circle cx="402.3" cy="555.7" r="1.18" fill="#580356"/>
<circle cx="375.4" cy="503.4" r="1.18" fill="#800f7b"/>
<circle cx="468.0" cy="527.1" r="1.18" fill="#7a0d76"/>
<circle cx="461.6" cy="514.6" r="1.18" fill="#7c0e77"/>
<circle cx="377.5" cy="500.1" r="1.18" fill="#7d0e78"/>
<circle cx="382.9" cy="505.3" r="1.18" fill="#852f91"/>
<circle cx="422.6" cy="553.1" r="1.18" fill="#7f0f7b"/>
<circle cx="491.2" cy="499.3" r="1.18" fill="#800f7b"/>
<circle cx="471.0" cy="539.6" r="1.18" fill="#8a59a9"/>
<circle cx="434.0" cy="545.5" r="1.18" fill="#7c0e78"/>
<circle cx="375.1" cy="472.4" r="1.18" fill="#821982"/>
<circle cx="454.2" cy="518.9" r="1.18" fill="#60065d"/>
<circle cx="463.9" cy="538.2" r="1.18" fill="#84288c"/>
<circle cx="406.3" cy="551.2" r="1.18" fill="#831a83"/>
<circle cx="431.5" cy="542.9" r="1.18" fill="#6c0968"/>
<circle cx="447.1" cy="508.2" r="1.18" fill="#5d045a"/>
<circle cx="361.5" cy="514.3" r="1.18" fill="#6e0a6a"/>
<circle cx="452.0" cy="558.5" r="1.18" fill="#831e86"/>
<circle cx="482.8" cy="530.0" r="1.18" fill="#7b0d76"/>
<circle cx="421.8" cy="543.4" r="1.18" fill="#81107d"/>
<circle cx="460.2" cy="543.1" r="1.18" fill="#81107d"/>
<circle cx="411.9" cy="552.2" r="1.18" fill="#821680"/>
<circle cx="366.2" cy="561.2" r="1.18" fill="#670864"/>
<circle cx="389.4" cy="464.4" r="1.18" fill="#750b70"/>
<circle cx="466.1" cy="529.9" r="1.18" fill="#750c71"/>
<circle cx="458.5" cy="494.8" r="1.18" fill="#700a6c"/>
<circle cx="457.8" cy="561.0" r="1.18" fill="#821983"/>
<circle cx="415.3" cy="479.8" r="1.18" fill="#800f7b"/>
<circle cx="403.0" cy="465.1" r="1.18" fill="#50014e"/>
<circle cx="373.7" cy="488.1" r="1.18" fill="#4e004c"/>
<circle cx="365.5" cy="544.4" r="1.18" fill="#5d055a"/>
<circle cx="457.6" cy="507.3" r="1.18" fill="#863696"/>
<circle cx="460.6" cy="512.9" r="1.18" fill="#8a57a8"/>
<circle cx="403.9" cy="514.0" r="1.18" fill="#88409c"/>
<circle cx="381.0" cy="560.4" r="1.18" fill="#8b62ad"/>
<circle cx="373.1" cy="499.8" r="1.18" fill="#821580"/>
<circle cx="360.7" cy="556.1" r="1.18" fill="#852b8e"/>
<circle cx="447.8" cy="527.1" r="1.18" fill="#660762"/>
<circle cx="386.0" cy="489.6" r="1.18" fill="#6d0969"/>
<circle cx="384.9" cy="522.2" r="1.18" fill="#81107d"/>
<circle cx="482.9" cy="555.3" r="1.18" fill="#863494"/>
<circle cx="410.7" cy="467.4" r="1.18" fill="#852b8f"/>
<circle cx="479.3" cy="563.2" r="1.18" fill="#720b6e"/>
<circle cx="406.6" cy="473.5" r="1.18" fill="#5c0459"/>
<circle cx="392.8" cy="495.6" r="1.18" fill="#8b62ad"/>
<circle cx="442.3" cy="548.5" r="1.18" fill="#720b6e"/>
<circle cx="433.9" cy="542.9" r="1.18" fill="#640761"/>
<circle cx="447.8" cy="496.0" r="1.18" fill="#650762"/>
<circle cx="480.2" cy="505.4" r="1.18" fill="#670763"/>
<circle cx="415.6" cy="542.9" r="1.18" fill="#81117e"/>
<circle cx="489.5" cy="510.6" r="1.18" fill="#852c8f"/>
<circle cx="382.0" cy="525.0" r="1.18" fill="#894fa4"/>
<circle cx="397.2" cy="485.9" r="1.18" fill="#690865"/>
<circle cx="453.0" cy="516.4" r="1.18" fill="#540252"/>
<circle cx="451.7" cy="550.4" r="1.18" fill="#7a0d75"/>
<circle cx="394.6" cy="465.3" r="1.18" fill="#852e90"/>
<circle cx="458.7" cy="515.7" r="1.18" fill="#670864"/>
<circle cx="464.6" cy="547.7" r="1.18" fill="#831a83"/>
<circle cx="390.9" cy="499.3" r="1.18" fill="#5d055a"/>
<circle cx="407.2" cy="543.4" r="1.18" fill="#6c0969"/>
<circle cx="379.3" cy="496.3" r="1.18" fill="#62065f"/>
<circle cx="391.3" cy="481.4" r="1.18" fill="#720b6e"/>
<circle cx="388.5" cy="524.3" r="1.18" fill="#50014d"/>
<circle cx="437.2" cy="520.7" r="1.18" fill="#670864"/>
<circle cx="456.6" cy="554.3" r="1.18" fill="#832087"/>
<circle cx="449.6" cy="554.0" r="1.18" fill="#6d0969"/>
<circle cx="393.8" cy="558.8" r="1.18" fill="#831c85"/>
<circle cx="433.1" cy="552.5" r="1.18" fill="#520250"/>
<circle cx="405.2" cy="486.4" r="1.18" fill="#5c0459"/>
<circle cx="389.4" cy="489.2" r="1.18" fill="#740b70"/>
<circle cx="463.3" cy="515.8" r="1.18" fill="#580355"/>
<circle cx="423.1" cy="515.1" r="1.18" fill="#51014f"/>
<circle cx="409.3" cy="540.7" r="1.18" fill="#530251"/>
</g>
<rect x="354.00" y="450.00" width="142.50" height="142.80" fill="none" stroke="#000" stroke-width="1.40"/>
<g stroke="#000" stroke-width="1.40" fill="none">
<line x1="48" y1="155.00" x2="55.6" y2="155.00"/>
<line x1="48" y1="198.40" x2="55.6" y2="198.40"/>
<line x1="48" y1="241.80" x2="55.6" y2="241.80"/>
<line x1="48" y1="285.20" x2="55.6" y2="285.20"/>
<line x1="48" y1="305.70" x2="55.6" y2="305.70"/>
<line x1="48" y1="334.97" x2="55.6" y2="334.97"/>
<line x1="48" y1="364.24" x2="55.6" y2="364.24"/>
<line x1="48" y1="393.51" x2="55.6" y2="393.51"/>
<line x1="48" y1="422.78" x2="55.6" y2="422.78"/>
<line x1="48" y1="479.00" x2="55.6" y2="479.00"/>
<line x1="48" y1="515.00" x2="55.6" y2="515.00"/>
<line x1="48" y1="551.00" x2="55.6" y2="551.00"/>
<line x1="48" y1="587.00" x2="55.6" y2="587.00"/>
<line x1="62.70" y1="592.80" x2="62.70" y2="600.00"/>
<line x1="106.25" y1="592.80" x2="106.25" y2="600.00"/>
<line x1="149.80" y1="592.80" x2="149.80" y2="600.00"/>
<line x1="193.35" y1="592.80" x2="193.35" y2="600.00"/>
<line x1="211.90" y1="592.80" x2="211.90" y2="600.00"/>
<line x1="255.40" y1="592.80" x2="255.40" y2="600.00"/>
<line x1="298.90" y1="592.80" x2="298.90" y2="600.00"/>
<line x1="342.40" y1="592.80" x2="342.40" y2="600.00"/>
<line x1="374.20" y1="592.80" x2="374.20" y2="600.00"/>
<line x1="403.50" y1="592.80" x2="403.50" y2="600.00"/>
<line x1="432.80" y1="592.80" x2="432.80" y2="600.00"/>
<line x1="462.10" y1="592.80" x2="462.10" y2="600.00"/>
<line x1="491.40" y1="592.80" x2="491.40" y2="600.00"/>
<line x1="508.40" y1="593.00" x2="508.40" y2="600.20"/>
<line x1="544.73" y1="593.00" x2="544.73" y2="600.20"/>
<line x1="581.07" y1="593.00" x2="581.07" y2="600.20"/>
<line x1="617.40" y1="593.00" x2="617.40" y2="600.20"/>
<line x1="508.4" y1="593" x2="617.4" y2="593"/>
</g>
<g font-size="12.00" fill="#000" stroke="#000" stroke-width="0.25" text-anchor="middle">
<text transform="translate(39.4,155.00) rotate(-90)">−1.0</text>
<text transform="translate(39.4,198.40) rotate(-90)">−1.5</text>
<text transform="translate(39.4,241.80) rotate(-90)">−2.0</text>
<text transform="translate(39.4,285.20) rotate(-90)">−2.5</text>
<text transform="translate(39.4,305.70) rotate(-90)">6</text>
<text transform="translate(39.4,334.97) rotate(-90)">4</text>
<text transform="translate(39.4,364.24) rotate(-90)">2</text>
<text transform="translate(39.4,393.51) rotate(-90)">0</text>
<text transform="translate(39.4,422.78) rotate(-90)">−2</text>
<text transform="translate(39.4,479.00) rotate(-90)">0</text>
<text transform="translate(39.4,515.00) rotate(-90)">−2</text>
<text transform="translate(39.4,551.00) rotate(-90)">−4</text>
<text transform="translate(39.4,587.00) rotate(-90)">−6</text>
<text x="62.70" y="618.0">−2.5</text>
<text x="106.25" y="618.0">−2.0</text>
<text x="149.80" y="618.0">−1.5</text>
<text x="193.35" y="618.0">−1.0</text>
<text x="211.90" y="618.0">−2.5</text>
<text x="255.40" y="618.0">−2.0</text>
<text x="298.90" y="618.0">−1.5</text>
<text x="342.40" y="618.0">−1.0</text>
<text x="374.20" y="618.0">−2</text>
<text x="403.50" y="618.0">0</text>
<text x="432.80" y="618.0">2</text>
<text x="462.10" y="618.0">4</text>
<text x="491.40" y="618.0">6</text>
<text x="508.40" y="618.0">−6</text>
<text x="544.73" y="618.0">−4</text>
<text x="581.07" y="618.0">−2</text>
<text x="617.40" y="618.0">0</text>
</g>
<g fill="#000" stroke="#000" stroke-width="0.3" text-anchor="middle">
<text x="127.00" y="636.0"><tspan font-size="18.20">d</tspan><tspan font-size="12.50" dy="3.0">Tet</tspan></text>
<text transform="translate(14.7,71.45) rotate(-90)"><tspan font-size="18.20">d</tspan><tspan font-size="12.50" dy="3.0">Tet</tspan></text>
<text x="276.30" y="636.0"><tspan font-size="18.20">d</tspan><tspan font-size="12.50" dy="3.0">C</tspan></text>
<text transform="translate(14.7,221.45) rotate(-90)"><tspan font-size="18.20">d</tspan><tspan font-size="12.50" dy="3.0">C</tspan></text>
<text x="425.55" y="636.0"><tspan font-size="18.20" font-family="Liberation Serif, serif">θ</tspan><tspan font-size="12.50" dy="3.0">Tet</tspan></text>
<text transform="translate(14.7,371.45) rotate(-90)"><tspan font-size="18.20" font-family="Liberation Serif, serif">θ</tspan><tspan font-size="12.50" dy="3.0">Tet</tspan></text>
<text x="574.70" y="636.0"><tspan font-size="18.20" font-family="Liberation Serif, serif">θ</tspan><tspan font-size="12.50" dy="3.0">Tup</tspan></text>
<text transform="translate(14.7,521.40) rotate(-90)"><tspan font-size="18.20" font-family="Liberation Serif, serif">θ</tspan><tspan font-size="12.50" dy="3.0">Tup</tspan></text>
</g>
<rect x="602.6" y="141" width="27.6" height="327" fill="url(#cb)" stroke="#000" stroke-width="1.40"/>
<g stroke="#000" stroke-width="1.40">
<line x1="630.2" y1="141.00" x2="641" y2="141.00"/>
<line x1="630.2" y1="222.75" x2="641" y2="222.75"/>
<line x1="630.2" y1="304.50" x2="641" y2="304.50"/>
<line x1="630.2" y1="386.25" x2="641" y2="386.25"/>
<line x1="630.2" y1="468.00" x2="641" y2="468.00"/>
</g>
<g font-size="18.20" fill="#000" stroke="#000" stroke-width="0.3">
<text x="651.3" y="147.60">6</text>
<text x="651.3" y="229.35">4.51</text>
<text x="651.3" y="311.10">3.02</text>
<text x="651.3" y="392.85">1.54</text>
<text x="651.3" y="474.60">0.05</text>
</g>
</svg>
</body></html>
